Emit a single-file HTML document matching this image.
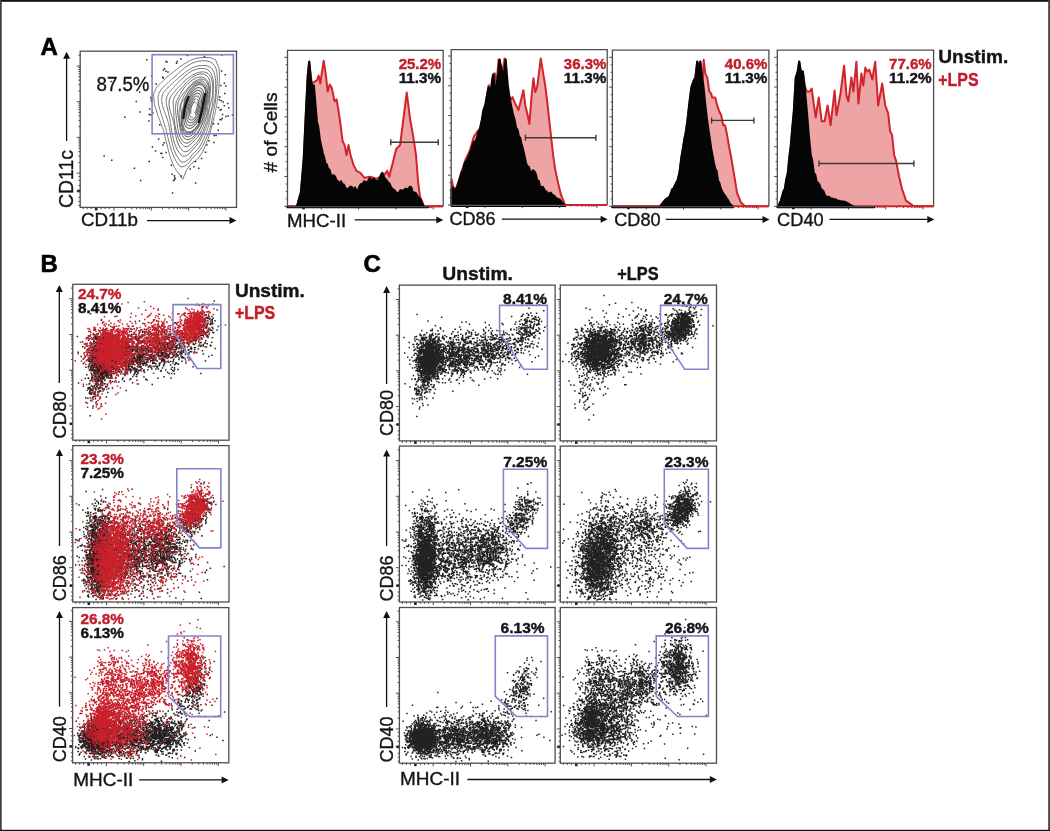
<!DOCTYPE html>
<html><head><meta charset="utf-8">
<style>
html,body{margin:0;padding:0;background:#fff;}
body{width:1050px;height:831px;overflow:hidden;position:relative;}
#cv{position:absolute;left:0;top:0;}
svg{position:absolute;left:0;top:0;filter:blur(0.35px);}
text{font-family:"Liberation Sans", sans-serif;}
</style></head><body>
<svg width="1050" height="831" viewBox="0 0 1050 831">
<rect x="0" y="0" width="1050" height="1.8" fill="#111"/>
<rect x="0" y="0" width="1.7" height="831" fill="#3f3f3f"/>
<rect x="1048.2" y="0" width="1.8" height="831" fill="#3f3f3f"/>
<rect x="0" y="829.8" width="1050" height="1.2" fill="#111"/>
<text x="40.5" y="55.3" font-size="24" fill="#000" font-weight="bold" stroke="#000" stroke-width="0.6">A</text>
<text x="40.6" y="272" font-size="24" fill="#000" font-weight="bold" stroke="#000" stroke-width="0.6">B</text>
<text x="363.5" y="272.3" font-size="24" fill="#000" font-weight="bold" stroke="#000" stroke-width="0.6">C</text>
<path d="M216.1 108L215.9 108.9L215.7 109.7L215.5 110.5L215.4 111.4L215.2 112.2L215 113L214.8 113.9L214.7 114.7L214.5 115.6L214.3 116.4L214.1 117.3L213.9 118.1L213.7 119L213.4 119.9L213.2 120.8L213 121.8L212.7 122.8L212.5 123.8L212.2 124.8L211.9 125.9L211.6 127.1L211.3 128.3L211 129.6L210.7 130.9L210.2 132.3L209.7 133.7L209.2 135.2L208.7 136.8L208.1 138.6L207.4 140.5L206.7 142.4L205.8 144.4L204.9 146.6L203.9 149L202.7 151.8L201.3 154L199.7 156.1L198 158.4L196.1 160.3L194 161.8L191.8 163.5L189.4 165.9L186.7 169.7L182.7 179.3L180.5 175.8L178.4 173L176.4 170.5L174.6 167.7L173.1 164.7L171.8 161.5L170.7 158.6L169.8 155.6L169 152.6L168.3 149.9L167.7 147.4L167.1 145L166.5 142.8L166 140.7L165.5 138.8L165.1 136.9L164.7 135.1L164.2 133.4L163.8 131.8L163.4 130.2L162.8 128.8L162.3 127.4L161.8 126L161.3 124.7L160.8 123.3L160.3 122L159.8 120.6L159.3 119.3L158.7 117.9L158.3 116.6L157.8 115.2L157.4 113.8L157 112.4L156.5 111L156.1 109.5L155.6 108L155.1 106.5L154.6 104.9L154.3 103.3L154.1 101.7L154 100L153.9 98.4L153.7 96.6L153.6 94.9L153.8 93.2L154.5 91.7L155.3 90.1L156 88.6L156.7 87.1L157.9 85.9L159.1 84.7L160.3 83.5L161.5 82.3L162.6 81.2L163.8 80L164.9 78.9L166 77.8L167.2 76.7L168.5 75.7L169.8 74.7L171.1 73.7L172.4 72.7L173.7 71.7L175 70.7L176.3 69.6L177.7 68.6L179.1 67.5L180.5 66.4L182 65.3L183.5 64.3L185.1 63.4L186.8 62.4L188.5 61.3L190.3 60.5L192.1 59.8L194 59L196 58.4L197.9 58.1L199.9 57.8L202 57.5L204.1 57.4L206.1 57.5L208.2 57.5L210.4 57.6L212.3 58.4L214.2 59.3L215.9 60.4L216.9 63L217.9 65.4L218.8 67.6L219.2 70.3L219.3 73.1L219.5 75.7L219.4 78.3L219.3 80.7L219.1 82.9L219 84.9L218.9 86.8L218.7 88.5L218.6 90.1L218.5 91.6L218.4 93.1L218.2 94.4L218 95.8L217.8 97L217.7 98.2L217.5 99.3L217.3 100.4L217.2 101.5L217.1 102.5L216.9 103.4L216.8 104.4L216.6 105.3L216.5 106.2L216.3 107.1Z" fill="none" stroke="#787878" stroke-width="1.0"/>
<path d="M214.3 108L214.1 108.8L213.9 109.6L213.7 110.3L213.6 111.1L213.4 111.9L213.3 112.6L213.1 113.4L213 114.2L212.8 115L212.7 115.8L212.6 116.6L212.4 117.4L212.3 118.2L212.1 119.1L212 120L211.8 120.9L211.6 121.9L211.4 122.9L211.2 123.9L210.9 124.9L210.7 126L210.4 127.2L210 128.3L209.6 129.5L209.2 130.8L208.7 132.1L208.2 133.4L207.7 134.8L207.1 136.3L206.4 137.9L205.7 139.6L204.8 141.4L204 143.3L203 145.3L201.8 147.3L200.6 149.4L199.1 151.3L197.5 153.1L195.8 154.8L194 156.5L192 158.5L189.8 161.9L187.3 164.4L184.8 166.1L182.3 166.9L179.9 166.6L178.2 164.2L176.5 161.7L175.1 159.3L173.8 156.7L172.8 154.1L171.8 151.5L171 149L170.3 146.6L169.7 144.3L169.1 142.2L168.6 140.2L168.1 138.3L167.7 136.5L167.3 134.7L166.9 133.1L166.5 131.5L166.1 130L165.7 128.5L165.3 127.2L164.9 125.8L164.5 124.5L164.1 123.2L163.7 122L163.3 120.7L162.9 119.5L162.5 118.2L162.1 117L161.7 115.7L161.4 114.5L161 113.2L160.6 112L160.2 110.7L159.9 109.3L159.5 108L159.1 106.6L158.7 105.2L158.5 103.8L158.3 102.3L158.2 100.9L158.1 99.4L158 97.9L158.2 96.4L158.5 94.9L158.9 93.5L159.6 92.1L160.3 90.8L161.2 89.6L162.1 88.5L163.1 87.4L164.2 86.4L165.3 85.3L166.3 84.4L167.3 83.4L168.4 82.4L169.4 81.4L170.5 80.4L171.5 79.5L172.6 78.5L173.7 77.6L174.8 76.7L175.9 75.7L177 74.7L178.1 73.6L179.3 72.5L180.5 71.4L181.8 70.3L183.1 69.2L184.4 68.1L185.9 67L187.3 66L188.9 65L190.5 64.1L192.2 63.2L194 62.5L195.8 61.9L197.7 61.4L199.6 61.1L201.5 60.9L203.4 60.8L205.3 60.8L207.2 61L209.1 61.5L210.9 62.2L212.5 63.3L213.9 64.9L215.1 66.7L216 68.8L216.6 71.2L217 73.6L217.2 76L217.3 78.5L217.2 80.8L217.2 83L217 85L216.9 86.9L216.7 88.6L216.6 90.2L216.5 91.7L216.4 93.1L216.2 94.4L216.1 95.6L216 96.8L215.9 97.9L215.7 99L215.6 100L215.5 101L215.3 102L215.2 102.9L215.1 103.8L214.9 104.7L214.8 105.5L214.6 106.4L214.5 107.2Z" fill="none" stroke="#747474" stroke-width="1.0"/>
<path d="M212.6 108L212.4 108.7L212.1 109.4L211.9 110.1L211.7 110.8L211.5 111.5L211.3 112.2L211.1 112.8L211 113.5L210.8 114.2L210.7 114.9L210.5 115.6L210.4 116.4L210.3 117.1L210.1 117.9L210 118.7L209.9 119.5L209.7 120.4L209.5 121.3L209.3 122.2L209.1 123.1L208.9 124.1L208.7 125.2L208.4 126.3L208.1 127.4L207.7 128.5L207.3 129.7L206.9 131L206.4 132.3L205.9 133.7L205.3 135.2L204.6 136.8L203.9 138.5L203.1 140.3L202.2 142.2L201.2 144.1L200 146.1L198.7 147.9L197.3 149.6L195.7 151.2L194 152.9L192.2 154.7L190.1 157.7L187.9 159.9L185.5 161.4L183.2 162.2L181.1 161.9L179.4 159.8L177.9 157.6L176.5 155.4L175.4 153L174.4 150.6L173.5 148.1L172.8 145.8L172.3 143.5L171.8 141.3L171.3 139.2L170.9 137.2L170.6 135.4L170.3 133.6L170 132L169.8 130.4L169.6 128.9L169.3 127.4L169.1 126.1L168.8 124.8L168.5 123.6L168.2 122.4L167.9 121.3L167.5 120.2L167.2 119.1L166.8 118L166.4 117L166 115.9L165.6 114.8L165.3 113.7L164.9 112.6L164.5 111.5L164 110.4L163.6 109.2L163.2 108L162.8 106.8L162.5 105.5L162.2 104.2L162 102.9L161.8 101.6L161.7 100.3L161.7 98.9L161.8 97.5L162.1 96.2L162.5 94.9L163 93.7L163.7 92.5L164.4 91.4L165.2 90.4L166.1 89.4L167.1 88.4L168 87.5L169 86.6L169.9 85.7L170.8 84.8L171.7 83.9L172.7 83L173.7 82.2L174.6 81.3L175.6 80.5L176.6 79.6L177.6 78.8L178.7 77.9L179.7 77L180.8 76L181.9 75.1L183 74.1L184.2 73.1L185.4 72.2L186.7 71.2L188 70.3L189.4 69.5L190.9 68.6L192.4 67.9L194 67.2L195.6 66.6L197.3 66.2L199 65.8L200.7 65.6L202.5 65.5L204.2 65.4L206 65.6L207.7 66L209.3 66.6L210.8 67.5L212 68.9L213.1 70.5L214 72.3L214.6 74.4L215.1 76.4L215.4 78.5L215.6 80.7L215.6 82.7L215.7 84.6L215.6 86.4L215.6 88L215.6 89.6L215.5 91L215.5 92.4L215.4 93.7L215.4 94.9L215.3 96.1L215.2 97.2L215 98.3L214.9 99.4L214.7 100.4L214.5 101.3L214.3 102.3L214.1 103.2L213.9 104L213.7 104.9L213.4 105.7L213.2 106.5L212.9 107.3Z" fill="none" stroke="#717171" stroke-width="1.0"/>
<path d="M211.8 108L211.6 108.7L211.4 109.4L211.2 110L211 110.7L210.8 111.3L210.6 112L210.4 112.6L210.3 113.3L210.1 113.9L209.9 114.6L209.7 115.3L209.6 115.9L209.4 116.6L209.2 117.3L209 118L208.8 118.8L208.6 119.5L208.4 120.3L208.2 121.1L207.9 121.9L207.7 122.8L207.4 123.7L207.1 124.6L206.8 125.6L206.4 126.6L206 127.6L205.6 128.7L205.1 129.9L204.6 131.1L204.1 132.4L203.5 133.8L202.9 135.2L202.1 136.8L201.3 138.4L200.4 140.1L199.4 141.8L198.2 143.5L196.9 145L195.5 146.5L194 148.1L192.3 150.1L190.5 152.2L188.5 154.2L186.5 155.6L184.4 156.2L182.5 155.9L180.8 154.7L179.4 152.9L178.1 151L177 149.1L176 147L175.2 144.9L174.5 142.9L173.9 140.9L173.3 138.9L172.9 137.1L172.5 135.3L172.1 133.6L171.8 132L171.6 130.4L171.3 128.9L171.1 127.5L170.9 126.2L170.8 124.9L170.6 123.7L170.4 122.5L170.2 121.3L170 120.2L169.8 119.2L169.6 118.1L169.4 117.1L169.2 116.1L169 115.1L168.7 114.1L168.5 113.1L168.3 112.1L168.1 111.1L167.8 110.1L167.5 109L167.3 108L167 106.9L166.8 105.9L166.6 104.8L166.4 103.6L166.3 102.5L166.2 101.3L166.2 100.2L166.3 99L166.5 97.9L166.8 96.7L167.3 95.7L167.8 94.6L168.4 93.6L169 92.7L169.7 91.8L170.5 90.9L171.2 90.1L172 89.2L172.7 88.4L173.5 87.5L174.3 86.6L175 85.8L175.8 85L176.7 84.1L177.5 83.3L178.3 82.4L179.2 81.6L180.1 80.7L181 79.8L181.9 78.8L182.9 77.9L183.9 76.9L185 76L186.1 75L187.3 74.1L188.5 73.2L189.8 72.3L191.1 71.5L192.5 70.7L194 70.1L195.5 69.5L197.1 69.1L198.6 68.7L200.3 68.5L201.9 68.5L203.5 68.5L205.1 68.8L206.6 69.3L208 70L209.3 71L210.4 72.3L211.4 73.9L212.1 75.7L212.7 77.6L213 79.5L213.3 81.5L213.4 83.4L213.4 85.3L213.4 87L213.4 88.6L213.3 90.2L213.3 91.6L213.2 92.8L213.2 94.1L213.2 95.2L213.1 96.3L213.1 97.3L213 98.3L213 99.2L212.9 100.2L212.9 101L212.8 101.9L212.7 102.7L212.6 103.5L212.5 104.3L212.4 105.1L212.3 105.8L212.1 106.6L211.9 107.3Z" fill="none" stroke="#6e6e6e" stroke-width="1.0"/>
<path d="M209.4 108L209.3 108.6L209.1 109.2L209 109.8L208.9 110.4L208.8 110.9L208.7 111.5L208.6 112.1L208.6 112.7L208.5 113.3L208.4 114L208.3 114.6L208.2 115.2L208.1 115.9L208 116.6L207.8 117.2L207.7 117.9L207.5 118.6L207.3 119.4L207.1 120.1L206.9 120.9L206.6 121.7L206.4 122.5L206.1 123.3L205.8 124.2L205.5 125.2L205.1 126.1L204.7 127.2L204.3 128.2L203.9 129.4L203.4 130.6L202.8 131.9L202.2 133.3L201.6 134.8L200.8 136.3L199.9 137.9L199 139.4L197.9 140.9L196.7 142.4L195.4 143.8L194 145.2L192.5 146.8L190.8 148.6L189 150.3L187.1 151.4L185.3 151.8L183.6 151.4L182.1 150.3L180.8 148.7L179.6 146.9L178.7 145L177.8 143.1L177.1 141.1L176.6 139.1L176.1 137.2L175.7 135.4L175.4 133.6L175.1 131.9L174.9 130.4L174.7 128.9L174.5 127.5L174.3 126.2L174.1 125L173.9 123.8L173.7 122.7L173.5 121.7L173.2 120.7L173 119.8L172.7 118.9L172.4 118L172.1 117.1L171.8 116.2L171.5 115.3L171.2 114.4L170.9 113.5L170.6 112.6L170.4 111.7L170.1 110.8L169.9 109.9L169.7 109L169.5 108L169.3 107L169.2 106L169.1 105.1L169 104L169.1 103L169.1 102L169.2 101L169.4 100L169.6 99L170 98.1L170.4 97.1L170.9 96.2L171.5 95.4L172.1 94.6L172.7 93.8L173.4 93L174 92.3L174.7 91.5L175.3 90.8L176 90L176.6 89.2L177.3 88.5L178 87.7L178.7 87L179.4 86.2L180.2 85.5L180.9 84.7L181.7 83.9L182.5 83.1L183.3 82.3L184.2 81.4L185.1 80.6L186 79.7L187 78.9L188 78.1L189.1 77.2L190.3 76.4L191.5 75.6L192.7 74.9L194 74.2L195.4 73.5L196.8 73L198.2 72.5L199.7 72.2L201.2 72L202.7 71.9L204.1 72L205.6 72.3L207 72.9L208.2 73.7L209.3 74.8L210.3 76.1L211 77.6L211.6 79.2L212.1 81L212.4 82.7L212.6 84.4L212.7 86.1L212.7 87.7L212.7 89.3L212.7 90.7L212.6 92.1L212.6 93.4L212.5 94.6L212.4 95.7L212.2 96.8L212 97.9L211.9 98.9L211.7 99.9L211.4 100.8L211.2 101.7L211 102.5L210.8 103.3L210.5 104L210.3 104.8L210.1 105.4L209.9 106.1L209.7 106.8L209.6 107.4Z" fill="none" stroke="#6a6a6a" stroke-width="1.0"/>
<path d="M209.3 108L209.2 108.6L209.1 109.2L209 109.8L208.8 110.3L208.6 110.9L208.5 111.5L208.3 112L208.1 112.6L207.9 113.1L207.7 113.7L207.5 114.2L207.3 114.8L207.1 115.3L206.9 115.9L206.7 116.5L206.5 117.1L206.3 117.7L206.1 118.3L205.9 119L205.7 119.7L205.5 120.4L205.2 121.2L205 121.9L204.7 122.7L204.4 123.6L204.1 124.5L203.7 125.4L203.4 126.4L202.9 127.4L202.5 128.4L202 129.6L201.4 130.7L200.8 132L200.1 133.3L199.3 134.6L198.4 135.9L197.5 137.2L196.4 138.4L195.2 139.6L194 140.8L192.7 142.3L191.2 143.8L189.6 145.2L187.9 146.2L186.3 146.7L184.8 146.5L183.4 145.6L182.2 144.4L181.1 143L180.1 141.6L179.2 140L178.5 138.4L177.9 136.8L177.3 135.2L176.9 133.6L176.5 132.1L176.1 130.7L175.8 129.3L175.5 128L175.3 126.7L175.1 125.5L174.9 124.3L174.7 123.2L174.6 122.1L174.4 121.1L174.3 120.1L174.2 119.1L174.1 118.1L174 117.2L174 116.3L173.9 115.4L173.9 114.5L173.9 113.7L173.8 112.8L173.8 112L173.8 111.2L173.7 110.4L173.7 109.6L173.6 108.8L173.5 108L173.4 107.2L173.4 106.4L173.3 105.5L173.2 104.7L173.2 103.9L173.2 103L173.2 102.1L173.2 101.2L173.3 100.4L173.5 99.5L173.8 98.7L174.1 97.9L174.5 97.1L174.9 96.3L175.4 95.6L175.9 94.9L176.4 94.1L177 93.4L177.5 92.7L178 92L178.6 91.3L179.2 90.6L179.8 90L180.4 89.3L181 88.6L181.7 87.9L182.3 87.1L183 86.4L183.7 85.6L184.4 84.8L185.1 84L185.9 83.1L186.7 82.2L187.6 81.3L188.5 80.4L189.5 79.5L190.5 78.7L191.6 77.8L192.8 77L194 76.2L195.3 75.5L196.6 75L198 74.5L199.4 74.2L200.8 74L202.2 74L203.5 74.2L204.8 74.6L206.1 75.3L207.2 76.2L208.1 77.4L208.9 78.8L209.5 80.4L209.9 82L210.2 83.8L210.4 85.5L210.5 87.1L210.4 88.7L210.4 90.3L210.3 91.7L210.2 93L210.1 94.2L210.1 95.3L210 96.4L209.9 97.4L209.9 98.3L209.8 99.1L209.8 100L209.7 100.7L209.7 101.5L209.7 102.2L209.7 102.9L209.7 103.6L209.7 104.2L209.6 104.9L209.6 105.5L209.6 106.2L209.5 106.8L209.4 107.4Z" fill="none" stroke="#676767" stroke-width="1.0"/>
<path d="M207.7 108L207.6 108.5L207.6 109.1L207.5 109.6L207.5 110.1L207.5 110.7L207.4 111.2L207.3 111.8L207.3 112.3L207.2 112.9L207.1 113.4L206.9 114L206.8 114.5L206.6 115.1L206.4 115.6L206.2 116.2L206 116.7L205.8 117.3L205.5 117.8L205.2 118.4L204.9 118.9L204.7 119.5L204.4 120.1L204 120.7L203.7 121.4L203.4 122.1L203 122.8L202.7 123.5L202.3 124.3L201.9 125.2L201.5 126.1L201.1 127.1L200.6 128.2L200 129.3L199.4 130.5L198.7 131.8L198 133L197.1 134.3L196.2 135.5L195.1 136.8L194 138.1L192.8 139.4L191.4 140.7L190 141.8L188.5 142.7L187 143.1L185.6 143L184.3 142.5L183.1 141.6L182.1 140.4L181.2 139L180.4 137.6L179.7 136.1L179.2 134.5L178.7 133L178.3 131.5L178 130L177.8 128.6L177.6 127.3L177.4 126L177.2 124.8L177.1 123.6L177 122.5L176.9 121.5L176.8 120.5L176.6 119.6L176.5 118.7L176.4 117.9L176.3 117L176.2 116.2L176.1 115.4L176 114.7L175.9 113.9L175.8 113.1L175.7 112.4L175.7 111.7L175.6 110.9L175.6 110.2L175.5 109.5L175.5 108.7L175.5 108L175.6 107.3L175.6 106.6L175.6 105.8L175.7 105.1L175.8 104.4L175.9 103.7L176.1 102.9L176.2 102.2L176.4 101.5L176.7 100.8L177 100.1L177.3 99.5L177.6 98.8L178 98.2L178.3 97.5L178.7 96.9L179.1 96.2L179.4 95.5L179.8 94.9L180.2 94.2L180.6 93.5L181 92.7L181.4 92L181.8 91.3L182.3 90.5L182.8 89.8L183.4 89L183.9 88.2L184.5 87.4L185.2 86.7L185.8 85.9L186.5 85.1L187.3 84.3L188.1 83.5L189 82.7L189.9 81.9L190.8 81.1L191.8 80.4L192.9 79.7L194 79L195.2 78.4L196.4 77.9L197.6 77.5L198.9 77.2L200.1 77.1L201.4 77.1L202.7 77.3L203.8 77.7L204.9 78.3L205.9 79.2L206.8 80.2L207.6 81.4L208.2 82.7L208.6 84.1L209 85.6L209.2 87.1L209.4 88.5L209.5 89.9L209.5 91.3L209.5 92.5L209.4 93.7L209.4 94.8L209.3 95.9L209.3 96.9L209.2 97.9L209.1 98.8L209 99.6L208.8 100.4L208.7 101.2L208.6 102L208.5 102.7L208.3 103.3L208.2 104L208.1 104.6L208 105.2L208 105.8L207.9 106.4L207.8 106.9L207.7 107.5Z" fill="none" stroke="#646464" stroke-width="1.0"/>
<path d="M206.4 108L206.4 108.5L206.3 109L206.2 109.4L206.1 109.9L206 110.4L206 110.9L205.9 111.3L205.8 111.8L205.6 112.3L205.5 112.8L205.4 113.2L205.2 113.7L205.1 114.2L204.9 114.7L204.8 115.2L204.6 115.7L204.4 116.2L204.3 116.8L204.1 117.3L203.9 117.9L203.7 118.5L203.5 119.2L203.3 119.8L203.1 120.6L202.9 121.3L202.6 122.1L202.3 122.9L202 123.7L201.7 124.6L201.3 125.6L200.8 126.5L200.4 127.6L199.8 128.6L199.2 129.7L198.5 130.8L197.8 131.9L197 133L196 134L195.1 135L194 136.1L192.9 137.1L191.6 138.1L190.3 138.9L189 139.5L187.7 139.7L186.4 139.5L185.3 138.9L184.2 138.1L183.3 136.9L182.5 135.7L181.9 134.4L181.3 133L180.8 131.5L180.4 130.1L180.1 128.8L179.9 127.5L179.6 126.2L179.5 125L179.3 123.9L179.1 122.9L179 121.9L178.9 120.9L178.7 120L178.6 119.2L178.5 118.4L178.3 117.6L178.2 116.9L178.1 116.1L177.9 115.4L177.8 114.7L177.7 114L177.6 113.3L177.6 112.6L177.5 112L177.5 111.3L177.5 110.6L177.5 110L177.5 109.3L177.5 108.6L177.5 108L177.5 107.4L177.6 106.7L177.6 106.1L177.7 105.4L177.8 104.8L177.8 104.1L178 103.5L178.1 102.8L178.2 102.2L178.4 101.6L178.7 100.9L178.9 100.3L179.2 99.7L179.5 99.1L179.8 98.5L180.2 98L180.5 97.4L180.9 96.8L181.3 96.2L181.7 95.7L182.1 95.1L182.5 94.5L182.9 94L183.4 93.4L183.9 92.8L184.3 92.2L184.8 91.7L185.4 91.1L185.9 90.4L186.5 89.8L187 89.1L187.6 88.4L188.3 87.7L188.9 86.9L189.6 86.1L190.4 85.3L191.2 84.5L192.1 83.7L193 82.8L194 82L195.1 81.3L196.2 80.6L197.3 80L198.5 79.5L199.7 79.2L201 79L202.2 79.1L203.3 79.3L204.4 79.8L205.4 80.5L206.2 81.5L207 82.5L207.6 83.8L208 85.1L208.4 86.4L208.7 87.8L208.8 89.2L208.9 90.6L208.9 91.9L208.9 93.1L208.8 94.3L208.7 95.4L208.6 96.5L208.5 97.5L208.3 98.4L208.2 99.3L208 100.2L207.8 100.9L207.7 101.7L207.5 102.4L207.4 103.1L207.2 103.7L207.1 104.3L207 104.9L206.9 105.4L206.8 106L206.7 106.5L206.6 107L206.5 107.5Z" fill="none" stroke="#606060" stroke-width="1.0"/>
<path d="M205.8 108L205.9 108.5L205.9 108.9L205.9 109.4L205.8 109.9L205.8 110.4L205.8 110.8L205.7 111.3L205.7 111.8L205.6 112.3L205.5 112.7L205.3 113.2L205.2 113.7L205 114.2L204.8 114.6L204.6 115.1L204.4 115.5L204.2 116L203.9 116.5L203.7 116.9L203.4 117.4L203.2 117.9L202.9 118.4L202.6 119L202.4 119.5L202.1 120.1L201.8 120.7L201.5 121.4L201.2 122.1L200.8 122.8L200.4 123.6L200.1 124.4L199.6 125.3L199.1 126.2L198.6 127.2L198 128.1L197.3 129.1L196.6 130.2L195.8 131.1L194.9 132.1L194 133.1L193 134.1L191.9 135L190.7 135.8L189.5 136.4L188.3 136.7L187.1 136.6L186 136.3L185 135.6L184.1 134.7L183.3 133.7L182.7 132.6L182.1 131.4L181.6 130.1L181.2 128.9L180.9 127.6L180.6 126.4L180.4 125.2L180.2 124.1L180.1 123.1L179.9 122.1L179.8 121.1L179.7 120.2L179.6 119.4L179.5 118.6L179.4 117.8L179.3 117L179.2 116.3L179.1 115.6L179.1 114.9L179 114.2L179 113.5L179 112.9L179 112.2L179.1 111.6L179.1 111L179.2 110.3L179.3 109.7L179.4 109.1L179.5 108.6L179.6 108L179.8 107.4L179.9 106.9L180.1 106.4L180.2 105.8L180.4 105.3L180.5 104.8L180.7 104.2L180.8 103.7L181 103.2L181.2 102.7L181.4 102.2L181.6 101.7L181.8 101.2L182 100.6L182.2 100.1L182.4 99.6L182.6 99L182.8 98.5L183.1 97.9L183.3 97.3L183.6 96.7L183.8 96.1L184.1 95.5L184.5 94.9L184.8 94.3L185.2 93.6L185.6 93L186 92.3L186.4 91.6L186.9 90.9L187.4 90.2L188 89.5L188.6 88.8L189.2 88L189.9 87.2L190.6 86.4L191.4 85.7L192.2 84.9L193.1 84.1L194 83.4L195 82.7L196 82L197.1 81.5L198.3 81.1L199.4 80.9L200.5 80.8L201.6 80.9L202.7 81.3L203.7 81.8L204.5 82.6L205.3 83.5L205.9 84.6L206.5 85.8L206.9 87L207.2 88.3L207.4 89.6L207.5 90.9L207.6 92.1L207.6 93.3L207.5 94.5L207.5 95.5L207.4 96.6L207.3 97.5L207.1 98.5L207 99.3L206.9 100.1L206.7 100.9L206.6 101.6L206.4 102.3L206.3 102.9L206.2 103.5L206.1 104.1L206 104.6L206 105.1L205.9 105.6L205.9 106.1L205.9 106.6L205.8 107.1L205.8 107.5Z" fill="none" stroke="#5d5d5d" stroke-width="1.0"/>
<path d="M204.7 108L204.6 108.4L204.4 108.8L204.3 109.2L204.2 109.6L204 110L204 110.4L203.9 110.8L203.8 111.2L203.8 111.6L203.7 112L203.7 112.5L203.7 112.9L203.6 113.4L203.6 113.9L203.5 114.4L203.4 114.9L203.4 115.4L203.3 115.9L203.1 116.4L203 117L202.8 117.5L202.6 118.1L202.4 118.7L202.2 119.3L201.9 119.9L201.6 120.5L201.3 121.1L201 121.7L200.6 122.4L200.2 123.1L199.8 123.8L199.4 124.6L198.9 125.3L198.4 126.2L197.8 127L197.1 127.9L196.5 128.7L195.7 129.6L194.9 130.5L194 131.4L193 132.3L192 133.1L191 133.7L189.8 134.2L188.7 134.5L187.6 134.5L186.6 134.3L185.6 133.8L184.7 133.1L184 132.2L183.3 131.2L182.8 130L182.3 128.8L182 127.6L181.7 126.4L181.5 125.2L181.4 124L181.3 122.9L181.2 121.8L181.2 120.8L181.2 119.8L181.2 118.9L181.2 118.1L181.3 117.3L181.3 116.5L181.3 115.8L181.3 115.1L181.3 114.5L181.3 113.9L181.3 113.3L181.2 112.7L181.2 112.2L181.1 111.6L181.1 111.1L181 110.6L181 110.1L180.9 109.6L180.8 109L180.8 108.5L180.8 108L180.8 107.5L180.8 107L180.8 106.4L180.9 105.9L180.9 105.4L181 104.9L181.2 104.4L181.4 103.9L181.6 103.4L181.8 102.9L182 102.5L182.3 102L182.6 101.6L182.9 101.2L183.2 100.8L183.5 100.3L183.8 99.9L184.1 99.5L184.3 99.1L184.6 98.6L184.9 98.2L185.2 97.7L185.5 97.2L185.8 96.7L186.1 96.1L186.4 95.6L186.7 95L187 94.3L187.4 93.7L187.8 93L188.2 92.3L188.6 91.5L189.1 90.8L189.7 90L190.3 89.2L190.9 88.3L191.6 87.5L192.3 86.7L193.1 85.9L194 85.1L194.9 84.4L195.9 83.8L196.9 83.3L198 82.9L199 82.6L200.1 82.6L201.1 82.7L202.1 83.1L203 83.6L203.8 84.3L204.5 85.2L205.1 86.2L205.6 87.3L206 88.4L206.3 89.5L206.6 90.7L206.8 91.8L206.9 92.9L207 93.9L207.1 94.9L207.1 95.9L207.2 96.8L207.2 97.6L207.1 98.5L207.1 99.2L207 100L207 100.7L206.9 101.4L206.7 102.1L206.6 102.8L206.4 103.4L206.3 104L206.1 104.6L205.9 105.1L205.7 105.7L205.5 106.2L205.3 106.7L205.1 107.1L204.9 107.6Z" fill="none" stroke="#5a5a5a" stroke-width="1.0"/>
<path d="M205.2 108L205.2 108.4L205.2 108.9L205.1 109.3L205.1 109.8L205 110.2L204.9 110.6L204.8 111L204.6 111.5L204.5 111.9L204.3 112.3L204.1 112.7L203.9 113.1L203.7 113.4L203.5 113.8L203.2 114.2L203 114.5L202.8 114.9L202.5 115.3L202.3 115.7L202.1 116.1L201.8 116.5L201.6 116.9L201.4 117.3L201.1 117.8L200.9 118.3L200.7 118.9L200.4 119.5L200.2 120.1L199.9 120.7L199.6 121.4L199.2 122.2L198.9 123L198.4 123.8L198 124.6L197.5 125.5L196.9 126.4L196.3 127.3L195.6 128.2L194.8 129.1L194 130L193.1 130.8L192.1 131.6L191.1 132.2L190.1 132.6L189 132.9L188 132.9L187 132.7L186.1 132.3L185.3 131.7L184.5 130.9L183.9 130L183.3 128.9L182.9 127.9L182.5 126.8L182.2 125.6L182 124.5L181.8 123.5L181.7 122.4L181.6 121.5L181.5 120.5L181.4 119.6L181.4 118.8L181.3 118L181.3 117.2L181.3 116.5L181.3 115.8L181.4 115.1L181.4 114.4L181.5 113.8L181.5 113.2L181.6 112.6L181.7 112L181.9 111.4L182 110.9L182.1 110.4L182.3 109.9L182.5 109.4L182.6 108.9L182.8 108.4L183 108L183.1 107.6L183.3 107.2L183.4 106.7L183.5 106.3L183.7 105.9L183.8 105.5L183.9 105.1L184 104.7L184 104.3L184.1 103.9L184.2 103.5L184.2 103L184.3 102.6L184.4 102.1L184.5 101.6L184.6 101.1L184.7 100.6L184.8 100.1L184.9 99.6L185 99L185.2 98.5L185.4 97.9L185.6 97.4L185.9 96.8L186.2 96.3L186.5 95.7L186.8 95.1L187.1 94.5L187.5 93.9L187.9 93.3L188.4 92.7L188.8 92L189.3 91.4L189.8 90.7L190.4 90L191 89.3L191.7 88.6L192.4 87.8L193.2 87.1L194 86.4L194.9 85.7L195.8 85.1L196.8 84.5L197.8 84.1L198.8 83.9L199.8 83.8L200.8 84L201.7 84.3L202.5 84.8L203.3 85.5L204 86.4L204.5 87.4L205 88.4L205.3 89.5L205.6 90.7L205.8 91.8L205.9 92.9L206 94L206 95L206 96L206 96.9L206 97.8L205.9 98.6L205.8 99.4L205.7 100.2L205.7 100.9L205.6 101.5L205.5 102.1L205.4 102.7L205.4 103.3L205.3 103.8L205.3 104.3L205.2 104.8L205.2 105.3L205.2 105.8L205.2 106.2L205.2 106.7L205.2 107.1L205.2 107.6Z" fill="none" stroke="#565656" stroke-width="1.0"/>
<path d="M204.5 108L204.4 108.4L204.3 108.8L204.2 109.2L204.1 109.6L203.9 110L203.8 110.4L203.7 110.7L203.5 111.1L203.4 111.5L203.2 111.8L203 112.2L202.9 112.5L202.7 112.9L202.5 113.2L202.4 113.6L202.2 114L202.1 114.4L201.9 114.8L201.8 115.2L201.6 115.6L201.5 116.1L201.3 116.6L201.2 117.1L201 117.6L200.8 118.2L200.6 118.8L200.4 119.5L200.2 120.1L199.9 120.9L199.6 121.6L199.3 122.4L198.9 123.1L198.5 123.9L198 124.8L197.5 125.6L196.9 126.4L196.3 127.3L195.6 128.1L194.8 128.9L194 129.7L193.1 130.4L192.2 131L191.2 131.5L190.2 131.8L189.2 132L188.2 132L187.3 131.7L186.4 131.3L185.7 130.6L185 129.8L184.4 128.8L183.9 127.8L183.5 126.7L183.2 125.6L183 124.5L182.8 123.4L182.7 122.4L182.6 121.4L182.5 120.4L182.5 119.5L182.5 118.7L182.5 117.9L182.5 117.1L182.5 116.4L182.5 115.7L182.5 115.1L182.5 114.4L182.5 113.8L182.6 113.3L182.6 112.7L182.7 112.2L182.7 111.7L182.8 111.2L182.9 110.7L182.9 110.2L183 109.7L183.1 109.3L183.2 108.9L183.3 108.4L183.4 108L183.5 107.6L183.6 107.2L183.6 106.8L183.7 106.4L183.8 106L183.9 105.6L183.9 105.2L184 104.8L184.1 104.3L184.2 103.9L184.2 103.5L184.3 103.1L184.4 102.6L184.5 102.2L184.7 101.8L184.8 101.3L184.9 100.9L185.1 100.4L185.3 100L185.5 99.5L185.7 99.1L186 98.6L186.2 98.1L186.5 97.7L186.8 97.2L187.1 96.8L187.4 96.3L187.8 95.8L188.1 95.3L188.5 94.8L188.9 94.2L189.3 93.6L189.8 93L190.2 92.4L190.8 91.7L191.3 90.9L191.9 90.2L192.5 89.4L193.2 88.6L194 87.8L194.8 87.1L195.7 86.4L196.6 85.7L197.6 85.3L198.6 84.9L199.6 84.7L200.5 84.8L201.5 85L202.3 85.5L203.1 86.1L203.8 86.8L204.3 87.7L204.8 88.7L205.2 89.7L205.5 90.8L205.8 91.8L205.9 92.9L206.1 93.9L206.1 94.9L206.2 95.8L206.2 96.8L206.1 97.6L206.1 98.5L206 99.3L205.9 100L205.8 100.7L205.7 101.4L205.6 102.1L205.5 102.7L205.4 103.3L205.3 103.8L205.2 104.4L205.1 104.9L205 105.4L204.9 105.8L204.8 106.3L204.8 106.7L204.7 107.2L204.6 107.6Z" fill="none" stroke="#535353" stroke-width="1.0"/>
<path d="M203.1 108L203 108.4L202.9 108.7L202.8 109L202.7 109.4L202.7 109.7L202.6 110.1L202.5 110.4L202.4 110.7L202.3 111.1L202.2 111.4L202.1 111.7L202 112.1L201.9 112.4L201.7 112.7L201.6 113.1L201.5 113.4L201.4 113.8L201.2 114.2L201.1 114.5L200.9 114.9L200.8 115.3L200.6 115.7L200.4 116.2L200.2 116.6L200 117L199.8 117.5L199.6 118L199.3 118.5L199.1 119L198.8 119.6L198.5 120.1L198.1 120.7L197.8 121.4L197.4 122L196.9 122.7L196.4 123.3L195.9 124L195.3 124.7L194.7 125.4L194 126.1L193.3 126.7L192.5 127.3L191.7 127.8L190.8 128.2L189.9 128.4L189.1 128.4L188.3 128.3L187.5 128L186.8 127.6L186.2 126.9L185.6 126.2L185.1 125.4L184.8 124.5L184.5 123.6L184.2 122.6L184.1 121.7L183.9 120.8L183.8 119.9L183.8 119.1L183.7 118.3L183.7 117.5L183.7 116.8L183.8 116.1L183.8 115.4L183.8 114.8L183.9 114.2L183.9 113.6L184 113.1L184.1 112.6L184.1 112.1L184.2 111.6L184.3 111.2L184.4 110.7L184.4 110.3L184.5 109.9L184.6 109.5L184.7 109.1L184.7 108.7L184.8 108.4L184.9 108L185 107.6L185.1 107.3L185.2 107L185.3 106.6L185.3 106.3L185.4 105.9L185.5 105.6L185.6 105.3L185.7 104.9L185.8 104.6L185.9 104.3L186 103.9L186.1 103.6L186.3 103.3L186.4 102.9L186.5 102.6L186.6 102.2L186.8 101.8L186.9 101.5L187.1 101.1L187.2 100.7L187.4 100.3L187.6 99.8L187.8 99.4L188 99L188.2 98.5L188.4 98L188.7 97.5L188.9 97L189.2 96.4L189.5 95.9L189.9 95.3L190.2 94.6L190.6 94L191.1 93.3L191.6 92.7L192.1 92L192.7 91.3L193.3 90.6L194 89.9L194.7 89.3L195.5 88.7L196.3 88.2L197.2 87.8L198.1 87.6L198.9 87.6L199.7 87.7L200.5 88L201.2 88.4L201.8 89.1L202.4 89.8L202.9 90.6L203.2 91.5L203.5 92.4L203.8 93.4L203.9 94.3L204.1 95.2L204.2 96.1L204.2 96.9L204.3 97.7L204.3 98.5L204.3 99.2L204.2 99.9L204.2 100.6L204.2 101.2L204.1 101.8L204.1 102.4L204 102.9L203.9 103.4L203.9 103.9L203.8 104.4L203.7 104.8L203.6 105.3L203.6 105.7L203.5 106.1L203.4 106.5L203.3 106.9L203.3 107.3L203.2 107.6Z" fill="none" stroke="#6a6a6a" stroke-width="1.1"/>
<path d="M201.9 108L201.8 108.3L201.7 108.6L201.6 108.9L201.6 109.2L201.5 109.5L201.4 109.8L201.3 110.1L201.2 110.3L201.1 110.6L201.1 110.9L201 111.2L200.9 111.5L200.8 111.8L200.7 112.1L200.6 112.4L200.5 112.7L200.4 113L200.2 113.3L200.1 113.7L200 114L199.9 114.3L199.7 114.7L199.6 115L199.4 115.4L199.2 115.8L199 116.2L198.8 116.6L198.6 117.1L198.4 117.5L198.1 118L197.9 118.5L197.6 119L197.3 119.5L196.9 120.1L196.5 120.7L196.1 121.2L195.6 121.8L195.1 122.4L194.6 123L194 123.6L193.4 124.2L192.7 124.7L192 125.1L191.2 125.4L190.5 125.6L189.8 125.7L189 125.6L188.4 125.3L187.8 124.9L187.2 124.4L186.8 123.7L186.4 123L186 122.2L185.8 121.4L185.6 120.6L185.4 119.8L185.3 119L185.2 118.3L185.2 117.6L185.1 116.9L185.1 116.2L185.1 115.6L185.2 115L185.2 114.4L185.2 113.9L185.3 113.4L185.3 112.9L185.4 112.4L185.4 112L185.5 111.5L185.5 111.1L185.6 110.7L185.7 110.3L185.7 110L185.8 109.6L185.9 109.3L185.9 109L186 108.6L186.1 108.3L186.1 108L186.2 107.7L186.3 107.4L186.4 107.1L186.4 106.8L186.5 106.5L186.6 106.2L186.7 105.9L186.8 105.7L186.9 105.4L186.9 105.1L187 104.8L187.1 104.5L187.2 104.2L187.3 103.9L187.4 103.6L187.5 103.3L187.6 103L187.8 102.7L187.9 102.3L188 102L188.1 101.7L188.3 101.3L188.4 101L188.6 100.6L188.8 100.2L189 99.8L189.2 99.4L189.4 98.9L189.6 98.5L189.9 98L190.1 97.5L190.4 97L190.7 96.5L191.1 95.9L191.5 95.3L191.9 94.8L192.4 94.2L192.9 93.6L193.4 93L194 92.4L194.6 91.8L195.3 91.3L196 90.9L196.8 90.6L197.5 90.4L198.2 90.3L199 90.4L199.6 90.7L200.2 91.1L200.8 91.6L201.2 92.3L201.6 93L202 93.8L202.2 94.6L202.4 95.4L202.6 96.2L202.7 97L202.8 97.7L202.8 98.4L202.9 99.1L202.9 99.8L202.9 100.4L202.8 101L202.8 101.6L202.8 102.1L202.7 102.6L202.7 103.1L202.6 103.6L202.6 104L202.5 104.5L202.5 104.9L202.4 105.3L202.3 105.7L202.3 106L202.2 106.4L202.1 106.7L202.1 107L202 107.4L201.9 107.7Z" fill="none" stroke="#6a6a6a" stroke-width="1.1"/>
<path d="M200.6 108L200.5 108.3L200.5 108.5L200.4 108.8L200.4 109L200.3 109.3L200.2 109.5L200.2 109.7L200.1 110L200 110.2L199.9 110.5L199.9 110.7L199.8 111L199.7 111.2L199.6 111.4L199.5 111.7L199.4 112L199.4 112.2L199.3 112.5L199.2 112.8L199 113L198.9 113.3L198.8 113.6L198.7 113.9L198.5 114.2L198.4 114.6L198.2 114.9L198.1 115.3L197.9 115.6L197.7 116L197.5 116.4L197.3 116.8L197 117.3L196.7 117.7L196.4 118.2L196.1 118.7L195.8 119.2L195.4 119.7L195 120.2L194.5 120.7L194 121.2L193.5 121.6L192.9 122L192.3 122.4L191.7 122.7L191.1 122.8L190.4 122.9L189.8 122.8L189.3 122.6L188.8 122.2L188.3 121.8L187.9 121.2L187.6 120.6L187.3 120L187.1 119.3L186.9 118.6L186.8 118L186.7 117.3L186.6 116.7L186.6 116L186.5 115.5L186.5 114.9L186.5 114.4L186.6 113.9L186.6 113.4L186.6 112.9L186.6 112.5L186.7 112.1L186.7 111.7L186.8 111.3L186.8 111L186.9 110.6L186.9 110.3L187 110L187 109.7L187.1 109.4L187.2 109.1L187.2 108.8L187.3 108.5L187.3 108.3L187.4 108L187.5 107.7L187.5 107.5L187.6 107.2L187.6 107L187.7 106.7L187.8 106.5L187.8 106.3L187.9 106L188 105.8L188.1 105.5L188.1 105.3L188.2 105L188.3 104.8L188.4 104.6L188.5 104.3L188.6 104L188.6 103.8L188.7 103.5L188.8 103.2L189 103L189.1 102.7L189.2 102.4L189.3 102.1L189.5 101.8L189.6 101.4L189.8 101.1L189.9 100.7L190.1 100.4L190.3 100L190.5 99.6L190.7 99.2L191 98.7L191.3 98.3L191.6 97.8L191.9 97.3L192.2 96.8L192.6 96.3L193 95.8L193.5 95.3L194 94.8L194.5 94.4L195.1 94L195.7 93.6L196.3 93.3L196.9 93.2L197.6 93.1L198.2 93.2L198.7 93.4L199.2 93.8L199.7 94.2L200.1 94.8L200.4 95.4L200.7 96L200.9 96.7L201.1 97.4L201.2 98L201.3 98.7L201.4 99.3L201.4 100L201.5 100.5L201.5 101.1L201.5 101.6L201.4 102.1L201.4 102.6L201.4 103.1L201.4 103.5L201.3 103.9L201.3 104.3L201.2 104.7L201.2 105L201.1 105.4L201.1 105.7L201 106L201 106.3L200.9 106.6L200.8 106.9L200.8 107.2L200.7 107.5L200.7 107.7Z" fill="none" stroke="#6a6a6a" stroke-width="1.1"/>
<path d="M199.4 108L199.3 108.2L199.3 108.4L199.2 108.6L199.2 108.8L199.1 109L199.1 109.2L199 109.4L198.9 109.6L198.9 109.8L198.8 110L198.8 110.2L198.7 110.4L198.6 110.6L198.6 110.8L198.5 111L198.4 111.2L198.3 111.4L198.3 111.6L198.2 111.9L198.1 112.1L198 112.3L197.9 112.6L197.8 112.8L197.7 113.1L197.6 113.3L197.4 113.6L197.3 113.9L197.2 114.2L197 114.5L196.8 114.8L196.6 115.2L196.4 115.5L196.2 115.9L196 116.3L195.7 116.7L195.4 117.1L195.1 117.5L194.8 117.9L194.4 118.3L194 118.7L193.6 119.1L193.1 119.4L192.6 119.7L192.1 119.9L191.6 120L191.1 120.1L190.6 120L190.2 119.8L189.7 119.6L189.4 119.2L189 118.8L188.8 118.3L188.5 117.7L188.4 117.2L188.2 116.6L188.1 116.1L188 115.6L188 115L188 114.5L187.9 114.1L187.9 113.6L187.9 113.2L188 112.8L188 112.4L188 112L188 111.7L188.1 111.3L188.1 111L188.1 110.7L188.2 110.4L188.2 110.1L188.3 109.9L188.3 109.6L188.3 109.4L188.4 109.1L188.4 108.9L188.5 108.7L188.5 108.4L188.6 108.2L188.6 108L188.7 107.8L188.7 107.6L188.8 107.4L188.8 107.2L188.9 107L188.9 106.8L189 106.6L189.1 106.4L189.1 106.2L189.2 106L189.2 105.8L189.3 105.6L189.4 105.4L189.4 105.2L189.5 105L189.6 104.8L189.7 104.6L189.7 104.4L189.8 104.1L189.9 103.9L190 103.7L190.1 103.4L190.2 103.2L190.3 102.9L190.4 102.7L190.6 102.4L190.7 102.1L190.8 101.8L191 101.5L191.2 101.2L191.4 100.8L191.6 100.5L191.8 100.1L192 99.7L192.3 99.3L192.6 98.9L192.9 98.5L193.2 98.1L193.6 97.7L194 97.3L194.4 96.9L194.9 96.6L195.4 96.3L195.9 96.1L196.4 96L196.9 95.9L197.4 96L197.8 96.2L198.3 96.4L198.6 96.8L199 97.2L199.2 97.7L199.5 98.3L199.6 98.8L199.8 99.4L199.9 99.9L200 100.4L200 101L200 101.5L200.1 101.9L200.1 102.4L200.1 102.8L200 103.2L200 103.6L200 104L200 104.3L199.9 104.7L199.9 105L199.9 105.3L199.8 105.6L199.8 105.9L199.7 106.1L199.7 106.4L199.7 106.6L199.6 106.9L199.6 107.1L199.5 107.3L199.5 107.6L199.4 107.8Z" fill="none" stroke="#6a6a6a" stroke-width="1.1"/>
<path d="M198.1 108L198.1 108.2L198.1 108.3L198 108.5L198 108.6L197.9 108.8L197.9 108.9L197.8 109.1L197.8 109.2L197.8 109.4L197.7 109.5L197.7 109.7L197.6 109.8L197.6 110L197.5 110.2L197.5 110.3L197.4 110.5L197.3 110.6L197.3 110.8L197.2 111L197.2 111.2L197.1 111.3L197 111.5L196.9 111.7L196.8 111.9L196.7 112.1L196.6 112.3L196.5 112.5L196.4 112.8L196.3 113L196.2 113.3L196 113.5L195.9 113.8L195.7 114.1L195.5 114.4L195.3 114.7L195.1 115L194.9 115.3L194.6 115.6L194.3 115.9L194 116.2L193.7 116.5L193.3 116.8L192.9 117L192.5 117.2L192.2 117.3L191.8 117.3L191.4 117.2L191 117.1L190.7 116.9L190.4 116.6L190.2 116.3L190 115.9L189.8 115.5L189.7 115.1L189.6 114.6L189.5 114.2L189.4 113.8L189.4 113.4L189.4 113L189.3 112.7L189.3 112.3L189.3 112L189.3 111.7L189.4 111.4L189.4 111.1L189.4 110.8L189.4 110.6L189.5 110.3L189.5 110.1L189.5 109.9L189.5 109.6L189.6 109.4L189.6 109.2L189.7 109L189.7 108.9L189.7 108.7L189.8 108.5L189.8 108.3L189.8 108.2L189.9 108L189.9 107.8L189.9 107.7L190 107.5L190 107.4L190.1 107.2L190.1 107.1L190.2 106.9L190.2 106.8L190.2 106.6L190.3 106.5L190.3 106.3L190.4 106.2L190.4 106L190.5 105.8L190.5 105.7L190.6 105.5L190.7 105.4L190.7 105.2L190.8 105L190.8 104.8L190.9 104.7L191 104.5L191.1 104.3L191.2 104.1L191.3 103.9L191.4 103.7L191.5 103.5L191.6 103.2L191.7 103L191.8 102.7L192 102.5L192.1 102.2L192.3 101.9L192.5 101.6L192.7 101.3L192.9 101L193.1 100.7L193.4 100.4L193.7 100.1L194 99.8L194.3 99.5L194.7 99.2L195.1 99L195.5 98.8L195.8 98.7L196.2 98.7L196.6 98.8L197 98.9L197.3 99.1L197.6 99.4L197.8 99.7L198 100.1L198.2 100.5L198.3 100.9L198.4 101.4L198.5 101.8L198.6 102.2L198.6 102.6L198.6 103L198.7 103.3L198.7 103.7L198.7 104L198.7 104.3L198.6 104.6L198.6 104.9L198.6 105.2L198.6 105.4L198.5 105.7L198.5 105.9L198.5 106.1L198.5 106.4L198.4 106.6L198.4 106.8L198.3 107L198.3 107.1L198.3 107.3L198.2 107.5L198.2 107.7L198.2 107.8Z" fill="none" stroke="#6a6a6a" stroke-width="1.1"/>
<path d="M196.9 108L196.9 108.1L196.8 108.2L196.8 108.3L196.8 108.4L196.8 108.5L196.7 108.7L196.7 108.8L196.7 108.9L196.6 109L196.6 109.1L196.6 109.2L196.5 109.3L196.5 109.4L196.5 109.5L196.4 109.6L196.4 109.7L196.3 109.8L196.3 110L196.3 110.1L196.2 110.2L196.2 110.3L196.1 110.5L196 110.6L196 110.7L195.9 110.9L195.9 111L195.8 111.2L195.7 111.3L195.6 111.5L195.5 111.7L195.4 111.9L195.3 112.1L195.2 112.2L195.1 112.5L194.9 112.7L194.8 112.9L194.6 113.1L194.4 113.3L194.2 113.5L194 113.8L193.8 114L193.5 114.1L193.3 114.3L193 114.4L192.7 114.5L192.4 114.5L192.2 114.5L191.9 114.4L191.7 114.2L191.5 114L191.3 113.8L191.2 113.5L191.1 113.2L191 112.9L190.9 112.7L190.8 112.4L190.8 112.1L190.8 111.8L190.7 111.5L190.7 111.3L190.7 111L190.7 110.8L190.7 110.6L190.8 110.4L190.8 110.2L190.8 110L190.8 109.8L190.8 109.6L190.8 109.5L190.9 109.3L190.9 109.1L190.9 109L190.9 108.9L191 108.7L191 108.6L191 108.5L191 108.4L191.1 108.2L191.1 108.1L191.1 108L191.1 107.9L191.2 107.8L191.2 107.7L191.2 107.6L191.2 107.5L191.3 107.3L191.3 107.2L191.3 107.1L191.4 107L191.4 106.9L191.4 106.8L191.5 106.7L191.5 106.6L191.5 106.5L191.6 106.4L191.6 106.3L191.7 106.2L191.7 106L191.7 105.9L191.8 105.8L191.8 105.7L191.9 105.5L192 105.4L192 105.3L192.1 105.1L192.1 105L192.2 104.8L192.3 104.7L192.4 104.5L192.5 104.3L192.6 104.1L192.7 103.9L192.8 103.8L192.9 103.5L193.1 103.3L193.2 103.1L193.4 102.9L193.6 102.7L193.8 102.5L194 102.2L194.2 102L194.5 101.9L194.7 101.7L195 101.6L195.3 101.5L195.6 101.5L195.8 101.5L196.1 101.6L196.3 101.8L196.5 102L196.7 102.2L196.8 102.5L196.9 102.8L197 103.1L197.1 103.3L197.2 103.6L197.2 103.9L197.2 104.2L197.3 104.5L197.3 104.7L197.3 105L197.3 105.2L197.3 105.4L197.2 105.6L197.2 105.8L197.2 106L197.2 106.2L197.2 106.4L197.2 106.5L197.1 106.7L197.1 106.9L197.1 107L197.1 107.1L197 107.3L197 107.4L197 107.5L197 107.6L196.9 107.8L196.9 107.9Z" fill="none" stroke="#6a6a6a" stroke-width="1.1"/>
<path d="M183.5 118Q184 106 188.5 97M199 122Q203 108 205 94" fill="none" stroke="#151515" stroke-width="2.4" stroke-linecap="round"/>
<path d="M193.5 112L196.5 99" stroke="#f4f4f4" stroke-width="1.6" stroke-linecap="round"/>
<ellipse cx="193.2" cy="115" rx="2.2" ry="2.4" fill="#fff"/>
<path d="M162.5 78.1h1.5M231.7 115.1h1.5M194.9 183.1h1.5M180.5 176h1.5M204.8 152.2h1.5M171.8 192.9h1.5M150.2 97.2h1.5M175.8 63.3h1.5M220.1 119.7h1.5M150.8 75.9h1.5M170.6 165.3h1.5M152.2 113h1.5M221.5 118.6h1.5M154.8 151h1.5M220.4 109.6h1.5M206.1 144.9h1.5M224 93.4h1.5M150.6 101.3h1.5M212.7 123.7h1.5M227.5 116h1.5M217.6 123.7h1.5M161.9 157.4h1.5M139 92.2h1.5M213.5 135.5h1.5M217.7 107.5h1.5M150.5 98.9h1.5M198 168.2h1.5M103.4 156.1h1.5M218.6 99.7h1.5M173.7 175.7h1.5M228 107.8h1.5M139.4 112h1.5M124.1 117.2h1.5M223.6 105.8h1.5M146.1 59.7h1.5M203.7 56.5h1.5M162.2 144.9h1.5M165.3 61.5h1.5M163.3 142.7h1.5M172.7 180.5h1.5M219.5 109.9h1.5M193 166.7h1.5M163.8 68.8h1.5M161.2 153.4h1.5M160.3 153.3h1.5M224.5 74.7h1.5M135.5 101.4h1.5M213.2 142.4h1.5M186.7 55.4h1.5M166.3 62.1h1.5M162 77.3h1.5M167.2 72.1h1.5M225.2 116.6h1.5M200.8 158.4h1.5M208.3 140.8h1.5M221.8 114.5h1.5M155.5 84h1.5M225 85.9h1.5M111 160.2h1.5M133.7 168.3h1.5M165.3 152.5h1.5M220.5 100.7h1.5M162.7 69.9h1.5M215.3 135.4h1.5M222.5 102h1.5M139.9 180.4h1.5M223.6 83.3h1.5M174.3 178.9h1.5M151.7 147.1h1.5M189.5 169h1.5M148.9 109h1.5M151.5 110.2h1.5M148.6 114.5h1.5M173.2 180.2h1.5M221.1 54.9h1.5M219 96.9h1.5M194.7 161.6h1.5M173.9 177.6h1.5M150 114.9h1.5M217.5 130.2h1.5M171.4 174.3h1.5M151.3 100h1.5M148.5 161.4h1.5M148.1 120.9h1.5M219.9 85.4h1.5M159 124.7h1.5M180.1 59h1.5M157.9 139h1.5M220.8 71h1.5M219.4 119.5h1.5M176.4 61.5h1.5M110.4 81.6h1.5M227 103.5h1.5M165.1 71.3h1.5" stroke="#2a2a2a" stroke-width="1.5" fill="none"/>
<path d="M80.2 173.1h-3.5M80.2 162.4h-1.8M80.2 156.1h-1.8M80.2 151.6h-1.8M80.2 148.1h-1.8M80.2 145.3h-1.8M80.2 142.9h-1.8M80.2 140.9h-1.8M80.2 139h-1.8M80.2 137.4h-3.5M80.2 126.7h-1.8M80.2 120.4h-1.8M80.2 115.9h-1.8M80.2 112.4h-1.8M80.2 109.6h-1.8M80.2 107.2h-1.8M80.2 105.2h-1.8M80.2 103.3h-1.8M80.2 101.7h-3.5M80.2 91h-1.8M80.2 84.7h-1.8M80.2 80.2h-1.8M80.2 76.7h-1.8M80.2 73.9h-1.8M80.2 71.5h-1.8M80.2 69.5h-1.8M80.2 67.6h-1.8M80.2 66h-3.5M80.2 55.3h-1.8M80.2 205.4h-1.8M80.2 201.4h-1.8M80.2 197.4h-1.8M80.2 185.4h-1.8M80.2 180.4h-1.8M80.2 176.4h-1.8M80.2 191h-3.5M114 207.4v3.2M125.2 207.4v1.8M131.8 207.4v1.8M136.5 207.4v1.8M140.1 207.4v1.8M143 207.4v1.8M145.5 207.4v1.8M147.7 207.4v1.8M149.6 207.4v1.8M151.3 207.4v3.2M162.5 207.4v1.8M169.1 207.4v1.8M173.8 207.4v1.8M177.4 207.4v1.8M180.3 207.4v1.8M182.8 207.4v1.8M185 207.4v1.8M186.9 207.4v1.8M188.6 207.4v3.2M199.8 207.4v1.8M206.4 207.4v1.8M211.1 207.4v1.8M214.7 207.4v1.8M217.6 207.4v1.8M220.1 207.4v1.8M222.3 207.4v1.8M224.2 207.4v1.8M225.9 207.4v3.2M83.2 207.4v1.8M87.2 207.4v1.8M91.2 207.4v1.8M101.2 207.4v1.8M105.2 207.4v1.8M109.2 207.4v1.8" stroke="#4d4d4d" stroke-width="1" fill="none"/>
<rect x="94.9" y="207.4" width="2.6" height="3" fill="#222"/>
<rect x="77.2" y="189.7" width="3" height="2.6" fill="#222"/>
<rect x="80.2" y="51.2" width="156.3" height="156.2" fill="none" stroke="#4d4d4d" stroke-width="1.3"/>
<rect x="152.1" y="54.7" width="81.3" height="79.1" fill="none" stroke="#8683cc" stroke-width="1.6"/>
<text x="96.5" y="91" font-size="20.5" fill="#141418" textLength="53" lengthAdjust="spacingAndGlyphs" stroke="#141418" stroke-width="0.35">87.5%</text>
<text x="80.9" y="226.3" font-size="18.3" fill="#141418" textLength="57" lengthAdjust="spacingAndGlyphs" stroke="#141418" stroke-width="0.35">CD11b</text>
<line x1="147" y1="220.6" x2="230.5" y2="220.6" stroke="#111" stroke-width="1.3"/>
<path d="M236.5 220.6L229.5 217.1L229.5 224.1Z" fill="#111"/>
<text x="72.5" y="208" font-size="19.5" fill="#141418" textLength="58" lengthAdjust="spacingAndGlyphs" transform="rotate(-90 72.5 208)" stroke="#141418" stroke-width="0.35">CD11c</text>
<line x1="66.6" y1="141" x2="66.6" y2="57.7" stroke="#111" stroke-width="1.3"/>
<path d="M66.6 51.7L63.1 58.7L70.1 58.7Z" fill="#111"/>
<path d="M287.5 206.3h-3.2M287.5 198.9h-1.8M287.5 191.4h-1.8M287.5 184h-1.8M287.5 176.5h-3.2M287.5 169.1h-1.8M287.5 161.6h-1.8M287.5 154.2h-1.8M287.5 146.7h-3.2M287.5 139.2h-1.8M287.5 131.8h-1.8M287.5 124.3h-1.8M287.5 116.9h-3.2M287.5 109.4h-1.8M287.5 102h-1.8M287.5 94.6h-1.8M287.5 87.1h-3.2M287.5 79.7h-1.8M287.5 72.2h-1.8M287.5 64.8h-1.8M287.5 57.3h-3.2M321.3 206.3v3.2M332.5 206.3v1.8M339.1 206.3v1.8M343.8 206.3v1.8M347.4 206.3v1.8M350.3 206.3v1.8M352.8 206.3v1.8M355 206.3v1.8M356.9 206.3v1.8M358.6 206.3v3.2M369.8 206.3v1.8M376.4 206.3v1.8M381.1 206.3v1.8M384.7 206.3v1.8M387.6 206.3v1.8M390.1 206.3v1.8M392.3 206.3v1.8M394.2 206.3v1.8M395.9 206.3v3.2M407.1 206.3v1.8M413.7 206.3v1.8M418.4 206.3v1.8M422 206.3v1.8M424.9 206.3v1.8M427.4 206.3v1.8M429.6 206.3v1.8M431.5 206.3v1.8M433.2 206.3v3.2M290.5 206.3v1.8M294.5 206.3v1.8M298.5 206.3v1.8M308.5 206.3v1.8M312.5 206.3v1.8M316.5 206.3v1.8" stroke="#4d4d4d" stroke-width="1" fill="none"/>
<rect x="302.2" y="206.3" width="2.6" height="3" fill="#222"/>
<path d="M287.4 206.3L296.9 206.3L300.9 192.7L303.9 157L305.8 115.3L307.8 75.6L309.2 62.7L311.8 83.5L314.8 81.5L316.8 80.5L318.7 75.6L320.3 83.5L321.7 73.6L323.7 60.7L325.7 73.6L327.7 91.5L329.7 84.5L331.7 87.5L334.6 101.4L336.6 99.4L338.6 111.3L340.6 125.2L342.6 141.1L344.6 145.1L346.5 155L348.5 145.1L350.5 155L353.5 164.9L356.5 170.9L360.4 172.8L364.4 177.8L370.4 176.8L376.3 178.8L380.3 176.8L384.3 174.8L387.2 170.9L389.2 176.8L392.2 164.9L396.2 149L400.1 145.1L403.1 121.2L405.1 105.4L406.7 92.5L408.1 103.4L410.1 119.2L413 135.1L416 155L418 180.8L420 196.7L424 206.3L442.8 206.3Z" fill="#eea4a5" stroke="none"/>
<path d="M287.4 206.3L296.9 206.3L300.9 192.7L303.9 157L305.8 115.3L307.8 75.6L309.2 62.7L311.8 83.5L314.8 81.5L316.8 80.5L318.7 75.6L320.3 83.5L321.7 73.6L323.7 60.7L325.7 73.6L327.7 91.5L329.7 84.5L331.7 87.5L334.6 101.4L336.6 99.4L338.6 111.3L340.6 125.2L342.6 141.1L344.6 145.1L346.5 155L348.5 145.1L350.5 155L353.5 164.9L356.5 170.9L360.4 172.8L364.4 177.8L370.4 176.8L376.3 178.8L380.3 176.8L384.3 174.8L387.2 170.9L389.2 176.8L392.2 164.9L396.2 149L400.1 145.1L403.1 121.2L405.1 105.4L406.7 92.5L408.1 103.4L410.1 119.2L413 135.1L416 155L418 180.8L420 196.7L424 206.3L442.8 206.3" fill="none" stroke="#d2232a" stroke-width="2" stroke-linejoin="round"/>
<line x1="287.5" y1="206.3" x2="443.2" y2="206.3" stroke="#d2232a" stroke-width="2"/>
<path d="M287.4 207.2L288.7 207.2L290.1 207.2L291.5 207.2L292.8 207.2L294.2 207.2L295.5 207.2L296.9 207.2L298.2 202.2L299.6 196.7L300.9 192.7L302.4 175.7L303.9 157L305.8 115.3L307.8 75.6L309.2 61.7L310.8 79.5L312.4 87.5L313.8 85.5L314.8 97.4L316.8 121.2L318.3 127.6L319.7 139.1L321.2 146.3L322.7 153L324.2 158.1L325.7 164.9L326.9 164.7L328.2 169.9L329.4 169.6L330.7 174.8L332.1 175.9L333.6 175.2L335.1 176.8L336.6 180.8L338.1 181.3L339.6 184.7L341.1 181.5L342.6 184.8L343.9 184.5L345.2 188.1L346.5 188.7L347.9 190.3L349.2 187.8L350.5 186.7L352 187.2L353.5 191.1L355 187.6L356.5 190.7L358 190.9L359.4 186.6L360.9 184.2L362.4 184.8L363.9 181.5L365.4 181.6L366.9 183.7L368.4 180.8L369.6 178.4L370.9 180.3L372.1 180.1L373.3 178.8L374.6 179.5L375.8 182.1L377.1 180.6L378.3 184.8L379.6 178.1L380.9 175.1L382.3 172.8L383.8 176.9L385.2 178.8L386.7 180.4L388.2 182.8L389.5 183.6L390.9 187.2L392.2 188.7L393.5 189.8L394.8 190.6L396.2 192.7L397.7 193.3L399.1 192.5L400.6 190.2L402.1 190.7L403.4 190.4L404.8 189.5L406.1 188.7L407.4 190L408.7 188.6L410.1 186.7L411.4 187.7L412.7 192.8L414 192.7L415.5 192.9L417 195.4L418.5 197.8L420 198.7L421.3 201.1L422.6 204.3L424 207.2L425.3 207.2L426.6 207.2L427.9 207.2Z" fill="#050505" stroke="#050505" stroke-width="2.2" stroke-linejoin="round"/>
<line x1="287.5" y1="206.7" x2="428.9" y2="206.7" stroke="#606060" stroke-width="1.1"/>
<path d="M287.5 206.3V50.4H443.2V206.3" fill="none" stroke="#4d4d4d" stroke-width="1.3"/>
<path d="M390.8 142.3H438.3M390.8 139.3v6M438.3 139.3v6" stroke="#3a3a3a" stroke-width="1.4" fill="none"/>
<text x="441.2" y="68.6" font-size="14.8" fill="#c21d29" text-anchor="end" textLength="42.5" lengthAdjust="spacingAndGlyphs" font-weight="bold" stroke="#c21d29" stroke-width="0.4">25.2%</text>
<text x="441.2" y="82.8" font-size="14.8" fill="#141418" text-anchor="end" textLength="42.5" lengthAdjust="spacingAndGlyphs" font-weight="bold" stroke="#141418" stroke-width="0.4">11.3%</text>
<path d="M451.2 205h-3.2M451.2 197.6h-1.8M451.2 190.1h-1.8M451.2 182.7h-1.8M451.2 175.2h-3.2M451.2 167.8h-1.8M451.2 160.3h-1.8M451.2 152.8h-1.8M451.2 145.4h-3.2M451.2 138h-1.8M451.2 130.5h-1.8M451.2 123.1h-1.8M451.2 115.6h-3.2M451.2 108.2h-1.8M451.2 100.7h-1.8M451.2 93.2h-1.8M451.2 85.8h-3.2M451.2 78.3h-1.8M451.2 70.9h-1.8M451.2 63.4h-1.8M451.2 56h-3.2M485 205v3.2M496.2 205v1.8M502.8 205v1.8M507.5 205v1.8M511.1 205v1.8M514 205v1.8M516.5 205v1.8M518.7 205v1.8M520.6 205v1.8M522.3 205v3.2M533.5 205v1.8M540.1 205v1.8M544.8 205v1.8M548.4 205v1.8M551.3 205v1.8M553.8 205v1.8M556 205v1.8M557.9 205v1.8M559.6 205v3.2M570.8 205v1.8M577.4 205v1.8M582.1 205v1.8M585.7 205v1.8M588.6 205v1.8M591.1 205v1.8M593.3 205v1.8M595.2 205v1.8M596.9 205v3.2M454.2 205v1.8M458.2 205v1.8M462.2 205v1.8M472.2 205v1.8M476.2 205v1.8M480.2 205v1.8" stroke="#4d4d4d" stroke-width="1" fill="none"/>
<rect x="465.9" y="205" width="2.6" height="3" fill="#222"/>
<path d="M451.6 205L451.6 179.5L453.6 189.4L455.9 188.4L458.9 180.5L461.9 170.6L465.9 158.6L469.8 150.7L473.8 136.8L477.8 130.9L479.8 131.8L481.7 123.9L488.7 85.2L490.7 93.1L492.7 81.2L494.7 73.3L496.6 83.2L498.6 59.4L500.6 65.3L502.6 71.3L504.6 58.4L506.6 79.2L507.6 90.2L510.5 100.1L512.5 97.1L515.5 104.1L518.5 110L520.5 102.1L523.4 90.2L525.4 106L527.4 114L529.4 123.9L531.4 98.1L533.4 78.2L535.3 92.1L537.3 86.2L539.3 70.3L540.7 58.4L542.7 70.3L545.3 86.2L547.3 102.1L549.2 119.9L551.2 137.8L553.2 155.7L555.2 169.6L558.2 183.5L561.2 195.4L565.1 205L606.8 205Z" fill="#eea4a5" stroke="none"/>
<path d="M451.6 205L451.6 179.5L453.6 189.4L455.9 188.4L458.9 180.5L461.9 170.6L465.9 158.6L469.8 150.7L473.8 136.8L477.8 130.9L479.8 131.8L481.7 123.9L488.7 85.2L490.7 93.1L492.7 81.2L494.7 73.3L496.6 83.2L498.6 59.4L500.6 65.3L502.6 71.3L504.6 58.4L506.6 79.2L507.6 90.2L510.5 100.1L512.5 97.1L515.5 104.1L518.5 110L520.5 102.1L523.4 90.2L525.4 106L527.4 114L529.4 123.9L531.4 98.1L533.4 78.2L535.3 92.1L537.3 86.2L539.3 70.3L540.7 58.4L542.7 70.3L545.3 86.2L547.3 102.1L549.2 119.9L551.2 137.8L553.2 155.7L555.2 169.6L558.2 183.5L561.2 195.4L565.1 205L606.8 205" fill="none" stroke="#d2232a" stroke-width="2" stroke-linejoin="round"/>
<line x1="451.2" y1="205" x2="607.2" y2="205" stroke="#d2232a" stroke-width="2"/>
<path d="M451.6 205.9L451.6 189.4L453 187.3L454.5 190.2L455.9 189.4L457.4 187L458.9 181.5L460.4 176.9L461.9 171.5L463.2 170.5L464.5 163.8L465.9 161.6L467.2 160.1L468.5 156.9L469.8 153.7L471.2 150.2L472.5 145.5L473.8 141.8L475.1 141.5L476.5 139.8L477.8 134.8L479.1 130.7L480.4 126.9L481.9 119.4L483.5 110L485.7 104.1L487.3 94.1L488.7 87.4L490.7 92.1L492 80.6L493.3 74.3L494.8 87.2L496.6 86.6L498.1 74.3L499.6 59.6L501.6 70.3L504 75.5L505.6 59.6L507.6 84.2L509.5 98.1L511.5 108L513 114.9L514.5 119.9L516 127.9L517.5 129.9L518.8 136.4L520.1 137.8L521.4 143.8L522.9 149L524.4 155.7L525.9 162.6L527.4 167.6L528.7 166.7L530.1 171.3L531.4 173.5L532.9 170.5L534.4 171.5L535.8 174.2L537.3 181.5L538.7 180.8L540 187L541.3 187.4L542.6 186.9L543.9 188.9L545.3 191.4L546.6 191.6L547.9 194.1L549.2 193.4L550.6 192.7L551.9 194.5L553.2 195.4L554.7 196.5L556.2 198.2L557.7 199L559.2 199.3L560.7 201L562.1 202.6L563.6 204.3L565.1 205.9Z" fill="#050505" stroke="#050505" stroke-width="2.2" stroke-linejoin="round"/>
<line x1="451.2" y1="205.4" x2="566.1" y2="205.4" stroke="#606060" stroke-width="1.1"/>
<path d="M451.2 205V49.6H607.2V205" fill="none" stroke="#4d4d4d" stroke-width="1.3"/>
<path d="M525.4 137.7H595.9M525.4 134.7v6M595.9 134.7v6" stroke="#3a3a3a" stroke-width="1.4" fill="none"/>
<text x="606.3" y="68.6" font-size="14.8" fill="#c21d29" text-anchor="end" textLength="42.5" lengthAdjust="spacingAndGlyphs" font-weight="bold" stroke="#c21d29" stroke-width="0.4">36.3%</text>
<text x="606.3" y="82.8" font-size="14.8" fill="#141418" text-anchor="end" textLength="42.5" lengthAdjust="spacingAndGlyphs" font-weight="bold" stroke="#141418" stroke-width="0.4">11.3%</text>
<path d="M612.4 206.3h-3.2M612.4 198.9h-1.8M612.4 191.4h-1.8M612.4 184h-1.8M612.4 176.5h-3.2M612.4 169.1h-1.8M612.4 161.6h-1.8M612.4 154.2h-1.8M612.4 146.7h-3.2M612.4 139.3h-1.8M612.4 131.8h-1.8M612.4 124.4h-1.8M612.4 116.9h-3.2M612.4 109.5h-1.8M612.4 102h-1.8M612.4 94.6h-1.8M612.4 87.1h-3.2M612.4 79.7h-1.8M612.4 72.2h-1.8M612.4 64.8h-1.8M612.4 57.3h-3.2M646.2 206.3v3.2M657.4 206.3v1.8M664 206.3v1.8M668.7 206.3v1.8M672.3 206.3v1.8M675.2 206.3v1.8M677.7 206.3v1.8M679.9 206.3v1.8M681.8 206.3v1.8M683.5 206.3v3.2M694.7 206.3v1.8M701.3 206.3v1.8M706 206.3v1.8M709.6 206.3v1.8M712.5 206.3v1.8M715 206.3v1.8M717.2 206.3v1.8M719.1 206.3v1.8M720.8 206.3v3.2M732 206.3v1.8M738.6 206.3v1.8M743.3 206.3v1.8M746.9 206.3v1.8M749.8 206.3v1.8M752.3 206.3v1.8M754.5 206.3v1.8M756.4 206.3v1.8M758.1 206.3v3.2M615.4 206.3v1.8M619.4 206.3v1.8M623.4 206.3v1.8M633.4 206.3v1.8M637.4 206.3v1.8M641.4 206.3v1.8" stroke="#4d4d4d" stroke-width="1" fill="none"/>
<rect x="627.1" y="206.3" width="2.6" height="3" fill="#222"/>
<path d="M612.4 206.3L649.7 206.3L659.6 206.3L665.6 199.6L669.6 196.7L673.5 188.7L677.5 180.8L679.5 172.8L681.5 157L684.4 139.1L687.4 121.2L689.4 103.4L691.4 87.5L693.4 81.5L695.4 77.6L697.3 61.7L698.7 71.6L700.3 61.7L702.3 87.5L703.7 59.7L705.3 73.6L707.3 77.6L709.3 91.5L711.2 93.4L712.2 97.4L715.2 97.4L717.2 105.4L719.2 111.3L721.2 115.3L723.2 125.2L725.1 125.2L727.1 135.1L729.1 147L731.1 157L733.1 168.9L735.1 180.8L737 192.7L741 202.6L745 206.3L768.8 206.3Z" fill="#eea4a5" stroke="none"/>
<path d="M612.4 206.3L649.7 206.3L659.6 206.3L665.6 199.6L669.6 196.7L673.5 188.7L677.5 180.8L679.5 172.8L681.5 157L684.4 139.1L687.4 121.2L689.4 103.4L691.4 87.5L693.4 81.5L695.4 77.6L697.3 61.7L698.7 71.6L700.3 61.7L702.3 87.5L703.7 59.7L705.3 73.6L707.3 77.6L709.3 91.5L711.2 93.4L712.2 97.4L715.2 97.4L717.2 105.4L719.2 111.3L721.2 115.3L723.2 125.2L725.1 125.2L727.1 135.1L729.1 147L731.1 157L733.1 168.9L735.1 180.8L737 192.7L741 202.6L745 206.3L768.8 206.3" fill="none" stroke="#d2232a" stroke-width="2" stroke-linejoin="round"/>
<line x1="612.4" y1="206.3" x2="768.9" y2="206.3" stroke="#d2232a" stroke-width="2"/>
<path d="M612.4 207.2L613.6 207.2L614.8 207.2L616 207.2L617.2 207.2L618.4 207.2L619.6 207.2L620.8 207.2L622 207.2L623.2 207.2L624.4 207.2L625.6 207.2L626.8 207.2L628 207.2L629.2 207.2L630.4 207.2L631.6 207.2L632.8 207.2L634.1 207.2L635.3 207.2L636.5 207.2L637.7 207.2L638.9 207.2L640.1 207.2L641.3 207.2L642.5 207.2L643.7 207.2L644.9 207.2L646.1 207.2L647.3 207.2L648.5 207.2L649.7 207.2L650.9 207.2L652.2 207.2L653.4 207.2L654.7 207.2L655.9 207.2L657.1 207.2L658.4 207.2L659.6 207.2L661.1 205.3L662.6 203.3L664.1 201.3L665.6 199.6L666.9 198.6L668.2 197.9L669.6 196.7L670.9 193.2L672.2 189.3L673.5 188.7L674.8 185.6L676.2 182.6L677.5 180.8L679.5 172.8L681.5 157L683 148.4L684.4 139.1L685.9 132.9L687.4 121.2L689.4 103.4L691.4 87.5L693.4 81.5L695.4 77.6L697.3 61.7L698.7 71.6L700.3 61.7L701.7 75.6L703.3 85.5L705.3 105.4L706.8 118.4L708.3 129.2L709.8 139.2L711.2 149L712.6 156.3L713.9 163.3L715.2 168.9L716.5 170.8L717.9 180.5L719.2 182.8L720.4 187.4L721.7 190.6L722.9 192.9L724.1 194.7L725.4 196.4L726.6 198.5L727.9 200.1L729.1 202.6L730.4 204.1L731.8 205.7L733.1 207.2Z" fill="#050505" stroke="#050505" stroke-width="2.2" stroke-linejoin="round"/>
<line x1="612.4" y1="206.7" x2="734.1" y2="206.7" stroke="#606060" stroke-width="1.1"/>
<path d="M612.4 206.3V50.1H768.9V206.3" fill="none" stroke="#4d4d4d" stroke-width="1.3"/>
<path d="M711.6 120.4H753.9M711.6 117.4v6M753.9 117.4v6" stroke="#3a3a3a" stroke-width="1.4" fill="none"/>
<text x="767.3" y="68.6" font-size="14.8" fill="#c21d29" text-anchor="end" textLength="42.5" lengthAdjust="spacingAndGlyphs" font-weight="bold" stroke="#c21d29" stroke-width="0.4">40.6%</text>
<text x="767.3" y="82.8" font-size="14.8" fill="#141418" text-anchor="end" textLength="42.5" lengthAdjust="spacingAndGlyphs" font-weight="bold" stroke="#141418" stroke-width="0.4">11.3%</text>
<path d="M777.3 206.3h-3.2M777.3 198.9h-1.8M777.3 191.4h-1.8M777.3 184h-1.8M777.3 176.5h-3.2M777.3 169.1h-1.8M777.3 161.6h-1.8M777.3 154.2h-1.8M777.3 146.7h-3.2M777.3 139.3h-1.8M777.3 131.8h-1.8M777.3 124.4h-1.8M777.3 116.9h-3.2M777.3 109.5h-1.8M777.3 102h-1.8M777.3 94.6h-1.8M777.3 87.1h-3.2M777.3 79.7h-1.8M777.3 72.2h-1.8M777.3 64.8h-1.8M777.3 57.3h-3.2M811.1 206.3v3.2M822.3 206.3v1.8M828.9 206.3v1.8M833.6 206.3v1.8M837.2 206.3v1.8M840.1 206.3v1.8M842.6 206.3v1.8M844.8 206.3v1.8M846.7 206.3v1.8M848.4 206.3v3.2M859.6 206.3v1.8M866.2 206.3v1.8M870.9 206.3v1.8M874.5 206.3v1.8M877.4 206.3v1.8M879.9 206.3v1.8M882.1 206.3v1.8M884 206.3v1.8M885.7 206.3v3.2M896.9 206.3v1.8M903.5 206.3v1.8M908.2 206.3v1.8M911.8 206.3v1.8M914.7 206.3v1.8M917.2 206.3v1.8M919.4 206.3v1.8M921.3 206.3v1.8M923 206.3v3.2M780.3 206.3v1.8M784.3 206.3v1.8M788.3 206.3v1.8M798.3 206.3v1.8M802.3 206.3v1.8M806.3 206.3v1.8" stroke="#4d4d4d" stroke-width="1" fill="none"/>
<rect x="792" y="206.3" width="2.6" height="3" fill="#222"/>
<path d="M777.4 206.3L778 206.3L781 200.6L784.9 188.7L787.9 172.8L790.9 145.1L793.9 111.3L795.8 77.6L797.8 71.6L799.2 61.7L800.8 71.6L802.8 71.6L804.8 85.5L806.8 91.5L809.7 91.5L811.7 88.5L813.7 103.4L815.7 117.3L818.7 97.4L821.7 121.2L824.6 121.2L827.6 105.4L830.6 125.2L834.6 90.5L836.5 115.3L840.5 93.4L844.1 65.7L846.5 95.4L848.4 101.4L851.4 77.6L853.4 91.5L856.4 61.7L858.4 103.4L861.4 73.6L863.3 85.5L865.3 67.6L867.3 71.6L869.3 69.6L872.3 79.5L875.2 61.7L878.2 105.4L882.2 83.5L885.2 105.4L888.2 113.3L890.1 131.2L892.1 135.1L894.1 155L896.1 160.9L899.1 176.8L902 188.7L906 200.6L914 206.3L933.8 206.3Z" fill="#eea4a5" stroke="none"/>
<path d="M777.4 206.3L778 206.3L781 200.6L784.9 188.7L787.9 172.8L790.9 145.1L793.9 111.3L795.8 77.6L797.8 71.6L799.2 61.7L800.8 71.6L802.8 71.6L804.8 85.5L806.8 91.5L809.7 91.5L811.7 88.5L813.7 103.4L815.7 117.3L818.7 97.4L821.7 121.2L824.6 121.2L827.6 105.4L830.6 125.2L834.6 90.5L836.5 115.3L840.5 93.4L844.1 65.7L846.5 95.4L848.4 101.4L851.4 77.6L853.4 91.5L856.4 61.7L858.4 103.4L861.4 73.6L863.3 85.5L865.3 67.6L867.3 71.6L869.3 69.6L872.3 79.5L875.2 61.7L878.2 105.4L882.2 83.5L885.2 105.4L888.2 113.3L890.1 131.2L892.1 135.1L894.1 155L896.1 160.9L899.1 176.8L902 188.7L906 200.6L914 206.3L933.8 206.3" fill="none" stroke="#d2232a" stroke-width="2" stroke-linejoin="round"/>
<line x1="777.3" y1="206.3" x2="933.6" y2="206.3" stroke="#d2232a" stroke-width="2"/>
<path d="M777.4 207.2L778 207.2L779.5 204L781 200.6L782.3 195.6L783.6 191.1L784.9 188.7L786.4 179L787.9 172.8L789.4 156.9L790.9 145.1L792.4 127.2L793.9 111.3L795.8 77.6L797.8 71.6L799.2 61.7L800.8 71.6L802.8 71.6L804.8 89.5L806.8 111.3L808.7 135.1L810.7 155L812.2 161.2L813.7 172.8L815.2 174.8L816.7 182.8L818 182.7L819.3 184.6L820.7 188.7L822 190.1L823.3 190.9L824.6 194.7L826.1 196.7L827.6 197L829.1 196.9L830.6 198.7L831.9 198.5L833.2 199.1L834.6 199.4L835.9 199.4L837.2 200.8L838.5 200.6L839.8 201.6L841.2 201.3L842.5 201.6L843.8 201.6L845.1 202L846.5 202.6L847.8 203.3L849.1 204.1L850.4 204.9L851.8 205.7L853.1 206.4L854.4 207.2L855.6 207.2L856.9 207.2L858.1 207.2L859.4 207.2L860.6 207.2L861.8 207.2L863.1 207.2L864.3 207.2L865.6 207.2L866.8 207.2L868.1 207.2L869.3 207.2L870.5 207.2L871.8 207.2L873 207.2L874.3 207.2Z" fill="#050505" stroke="#050505" stroke-width="2.2" stroke-linejoin="round"/>
<line x1="777.3" y1="206.7" x2="875.3" y2="206.7" stroke="#606060" stroke-width="1.1"/>
<path d="M777.3 206.3V50.2H933.6V206.3" fill="none" stroke="#4d4d4d" stroke-width="1.3"/>
<path d="M819 163.5H913.9M819 160.5v6M913.9 160.5v6" stroke="#3a3a3a" stroke-width="1.4" fill="none"/>
<text x="931.6" y="68.6" font-size="14.8" fill="#c21d29" text-anchor="end" textLength="42.5" lengthAdjust="spacingAndGlyphs" font-weight="bold" stroke="#c21d29" stroke-width="0.4">77.6%</text>
<text x="931.6" y="82.8" font-size="14.8" fill="#141418" text-anchor="end" textLength="42.5" lengthAdjust="spacingAndGlyphs" font-weight="bold" stroke="#141418" stroke-width="0.4">11.2%</text>
<text x="277.2" y="172.5" font-size="18" fill="#141418" textLength="80" lengthAdjust="spacingAndGlyphs" transform="rotate(-90 277.2 172.5)" stroke="#141418" stroke-width="0.35"># of Cells</text>
<text x="287.1" y="226.6" font-size="18.5" fill="#141418" textLength="59" lengthAdjust="spacingAndGlyphs" stroke="#141418" stroke-width="0.35">MHC-II</text>
<line x1="354.8" y1="219.9" x2="437.3" y2="219.9" stroke="#111" stroke-width="1.3"/>
<path d="M443.3 219.9L436.3 216.4L436.3 223.4Z" fill="#111"/>
<text x="449.5" y="224.8" font-size="18.5" fill="#141418" textLength="46" lengthAdjust="spacingAndGlyphs" stroke="#141418" stroke-width="0.35">CD86</text>
<line x1="501.9" y1="219.2" x2="601.6" y2="219.2" stroke="#111" stroke-width="1.3"/>
<path d="M607.6 219.2L600.6 215.7L600.6 222.7Z" fill="#111"/>
<text x="614.3" y="226.3" font-size="18.5" fill="#141418" textLength="46.3" lengthAdjust="spacingAndGlyphs" stroke="#141418" stroke-width="0.35">CD80</text>
<line x1="665.7" y1="219.4" x2="763.5" y2="219.4" stroke="#111" stroke-width="1.3"/>
<path d="M769.5 219.4L762.5 215.9L762.5 222.9Z" fill="#111"/>
<text x="777.1" y="226.3" font-size="18.5" fill="#141418" textLength="46.7" lengthAdjust="spacingAndGlyphs" stroke="#141418" stroke-width="0.35">CD40</text>
<line x1="829.5" y1="219.4" x2="928.3" y2="219.4" stroke="#111" stroke-width="1.3"/>
<path d="M934.3 219.4L927.3 215.9L927.3 222.9Z" fill="#111"/>
<text x="938.3" y="63.1" font-size="19" fill="#141418" textLength="70" lengthAdjust="spacingAndGlyphs" font-weight="bold" stroke="#141418" stroke-width="0.4">Unstim.</text>
<text x="938.3" y="85.5" font-size="18.5" fill="#c21d29" textLength="40.3" lengthAdjust="spacingAndGlyphs" font-weight="bold" stroke="#c21d29" stroke-width="0.4">+LPS</text>
<defs><path id="U80" transform="scale(0.1)" d="M1407 168h15m-28 29h15m-120 34h15m132 26h15m-144 22h15m42 2h15m-110 2h15m-53 9h15m39 2h15m-1130 1h15m1100 7h15m-78 4h15m81 1h15m-120 6h15m122 0h15m-250 1h15m-715 7h15m953 1h15m-40 2h15m-92 1h15m-25 1h15m47 5h15m-6 1h15m-20 5h15m-31 1h15m-82 2h15m127 0h15m-69 1h15m0 4h15m-161 1h15m21 1h15m8 1h15m80 0h15m-137 2h15m130 1h15m-109 2h15m72 2h15m-145 2h15m-988 2h15m978 0h15m-30 2h15m-77 1h15m102 1h15m89 1h15m-139 1h15m37 0h15m-699 3h15m634 0h15m-165 2h15m214 0h15m-784 1h15m635 1h15m37 0h15m-484 1h15m392 4h15m-9 0h15m30 0h15m62 1h15m-142 5h15m-255 1h15m213 0h15m-40 3h15m108 3h15m12 0h15m-45 1h15m36 0h15m-714 1h15m440 0h15m35 0h15m-185 3h15m334 1h15m-154 1h15m46 0h15m-424 2h15m397 1h15m47 0h15m-152 1h15m94 1h15m16 0h15m-110 2h15m-935 2h15m938 0h15m-69 1h15m-13 0h15m201 3h15m-295 6h15m130 0h15m-754 3h15m691 1h15m-98 1h15m34 0h15m6 0h15m142 0h15m-156 1h15m-112 1h15m-367 2h15m-469 1h15m831 0h15m34 0h15m-146 1h15m58 0h15m-18 2h15m26 0h15m28 0h15m50 1h15m-494 1h15m336 1h15m59 0h15m-127 1h15m11 2h15m-37 1h15m82 0h15m-5 0h15m-137 1h15m-114 2h15m-719 1h15m768 0h15m-881 2h15m213 0h15m644 0h15m24 0h15m131 0h15m-803 2h15m213 0h15m291 1h15m202 1h15m-114 1h15m-7 0h15m82 2h15m-272 1h15m-391 1h15m420 1h15m117 0h15m-345 1h15m-764 1h15m71 0h15m355 0h15m196 1h15m-580 1h15m44 1h15m528 0h15m300 0h15m1 0h15m167 0h15m-255 1h15m-373 1h15m146 0h15m235 0h15m-9 0h15m113 0h15m-964 1h15m543 0h15m28 1h15m320 0h15m-118 1h15m20 2h15m-626 2h15m560 0h15m-751 1h15m643 0h15m76 0h15m56 1h15m-80 1h15m-96 1h15m42 0h15m-697 1h15m118 2h15m27 1h15m86 0h15m43 1h15m323 0h15m32 0h15m-1046 1h15m381 0h15m233 1h15m132 0h15m93 0h15m163 0h15m-62 1h15m-597 1h15m307 0h15m250 0h15m76 0h15m-717 1h15m622 0h15m-11 0h15m-80 1h15m-111 1h15m31 0h15m-13 0h15m106 0h15m-505 1h15m318 0h15m108 0h15m-995 1h15m175 0h15m871 0h15m-107 1h15m-9 2h15m-104 1h15m20 0h15m-922 1h15m21 0h15m378 0h15m428 0h15m-2 0h15m-739 1h15m126 0h15m400 0h15m-478 1h15m91 0h15m183 0h15m267 0h15m-1010 1h15m107 0h15m-89 1h15m116 0h15m871 0h15m4 0h15m-465 1h15m273 0h15m90 0h15m-586 1h15m-424 1h15m37 0h15m441 0h15m182 0h15m59 0h15m2 0h15m225 0h15m-297 1h15m75 0h15m101 0h15m24 0h15m62 0h15m-1101 1h15m523 0h15m448 0h15m57 0h15m-403 1h15m33 0h15m-670 1h15m800 0h15m-563 1h15m163 1h15m-326 1h15m162 0h15m714 0h15m-1168 1h15m1074 0h15m-1093 1h15m103 0h15m675 0h15m-104 1h15m342 0h15m-745 1h15m-12 0h15m276 1h15m-62 1h15m399 0h15m-688 1h15m148 0h15m560 0h15m-1005 1h15m-2 1h15m105 0h15m855 0h15m-633 1h15m2 0h15m555 0h15m56 0h15m-1189 1h15m119 0h15m48 0h15m593 1h15m291 0h15m-825 1h15m425 0h15m-609 1h15m580 0h15m-771 1h15m259 0h15m444 0h15m443 0h15m-732 1h15m-347 1h15m52 0h15m-4 0h15m162 0h15m-331 1h15m586 0h15m373 0h15m-981 1h15m121 0h15m137 0h15m261 0h15m86 0h15m76 0h15m183 0h15m-1184 1h15m160 0h15m-11 0h15m426 0h15m-424 1h15m0 0h15m403 0h15m638 0h15m-770 1h15m70 0h15m168 0h15m131 0h15m87 0h15m144 1h15m-761 1h15m404 0h15m3 0h15m60 0h15m190 0h15m106 0h15m-1129 1h15m16 0h15m33 0h15m110 0h15m43 0h15m263 0h15m-401 1h15m225 0h15m589 1h15m4 0h15m-915 1h15m816 0h15m17 0h15m-804 1h15m414 0h15m235 0h15m-896 1h15m61 0h15m301 0h15m332 0h15m170 0h15m-823 1h15m586 0h15m-271 1h15m26 0h15m-2 0h15m476 0h15m146 0h15m-1168 1h15m829 0h15m90 0h15m-906 1h15m126 0h15m-205 1h15m86 1h15m-15 0h15m141 0h15m435 0h15m14 0h15m66 0h15m127 0h15m63 0h15m-1152 1h15m140 0h15m-149 1h15m30 0h15m22 0h15m72 0h15m310 0h15m-351 1h15m0 0h15m544 0h15m17 0h15m66 0h15m38 0h15m73 0h15m113 0h15m-644 1h15m-288 1h15m-1 0h15m34 0h15m105 0h15m43 0h15m-102 1h15m362 0h15m-13 0h15m11 0h15m-7 0h15m270 0h15m-15 0h15m-618 1h15m211 0h15m-13 0h15m45 0h15m-8 0h15m-14 0h15m58 0h15m23 0h15m162 0h15m60 0h15m-684 1h15m9 0h15m184 0h15m282 0h15m102 0h15m-1048 1h15m558 0h15m211 0h15m-743 1h15m279 0h15m604 0h15m-1035 1h15m40 0h15m50 0h15m63 0h15m169 0h15m46 0h15m266 0h15m69 0h15m2 0h15m15 0h15m-827 1h15m74 0h15m482 0h15m44 0h15m214 0h15m49 0h15m-906 1h15m732 0h15m-735 1h15m76 0h15m461 0h15m-626 2h15m60 1h15m423 0h15m-137 1h15m161 0h15m351 0h15m16 0h15m-914 1h15m4 0h15m-10 0h15m-10 0h15m-12 0h15m38 0h15m-273 1h15m108 0h15m417 0h15m-518 1h15m53 0h15m349 0h15m389 0h15m31 0h15m-11 0h15m59 0h15m-910 1h15m22 0h15m52 0h15m841 0h15m-897 1h15m336 0h15m494 0h15m-892 1h15m141 0h15m32 1h15m123 0h15m-479 1h15m289 0h15m174 0h15m110 0h15m150 0h15m319 0h15m-1060 1h15m86 0h15m299 0h15m3 0h15m-15 0h15m462 0h15m-997 1h15m76 0h15m732 0h15m113 0h15m-678 1h15m-6 0h15m110 0h15m320 0h15m40 0h15m22 0h15m-622 1h15m384 0h15m92 1h15m30 0h15m-823 1h15m69 0h15m18 0h15m407 0h15m-525 1h15m560 0h15m171 0h15m210 0h15m-649 1h15m165 0h15m50 0h15m115 0h15m21 0h15m-922 1h15m155 0h15m329 0h15m23 0h15m33 0h15m103 0h15m355 0h15m-893 1h15m37 0h15m20 0h15m250 0h15m311 0h15m-733 1h15m63 0h15m218 0h15m110 0h15m-238 1h15m-10 0h15m16 0h15m227 0h15m37 0h15m19 0h15m32 0h15m248 0h15m90 0h15m-1065 1h15m-6 0h15m534 0h15m-559 1h15m43 0h15m233 0h15m173 0h15m73 0h15m-514 1h15m25 0h15m16 0h15m162 0h15m320 0h15m100 0h15m133 0h15m222 0h15m-1168 1h15m106 0h15m295 0h15m5 0h15m206 0h15m360 0h15m-988 1h15m177 0h15m172 0h15m366 0h15m-908 1h15m71 0h15m266 0h15m-5 0h15m-233 1h15m181 0h15m291 0h15m16 0h15m88 0h15m-700 1h15m242 0h15m123 0h15m219 0h15m20 0h15m168 0h15m-485 1h15m43 0h15m148 0h15m196 0h15m205 0h15m-7 0h15m-1020 1h15m206 0h15m594 0h15m162 0h15m-1103 1h15m42 0h15m61 0h15m488 0h15m140 0h15m70 0h15m-912 1h15m6 0h15m12 0h15m52 0h15m77 0h15m-200 1h15m57 0h15m25 0h15m-12 0h15m237 0h15m164 0h15m-521 1h15m15 0h15m115 0h15m74 0h15m0 0h15m505 0h15m12 0h15m-933 1h15m212 0h15m3 0h15m77 0h15m218 0h15m110 0h15m146 0h15m185 0h15m-1100 1h15m36 0h15m47 0h15m578 0h15m95 0h15m176 0h15m-1029 1h15m104 0h15m134 0h15m219 0h15m194 0h15m136 0h15m331 0h15m-1035 1h15m-12 0h15m-4 0h15m793 0h15m-837 1h15m64 0h15m176 0h15m30 0h15m2 0h15m272 0h15m-690 1h15m16 0h15m-4 0h15m62 0h15m109 0h15m677 0h15m-946 1h15m5 0h15m287 0h15m-281 1h15m28 0h15m59 0h15m187 0h15m116 0h15m43 0h15m56 0h15m239 0h15m32 0h15m-673 1h15m369 0h15m-546 1h15m116 0h15m220 0h15m9 0h15m-621 1h15m35 0h15m51 0h15m-2 0h15m157 0h15m-9 0h15m286 0h15m-4 0h15m7 0h15m48 0h15m68 0h15m-751 1h15m199 0h15m440 0h15m48 0h15m230 0h15m-816 1h15m89 0h15m103 0h15m137 0h15m104 0h15m24 0h15m344 0h15m-956 1h15m16 0h15m117 0h15m229 0h15m-536 1h15m-8 0h15m93 0h15m471 0h15m3 0h15m14 0h15m95 0h15m-743 1h15m101 0h15m73 0h15m549 0h15m5 0h15m-829 1h15m612 0h15m-10 0h15m366 0h15m-1058 1h15m86 0h15m9 0h15m26 0h15m81 0h15m33 0h15m219 0h15m92 0h15m23 0h15m87 0h15m345 0h15m-995 1h15m68 0h15m285 0h15m-565 1h15m88 0h15m-8 0h15m-15 0h15m-5 0h15m21 0h15m127 0h15m26 0h15m-323 1h15m56 0h15m400 0h15m307 0h15m203 0h15m-1005 1h15m9 0h15m656 0h15m-755 1h15m66 0h15m-7 0h15m55 0h15m220 0h15m256 0h15m159 0h15m-817 1h15m1 0h15m63 0h15m295 0h15m330 0h15m-829 1h15m31 0h15m-11 0h15m46 0h15m2 0h15m43 0h15m76 0h15m398 0h15m26 0h15m149 0h15m28 0h15m-999 1h15m115 0h15m141 0h15m124 0h15m22 0h15m605 0h15m108 0h15m-1158 1h15m153 0h15m15 0h15m79 0h15m147 0h15m214 0h15m70 0h15m283 0h15m-1085 1h15m275 0h15m303 0h15m128 0h15m-5 0h15m-864 1h15m48 0h15m46 1h15m84 0h15m120 0h15m32 0h15m31 0h15m308 0h15m186 0h15m-867 1h15m-2 0h15m28 0h15m18 0h15m512 0h15m46 0h15m319 0h15m-1017 1h15m11 0h15m-15 0h15m-14 0h15m257 0h15m16 0h15m216 0h15m184 0h15m-823 1h15m113 0h15m249 0h15m118 0h15m49 0h15m-735 1h15m174 0h15m6 0h15m-14 0h15m94 0h15m101 0h15m6 0h15m33 0h15m7 0h15m212 0h15m70 0h15m74 0h15m31 0h15m-701 1h15m43 0h15m44 0h15m30 0h15m73 0h15m78 0h15m103 0h15m17 0h15m-673 1h15m115 0h15m-15 0h15m317 0h15m20 0h15m21 0h15m376 0h15m175 0h15m-1168 1h15m106 0h15m563 0h15m-5 0h15m-716 1h15m15 0h15m45 0h15m51 0h15m80 0h15m121 0h15m34 0h15m7 0h15m86 0h15m231 0h15m16 0h15m-844 1h15m97 0h15m7 0h15m52 0h15m122 0h15m10 0h15m1 0h15m87 0h15m34 0h15m-482 1h15m62 0h15m12 0h15m73 0h15m-134 1h15m-6 0h15m99 0h15m-13 0h15m113 0h15m159 0h15m47 0h15m125 0h15m64 0h15m-764 1h15m24 0h15m7 0h15m320 0h15m69 0h15m-8 0h15m50 0h15m51 0h15m300 0h15m-925 1h15m-7 0h15m-5 0h15m19 0h15m268 0h15m317 0h15m218 0h15m-946 1h15m-7 0h15m-3 0h15m13 0h15m-3 0h15m168 0h15m284 0h15m159 0h15m165 0h15m-995 1h15m127 0h15m401 0h15m-7 0h15m138 0h15m30 0h15m9 0h15m30 0h15m-784 1h15m28 0h15m59 0h15m5 0h15m242 0h15m173 0h15m-9 0h15m25 0h15m151 0h15m-910 1h15m189 0h15m18 0h15m106 0h15m62 0h15m206 0h15m237 0h15m-812 1h15m3 0h15m-12 0h15m41 0h15m19 0h15m103 0h15m-9 0h15m663 0h15m-937 1h15m32 0h15m6 0h15m97 0h15m12 0h15m13 0h15m-2 0h15m62 0h15m90 0h15m216 0h15m28 0h15m133 0h15m-890 1h15m101 0h15m-13 0h15m575 0h15m-9 0h15m119 0h15m-793 1h15m-6 0h15m320 0h15m106 0h15m268 0h15m101 0h15m233 0h15m-1240 1h15m-1 0h15m-2 0h15m-12 0h15m17 0h15m-5 0h15m6 0h15m30 0h15m37 0h15m44 0h15m66 0h15m-3 0h15m79 0h15m-14 0h15m296 0h15m-701 1h15m58 0h15m92 0h15m9 0h15m50 0h15m118 0h15m154 0h15m38 0h15m216 0h15m-918 1h15m9 0h15m41 0h15m11 0h15m31 0h15m120 0h15m108 0h15m103 0h15m69 0h15m157 0h15m-861 1h15m146 0h15m44 0h15m37 0h15m-6 0h15m-9 0h15m105 0h15m20 0h15m244 0h15m-640 1h15m124 0h15m-11 0h15m298 0h15m167 0h15m32 0h15m38 0h15m-5 0h15m-736 1h15m-10 0h15m-3 0h15m293 0h15m11 0h15m12 0h15m74 0h15m0 0h15m34 0h15m167 0h15m272 0h15m-1045 1h15m41 0h15m484 0h15m73 0h15m304 0h15m-708 1h15m172 0h15m5 0h15m-426 1h15m30 0h15m33 0h15m4 0h15m18 0h15m75 0h15m43 0h15m8 0h15m86 0h15m127 0h15m164 0h15m79 0h15m-916 1h15m11 0h15m166 0h15m205 0h15m274 0h15m-807 1h15m90 0h15m-13 0h15m-12 0h15m-10 0h15m14 0h15m20 0h15m36 0h15m230 0h15m147 0h15m-8 0h15m230 0h15m-843 1h15m5 0h15m-5 0h15m14 0h15m19 0h15m154 0h15m231 0h15m208 0h15m68 0h15m183 0h15m-981 1h15m-1 0h15m38 0h15m29 0h15m9 0h15m294 0h15m123 0h15m124 0h15m171 0h15m-992 1h15m35 0h15m40 0h15m35 0h15m44 0h15m331 0h15m144 0h15m6 0h15m51 0h15m149 0h15m-932 1h15m-6 0h15m-14 0h15m24 0h15m-13 0h15m78 0h15m17 0h15m-5 0h15m162 0h15m130 0h15m26 0h15m47 0h15m11 0h15m222 0h15m-917 1h15m95 0h15m56 0h15m343 0h15m99 0h15m-696 1h15m35 0h15m22 0h15m60 0h15m1 0h15m549 0h15m-680 1h15m-4 0h15m99 0h15m136 0h15m298 0h15m-366 1h15m-12 0h15m132 0h15m-14 0h15m42 0h15m70 0h15m70 0h15m29 0h15m-738 1h15m28 0h15m164 0h15m13 0h15m127 0h15m109 0h15m23 0h15m63 0h15m46 0h15m183 0h15m-821 1h15m203 0h15m83 0h15m59 0h15m34 0h15m25 0h15m335 0h15m-931 1h15m16 0h15m41 0h15m22 0h15m3 0h15m22 0h15m65 0h15m55 0h15m-3 0h15m-115 1h15m128 0h15m108 0h15m242 0h15m326 0h15m-1047 1h15m163 0h15m22 0h15m82 0h15m-9 0h15m3 0h15m16 0h15m19 0h15m-6 0h15m78 0h15m43 0h15m97 0h15m-733 1h15m12 0h15m47 0h15m13 0h15m24 0h15m158 0h15m203 0h15m-9 0h15m92 0h15m210 0h15m-897 1h15m16 0h15m24 0h15m12 0h15m-14 0h15m1 0h15m41 0h15m185 0h15m-11 0h15m21 0h15m31 0h15m-6 0h15m90 0h15m-15 0h15m127 0h15m-704 1h15m-7 0h15m15 0h15m-3 0h15m5 0h15m-12 0h15m-6 0h15m15 0h15m-10 0h15m202 0h15m272 0h15m-645 1h15m36 0h15m1 0h15m6 0h15m192 0h15m54 0h15m-363 1h15m25 0h15m-15 0h15m65 0h15m2 0h15m297 0h15m168 0h15m160 0h15m100 0h15m-912 1h15m43 0h15m216 0h15m51 0h15m80 0h15m-540 1h15m56 0h15m291 0h15m133 0h15m271 0h15m-3 0h15m-800 1h15m79 0h15m277 0h15m-3 0h15m133 0h15m-585 1h15m47 0h15m-8 0h15m26 0h15m-12 0h15m-15 0h15m-3 0h15m56 0h15m238 0h15m95 0h15m398 0h15m-914 1h15m64 0h15m79 0h15m284 0h15m318 0h15m-886 1h15m33 0h15m63 0h15m10 0h15m29 0h15m3 0h15m37 0h15m13 0h15m20 0h15m75 0h15m158 0h15m51 0h15m323 0h15m-1041 1h15m71 0h15m17 0h15m4 0h15m17 0h15m4 0h15m187 0h15m133 0h15m-9 0h15m76 0h15m15 0h15m177 0h15m22 0h15m-1049 1h15m251 0h15m163 0h15m33 0h15m85 0h15m189 0h15m112 0h15m0 0h15m74 0h15m16 0h15m-847 1h15m36 0h15m-2 0h15m49 0h15m-2 0h15m53 0h15m0 0h15m62 0h15m65 0h15m241 0h15m-721 1h15m73 0h15m-7 0h15m159 0h15m16 0h15m-253 1h15m531 0h15m50 0h15m116 0h15m211 0h15m-1101 1h15m22 0h15m64 0h15m-7 0h15m-5 0h15m40 0h15m-4 0h15m3 0h15m-13 0h15m-6 0h15m-9 0h15m132 0h15m96 0h15m132 0h15m84 0h15m-5 0h15m244 0h15m-924 1h15m-2 0h15m-12 0h15m-13 0h15m9 0h15m34 0h15m20 0h15m-1 0h15m-14 0h15m436 0h15m5 0h15m89 0h15m-5 0h15m-827 1h15m79 0h15m15 0h15m32 0h15m8 0h15m157 0h15m138 0h15m-4 0h15m-389 1h15m23 0h15m-5 0h15m549 0h15m130 0h15m-844 1h15m18 0h15m43 0h15m214 0h15m102 0h15m208 0h15m-677 1h15m25 0h15m30 0h15m-5 0h15m-12 0h15m9 0h15m13 0h15m-9 0h15m17 0h15m65 0h15m6 0h15m297 0h15m34 0h15m8 0h15m-698 1h15m-12 0h15m58 0h15m21 0h15m44 0h15m161 0h15m-384 1h15m45 0h15m14 0h15m190 0h15m39 0h15m165 0h15m83 0h15m63 0h15m-679 1h15m16 0h15m32 0h15m-12 0h15m154 0h15m33 0h15m20 0h15m136 0h15m128 0h15m-649 1h15m2 0h15m25 0h15m0 0h15m77 0h15m78 0h15m40 0h15m131 0h15m27 0h15m71 0h15m-611 1h15m37 0h15m284 0h15m15 0h15m218 0h15m165 0h15m-793 1h15m18 0h15m18 0h15m182 0h15m389 0h15m97 0h15m35 0h15m-838 1h15m-4 0h15m-12 0h15m-11 0h15m62 0h15m3 0h15m-8 0h15m129 0h15m204 0h15m401 0h15m-910 1h15m-15 0h15m-10 0h15m211 0h15m76 0h15m-2 0h15m48 0h15m292 0h15m9 0h15m-14 0h15m59 0h15m219 0h15m-1109 1h15m31 0h15m5 0h15m14 0h15m-1 0h15m182 0h15m411 0h15m123 0h15m-3 0h15m-907 1h15m27 0h15m28 0h15m15 0h15m1 0h15m8 0h15m5 0h15m129 0h15m-7 0h15m-4 0h15m172 0h15m6 0h15m131 0h15m-5 0h15m79 0h15m-459 1h15m3 0h15m253 0h15m-13 0h15m78 0h15m51 0h15m24 0h15m74 0h15m-964 1h15m56 0h15m-12 0h15m-1 0h15m16 0h15m118 0h15m199 0h15m45 0h15m-573 1h15m157 0h15m-11 0h15m-10 0h15m56 0h15m104 0h15m401 0h15m180 0h15m-889 1h15m27 0h15m0 0h15m142 0h15m62 0h15m75 0h15m25 0h15m25 0h15m61 0h15m152 0h15m-11 0h15m-584 1h15m108 0h15m-12 0h15m245 0h15m-606 1h15m-10 0h15m59 0h15m-10 0h15m113 0h15m-12 0h15m18 0h15m142 0h15m-9 0h15m0 0h15m51 0h15m354 0h15m-884 1h15m50 0h15m-5 0h15m-6 0h15m77 0h15m69 0h15m50 0h15m162 0h15m-439 1h15m2 0h15m-12 0h15m32 0h15m10 0h15m25 0h15m3 0h15m238 0h15m26 0h15m21 0h15m67 0h15m48 0h15m-628 1h15m19 0h15m-10 0h15m176 0h15m2 0h15m137 0h15m-8 0h15m75 0h15m-514 1h15m16 0h15m26 0h15m-12 0h15m-10 0h15m149 0h15m1 0h15m53 0h15m74 0h15m-5 0h15m44 0h15m89 0h15m55 0h15m74 0h15m-790 1h15m65 0h15m7 0h15m-6 0h15m-10 0h15m6 0h15m269 0h15m260 0h15m54 0h15m-759 1h15m25 0h15m338 0h15m375 0h15m332 0h15m-1170 1h15m43 0h15m7 0h15m27 0h15m-12 0h15m22 0h15m10 0h15m74 0h15m4 0h15m-13 0h15m4 0h15m-3 0h15m38 0h15m15 0h15m20 0h15m168 0h15m19 0h15m-623 1h15m6 0h15m3 0h15m-11 0h15m36 0h15m-11 0h15m209 0h15m41 0h15m93 0h15m16 0h15m29 0h15m-645 1h15m10 0h15m65 0h15m16 0h15m30 0h15m54 0h15m41 0h15m62 0h15m62 0h15m-430 1h15m8 0h15m-1 0h15m369 0h15m-13 0h15m250 0h15m45 0h15m-781 1h15m14 0h15m-4 0h15m192 0h15m58 0h15m22 0h15m223 0h15m85 0h15m94 0h15m-857 1h15m15 0h15m-4 0h15m2 0h15m1 0h15m-3 0h15m6 0h15m33 0h15m190 0h15m59 0h15m16 0h15m256 0h15m-8 0h15m-744 1h15m-2 0h15m0 0h15m435 0h15m72 0h15m-529 1h15m-2 0h15m-13 0h15m60 0h15m68 0h15m10 0h15m92 0h15m64 0h15m246 0h15m144 0h15m-867 1h15m10 0h15m-1 0h15m26 0h15m339 0h15m131 0h15m59 0h15m13 0h15m8 0h15m91 0h15m-866 1h15m23 0h15m129 0h15m-7 0h15m38 0h15m-13 0h15m235 0h15m187 0h15m-817 1h15m85 0h15m35 0h15m-11 0h15m-7 0h15m149 0h15m189 0h15m61 0h15m-13 0h15m112 0h15m45 0h15m-705 1h15m-9 0h15m-5 0h15m77 0h15m21 0h15m-5 0h15m411 0h15m-559 1h15m1 0h15m1 0h15m10 0h15m25 0h15m21 0h15m23 0h15m-11 0h15m364 0h15m95 0h15m61 0h15m29 0h15m68 0h15m253 0h15m-1130 1h15m6 0h15m-3 0h15m-5 0h15m48 0h15m25 0h15m-1 0h15m17 0h15m138 0h15m51 0h15m134 0h15m137 0h15m-846 1h15m54 0h15m0 0h15m37 0h15m-9 0h15m-3 0h15m44 0h15m131 0h15m-234 1h15m1 0h15m6 0h15m12 0h15m-3 0h15m73 0h15m59 0h15m511 0h15m-775 1h15m-2 0h15m-12 0h15m-12 0h15m-2 0h15m53 0h15m28 0h15m434 0h15m-691 1h15m19 0h15m-10 0h15m7 0h15m-11 0h15m7 0h15m-12 0h15m30 0h15m57 0h15m19 0h15m113 0h15m37 0h15m21 0h15m268 0h15m-771 1h15m128 0h15m6 0h15m162 0h15m150 0h15m407 0h15m-890 1h15m87 0h15m9 0h15m30 0h15m1 0h15m-13 0h15m38 0h15m237 0h15m83 0h15m128 0h15m-735 1h15m8 0h15m-11 0h15m22 0h15m27 0h15m325 0h15m31 0h15m250 0h15m101 0h15m-906 1h15m13 0h15m14 0h15m-14 0h15m-1 0h15m20 0h15m-7 0h15m-4 0h15m30 0h15m65 0h15m34 0h15m613 0h15m-929 1h15m14 0h15m3 0h15m-3 0h15m14 0h15m1 0h15m75 0h15m34 0h15m19 0h15m9 0h15m203 0h15m327 0h15m-843 1h15m8 0h15m30 0h15m-1 0h15m-12 0h15m-3 0h15m17 0h15m133 0h15m104 0h15m19 0h15m8 0h15m54 0h15m129 0h15m115 0h15m19 0h15m-908 1h15m9 0h15m46 0h15m9 0h15m0 0h15m19 0h15m33 0h15m29 0h15m154 0h15m8 0h15m20 0h15m73 0h15m198 0h15m92 0h15m-802 1h15m-7 0h15m2 0h15m45 0h15m13 0h15m12 0h15m482 0h15m-774 1h15m73 0h15m-10 0h15m15 0h15m-6 0h15m22 0h15m133 0h15m592 0h15m-899 1h15m4 0h15m-1 0h15m-4 0h15m-11 0h15m5 0h15m-12 0h15m56 0h15m-11 0h15m2 0h15m98 0h15m399 0h15m-743 1h15m112 0h15m130 0h15m187 0h15m100 0h15m1 0h15m-588 1h15m-3 0h15m6 0h15m1 0h15m22 0h15m59 0h15m157 0h15m58 0h15m-446 1h15m-15 0h15m82 0h15m16 0h15m-10 0h15m88 0h15m155 0h15m67 0h15m10 0h15m234 0h15m-755 1h15m25 0h15m-7 0h15m-14 0h15m-1 0h15m17 0h15m96 0h15m468 0h15m-739 1h15m19 0h15m52 0h15m-11 0h15m-1 0h15m5 0h15m-7 0h15m-8 0h15m26 0h15m8 0h15m35 0h15m107 0h15m30 0h15m-421 1h15m16 0h15m-5 0h15m53 0h15m8 0h15m472 0h15m28 0h15m-681 1h15m8 0h15m-5 0h15m17 0h15m-15 0h15m-12 0h15m24 0h15m2 0h15m18 0h15m293 0h15m125 0h15m46 0h15m-687 1h15m10 0h15m27 0h15m14 0h15m445 0h15m-511 1h15m304 0h15m59 0h15m-558 1h15m202 0h15m-7 0h15m-14 0h15m52 0h15m65 0h15m-9 0h15m87 0h15m12 0h15m140 0h15m-9 0h15m337 0h15m-975 1h15m-11 0h15m67 0h15m-5 0h15m-12 0h15m23 0h15m42 0h15m-12 0h15m26 0h15m210 0h15m123 0h15m102 0h15m-647 1h15m9 0h15m6 0h15m185 0h15m31 0h15m-15 0h15m328 0h15m111 0h15m-873 1h15m22 0h15m66 0h15m15 0h15m4 0h15m-7 0h15m-1 0h15m-14 0h15m34 0h15m22 0h15m284 0h15m58 0h15m-1 0h15m350 0h15m-1028 1h15m42 0h15m-13 0h15m166 0h15m19 0h15m54 0h15m51 0h15m2 0h15m283 0h15m-14 0h15m155 0h15m-801 1h15m47 0h15m-10 0h15m29 0h15m39 0h15m53 0h15m220 0h15m-539 1h15m59 0h15m1 0h15m11 0h15m316 0h15m64 0h15m70 0h15m62 0h15m-715 1h15m55 0h15m-7 0h15m16 0h15m7 0h15m24 0h15m-1 0h15m-2 0h15m117 0h15m18 0h15m54 0h15m71 0h15m176 0h15m-668 1h15m-11 0h15m104 0h15m-12 0h15m61 0h15m213 0h15m454 0h15m-985 1h15m54 0h15m-4 0h15m-6 0h15m5 0h15m-7 0h15m254 0h15m43 0h15m16 0h15m-429 1h15m61 0h15m86 0h15m224 0h15m-3 0h15m59 0h15m126 0h15m5 0h15m-793 1h15m62 0h15m567 0h15m-644 1h15m40 0h15m6 0h15m9 0h15m38 0h15m6 0h15m38 0h15m402 0h15m-566 1h15m-3 0h15m38 0h15m80 0h15m120 0h15m0 0h15m334 0h15m-686 1h15m-13 0h15m6 0h15m6 0h15m30 0h15m-2 0h15m117 0h15m136 0h15m151 0h15m18 0h15m-677 1h15m60 0h15m21 0h15m-12 0h15m1 0h15m11 0h15m0 0h15m7 0h15m26 0h15m105 0h15m93 0h15m7 0h15m-6 0h15m114 0h15m-578 1h15m84 0h15m-4 0h15m265 0h15m58 0h15m71 0h15m-14 0h15m95 0h15m-662 1h15m-4 0h15m66 0h15m27 0h15m130 0h15m23 0h15m79 0h15m236 0h15m-699 1h15m25 0h15m-13 0h15m-15 0h15m18 0h15m-13 0h15m5 0h15m9 0h15m181 0h15m50 0h15m-320 1h15m-1 0h15m-9 0h15m54 0h15m-9 0h15m120 0h15m-9 0h15m25 0h15m70 0h15m653 0h15m-1062 1h15m107 0h15m32 0h15m94 0h15m270 0h15m45 0h15m89 0h15m-861 1h15m-4 0h15m8 0h15m13 0h15m104 0h15m-5 0h15m56 0h15m25 0h15m-13 0h15m139 0h15m459 0h15m-901 1h15m25 0h15m-15 0h15m7 0h15m-6 0h15m56 0h15m17 0h15m193 0h15m284 0h15m-677 1h15m-7 0h15m-11 0h15m-10 0h15m9 0h15m22 0h15m20 0h15m38 0h15m135 0h15m52 0h15m-7 0h15m109 0h15m-492 1h15m-10 0h15m19 0h15m25 0h15m16 0h15m120 0h15m108 0h15m332 0h15m8 0h15m-828 1h15m96 0h15m12 0h15m24 0h15m80 0h15m-197 1h15m7 0h15m13 0h15m44 0h15m10 0h15m157 0h15m100 0h15m-462 1h15m38 0h15m-1 0h15m-15 0h15m-11 0h15m40 0h15m22 0h15m3 0h15m70 0h15m9 0h15m123 0h15m220 0h15m11 0h15m-734 1h15m8 0h15m-3 0h15m2 0h15m13 0h15m-7 0h15m4 0h15m16 0h15m18 0h15m-138 1h15m30 0h15m203 0h15m168 0h15m-520 1h15m-7 0h15m8 0h15m-4 0h15m6 0h15m21 0h15m-14 0h15m31 0h15m18 0h15m-13 0h15m10 0h15m-2 0h15m148 0h15m29 0h15m5 0h15m78 0h15m-519 1h15m15 0h15m51 0h15m1 0h15m266 0h15m12 0h15m-13 0h15m116 0h15m108 0h15m-752 1h15m5 0h15m18 0h15m16 0h15m-12 0h15m22 0h15m-7 0h15m3 0h15m-9 0h15m2 0h15m14 0h15m33 0h15m161 0h15m333 0h15m-720 1h15m-13 0h15m-1 0h15m1 0h15m-6 0h15m2 0h15m-9 0h15m46 0h15m68 0h15m125 0h15m32 0h15m-416 1h15m-10 0h15m73 0h15m76 0h15m74 0h15m279 0h15m-613 1h15m14 0h15m14 0h15m1 0h15m6 0h15m-15 0h15m-11 0h15m197 0h15m193 0h15m-523 1h15m4 0h15m24 0h15m27 0h15m-15 0h15m371 0h15m-14 0h15m-484 1h15m14 0h15m-5 0h15m11 0h15m-9 0h15m-11 0h15m11 0h15m103 0h15m42 0h15m499 0h15m-779 1h15m-4 0h15m-4 0h15m28 0h15m156 0h15m503 0h15m89 0h15m-912 1h15m78 0h15m7 0h15m65 0h15m81 0h15m20 0h15m150 0h15m134 0h15m-615 1h15m56 0h15m187 0h15m30 0h15m-371 1h15m1 0h15m72 0h15m36 0h15m100 0h15m296 0h15m34 0h15m-612 1h15m-1 0h15m2 0h15m217 0h15m137 0h15m-592 1h15m134 0h15m15 0h15m9 0h15m15 0h15m-12 0h15m286 0h15m76 0h15m-477 1h15m11 0h15m38 0h15m-2 0h15m196 0h15m63 0h15m132 0h15m3 0h15m85 0h15m-757 1h15m21 0h15m73 0h15m17 0h15m-14 0h15m19 0h15m198 0h15m127 0h15m296 0h15m-854 1h15m56 0h15m21 0h15m0 0h15m4 0h15m-5 0h15m18 0h15m117 0h15m194 0h15m98 0h15m-621 1h15m14 0h15m-14 0h15m95 0h15m60 0h15m149 0h15m80 0h15m7 0h15m-571 1h15m40 0h15m61 0h15m-6 0h15m16 0h15m-2 0h15m-1 0h15m-14 0h15m287 0h15m-408 1h15m35 0h15m-14 0h15m11 0h15m12 0h15m45 0h15m63 0h15m522 0h15m-793 1h15m2 0h15m-3 0h15m34 0h15m336 0h15m-429 1h15m-7 0h15m8 0h15m-12 0h15m66 0h15m32 0h15m-5 0h15m16 0h15m-12 0h15m21 0h15m131 0h15m520 0h15m-980 1h15m-15 0h15m7 0h15m6 0h15m6 0h15m-2 0h15m-14 0h15m-8 0h15m0 0h15m13 0h15m523 0h15m129 0h15m-840 1h15m72 0h15m15 0h15m-13 0h15m12 0h15m-157 1h15m61 0h15m33 0h15m-6 0h15m136 0h15m26 0h15m-12 0h15m7 0h15m266 0h15m-650 1h15m20 0h15m11 0h15m11 0h15m72 0h15m11 0h15m-215 1h15m-7 0h15m-11 0h15m19 0h15m9 0h15m276 0h15m135 0h15m262 0h15m-814 1h15m55 0h15m8 0h15m40 0h15m145 0h15m70 0h15m23 0h15m-411 1h15m5 0h15m56 0h15m121 0h15m410 0h15m-693 1h15m1 0h15m9 0h15m-9 0h15m7 0h15m22 0h15m9 0h15m-9 0h15m122 0h15m44 0h15m400 0h15m-763 1h15m28 0h15m0 0h15m-14 0h15m-9 0h15m5 0h15m36 0h15m44 0h15m-239 1h15m33 0h15m43 0h15m-2 0h15m188 0h15m10 0h15m-325 1h15m20 0h15m13 0h15m2 0h15m4 0h15m179 0h15m122 0h15m22 0h15m-458 1h15m28 0h15m7 0h15m218 0h15m154 0h15m-554 1h15m-3 0h15m-8 0h15m10 0h15m16 0h15m63 0h15m10 0h15m484 0h15m-683 1h15m37 0h15m36 0h15m455 0h15m-594 1h15m55 0h15m11 0h15m2 0h15m-13 0h15m65 0h15m117 0h15m-362 1h15m37 0h15m26 0h15m4 0h15m21 0h15m87 0h15m-236 1h15m35 0h15m0 0h15m5 0h15m4 0h15m23 0h15m-9 0h15m60 0h15m121 0h15m-5 0h15m323 0h15m-682 1h15m135 0h15m131 0h15m-333 1h15m-5 0h15m-8 0h15m4 0h15m62 0h15m52 0h15m418 0h15m-641 1h15m75 0h15m30 0h15m424 0h15m53 0h15m-672 1h15m30 0h15m25 0h15m15 0h15m-3 0h15m30 0h15m36 0h15m25 0h15m-270 1h15m92 0h15m4 0h15m2 0h15m399 0h15m6 0h15m-574 1h15m16 0h15m73 0h15m68 0h15m62 0h15m48 0h15m239 0h15m-157 1h15m-531 1h15m39 0h15m124 0h15m283 0h15m5 0h15m3 0h15m-447 1h15m-10 0h15m14 0h15m287 0h15m599 0h15m-977 1h15m13 0h15m26 0h15m40 0h15m217 0h15m230 0h15m-578 1h15m-8 0h15m-5 0h15m12 0h15m64 0h15m246 0h15m1 0h15m-431 1h15m0 0h15m-12 0h15m-7 0h15m10 0h15m17 0h15m24 0h15m188 0h15m154 0h15m-551 1h15m69 0h15m1 0h15m54 0h15m-273 1h15m58 0h15m-1 0h15m760 0h15m-752 1h15m136 0h15m138 0h15m18 0h15m70 0h15m153 0h15m-676 1h15m3 0h15m-10 0h15m13 0h15m13 0h15m21 0h15m51 0h15m63 0h15m-283 1h15m90 0h15m-11 0h15m6 0h15m3 0h15m-13 0h15m8 0h15m419 0h15m-523 1h15m5 0h15m-1 0h15m73 0h15m-2 0h15m1 0h15m575 0h15m-792 1h15m57 0h15m-6 0h15m283 0h15m-201 1h15m-37 1h15m471 0h15m-665 1h15m0 0h15m1 0h15m-15 0h15m61 0h15m-135 1h15m-1 0h15m19 0h15m-10 0h15m-14 0h15m-6 0h15m-14 0h15m14 0h15m-2 0h15m59 0h15m-156 1h15m-6 0h15m12 0h15m175 0h15m-260 1h15m9 0h15m0 0h15m0 0h15m229 0h15m47 0h15m-318 1h15m2 0h15m-2 0h15m87 0h15m-9 0h15m142 0h15m-441 1h15m45 0h15m-3 0h15m4 0h15m-1 0h15m2 0h15m-7 0h15m5 0h15m-3 0h15m3 0h15m31 0h15m82 0h15m-224 1h15m3 0h15m280 0h15m70 0h15m-466 1h15m47 0h15m-118 1h15m66 0h15m3 0h15m22 0h15m81 0h15m20 0h15m85 0h15m44 0h15m-433 1h15m24 0h15m-3 0h15m24 0h15m77 0h15m-10 0h15m0 0h15m-13 0h15m20 0h15m117 0h15m45 0h15m178 0h15m-573 1h15m-8 0h15m36 0h15m-2 0h15m431 0h15m50 0h15m-586 1h15m169 0h15m-105 1h15m35 0h15m93 0h15m433 0h15m-804 1h15m92 0h15m60 0h15m8 0h15m48 0h15m574 0h15m-883 1h15m68 0h15m21 0h15m699 0h15m-796 1h15m57 0h15m322 0h15m-428 1h15m127 0h15m192 0h15m81 0h15m-500 1h15m54 0h15m25 0h15m91 0h15m326 0h15m-585 1h15m-4 0h15m105 0h15m219 0h15m6 0h15m33 0h15m-462 1h15m45 0h15m8 0h15m7 0h15m3 0h15m23 0h15m-2 0h15m-14 0h15m87 0h15m132 0h15m324 0h15m-696 1h15m7 0h15m12 0h15m46 0h15m206 0h15m119 0h15m-486 1h15m79 0h15m176 0h15m-328 1h15m-9 0h15m399 0h15m-432 1h15m427 0h15m-469 1h15m101 0h15m219 0h15m316 0h15m-697 1h15m54 0h15m96 0h15m33 0h15m133 0h15m65 0h15m325 0h15m-831 1h15m61 0h15m39 0h15m12 0h15m312 0h15m-490 1h15m78 0h15m18 0h15m7 0h15m18 0h15m-161 1h15m59 0h15m6 0h15m110 0h15m167 0h15m-386 2h15m90 0h15m330 0h15m-381 1h15m-13 0h15m100 0h15m404 0h15m-659 1h15m51 0h15m-1 0h15m96 0h15m140 0h15m414 0h15m-717 1h15m-12 0h15m-13 0h15m314 0h15m-403 1h15m15 0h15m3 0h15m-96 1h15m120 0h15m15 0h15m66 0h15m7 0h15m-225 1h15m7 0h15m-2 0h15m10 0h15m51 1h15m202 0h15m-388 2h15m42 0h15m-11 0h15m-10 0h15m298 0h15m-364 1h15m31 0h15m182 0h15m-275 1h15m441 0h15m-522 1h15m30 0h15m78 0h15m22 0h15m249 0h15m283 0h15m-726 1h15m45 0h15m-102 1h15m83 0h15m-5 0h15m155 0h15m32 0h15m-333 1h15m19 0h15m312 0h15m-330 1h15m12 0h15m25 0h15m-109 1h15m-1 0h15m74 0h15m-8 0h15m64 0h15m-226 1h15m9 0h15m77 0h15m-7 0h15m-3 0h15m5 0h15m-127 1h15m-11 0h15m5 0h15m5 0h15m-11 1h15m-13 0h15m30 0h15m16 0h15m-177 1h15m65 0h15m7 0h15m-9 0h15m-160 1h15m90 0h15m-10 1h15m0 0h15m35 0h15m247 0h15m326 0h15m303 0h15m-1047 1h15m-8 0h15m18 0h15m110 0h15m190 0h15m18 0h15m321 0h15m-784 1h15m34 0h15m18 1h15m19 0h15m-46 1h15m14 0h15m184 0h15m469 0h15m-734 2h15m-67 1h15m7 0h15m22 1h15m-46 1h15m10 0h15m33 0h15m-15 1h15m-30 1h15m8 0h15m16 0h15m122 0h15m-340 1h15m428 0h15m-43 1h15m-486 1h15m68 0h15m-48 1h15m17 0h15m-2 0h15m76 0h15m-116 1h15m87 0h15m111 0h15m-185 1h15m-78 1h15m65 0h15m-103 1h15m44 0h15m8 0h15m40 0h15m9 0h15m-133 1h15m250 1h15m-215 1h15m-2 0h15m29 1h15m-127 1h15m-4 0h15m-3 0h15m86 1h15m-49 1h15m-34 3h15m-99 1h15m31 0h15m41 0h15m271 1h15m-55 1h15m-392 1h15m74 0h15m584 0h15m-621 1h15m-125 1h15m22 0h15m53 0h15m29 0h15m-144 1h15m29 0h15m110 0h15m312 0h15m-485 1h15m-18 1h15m15 0h15m32 0h15m-77 1h15m5 0h15m-5 1h15m-109 1h15m95 0h15m-8 0h15m-27 1h15m-14 1h15m75 0h15m-97 1h15m-13 0h15m19 0h15m-200 1h15m80 0h15m97 0h15m18 0h15m572 0h15m-704 1h15m74 0h15m35 0h15m56 0h15m-246 1h15m29 1h15m33 0h15m-3 0h15m462 0h15m-577 1h15m-18 1h15m-178 1h15m140 0h15m-135 1h15m24 0h15m37 2h15m37 0h15m263 0h15m-372 1h15m-2 0h15m45 0h15m-37 1h15m-26 1h15m18 0h15m-124 1h15m97 0h15m-102 1h15m32 0h15m-4 0h15m444 0h15m-488 1h15m300 0h15m-91 1h15m-190 2h15m-92 1h15m39 0h15m-81 1h15m497 2h15m-573 1h15m441 1h15m-380 1h15m29 1h15m-51 1h15m75 1h15m-217 2h15m53 0h15m-13 1h15m-4 0h15m-43 1h15m275 1h15m-268 1h15m-26 1h15m128 1h15m-14 1h15m-114 1h15m-68 1h15m26 1h15m160 0h15m-42 1h15m-154 8h15m290 0h15m-556 2h15m161 1h15m32 3h15m-127 1h15m68 0h15m16 1h15m24 2h15m-22 1h15m17 0h15m-131 1h15m-83 1h15m102 3h15m-62 1h15m36 0h15m496 0h15m-562 1h15m-6 1h15m-43 1h15m45 0h15m-42 2h15m69 1h15m-175 3h15m14 4h15m66 0h15m-69 1h15m-150 4h15m208 2h15m-149 1h15m29 2h15m86 0h15m-143 1h15m52 1h15m-78 3h15m-78 1h15m83 0h15m-94 1h15m81 0h15m-116 2h15m88 5h15m74 2h15m-150 3h15m57 0h15m-154 1h15m1 0h15m67 1h15m-118 1h15m26 0h15m90 0h15m0 0h15m-95 1h15m-72 8h15m-9 0h15m33 1h15m-42 4h15m52 0h15m249 0h15m-355 1h15m-37 5h15m92 1h15m8 0h15m-148 1h15m80 2h15m-57 3h15m22 1h15m-21 4h15m-71 1h15m137 1h15m-113 1h15m-91 3h15m-5 0h15m-14 0h15m-12 1h15m13 1h15m-68 1h15m-7 8h15m19 2h15m-37 2h15m22 0h15m-9 18h15m11 0h15m-59 5h15m112 5h15m-151 1h15m-86 5h15m32 1h15m82 0h15m-138 4h15m61 0h15m-15 6h15m-40 2h15m-37 16h15m-61 20h15m83 2h15m38 13h15m-62 6h15m-49 14h15m-18 20h15m-41 76h15"/><path id="L80" transform="scale(0.1)" d="M428 105h15m702 38h15m-452 32h15m-178 6h15m737 14h15m-828 2h15m736 2h15m-31 9h15m12 0h15m-2 3h15m72 6h15m-67 3h15m-12 2h15m-540 1h15m538 4h15m-57 3h15m-1047 2h15m384 5h15m457 0h15m199 0h15m-550 4h15m-526 3h15m1099 0h15m-571 3h15m321 0h15m-62 2h15m128 0h15m-91 5h15m-798 2h15m720 2h15m-448 1h15m107 1h15m428 3h15m-60 1h15m39 4h15m42 2h15m-203 4h15m163 0h15m-5 0h15m-125 2h15m-53 1h15m18 1h15m20 0h15m-2 0h15m28 0h15m-138 1h15m-769 2h15m794 0h15m-83 2h15m-9 1h15m-40 3h15m25 0h15m1 0h15m-2 0h15m-150 1h15m155 0h15m-176 2h15m-556 1h15m184 0h15m470 0h15m23 0h15m-326 1h15m160 1h15m21 0h15m-71 1h15m-5 0h15m97 0h15m-225 1h15m37 1h15m-271 1h15m176 0h15m130 0h15m11 0h15m-177 1h15m29 0h15m101 0h15m125 0h15m-144 1h15m25 0h15m-594 1h15m479 0h15m43 0h15m-391 1h15m379 0h15m49 0h15m66 0h15m-176 1h15m-8 2h15m-49 1h15m103 0h15m-34 1h15m-562 1h15m481 0h15m-97 1h15m42 0h15m1 0h15m-364 1h15m166 0h15m-14 0h15m10 0h15m82 0h15m4 1h15m0 0h15m-34 1h15m16 0h15m-440 1h15m334 0h15m30 0h15m91 0h15m-578 1h15m495 0h15m-129 1h15m40 0h15m78 0h15m-146 1h15m29 0h15m0 0h15m-627 1h15m613 0h15m-2 0h15m-93 1h15m-451 1h15m480 0h15m-825 1h15m503 0h15m308 0h15m-46 1h15m31 0h15m-125 1h15m50 0h15m-416 1h15m362 0h15m6 0h15m-55 1h15m-908 2h15m744 0h15m274 0h15m-205 1h15m-11 0h15m53 0h15m-71 1h15m92 0h15m-176 1h15m-405 1h15m426 0h15m15 0h15m-13 0h15m33 0h15m-705 1h15m663 0h15m9 0h15m-318 1h15m251 0h15m34 0h15m-480 2h15m301 0h15m-9 0h15m23 1h15m19 0h15m-8 0h15m-13 0h15m8 0h15m-48 1h15m-5 0h15m13 0h15m8 0h15m-119 1h15m5 1h15m80 0h15m-98 2h15m6 0h15m-13 0h15m-8 1h15m67 0h15m-170 1h15m-319 1h15m299 0h15m100 0h15m2 0h15m-87 1h15m-88 1h15m27 0h15m25 0h15m-47 1h15m-154 1h15m67 0h15m-15 0h15m72 0h15m6 0h15m-2 0h15m-6 0h15m-379 1h15m352 0h15m-179 1h15m22 0h15m38 0h15m-6 1h15m49 0h15m-65 1h15m53 0h15m-159 1h15m6 0h15m4 0h15m-7 0h15m-504 1h15m413 0h15m42 0h15m69 0h15m-1016 1h15m931 0h15m1 0h15m-2 0h15m8 0h15m-483 1h15m332 0h15m-10 0h15m35 0h15m3 0h15m66 0h15m-527 1h15m318 0h15m1 0h15m76 0h15m25 0h15m24 0h15m-866 1h15m680 0h15m20 1h15m16 0h15m-9 0h15m-266 1h15m177 0h15m49 1h15m14 0h15m-477 1h15m260 0h15m28 0h15m61 0h15m-11 0h15m10 0h15m35 0h15m80 0h15m-162 1h15m-4 0h15m8 0h15m36 0h15m-7 0h15m-222 2h15m-8 0h15m35 0h15m-13 0h15m-12 0h15m47 0h15m17 0h15m29 0h15m-883 1h15m701 0h15m65 0h15m8 0h15m-444 1h15m343 0h15m74 0h15m-85 1h15m34 0h15m-15 0h15m16 0h15m-861 1h15m703 0h15m-11 0h15m24 0h15m-866 1h15m537 0h15m186 0h15m109 0h15m-82 1h15m-352 1h15m220 0h15m62 0h15m15 0h15m31 0h15m16 0h15m26 0h15m-739 1h15m569 0h15m42 0h15m21 0h15m-462 1h15m68 0h15m179 0h15m41 0h15m-15 0h15m2 0h15m58 0h15m1 0h15m16 0h15m44 0h15m27 0h15m-248 1h15m-3 0h15m-14 0h15m66 0h15m-30 1h15m31 0h15m-5 0h15m4 0h15m-111 1h15m3 0h15m-63 1h15m-7 0h15m0 0h15m78 0h15m1 0h15m-1015 1h15m623 0h15m203 0h15m45 0h15m8 1h15m-2 0h15m16 0h15m-11 0h15m5 0h15m-1014 1h15m822 0h15m34 0h15m-14 0h15m-741 1h15m659 0h15m49 0h15m-462 1h15m278 0h15m134 0h15m-465 1h15m132 0h15m26 0h15m234 0h15m28 0h15m51 0h15m-270 1h15m68 0h15m-1 0h15m-251 1h15m236 0h15m-1 0h15m-396 1h15m312 0h15m9 0h15m41 0h15m-2 0h15m44 0h15m-269 1h15m46 0h15m179 0h15m-74 1h15m25 0h15m-98 1h15m22 0h15m87 0h15m-729 1h15m556 0h15m41 0h15m8 0h15m13 0h15m-991 1h15m73 0h15m385 0h15m326 0h15m1 0h15m97 0h15m-636 1h15m532 0h15m-337 1h15m43 0h15m312 0h15m-78 1h15m52 0h15m-1 0h15m55 0h15m-1008 1h15m371 0h15m404 0h15m48 0h15m5 0h15m38 0h15m-110 1h15m16 0h15m-110 1h15m-11 0h15m14 0h15m53 0h15m24 0h15m-1 0h15m-871 1h15m66 0h15m32 0h15m336 0h15m177 0h15m19 0h15m-8 0h15m122 0h15m51 1h15m-168 1h15m13 0h15m-12 0h15m8 0h15m32 0h15m47 0h15m38 0h15m-690 1h15m116 0h15m355 0h15m28 0h15m-1029 1h15m53 0h15m496 0h15m156 0h15m-11 0h15m134 0h15m7 0h15m16 0h15m-903 1h15m869 0h15m77 0h15m-139 1h15m-12 0h15m26 0h15m-915 1h15m500 0h15m201 0h15m111 0h15m55 0h15m1 0h15m4 0h15m-177 1h15m45 0h15m34 0h15m23 0h15m16 0h15m222 1h15m-730 1h15m63 0h15m-7 0h15m265 0h15m18 0h15m40 0h15m-13 0h15m-2 0h15m-113 1h15m-99 1h15m68 0h15m6 0h15m49 0h15m1 0h15m-9 0h15m-236 1h15m61 0h15m38 0h15m100 0h15m-466 1h15m289 0h15m-2 0h15m-11 0h15m28 0h15m48 0h15m-391 1h15m51 0h15m198 0h15m-353 1h15m278 0h15m66 0h15m7 0h15m-3 0h15m29 0h15m17 0h15m-890 1h15m433 0h15m36 0h15m80 0h15m35 0h15m44 0h15m35 0h15m-439 1h15m467 0h15m18 0h15m-884 1h15m678 0h15m-14 0h15m3 0h15m28 0h15m17 0h15m91 0h15m-539 1h15m66 0h15m228 0h15m9 0h15m27 0h15m-15 0h15m76 0h15m-979 1h15m213 0h15m161 0h15m403 0h15m-12 0h15m75 0h15m69 0h15m2 0h15m-977 1h15m204 0h15m115 0h15m151 0h15m306 0h15m15 0h15m59 0h15m-483 1h15m33 0h15m235 0h15m-3 0h15m25 0h15m-653 1h15m540 0h15m59 0h15m17 0h15m-6 0h15m6 0h15m-859 1h15m-4 0h15m360 0h15m35 0h15m407 0h15m4 0h15m-221 1h15m148 0h15m11 0h15m21 0h15m-253 1h15m-11 0h15m101 0h15m53 0h15m12 0h15m-494 1h15m348 0h15m-13 0h15m33 0h15m23 0h15m10 0h15m-4 0h15m-451 1h15m6 0h15m35 0h15m175 0h15m10 0h15m140 0h15m-902 1h15m341 0h15m173 0h15m203 0h15m50 0h15m-9 0h15m-405 1h15m351 0h15m-835 1h15m-11 0h15m-2 0h15m597 0h15m78 0h15m4 0h15m16 0h15m26 0h15m50 0h15m-1077 1h15m165 0h15m389 0h15m15 0h15m275 0h15m91 0h15m67 0h15m-178 1h15m-11 0h15m21 0h15m-10 0h15m-9 0h15m11 0h15m-413 1h15m138 0h15m147 0h15m29 0h15m32 0h15m-568 1h15m359 0h15m-2 0h15m63 0h15m4 0h15m35 0h15m2 0h15m-11 0h15m9 0h15m-412 1h15m321 0h15m-2 0h15m-577 1h15m119 0h15m90 0h15m267 0h15m-2 0h15m-7 0h15m-14 0h15m-11 0h15m-11 0h15m9 0h15m22 0h15m12 0h15m-1082 1h15m45 0h15m214 0h15m287 0h15m10 0h15m218 0h15m31 0h15m24 0h15m-13 0h15m16 0h15m-790 1h15m792 0h15m21 0h15m-1039 1h15m910 0h15m-861 1h15m433 0h15m402 0h15m10 0h15m1 0h15m133 0h15m-565 1h15m87 0h15m313 0h15m58 0h15m40 0h15m-1230 1h15m175 0h15m97 0h15m175 0h15m446 0h15m39 0h15m32 0h15m11 0h15m32 0h15m-714 1h15m511 0h15m0 0h15m-112 1h15m88 0h15m21 0h15m3 0h15m38 0h15m1 0h15m21 0h15m-969 1h15m109 0h15m76 0h15m320 0h15m62 0h15m172 0h15m-651 1h15m10 0h15m284 0h15m39 0h15m261 0h15m5 0h15m17 0h15m129 0h15m-659 1h15m86 0h15m-3 0h15m58 0h15m-15 0h15m-750 1h15m31 0h15m109 0h15m173 0h15m211 0h15m183 0h15m149 0h15m61 0h15m3 0h15m10 0h15m-394 1h15m139 0h15m130 0h15m13 0h15m35 0h15m-7 0h15m-137 1h15m-7 0h15m39 0h15m-14 0h15m79 0h15m-958 1h15m103 0h15m118 0h15m549 0h15m34 0h15m39 0h15m4 0h15m-885 1h15m61 0h15m287 0h15m349 0h15m-11 0h15m29 0h15m151 0h15m-544 1h15m210 0h15m170 0h15m20 0h15m-688 1h15m112 0h15m493 0h15m-12 0h15m-949 1h15m94 0h15m383 0h15m339 0h15m25 0h15m75 0h15m-508 1h15m100 0h15m193 0h15m-8 0h15m12 0h15m73 0h15m-884 1h15m44 0h15m101 0h15m72 0h15m185 0h15m87 0h15m196 0h15m6 0h15m15 0h15m23 0h15m-809 1h15m234 0h15m108 0h15m317 0h15m88 0h15m9 0h15m-164 1h15m23 0h15m10 0h15m56 0h15m-988 1h15m494 0h15m57 0h15m114 0h15m100 0h15m60 0h15m3 0h15m76 0h15m-2 0h15m-1114 1h15m-7 0h15m24 0h15m111 0h15m12 0h15m83 0h15m671 0h15m1 0h15m11 0h15m6 0h15m-921 1h15m67 0h15m348 0h15m264 0h15m62 0h15m-403 1h15m42 0h15m28 0h15m12 0h15m250 0h15m10 0h15m30 0h15m-230 1h15m26 0h15m55 0h15m15 0h15m84 0h15m-750 1h15m130 0h15m239 0h15m154 0h15m-4 0h15m20 0h15m26 0h15m-10 0h15m29 0h15m-966 1h15m18 0h15m146 0h15m28 0h15m18 0h15m626 0h15m6 0h15m-1044 1h15m78 0h15m73 0h15m690 0h15m123 0h15m7 0h15m46 0h15m21 0h15m-1058 1h15m55 0h15m138 0h15m163 0h15m249 0h15m251 0h15m12 0h15m-676 1h15m312 0h15m257 0h15m-14 0h15m-1 0h15m4 0h15m-12 0h15m34 0h15m76 0h15m-619 1h15m-15 0h15m277 0h15m17 0h15m96 0h15m-4 0h15m-892 1h15m60 0h15m-3 0h15m69 0h15m341 0h15m40 0h15m186 0h15m54 0h15m20 0h15m72 0h15m-973 1h15m118 0h15m546 0h15m138 0h15m3 0h15m6 0h15m24 0h15m-945 1h15m111 0h15m20 0h15m17 0h15m99 0h15m231 0h15m57 0h15m6 0h15m137 0h15m38 0h15m66 0h15m-1109 1h15m59 0h15m181 0h15m224 0h15m53 0h15m308 0h15m51 0h15m26 0h15m41 0h15m29 0h15m-393 1h15m-378 1h15m167 0h15m-13 0h15m52 0h15m50 0h15m46 0h15m223 0h15m40 0h15m15 0h15m46 0h15m-806 1h15m269 0h15m181 0h15m186 0h15m21 0h15m-916 1h15m-5 0h15m232 0h15m704 0h15m-929 1h15m-209 1h15m1001 0h15m-906 1h15m100 0h15m39 0h15m14 0h15m152 0h15m21 0h15m16 0h15m160 0h15m96 0h15m59 0h15m104 0h15m114 0h15m-1063 1h15m152 0h15m43 0h15m76 0h15m434 0h15m72 0h15m108 0h15m29 0h15m-430 1h15m161 0h15m-5 0h15m48 0h15m96 0h15m-660 1h15m183 0h15m187 0h15m-652 1h15m713 0h15m-11 0h15m108 0h15m-15 0h15m-899 1h15m-13 0h15m86 0h15m81 0h15m185 0h15m5 0h15m35 0h15m-4 0h15m39 0h15m41 0h15m285 0h15m-14 0h15m27 0h15m-940 1h15m877 0h15m-869 1h15m42 0h15m292 0h15m359 0h15m-9 0h15m96 0h15m-894 1h15m691 0h15m-2 0h15m-3 0h15m62 0h15m-4 0h15m106 0h15m41 0h15m-1031 1h15m151 0h15m-2 0h15m571 0h15m13 0h15m24 0h15m37 0h15m-908 1h15m147 0h15m14 0h15m621 0h15m9 0h15m-3 0h15m-8 0h15m11 0h15m-925 1h15m144 0h15m482 0h15m127 0h15m15 0h15m-15 0h15m57 0h15m4 0h15m57 0h15m-1017 1h15m9 0h15m110 0h15m330 0h15m-2 0h15m-2 0h15m190 0h15m123 0h15m-37 1h15m-14 0h15m22 0h15m-856 1h15m10 0h15m-6 0h15m402 0h15m35 0h15m116 0h15m228 0h15m-930 1h15m48 0h15m368 0h15m350 0h15m94 0h15m-882 1h15m233 0h15m226 0h15m19 0h15m227 0h15m-5 0h15m-860 1h15m485 0h15m7 0h15m10 0h15m72 0h15m149 0h15m37 0h15m15 0h15m102 0h15m28 0h15m-1109 1h15m23 0h15m247 0h15m321 0h15m126 0h15m115 0h15m42 0h15m60 0h15m-941 1h15m-13 0h15m58 0h15m-2 0h15m2 0h15m324 0h15m0 0h15m458 0h15m-799 1h15m15 0h15m61 0h15m455 0h15m50 0h15m103 0h15m17 0h15m-1130 1h15m11 0h15m111 0h15m-5 0h15m529 0h15m109 0h15m205 0h15m-13 0h15m0 0h15m-879 1h15m338 0h15m-4 0h15m66 0h15m56 0h15m205 0h15m11 0h15m61 0h15m-861 1h15m205 0h15m23 0h15m47 0h15m340 0h15m38 0h15m-3 0h15m48 0h15m-822 1h15m468 0h15m137 0h15m106 0h15m14 0h15m33 0h15m-12 0h15m-819 1h15m9 0h15m3 0h15m30 0h15m205 0h15m114 0h15m19 0h15m177 0h15m112 0h15m27 0h15m-935 1h15m-10 0h15m40 0h15m-2 0h15m61 0h15m320 0h15m-13 0h15m150 0h15m143 0h15m5 0h15m90 0h15m-14 0h15m-974 1h15m62 0h15m-9 0h15m1 0h15m7 0h15m5 0h15m-8 0h15m59 0h15m261 0h15m416 0h15m-3 0h15m-4 0h15m-801 1h15m7 0h15m-8 0h15m91 0h15m154 0h15m-13 0h15m178 0h15m131 0h15m115 0h15m-880 1h15m779 0h15m62 0h15m-7 0h15m-1031 1h15m-4 0h15m64 0h15m164 0h15m146 0h15m110 0h15m160 0h15m-8 0h15m111 0h15m39 0h15m79 0h15m-974 1h15m143 0h15m46 0h15m36 0h15m651 0h15m-6 0h15m-837 1h15m164 0h15m236 0h15m216 0h15m130 0h15m-12 0h15m-940 1h15m52 0h15m28 0h15m626 0h15m63 0h15m198 0h15m-1059 1h15m1 0h15m76 0h15m61 0h15m702 0h15m-10 0h15m-487 1h15m121 0h15m383 0h15m-877 1h15m46 0h15m0 0h15m213 0h15m-6 0h15m96 0h15m378 0h15m-8 0h15m-883 1h15m30 0h15m292 0h15m118 0h15m329 0h15m26 0h15m-839 1h15m110 0h15m254 0h15m37 0h15m224 0h15m26 0h15m80 0h15m-11 0h15m10 0h15m-1086 1h15m108 0h15m-4 0h15m5 0h15m10 0h15m50 0h15m142 0h15m587 0h15m-805 1h15m5 0h15m222 0h15m187 0h15m235 0h15m20 0h15m-800 1h15m167 0h15m314 0h15m112 0h15m248 0h15m-1102 1h15m70 0h15m64 0h15m36 0h15m41 0h15m22 0h15m280 0h15m136 0h15m254 0h15m-940 1h15m138 0h15m-3 0h15m17 0h15m362 0h15m105 0h15m173 0h15m65 0h15m-784 1h15m36 0h15m571 0h15m33 0h15m20 0h15m25 0h15m-901 1h15m34 0h15m46 0h15m163 0h15m291 0h15m-598 1h15m333 0h15m81 0h15m326 0h15m41 0h15m53 0h15m-922 1h15m-12 0h15m-1 0h15m-13 0h15m223 0h15m-15 0h15m333 0h15m59 0h15m36 0h15m155 0h15m5 0h15m-721 1h15m176 0h15m70 0h15m46 0h15m257 0h15m-9 0h15m3 0h15m111 0h15m-878 1h15m2 0h15m35 0h15m374 0h15m147 0h15m34 0h15m16 0h15m-944 1h15m92 0h15m17 0h15m412 0h15m198 0h15m33 0h15m135 0h15m-1060 1h15m47 0h15m40 0h15m153 0h15m62 0h15m283 0h15m-3 0h15m-3 0h15m239 0h15m-885 1h15m388 0h15m23 0h15m464 0h15m-869 1h15m49 0h15m22 0h15m52 0h15m201 0h15m136 0h15m-11 0h15m362 0h15m139 0h15m-689 1h15m112 0h15m47 0h15m2 0h15m-5 0h15m-12 0h15m45 0h15m269 0h15m25 0h15m-1107 1h15m151 0h15m61 0h15m-5 0h15m-3 0h15m331 0h15m31 0h15m37 0h15m-655 1h15m19 0h15m68 0h15m-11 0h15m26 0h15m-10 0h15m201 0h15m65 0h15m66 0h15m233 0h15m73 0h15m1 0h15m15 0h15m-1064 1h15m337 0h15m29 0h15m-13 0h15m214 0h15m41 0h15m17 0h15m28 0h15m15 0h15m205 0h15m20 0h15m4 0h15m40 0h15m-929 1h15m-3 0h15m51 0h15m-9 0h15m604 0h15m-685 1h15m23 0h15m39 0h15m48 0h15m-8 0h15m254 0h15m96 0h15m-599 1h15m-11 0h15m37 0h15m-6 0h15m16 0h15m-5 0h15m102 0h15m485 0h15m175 0h15m-985 1h15m56 0h15m33 0h15m108 0h15m61 0h15m167 0h15m49 0h15m6 0h15m300 0h15m25 0h15m-1023 1h15m39 0h15m109 0h15m10 0h15m30 0h15m26 0h15m-2 0h15m88 0h15m111 0h15m88 0h15m-15 0h15m160 0h15m65 0h15m102 0h15m-975 1h15m105 0h15m125 0h15m30 0h15m554 0h15m98 0h15m-936 1h15m277 0h15m168 0h15m442 0h15m-976 1h15m-9 0h15m27 0h15m-2 0h15m13 0h15m20 0h15m61 0h15m-15 0h15m254 0h15m-490 1h15m-8 0h15m-10 0h15m138 0h15m0 0h15m10 0h15m25 0h15m27 0h15m129 0h15m45 0h15m134 0h15m115 0h15m77 0h15m-864 1h15m108 0h15m-1 0h15m17 0h15m275 0h15m396 0h15m-1041 1h15m230 0h15m7 0h15m409 0h15m96 0h15m68 0h15m79 0h15m81 0h15m-1064 1h15m81 0h15m62 0h15m70 0h15m3 0h15m75 0h15m269 0h15m-4 0h15m-3 0h15m82 0h15m3 0h15m205 0h15m-890 1h15m35 0h15m108 0h15m61 0h15m28 0h15m205 0h15m259 0h15m-687 1h15m-10 0h15m73 0h15m-174 1h15m-10 0h15m-3 0h15m22 0h15m13 0h15m9 0h15m165 0h15m18 0h15m443 0h15m-864 1h15m148 0h15m-8 0h15m-10 0h15m-8 0h15m307 0h15m104 0h15m0 0h15m227 0h15m-801 1h15m39 0h15m71 0h15m186 0h15m239 0h15m20 0h15m187 0h15m-885 1h15m32 0h15m50 0h15m36 0h15m23 0h15m334 0h15m301 0h15m63 0h15m-980 1h15m26 0h15m32 0h15m88 0h15m59 0h15m329 0h15m-653 1h15m27 0h15m3 0h15m15 0h15m78 0h15m754 0h15m-917 1h15m83 0h15m24 0h15m257 0h15m47 0h15m34 0h15m41 0h15m46 0h15m-672 1h15m2 0h15m56 0h15m27 0h15m101 0h15m138 0h15m106 0h15m65 0h15m3 0h15m225 0h15m-798 1h15m89 0h15m67 0h15m238 0h15m19 0h15m-12 0h15m35 0h15m-663 1h15m60 0h15m31 0h15m50 0h15m52 0h15m0 0h15m-14 0h15m-2 0h15m34 0h15m111 0h15m-11 0h15m17 0h15m110 0h15m-370 1h15m209 0h15m159 0h15m77 0h15m82 0h15m10 0h15m-896 1h15m136 0h15m76 0h15m8 0h15m115 0h15m88 0h15m89 0h15m41 0h15m-641 1h15m10 0h15m27 0h15m81 0h15m11 0h15m155 0h15m110 0h15m7 0h15m391 0h15m-891 1h15m148 0h15m12 0h15m119 0h15m163 0h15m308 0h15m95 0h15m-924 1h15m298 0h15m132 0h15m-474 1h15m321 0h15m89 0h15m81 0h15m66 0h15m-2 0h15m-747 1h15m14 0h15m-5 0h15m12 0h15m7 0h15m63 0h15m23 0h15m81 0h15m2 0h15m147 0h15m432 0h15m-934 1h15m1 0h15m119 0h15m236 0h15m54 0h15m11 0h15m39 0h15m287 0h15m-832 1h15m87 0h15m4 0h15m-11 0h15m39 0h15m-13 0h15m20 0h15m-14 0h15m76 0h15m-13 0h15m45 0h15m121 0h15m18 0h15m-553 1h15m-4 0h15m31 0h15m-9 0h15m-6 0h15m438 0h15m219 0h15m-754 1h15m40 0h15m16 0h15m21 0h15m21 0h15m8 0h15m-6 0h15m8 0h15m66 0h15m88 0h15m-323 1h15m12 0h15m26 0h15m-11 0h15m6 0h15m76 0h15m84 0h15m150 0h15m159 0h15m-778 1h15m-4 0h15m134 0h15m75 0h15m297 0h15m242 0h15m-773 1h15m128 0h15m29 0h15m305 0h15m18 0h15m-634 1h15m-2 0h15m62 0h15m74 0h15m133 0h15m28 0h15m101 0h15m83 0h15m17 0h15m50 0h15m145 0h15m-877 1h15m46 0h15m10 0h15m476 0h15m155 0h15m-760 1h15m28 0h15m50 0h15m55 0h15m27 0h15m9 0h15m-2 0h15m219 0h15m205 0h15m-678 1h15m1 0h15m41 0h15m32 0h15m124 0h15m168 0h15m5 0h15m75 0h15m152 0h15m-926 1h15m87 0h15m173 0h15m-13 0h15m15 0h15m20 0h15m3 0h15m97 0h15m139 0h15m67 0h15m2 0h15m0 0h15m314 0h15m-815 1h15m55 0h15m28 0h15m-148 1h15m-6 0h15m10 0h15m34 0h15m14 0h15m76 0h15m188 0h15m41 0h15m189 0h15m126 0h15m14 0h15m85 0h15m-933 1h15m56 0h15m-11 0h15m-10 0h15m-14 0h15m15 0h15m629 0h15m-912 1h15m64 0h15m-3 1h15m-11 0h15m29 0h15m57 0h15m-12 0h15m44 0h15m168 0h15m24 0h15m199 0h15m-645 1h15m21 0h15m-15 0h15m72 0h15m420 0h15m66 0h15m220 0h15m-815 1h15m208 0h15m73 0h15m53 0h15m-12 0h15m19 0h15m-13 0h15m41 0h15m24 0h15m307 0h15m-915 1h15m-9 0h15m3 0h15m-13 0h15m52 0h15m-11 0h15m138 0h15m31 0h15m-13 0h15m174 0h15m6 0h15m3 0h15m47 0h15m-729 1h15m18 0h15m214 0h15m48 0h15m311 0h15m-529 1h15m-1 0h15m-10 0h15m16 0h15m17 0h15m195 0h15m25 0h15m112 0h15m92 0h15m99 0h15m-2 0h15m82 0h15m-929 1h15m-8 0h15m138 0h15m15 0h15m32 0h15m-5 0h15m2 0h15m30 0h15m210 0h15m51 0h15m86 0h15m81 0h15m-874 1h15m124 0h15m43 0h15m71 0h15m11 0h15m-6 0h15m150 0h15m45 0h15m105 0h15m464 0h15m-1159 1h15m153 0h15m36 0h15m22 0h15m30 0h15m23 0h15m-12 0h15m-14 0h15m33 0h15m13 0h15m184 0h15m-617 1h15m229 0h15m3 0h15m-4 0h15m23 0h15m165 0h15m37 0h15m115 0h15m54 0h15m-7 0h15m-8 0h15m197 0h15m-696 1h15m78 0h15m99 0h15m341 0h15m-895 1h15m123 0h15m69 0h15m67 0h15m17 0h15m270 0h15m-515 1h15m297 0h15m156 0h15m-522 1h15m34 0h15m82 0h15m-12 0h15m11 0h15m-10 0h15m-5 0h15m-2 0h15m9 0h15m37 0h15m282 0h15m-12 0h15m117 0h15m85 0h15m51 0h15m-782 1h15m6 0h15m9 0h15m77 0h15m-5 0h15m3 0h15m-12 0h15m352 0h15m-547 1h15m119 0h15m83 0h15m276 0h15m99 0h15m-630 1h15m112 0h15m344 0h15m-8 0h15m15 0h15m-647 1h15m40 0h15m148 0h15m6 0h15m1 0h15m-8 0h15m48 0h15m26 0h15m253 0h15m4 0h15m81 0h15m-873 1h15m54 0h15m41 0h15m-3 0h15m16 0h15m66 0h15m37 0h15m2 0h15m50 0h15m303 0h15m75 0h15m28 0h15m-715 1h15m83 0h15m5 0h15m57 0h15m24 0h15m230 0h15m47 0h15m296 0h15m-839 1h15m17 0h15m41 0h15m-15 0h15m29 0h15m0 0h15m-5 0h15m177 0h15m131 0h15m44 0h15m112 0h15m-626 1h15m20 0h15m-6 0h15m33 0h15m84 0h15m91 0h15m-361 1h15m-13 0h15m42 0h15m4 0h15m564 0h15m23 0h15m-733 1h15m57 0h15m-14 0h15m2 0h15m390 0h15m96 0h15m-648 1h15m9 0h15m25 0h15m-4 0h15m85 0h15m5 0h15m-15 0h15m126 0h15m193 0h15m153 0h15m-814 1h15m80 0h15m68 0h15m20 0h15m-5 0h15m3 0h15m-15 0h15m21 0h15m-1 0h15m50 0h15m255 0h15m75 0h15m-661 1h15m1 0h15m72 0h15m16 0h15m1 0h15m15 0h15m39 0h15m53 0h15m152 0h15m160 0h15m-651 1h15m64 0h15m20 0h15m103 0h15m-2 0h15m26 0h15m9 0h15m174 0h15m88 0h15m60 0h15m-643 1h15m-2 0h15m0 0h15m-11 0h15m-3 0h15m-4 0h15m28 0h15m-6 0h15m-8 0h15m-5 0h15m22 0h15m341 0h15m-428 1h15m5 0h15m102 0h15m189 0h15m336 0h15m-853 1h15m75 0h15m9 0h15m-2 0h15m73 0h15m62 0h15m514 0h15m-955 1h15m1 0h15m125 0h15m-9 0h15m-12 0h15m3 0h15m14 0h15m69 0h15m32 0h15m-14 0h15m-14 0h15m42 0h15m254 0h15m294 0h15m-843 1h15m61 0h15m54 0h15m-11 0h15m2 0h15m288 0h15m66 0h15m140 0h15m-650 1h15m78 0h15m-4 0h15m31 0h15m6 0h15m-4 0h15m143 0h15m147 0h15m-581 1h15m-2 0h15m39 0h15m-14 0h15m86 0h15m484 0h15m-6 0h15m-727 1h15m0 0h15m144 0h15m3 0h15m4 0h15m145 0h15m-438 1h15m36 0h15m24 0h15m15 0h15m67 0h15m-14 0h15m39 0h15m18 0h15m18 0h15m-1 0h15m-285 1h15m21 0h15m8 0h15m66 0h15m-7 0h15m1 0h15m1 0h15m221 0h15m129 0h15m85 0h15m43 0h15m-815 1h15m63 0h15m33 0h15m-15 0h15m13 0h15m19 0h15m1 0h15m-6 0h15m26 0h15m-10 0h15m15 0h15m-9 0h15m-9 0h15m-11 0h15m-12 0h15m-4 0h15m-6 0h15m-10 0h15m-11 0h15m0 0h15m164 0h15m101 0h15m-624 1h15m100 0h15m14 0h15m288 0h15m54 0h15m35 0h15m-452 1h15m61 0h15m30 0h15m180 0h15m633 0h15m-1145 1h15m172 0h15m73 0h15m204 0h15m10 0h15m-373 1h15m-14 0h15m33 0h15m23 0h15m26 0h15m97 0h15m42 0h15m-402 1h15m54 0h15m32 0h15m52 0h15m192 0h15m-10 0h15m159 0h15m40 0h15m111 0h15m153 0h15m-955 1h15m32 0h15m1 0h15m67 0h15m42 0h15m4 0h15m-5 0h15m-12 0h15m-8 0h15m89 0h15m97 0h15m94 0h15m263 0h15m-982 1h15m463 0h15m277 0h15m29 0h15m132 0h15m-777 1h15m-10 0h15m-3 0h15m2 0h15m-15 0h15m16 0h15m2 0h15m2 0h15m4 0h15m-6 0h15m442 0h15m-563 1h15m93 0h15m328 0h15m118 0h15m-613 1h15m135 0h15m7 0h15m78 0h15m7 0h15m235 0h15m-522 1h15m65 0h15m7 0h15m10 0h15m2 0h15m45 0h15m182 0h15m24 0h15m11 0h15m-639 1h15m61 0h15m52 0h15m-7 0h15m31 0h15m-12 0h15m19 0h15m508 0h15m-693 1h15m76 0h15m-6 0h15m-3 0h15m335 0h15m16 0h15m48 0h15m5 0h15m-645 1h15m55 0h15m452 0h15m88 0h15m-711 1h15m76 0h15m42 0h15m-6 0h15m19 0h15m-11 0h15m-7 0h15m20 0h15m424 0h15m-13 0h15m-503 1h15m95 0h15m102 0h15m-12 0h15m261 0h15m-714 1h15m78 0h15m3 0h15m91 0h15m2 0h15m24 0h15m19 0h15m134 0h15m-529 1h15m86 0h15m3 0h15m13 0h15m10 0h15m27 0h15m-9 0h15m34 0h15m307 0h15m60 0h15m-532 1h15m37 0h15m51 0h15m-11 0h15m28 0h15m-12 0h15m-4 0h15m81 0h15m8 0h15m7 0h15m109 0h15m74 0h15m99 0h15m-693 1h15m-8 0h15m54 0h15m48 0h15m4 0h15m39 0h15m49 0h15m122 0h15m35 0h15m-422 1h15m34 0h15m-9 0h15m6 0h15m9 0h15m-6 0h15m53 0h15m42 0h15m301 0h15m129 0h15m51 0h15m-819 1h15m22 0h15m67 0h15m168 0h15m71 0h15m107 0h15m90 0h15m-569 1h15m-10 0h15m-10 0h15m-4 0h15m28 0h15m21 0h15m19 0h15m259 0h15m178 0h15m-582 1h15m16 0h15m34 0h15m85 0h15m-252 1h15m77 0h15m-1 0h15m20 0h15m9 0h15m0 0h15m217 0h15m133 0h15m-616 1h15m23 0h15m-10 0h15m32 0h15m68 0h15m23 0h15m-248 1h15m231 0h15m-13 0h15m96 0h15m177 0h15m-422 1h15m-12 0h15m56 0h15m6 0h15m74 0h15m267 0h15m-530 1h15m62 0h15m29 0h15m65 0h15m41 0h15m531 0h15m-976 1h15m72 0h15m112 0h15m79 0h15m416 0h15m92 0h15m-746 1h15m20 0h15m28 0h15m30 0h15m-1 0h15m0 0h15m115 0h15m4 0h15m172 0h15m59 0h15m-517 1h15m67 0h15m-1 0h15m-2 0h15m20 0h15m-15 0h15m-247 1h15m18 0h15m7 0h15m46 0h15m-2 0h15m3 0h15m45 0h15m-13 0h15m356 0h15m-537 1h15m40 0h15m-14 0h15m36 0h15m-9 0h15m-10 0h15m3 0h15m-13 0h15m85 0h15m56 0h15m-339 1h15m61 0h15m-12 0h15m17 0h15m37 0h15m28 0h15m107 0h15m33 0h15m118 0h15m-662 1h15m226 0h15m1 0h15m-1 0h15m-2 0h15m13 0h15m21 0h15m52 0h15m-307 1h15m33 0h15m-14 0h15m93 0h15m163 0h15m202 0h15m33 0h15m-610 1h15m20 0h15m70 0h15m-3 0h15m16 0h15m27 0h15m-12 0h15m-3 0h15m25 0h15m399 0h15m4 0h15m-705 1h15m17 0h15m-12 0h15m-6 0h15m63 0h15m-3 0h15m89 0h15m251 0h15m16 0h15m-694 1h15m136 0h15m33 0h15m22 0h15m405 0h15m23 0h15m-588 1h15m40 0h15m-9 0h15m8 0h15m-7 0h15m130 0h15m-350 1h15m43 0h15m93 0h15m13 0h15m-11 0h15m22 0h15m23 0h15m48 0h15m327 0h15m79 0h15m-743 1h15m96 0h15m52 0h15m24 0h15m7 0h15m-11 0h15m-311 1h15m8 0h15m129 0h15m-11 0h15m-4 0h15m-11 0h15m60 0h15m-9 0h15m10 0h15m66 0h15m-392 1h15m80 0h15m1 0h15m7 0h15m62 0h15m27 0h15m19 0h15m497 0h15m49 0h15m-744 1h15m9 0h15m16 0h15m8 0h15m79 0h15m55 0h15m-7 0h15m137 0h15m40 0h15m166 0h15m-626 1h15m-10 0h15m141 0h15m-10 0h15m-9 0h15m300 0h15m-662 1h15m155 0h15m-8 0h15m23 0h15m-7 0h15m12 0h15m-14 0h15m-13 0h15m35 0h15m61 0h15m145 0h15m154 0h15m-6 0h15m60 0h15m-642 1h15m29 0h15m29 0h15m94 0h15m11 0h15m109 0h15m-15 0h15m143 0h15m38 0h15m-617 1h15m43 0h15m-14 0h15m95 0h15m49 0h15m45 0h15m193 0h15m-444 1h15m48 0h15m-8 0h15m-11 0h15m35 0h15m-1 0h15m16 0h15m12 0h15m127 0h15m101 0h15m281 0h15m-926 1h15m4 0h15m88 0h15m16 0h15m220 0h15m-3 0h15m96 0h15m207 0h15m47 0h15m102 0h15m-979 1h15m126 0h15m-9 0h15m25 0h15m23 0h15m3 0h15m38 0h15m5 0h15m10 0h15m-4 0h15m-246 1h15m125 0h15m12 0h15m3 0h15m50 0h15m447 0h15m-643 1h15m66 0h15m5 0h15m-11 0h15m122 0h15m213 0h15m41 0h15m-497 1h15m-78 1h15m91 0h15m-10 0h15m-12 0h15m-3 0h15m0 0h15m341 0h15m383 0h15m-1007 1h15m15 0h15m13 0h15m18 0h15m33 0h15m-13 0h15m14 0h15m14 0h15m16 0h15m120 0h15m235 0h15m215 0h15m-930 1h15m59 0h15m-2 0h15m85 0h15m-8 0h15m-9 0h15m1 0h15m37 0h15m-13 0h15m15 0h15m8 0h15m-12 0h15m-14 0h15m87 0h15m327 0h15m-725 1h15m12 0h15m-6 0h15m65 0h15m-11 0h15m-3 0h15m41 0h15m-8 0h15m-14 0h15m11 0h15m199 0h15m365 0h15m-773 1h15m47 0h15m0 0h15m-11 0h15m46 0h15m-5 0h15m92 0h15m-429 1h15m85 0h15m5 0h15m44 0h15m84 0h15m-6 0h15m38 0h15m76 0h15m-10 0h15m266 0h15m159 0h15m-590 1h15m-5 0h15m27 0h15m714 0h15m-893 1h15m3 0h15m8 0h15m61 0h15m13 0h15m-8 0h15m721 0h15m-1093 1h15m18 0h15m13 0h15m3 0h15m132 0h15m101 0h15m45 0h15m10 0h15m-10 0h15m385 0h15m21 0h15m-808 1h15m70 0h15m170 0h15m29 0h15m16 0h15m-3 0h15m83 0h15m5 0h15m11 0h15m-371 1h15m-13 0h15m73 0h15m47 0h15m36 0h15m78 0h15m-436 1h15m10 0h15m103 0h15m16 0h15m-13 0h15m-13 0h15m15 0h15m33 0h15m33 0h15m3 0h15m30 0h15m177 0h15m-528 1h15m64 0h15m-14 0h15m22 0h15m115 0h15m300 0h15m-749 1h15m158 0h15m2 0h15m10 0h15m52 0h15m-1 0h15m29 0h15m8 0h15m254 0h15m-463 1h15m41 0h15m36 0h15m43 0h15m81 0h15m-518 1h15m205 0h15m-10 0h15m56 0h15m22 0h15m102 0h15m-223 1h15m2 0h15m158 0h15m16 0h15m70 0h15m-361 1h15m28 0h15m-13 0h15m-7 0h15m-11 0h15m40 0h15m-3 0h15m31 0h15m147 0h15m-411 1h15m125 0h15m-10 0h15m148 0h15m-14 0h15m-232 1h15m37 0h15m10 0h15m2 0h15m27 0h15m-9 0h15m110 0h15m52 0h15m-356 1h15m81 0h15m16 0h15m12 0h15m28 0h15m60 0h15m281 0h15m-495 1h15m-10 0h15m-3 0h15m-7 0h15m-11 0h15m-225 1h15m24 0h15m99 0h15m93 0h15m-10 0h15m95 0h15m-307 1h15m22 0h15m-9 0h15m119 0h15m13 0h15m14 0h15m-11 0h15m163 0h15m-13 0h15m34 0h15m159 0h15m17 0h15m-497 1h15m17 0h15m6 0h15m13 0h15m472 0h15m-802 1h15m22 0h15m26 0h15m19 0h15m5 0h15m80 0h15m62 0h15m78 0h15m270 0h15m-640 1h15m24 0h15m-13 0h15m1 0h15m84 0h15m17 0h15m265 0h15m-500 1h15m-5 0h15m68 0h15m267 0h15m86 0h15m-596 1h15m90 0h15m35 0h15m14 0h15m41 0h15m-4 0h15m21 0h15m-6 0h15m120 0h15m157 0h15m-674 1h15m156 0h15m43 0h15m2 0h15m4 0h15m6 0h15m-6 0h15m-4 0h15m-7 0h15m-4 0h15m-6 0h15m20 0h15m106 0h15m173 0h15m-571 1h15m54 0h15m57 0h15m26 0h15m-12 0h15m-4 0h15m14 0h15m77 0h15m-413 1h15m184 0h15m40 0h15m12 0h15m13 0h15m-310 1h15m69 0h15m69 0h15m136 0h15m64 0h15m-294 1h15m1 0h15m134 0h15m109 0h15m127 0h15m-527 1h15m64 0h15m30 0h15m-3 0h15m27 0h15m-7 0h15m60 0h15m113 0h15m290 0h15m-781 1h15m92 0h15m12 0h15m105 0h15m101 0h15m-316 1h15m-11 0h15m38 0h15m34 0h15m9 0h15m1 0h15m29 0h15m-11 0h15m5 0h15m-13 0h15m-13 0h15m52 0h15m33 0h15m-253 1h15m-5 0h15m117 0h15m25 0h15m-281 1h15m73 0h15m18 0h15m40 0h15m22 0h15m-211 1h15m99 0h15m244 0h15m-385 1h15m25 0h15m60 0h15m80 0h15m75 0h15m451 0h15m-835 1h15m83 0h15m108 0h15m12 0h15m37 0h15m-224 1h15m-15 0h15m4 0h15m43 0h15m24 0h15m56 0h15m109 0h15m-335 1h15m-5 0h15m-6 0h15m-5 0h15m32 0h15m33 0h15m10 0h15m-13 0h15m2 0h15m-9 0h15m-8 0h15m-158 1h15m8 0h15m-5 0h15m-15 0h15m56 0h15m465 0h15m98 0h15m-749 1h15m59 0h15m-13 0h15m4 0h15m8 0h15m24 0h15m9 0h15m-14 0h15m89 0h15m222 0h15m-629 1h15m111 0h15m35 0h15m14 0h15m12 0h15m65 0h15m74 0h15m-354 1h15m141 0h15m79 0h15m-2 0h15m27 0h15m-13 0h15m257 0h15m-7 0h15m-380 1h15m21 0h15m69 0h15m116 0h15m-438 1h15m-14 0h15m40 0h15m12 0h15m8 0h15m136 0h15m-300 1h15m189 0h15m153 0h15m-412 1h15m159 0h15m22 0h15m67 0h15m-429 1h15m24 0h15m244 0h15m19 0h15m24 0h15m50 0h15m168 0h15m181 0h15m-629 1h15m73 0h15m413 0h15m-517 1h15m4 0h15m54 0h15m89 0h15m10 0h15m-381 1h15m52 0h15m-12 0h15m27 0h15m70 0h15m-13 0h15m-3 0h15m16 0h15m0 0h15m-10 0h15m24 0h15m43 0h15m-287 1h15m114 0h15m31 0h15m-288 1h15m86 0h15m58 0h15m3 0h15m62 0h15m-178 1h15m8 0h15m177 0h15m-1 0h15m-215 1h15m13 0h15m52 0h15m128 0h15m208 0h15m158 0h15m-632 1h15m17 0h15m-7 0h15m34 0h15m11 0h15m108 0h15m-271 1h15m110 0h15m82 0h15m-7 0h15m-354 1h15m107 0h15m10 0h15m30 0h15m55 0h15m-315 1h15m186 0h15m51 0h15m0 0h15m432 0h15m259 0h15m-964 1h15m96 0h15m0 0h15m-243 1h15m161 0h15m113 0h15m-159 1h15m94 0h15m90 0h15m-12 0h15m22 0h15m150 0h15m109 0h15m41 0h15m-565 1h15m203 0h15m213 0h15m-552 1h15m19 0h15m90 0h15m23 0h15m30 0h15m-4 0h15m406 0h15m-633 1h15m120 0h15m84 0h15m10 0h15m-278 1h15m21 0h15m-7 0h15m17 0h15m6 0h15m28 0h15m180 0h15m-2 0h15m207 0h15m-577 1h15m132 0h15m0 0h15m-1 0h15m45 0h15m-228 1h15m-3 0h15m-14 0h15m31 0h15m6 0h15m28 0h15m-13 0h15m-12 0h15m7 0h15m10 0h15m-4 0h15m-2 0h15m5 0h15m64 0h15m226 0h15m-569 1h15m17 0h15m23 0h15m7 0h15m7 0h15m21 0h15m11 0h15m13 0h15m6 0h15m6 0h15m-4 0h15m-237 1h15m154 0h15m80 0h15m-343 1h15m94 0h15m115 0h15m120 0h15m71 0h15m-180 1h15m-78 1h15m-12 0h15m-128 1h15m-7 0h15m55 0h15m2 0h15m-3 1h15m0 0h15m-351 1h15m130 0h15m18 0h15m11 0h15m84 0h15m54 0h15m282 0h15m-630 1h15m70 0h15m115 0h15m-7 0h15m-5 0h15m-253 1h15m1 0h15m21 0h15m17 0h15m-5 0h15m2 0h15m31 0h15m205 0h15m-370 1h15m37 0h15m22 0h15m30 0h15m35 0h15m62 0h15m59 0h15m171 0h15m-397 1h15m93 0h15m8 0h15m104 0h15m81 0h15m-702 1h15m231 0h15m62 0h15m-276 1h15m265 0h15m42 0h15m7 0h15m29 0h15m-14 0h15m24 0h15m69 0h15m24 0h15m286 0h15m162 0h15m-872 1h15m40 0h15m-2 0h15m96 0h15m-330 1h15m103 0h15m106 0h15m62 0h15m-9 0h15m12 0h15m-173 1h15m119 0h15m-3 1h15m-251 1h15m79 0h15m-10 0h15m95 0h15m-246 1h15m10 0h15m21 0h15m48 0h15m57 0h15m97 0h15m-299 1h15m219 0h15m-165 1h15m29 0h15m3 0h15m59 0h15m-267 1h15m43 0h15m1 0h15m41 0h15m162 0h15m20 0h15m-321 1h15m41 0h15m96 0h15m349 0h15m-459 1h15m60 0h15m92 0h15m-10 0h15m-232 1h15m58 0h15m11 0h15m-184 1h15m103 0h15m298 0h15m211 0h15m-561 1h15m-9 0h15m-7 0h15m16 0h15m-184 1h15m141 0h15m25 0h15m-312 1h15m192 0h15m14 0h15m-23 1h15m-12 0h15m5 0h15m-5 0h15m10 0h15m75 0h15m-241 1h15m43 0h15m225 1h15m-8 0h15m-209 1h15m22 0h15m51 0h15m-182 1h15m16 0h15m81 0h15m16 0h15m-9 0h15m50 0h15m37 0h15m-332 1h15m-124 1h15m83 0h15m-15 0h15m73 0h15m-3 0h15m6 0h15m9 0h15m62 0h15m-334 1h15m120 0h15m-5 0h15m63 0h15m64 0h15m51 0h15m-277 1h15m0 0h15m90 0h15m75 0h15m-170 1h15m655 0h15m-775 1h15m118 0h15m115 0h15m-8 0h15m-159 1h15m44 0h15m47 0h15m31 0h15m36 0h15m-306 1h15m34 0h15m-44 1h15m108 0h15m-247 1h15m192 0h15m20 0h15m7 0h15m165 0h15m-420 1h15m76 0h15m106 0h15m113 0h15m-93 1h15m-8 0h15m132 0h15m-337 1h15m58 0h15m73 0h15m-199 1h15m45 0h15m-260 1h15m187 0h15m12 0h15m66 0h15m72 0h15m-281 1h15m59 0h15m-8 0h15m-1 0h15m20 0h15m216 0h15m-284 1h15m-38 1h15m5 0h15m69 0h15m-10 0h15m115 1h15m-299 1h15m-143 1h15m87 1h15m99 0h15m21 0h15m16 0h15m60 0h15m-111 1h15m3 0h15m-160 1h15m105 0h15m243 0h15m-329 1h15m19 0h15m37 0h15m-67 1h15m73 0h15m-157 1h15m186 0h15m-324 1h15m79 0h15m81 0h15m69 0h15m140 0h15m-424 2h15m45 0h15m-1 0h15m138 0h15m0 0h15m-151 1h15m0 0h15m29 0h15m18 0h15m-109 1h15m119 0h15m-160 1h15m78 0h15m59 0h15m278 1h15m-366 1h15m-243 1h15m60 0h15m167 0h15m82 0h15m179 0h15m-334 1h15m3 0h15m39 0h15m-216 1h15m115 0h15m-15 0h15m25 1h15m-135 2h15m144 0h15m-138 1h15m14 0h15m91 0h15m-135 1h15m-138 1h15m157 0h15m-10 0h15m-229 1h15m73 0h15m124 0h15m-174 1h15m27 0h15m-61 1h15m-14 0h15m83 1h15m21 0h15m-95 1h15m-239 1h15m173 0h15m-167 1h15m242 0h15m62 1h15m-11 0h15m-249 1h15m50 0h15m20 0h15m-64 2h15m-93 1h15m36 0h15m-6 1h15m-112 2h15m117 0h15m-1 0h15m3 0h15m129 0h15m-174 1h15m-101 1h15m109 0h15m6 2h15m97 0h15m-209 1h15m8 1h15m122 0h15m-224 1h15m176 0h15m69 1h15m-228 1h15m112 0h15m38 2h15m-288 1h15m61 0h15m59 2h15m35 0h15m-158 1h15m92 1h15m-289 2h15m97 1h15m-5 1h15m-13 2h15m172 0h15m190 0h15m-330 2h15m14 1h15m10 0h15m-163 1h15m418 0h15m-424 1h15m229 1h15m-26 1h15m-318 3h15m178 0h15m9 1h15m6 2h15m-221 2h15m95 1h15m-37 1h15m68 0h15m-64 2h15m407 2h15m-275 1h15m-298 1h15m121 1h15m98 2h15m-90 1h15m94 1h15m-181 1h15m106 0h15m-112 1h15m59 0h15m-254 2h15m107 4h15m-187 1h15m14 5h15m34 0h15m154 0h15m-237 1h15m226 6h15m-148 4h15m294 0h15m-458 2h15m78 3h15m132 3h15m-195 4h15m79 0h15m26 5h15m26 1h15m-172 3h15m32 4h15m-64 3h15m-46 5h15m-162 6h15m324 3h15m-246 2h15m5 2h15m184 7h15m-230 1h15m150 0h15m-148 1h15m133 6h15m-92 8h15m-63 1h15m107 0h15m-170 3h15m19 0h15m373 3h15m-3 0h15m-567 3h15m18 1h15m137 1h15m-63 5h15m44 1h15m131 8h15m-189 2h15m-62 13h15m87 2h15m54 0h15m64 2h15m-286 3h15m72 0h15m-104 1h15m179 2h15m-72 12h15m-43 2h15m-122 3h15m-74 1h15m90 14h15m-79 8h15m25 1h15m-44 3h15m239 1h15m-173 9h15m-85 3h15m13 1h15m-8 2h15m158 0h15m-203 6h15m-31 8h15m-19 6h15m37 3h15m-15 14h15m-23 8h15m-86 3h15m39 12h15m-73 7h15m28 7h15m77 14h15m-197 1h15m83 10h15m32 20h15m-25 3h15m-60 5h15m-102 2h15m105 9h15m-32 7h15m66 54h15m-60 47h15"/><path id="U86" transform="scale(0.1)" d="M1308 367h15m-49 11h15m-12 4h15m-115 37h15m-607 18h15m-310 2h15m969 15h15m-1164 5h15m1217 1h15m-916 3h15m805 13h15m-14 12h15m-125 8h15m-911 8h15m926 2h15m19 6h15m-67 2h15m32 2h15m122 0h15m-1071 6h15m1062 1h15m-205 8h15m21 0h15m79 1h15m-133 2h15m-47 2h15m-990 2h15m1035 1h15m-1 1h15m-46 1h15m70 2h15m-91 1h15m28 1h15m-854 1h15m858 2h15m-128 1h15m58 0h15m7 2h15m-1099 3h15m30 0h15m-13 1h15m952 0h15m44 0h15m-1018 1h15m966 1h15m37 0h15m-195 3h15m5 0h15m89 0h15m4 0h15m-121 1h15m102 0h15m-126 2h15m56 0h15m70 0h15m33 1h15m-1096 1h15m919 1h15m-1022 1h15m1021 0h15m81 1h15m-114 1h15m-30 1h15m14 0h15m-59 1h15m108 3h15m-1170 3h15m417 0h15m593 0h15m84 0h15m-175 1h15m43 1h15m-1020 3h15m956 0h15m-869 1h15m667 0h15m315 0h15m-1205 1h15m955 1h15m6 0h15m142 0h15m24 0h15m-1119 1h15m910 0h15m5 0h15m-11 2h15m187 0h15m-235 1h15m56 1h15m22 3h15m-1271 1h15m268 1h15m844 1h15m80 0h15m-86 2h15m21 1h15m20 0h15m-50 1h15m-11 1h15m-1070 1h15m1058 1h15m-1066 1h15m979 0h15m1 0h15m68 1h15m-154 1h15m100 0h15m-965 1h15m969 1h15m-207 1h15m128 1h15m-60 1h15m-48 3h15m90 0h15m-173 1h15m-819 3h15m954 1h15m-133 2h15m48 0h15m-1018 1h15m47 1h15m1043 1h15m-225 2h15m-1042 1h15m1041 0h15m12 1h15m43 0h15m-1088 1h15m687 0h15m248 0h15m17 0h15m-1000 1h15m1088 0h15m2 0h15m-597 3h15m500 0h15m-49 1h15m17 0h15m-813 1h15m760 0h15m12 0h15m66 0h15m-216 1h15m165 0h15m-1103 1h15m926 0h15m-958 1h15m948 0h15m96 1h15m-394 1h15m260 1h15m-959 1h15m231 0h15m726 0h15m13 0h15m42 1h15m-1267 2h15m110 0h15m435 0h15m583 0h15m93 0h15m-1123 1h15m940 1h15m-927 1h15m122 0h15m846 0h15m-71 1h15m-5 0h15m-1033 1h15m30 2h15m746 1h15m-815 1h15m-5 0h15m437 0h15m-450 4h15m-145 5h15m199 0h15m879 0h15m-140 1h15m145 0h15m-939 2h15m156 0h15m-429 2h15m36 0h15m1080 0h15m46 1h15m15 0h15m-164 2h15m-58 1h15m-1030 1h15m58 0h15m954 0h15m-54 2h15m48 2h15m-885 1h15m230 0h15m-465 1h15m1006 0h15m7 0h15m-10 0h15m12 0h15m3 0h15m-961 1h15m-106 2h15m1058 0h15m-93 1h15m-710 2h15m581 1h15m55 0h15m52 0h15m-394 1h15m380 0h15m64 0h15m-190 1h15m9 1h15m15 0h15m25 1h15m-123 4h15m36 1h15m-102 1h15m48 0h15m30 0h15m-877 1h15m866 0h15m61 0h15m-1097 1h15m67 0h15m835 1h15m-1018 1h15m992 0h15m-1026 1h15m49 3h15m94 0h15m733 0h15m-952 2h15m66 0h15m69 0h15m23 0h15m948 0h15m12 0h15m-1166 1h15m971 0h15m127 0h15m-935 1h15m-115 1h15m223 0h15m-70 1h15m-211 1h15m274 0h15m676 0h15m-1064 1h15m1002 0h15m-1035 1h15m15 0h15m265 0h15m707 2h15m-1077 1h15m75 0h15m845 0h15m36 0h15m1 0h15m-985 1h15m84 0h15m693 0h15m117 0h15m-49 1h15m-902 1h15m385 0h15m447 0h15m-853 1h15m49 0h15m11 2h15m838 0h15m53 0h15m-157 1h15m-932 1h15m59 0h15m923 0h15m-1038 1h15m145 0h15m741 0h15m206 0h15m-1185 1h15m806 0h15m61 0h15m93 0h15m56 0h15m-969 1h15m506 1h15m395 0h15m-11 0h15m10 0h15m-1050 1h15m-4 0h15m54 0h15m-14 0h15m6 0h15m32 0h15m877 0h15m26 0h15m-115 1h15m-1003 1h15m93 0h15m-12 0h15m328 1h15m610 0h15m-858 1h15m695 0h15m36 0h15m-509 1h15m545 0h15m14 1h15m-1066 1h15m8 0h15m63 0h15m-5 1h15m245 0h15m611 0h15m-594 1h15m398 0h15m58 0h15m-939 1h15m968 0h15m-6 1h15m0 0h15m-99 1h15m0 0h15m13 0h15m62 0h15m-1065 1h15m683 0h15m210 0h15m167 0h15m-1087 1h15m1010 0h15m-1047 1h15m-95 1h15m4 0h15m1038 0h15m-952 1h15m764 0h15m17 0h15m-859 1h15m16 0h15m-39 1h15m-1 0h15m-10 0h15m772 0h15m109 0h15m9 0h15m-618 1h15m563 0h15m1 0h15m88 0h15m-1198 1h15m89 0h15m494 0h15m-482 2h15m868 0h15m-332 1h15m283 0h15m85 0h15m-1044 1h15m-22 1h15m346 0h15m23 0h15m-251 1h15m107 0h15m513 0h15m-869 1h15m933 0h15m-721 1h15m252 1h15m181 0h15m318 0h15m-14 0h15m-12 0h15m-1005 1h15m64 0h15m778 0h15m128 0h15m-991 1h15m7 0h15m44 0h15m918 1h15m-1085 1h15m99 0h15m859 0h15m115 0h15m-1034 1h15m32 0h15m711 0h15m90 0h15m-961 2h15m105 0h15m364 0h15m517 0h15m-926 1h15m-183 1h15m74 0h15m715 0h15m-834 1h15m912 0h15m-596 1h15m-14 0h15m708 0h15m-1124 1h15m78 0h15m113 0h15m1 0h15m15 0h15m76 1h15m475 0h15m147 0h15m-1021 1h15m99 0h15m335 0h15m180 0h15m75 0h15m203 0h15m26 0h15m-72 2h15m-3 0h15m3 0h15m-1018 1h15m151 0h15m804 0h15m119 0h15m-990 1h15m228 0h15m237 0h15m158 0h15m206 0h15m-858 1h15m175 0h15m265 0h15m292 1h15m18 0h15m35 0h15m126 0h15m-1074 1h15m24 0h15m145 0h15m688 0h15m-767 1h15m-170 1h15m13 0h15m22 0h15m-11 0h15m834 0h15m-871 1h15m501 0h15m381 0h15m-904 1h15m778 0h15m48 0h15m-999 1h15m11 0h15m466 0h15m363 0h15m-909 1h15m111 1h15m312 0h15m-466 1h15m113 0h15m-174 1h15m68 0h15m-102 1h15m10 1h15m76 0h15m542 0h15m235 0h15m-938 1h15m23 0h15m466 0h15m416 0h15m-902 1h15m55 0h15m574 0h15m296 0h15m-963 2h15m48 0h15m601 0h15m166 0h15m-846 1h15m-8 0h15m400 0h15m137 0h15m-702 1h15m23 0h15m828 0h15m35 0h15m48 0h15m-1025 1h15m1047 1h15m-2 0h15m-584 1h15m174 0h15m336 0h15m-1046 1h15m325 0h15m88 0h15m-345 1h15m-146 1h15m106 0h15m-5 0h15m446 0h15m263 0h15m117 0h15m109 0h15m-1106 1h15m63 0h15m-9 1h15m46 0h15m796 0h15m5 0h15m-9 0h15m-1054 1h15m166 0h15m660 0h15m77 0h15m78 0h15m-242 1h15m112 0h15m175 0h15m-1063 1h15m69 0h15m-191 1h15m312 0h15m795 0h15m-1076 1h15m70 0h15m328 0h15m117 0h15m-589 1h15m7 0h15m209 0h15m205 0h15m1 0h15m59 0h15m225 0h15m199 0h15m12 0h15m-1009 1h15m57 0h15m27 0h15m860 0h15m-696 1h15m617 0h15m-973 1h15m21 0h15m367 0h15m486 0h15m-972 1h15m324 0h15m574 0h15m-815 1h15m13 0h15m627 0h15m-803 1h15m-97 1h15m118 0h15m809 0h15m167 0h15m-672 1h15m308 0h15m-494 1h15m-300 1h15m61 0h15m256 0h15m174 0h15m227 0h15m195 0h15m-13 0h15m-11 0h15m23 0h15m-955 1h15m58 0h15m459 0h15m463 0h15m-981 1h15m27 0h15m582 0h15m214 0h15m-978 2h15m768 0h15m133 0h15m-924 2h15m40 0h15m823 0h15m-834 1h15m12 0h15m840 0h15m-961 1h15m29 0h15m541 0h15m134 0h15m-655 1h15m125 0h15m568 0h15m-785 1h15m132 0h15m378 0h15m276 0h15m86 0h15m-1118 1h15m63 0h15m15 0h15m65 0h15m-65 1h15m-9 1h15m15 0h15m360 0h15m242 0h15m-660 1h15m293 0h15m-4 0h15m174 0h15m142 0h15m-248 1h15m-396 1h15m-164 1h15m466 0h15m45 0h15m359 0h15m-857 1h15m461 0h15m140 0h15m56 0h15m161 0h15m112 0h15m-1138 1h15m62 0h15m450 0h15m-635 1h15m244 0h15m72 0h15m353 0h15m74 0h15m-676 1h15m26 0h15m133 0h15m342 0h15m-628 1h15m93 0h15m717 0h15m34 0h15m94 0h15m-300 1h15m-667 1h15m82 0h15m-13 0h15m-3 0h15m814 0h15m-8 0h15m-510 1h15m283 0h15m190 0h15m-966 1h15m-7 0h15m28 0h15m44 0h15m23 0h15m434 0h15m-641 1h15m119 0h15m-6 0h15m46 0h15m100 0h15m-338 1h15m519 0h15m-14 0h15m61 0h15m-407 1h15m24 0h15m365 0h15m242 0h15m65 0h15m-971 1h15m432 0h15m-384 1h15m102 0h15m572 0h15m43 0h15m58 1h15m-799 1h15m-14 0h15m-1 0h15m530 0h15m216 0h15m30 0h15m-1015 1h15m97 0h15m11 0h15m204 0h15m171 0h15m79 0h15m-600 1h15m590 0h15m-154 1h15m225 0h15m164 0h15m-908 1h15m-6 0h15m60 0h15m166 0h15m6 0h15m620 0h15m83 0h15m-1015 1h15m101 1h15m525 0h15m246 0h15m-868 1h15m248 0h15m387 0h15m212 0h15m-1000 1h15m723 0h15m26 0h15m212 0h15m-946 1h15m-177 1h15m106 0h15m330 0h15m28 0h15m143 0h15m-171 1h15m428 1h15m176 0h15m-1060 1h15m-13 0h15m95 0h15m19 0h15m789 0h15m-1024 1h15m727 0h15m-568 1h15m172 0h15m113 0h15m44 0h15m38 0h15m351 0h15m-901 1h15m58 0h15m44 0h15m824 0h15m-975 1h15m599 0h15m7 0h15m-714 1h15m240 0h15m29 0h15m212 0h15m203 0h15m38 0h15m-750 1h15m655 0h15m67 0h15m-842 1h15m54 0h15m-3 0h15m66 0h15m382 0h15m-548 1h15m417 0h15m53 0h15m27 0h15m-592 1h15m94 0h15m303 0h15m147 0h15m360 0h15m-936 1h15m29 0h15m-10 0h15m588 0h15m5 0h15m181 0h15m-867 1h15m21 0h15m42 0h15m468 0h15m41 0h15m299 0h15m-1004 2h15m21 0h15m203 0h15m761 0h15m-891 1h15m-135 2h15m63 0h15m277 0h15m333 0h15m11 0h15m-751 1h15m72 0h15m357 0h15m-415 1h15m591 0h15m-756 1h15m56 0h15m55 0h15m13 0h15m82 0h15m74 0h15m194 0h15m188 0h15m-698 1h15m59 0h15m290 0h15m-517 1h15m62 0h15m-5 0h15m12 0h15m62 0h15m362 0h15m201 0h15m51 0h15m54 0h15m-896 1h15m109 0h15m199 0h15m328 0h15m75 0h15m72 0h15m-872 1h15m189 0h15m118 0h15m23 0h15m292 0h15m-9 0h15m335 0h15m-842 1h15m125 0h15m52 0h15m183 0h15m39 0h15m15 0h15m-580 1h15m-4 0h15m63 0h15m-80 1h15m36 0h15m-181 1h15m283 0h15m395 0h15m-711 1h15m12 0h15m362 0h15m13 0h15m246 0h15m-747 1h15m92 0h15m7 0h15m1 0h15m217 0h15m534 0h15m-814 1h15m167 0h15m100 0h15m148 0h15m163 0h15m38 0h15m-762 1h15m101 0h15m587 0h15m-4 0h15m-761 1h15m3 0h15m23 0h15m13 0h15m205 0h15m78 0h15m406 0h15m-646 1h15m399 0h15m3 0h15m1 0h15m-663 1h15m2 0h15m697 0h15m336 0h15m-1056 1h15m29 0h15m7 0h15m1 0h15m93 0h15m133 0h15m325 0h15m-810 1h15m14 0h15m37 0h15m25 0h15m-15 0h15m10 0h15m-14 0h15m-106 1h15m122 0h15m-10 0h15m-8 0h15m-9 0h15m2 0h15m-3 0h15m57 0h15m732 0h15m84 0h15m-1007 1h15m728 0h15m-850 1h15m157 0h15m552 0h15m-8 0h15m39 0h15m-760 1h15m-11 0h15m-4 0h15m34 0h15m-9 0h15m128 0h15m-235 1h15m518 0h15m22 0h15m-638 1h15m12 0h15m3 0h15m68 0h15m4 0h15m152 0h15m429 0h15m-811 1h15m74 0h15m-1 0h15m68 0h15m-4 0h15m548 0h15m99 0h15m118 0h15m-1072 1h15m74 0h15m43 0h15m28 0h15m329 0h15m107 0h15m331 0h15m-913 1h15m44 0h15m38 0h15m107 0h15m271 0h15m81 0h15m338 0h15m-1008 1h15m62 0h15m82 0h15m389 0h15m-538 1h15m7 0h15m8 0h15m60 0h15m144 0h15m144 0h15m18 0h15m248 0h15m-340 1h15m140 0h15m69 0h15m-665 1h15m33 0h15m119 0h15m78 0h15m219 0h15m18 0h15m40 0h15m33 0h15m-559 1h15m569 0h15m45 0h15m18 0h15m-834 1h15m7 0h15m66 0h15m40 0h15m200 0h15m356 0h15m105 0h15m-855 1h15m-7 0h15m46 0h15m191 0h15m159 0h15m131 0h15m83 0h15m-797 1h15m106 0h15m512 1h15m92 0h15m-410 1h15m256 0h15m88 0h15m-175 1h15m59 0h15m-494 1h15m271 0h15m264 0h15m-593 1h15m32 0h15m292 0h15m69 0h15m140 0h15m-689 1h15m-14 0h15m21 0h15m19 0h15m84 0h15m311 0h15m24 0h15m129 0h15m-557 1h15m510 0h15m-726 1h15m80 0h15m-13 0h15m67 0h15m-13 0h15m350 0h15m264 0h15m-752 1h15m45 0h15m500 0h15m-11 0h15m5 0h15m28 0h15m7 0h15m-748 1h15m59 0h15m33 0h15m25 0h15m117 0h15m197 0h15m229 0h15m-729 1h15m82 0h15m353 0h15m15 0h15m3 0h15m207 0h15m-726 1h15m41 0h15m261 0h15m142 0h15m-4 0h15m74 0h15m0 0h15m-799 1h15m296 0h15m-236 1h15m643 0h15m36 0h15m-540 1h15m151 0h15m145 0h15m262 0h15m-680 1h15m-3 0h15m46 0h15m470 0h15m36 0h15m172 0h15m-802 1h15m3 0h15m70 0h15m-11 0h15m476 0h15m-871 1h15m141 0h15m35 0h15m-13 0h15m-4 0h15m13 0h15m-7 0h15m-1 0h15m-7 0h15m37 0h15m66 0h15m165 0h15m-13 0h15m153 0h15m-14 0h15m77 0h15m98 0h15m-819 1h15m34 0h15m-11 0h15m212 0h15m-227 1h15m16 0h15m575 0h15m39 0h15m91 0h15m-6 0h15m1 0h15m-831 1h15m450 0h15m186 0h15m64 0h15m-831 1h15m164 0h15m169 0h15m38 0h15m-344 1h15m-7 0h15m-14 0h15m27 0h15m-77 1h15m49 0h15m14 0h15m18 0h15m105 0h15m197 0h15m172 0h15m136 0h15m-819 1h15m-4 0h15m9 0h15m-2 0h15m130 0h15m221 0h15m110 0h15m-4 0h15m22 0h15m7 0h15m22 0h15m-775 1h15m68 0h15m41 0h15m30 0h15m315 0h15m323 0h15m119 0h15m-943 2h15m43 0h15m30 0h15m-277 1h15m131 0h15m60 0h15m-1 0h15m30 0h15m239 0h15m226 0h15m153 0h15m-767 1h15m4 0h15m21 0h15m654 0h15m173 0h15m-1100 1h15m359 0h15m385 0h15m83 0h15m-701 1h15m211 0h15m653 0h15m18 0h15m-1002 1h15m82 0h15m2 0h15m397 0h15m204 0h15m47 0h15m-828 1h15m51 0h15m35 0h15m-87 1h15m44 0h15m17 0h15m473 0h15m-635 1h15m12 0h15m27 0h15m366 0h15m151 0h15m24 0h15m115 0h15m-766 1h15m767 0h15m-754 1h15m486 0h15m94 0h15m231 0h15m-896 1h15m213 0h15m173 0h15m430 0h15m-886 1h15m1 0h15m234 0h15m92 0h15m116 0h15m-486 1h15m-14 0h15m-9 0h15m190 0h15m101 0h15m111 0h15m135 0h15m11 0h15m19 0h15m-699 1h15m97 0h15m300 0h15m5 0h15m134 0h15m-621 1h15m37 0h15m39 0h15m188 0h15m77 0h15m118 0h15m143 0h15m12 0h15m-11 0h15m99 0h15m-897 1h15m8 0h15m190 0h15m90 0h15m254 0h15m54 0h15m-9 0h15m-11 0h15m77 0h15m-761 1h15m303 0h15m142 0h15m-1 0h15m54 0h15m40 0h15m121 0h15m-792 1h15m8 0h15m362 0h15m215 0h15m13 0h15m262 0h15m-908 1h15m100 0h15m6 0h15m101 0h15m47 0h15m365 0h15m-634 1h15m53 0h15m229 0h15m216 0h15m121 0h15m48 0h15m-810 1h15m9 0h15m46 0h15m-1 0h15m211 0h15m353 1h15m189 0h15m-1001 1h15m111 0h15m-1 0h15m77 0h15m-14 0h15m143 0h15m400 0h15m-720 1h15m18 0h15m58 0h15m148 0h15m86 0h15m129 0h15m133 0h15m-483 1h15m50 0h15m385 0h15m40 0h15m-799 1h15m286 0h15m270 0h15m80 0h15m149 0h15m22 0h15m-892 1h15m39 0h15m-3 0h15m-11 0h15m165 0h15m312 0h15m-579 1h15m-14 0h15m58 0h15m-12 0h15m5 0h15m48 0h15m-241 1h15m61 0h15m58 0h15m168 0h15m568 0h15m-871 1h15m44 0h15m153 0h15m83 0h15m172 0h15m206 0h15m-6 0h15m6 0h15m-795 1h15m62 0h15m26 0h15m79 0h15m209 0h15m-11 0h15m207 0h15m31 0h15m-657 1h15m39 0h15m297 0h15m216 0h15m-651 1h15m-1 0h15m-6 0h15m64 0h15m16 0h15m234 0h15m247 0h15m220 0h15m-912 1h15m405 0h15m-13 0h15m-10 0h15m201 0h15m148 0h15m-775 1h15m22 0h15m64 0h15m236 0h15m45 0h15m31 0h15m234 0h15m35 0h15m-798 1h15m309 0h15m-13 0h15m186 0h15m81 0h15m87 0h15m-748 1h15m24 0h15m13 0h15m-14 0h15m331 0h15m75 0h15m125 0h15m12 0h15m-720 1h15m68 0h15m-11 0h15m19 0h15m114 0h15m50 0h15m113 0h15m316 0h15m-733 1h15m23 0h15m-12 0h15m-8 0h15m167 0h15m40 0h15m-11 0h15m282 0h15m90 0h15m-766 1h15m15 0h15m83 0h15m61 0h15m392 0h15m8 0h15m125 0h15m-878 1h15m70 0h15m14 0h15m42 0h15m0 0h15m51 0h15m410 0h15m115 0h15m-13 0h15m66 0h15m-680 1h15m41 0h15m585 0h15m-792 1h15m74 0h15m31 0h15m289 0h15m363 0h15m-732 1h15m509 0h15m54 0h15m49 0h15m55 0h15m-838 1h15m-13 0h15m538 0h15m122 0h15m-683 1h15m65 0h15m85 0h15m-170 1h15m-5 0h15m-13 0h15m39 0h15m97 0h15m126 0h15m143 0h15m164 0h15m287 0h15m-1059 1h15m46 0h15m-12 0h15m4 0h15m2 0h15m1 0h15m19 0h15m1 0h15m51 0h15m189 0h15m163 0h15m19 0h15m-1 0h15m64 0h15m-601 1h15m23 0h15m119 0h15m-265 1h15m-13 0h15m16 0h15m374 0h15m26 0h15m32 0h15m17 0h15m26 0h15m-521 1h15m166 0h15m31 0h15m-11 0h15m-3 0h15m226 0h15m-1 0h15m2 0h15m22 0h15m1 0h15m167 0h15m-863 1h15m69 0h15m327 0h15m25 0h15m53 0h15m83 0h15m-673 1h15m27 0h15m4 0h15m35 0h15m82 0h15m321 0h15m283 0h15m-978 1h15m0 0h15m11 0h15m101 0h15m71 0h15m311 0h15m228 0h15m0 0h15m-4 0h15m202 0h15m-1064 1h15m119 0h15m-12 0h15m-2 0h15m26 0h15m22 0h15m329 0h15m89 0h15m-558 1h15m2 0h15m77 0h15m483 0h15m-595 1h15m53 0h15m4 0h15m297 0h15m-397 1h15m0 0h15m4 0h15m-13 0h15m-3 0h15m2 0h15m474 0h15m26 0h15m-747 1h15m72 0h15m12 0h15m545 0h15m-563 1h15m21 0h15m-15 0h15m5 0h15m-15 0h15m24 0h15m151 0h15m331 0h15m-722 1h15m48 0h15m46 0h15m-15 0h15m-14 0h15m-12 0h15m425 0h15m2 0h15m-15 0h15m209 0h15m5 0h15m-827 1h15m101 0h15m0 0h15m20 0h15m-14 0h15m11 0h15m503 0h15m106 0h15m-9 0h15m-798 1h15m-10 0h15m61 0h15m17 0h15m-75 1h15m314 0h15m59 0h15m128 0h15m184 0h15m-9 0h15m-835 1h15m10 0h15m20 0h15m-9 0h15m45 0h15m86 0h15m536 0h15m-812 1h15m4 0h15m31 0h15m79 0h15m-5 0h15m192 0h15m225 0h15m6 0h15m-11 0h15m-2 0h15m52 0h15m18 0h15m95 0h15m-918 1h15m7 0h15m49 0h15m-9 0h15m279 0h15m177 0h15m66 0h15m42 0h15m-718 1h15m97 0h15m17 0h15m11 0h15m179 0h15m1 0h15m264 0h15m144 0h15m41 0h15m-995 1h15m187 0h15m17 0h15m34 0h15m140 0h15m282 0h15m2 0h15m-14 0h15m-11 0h15m35 0h15m-649 1h15m50 0h15m2 0h15m158 0h15m161 0h15m251 0h15m14 0h15m-742 1h15m46 0h15m-12 0h15m484 0h15m108 0h15m-685 1h15m346 0h15m33 0h15m218 0h15m-608 1h15m67 0h15m31 0h15m103 0h15m162 0h15m254 0h15m-13 0h15m-12 0h15m12 0h15m-830 1h15m23 0h15m0 0h15m-7 0h15m796 0h15m-842 1h15m22 0h15m33 0h15m88 0h15m151 0h15m111 0h15m73 0h15m78 0h15m81 0h15m10 0h15m-728 1h15m0 0h15m370 0h15m-4 0h15m155 0h15m139 0h15m-815 1h15m618 0h15m111 0h15m14 0h15m26 0h15m17 0h15m-858 1h15m20 0h15m39 0h15m46 0h15m130 0h15m149 0h15m25 0h15m132 0h15m-729 1h15m14 0h15m41 0h15m100 0h15m58 0h15m231 0h15m7 0h15m436 0h15m-1014 1h15m17 0h15m52 0h15m9 0h15m104 0h15m220 0h15m119 0h15m-620 1h15m17 0h15m9 0h15m6 0h15m621 0h15m-14 0h15m42 0h15m-784 1h15m-15 0h15m195 0h15m25 0h15m17 0h15m219 0h15m227 0h15m-769 1h15m10 0h15m102 0h15m7 0h15m434 0h15m-621 1h15m27 0h15m41 0h15m93 0h15m57 0h15m198 0h15m172 0h15m49 0h15m-755 1h15m10 0h15m73 0h15m47 0h15m469 0h15m-649 1h15m48 0h15m118 0h15m477 0h15m246 0h15m-951 1h15m37 0h15m74 0h15m96 0h15m60 0h15m193 0h15m75 0h15m37 0h15m48 0h15m-769 1h15m11 0h15m2 0h15m-1 0h15m167 0h15m120 0h15m397 0h15m8 0h15m-883 1h15m-5 0h15m8 0h15m10 0h15m80 0h15m216 0h15m28 0h15m13 0h15m77 0h15m220 0h15m20 0h15m29 0h15m-878 1h15m72 0h15m21 0h15m337 0h15m27 0h15m185 0h15m17 0h15m4 0h15m111 0h15m0 0h15m33 0h15m56 0h15m-1018 1h15m63 0h15m17 0h15m20 0h15m141 0h15m299 0h15m135 0h15m-759 1h15m-11 0h15m31 0h15m56 0h15m42 0h15m140 0h15m33 0h15m59 0h15m39 0h15m81 0h15m185 0h15m-481 1h15m117 0h15m80 0h15m-9 0h15m112 0h15m-735 1h15m1 0h15m216 0h15m40 0h15m85 0h15m96 0h15m301 0h15m65 0h15m-872 1h15m-7 0h15m48 0h15m106 0h15m23 0h15m30 0h15m49 0h15m73 0h15m49 0h15m6 0h15m-625 1h15m98 0h15m0 0h15m-12 0h15m36 0h15m153 0h15m1 0h15m80 0h15m27 0h15m58 0h15m127 0h15m89 0h15m-843 1h15m28 0h15m1 0h15m-9 0h15m-1 0h15m16 0h15m-4 0h15m1 0h15m25 0h15m135 0h15m89 0h15m29 0h15m317 0h15m-3 0h15m-800 1h15m-15 0h15m231 0h15m218 0h15m295 0h15m-732 1h15m-11 0h15m30 0h15m32 0h15m-6 0h15m70 0h15m85 0h15m164 0h15m17 0h15m113 0h15m-10 0h15m-15 0h15m-806 1h15m77 0h15m-10 0h15m29 0h15m25 0h15m383 0h15m226 0h15m-699 1h15m7 0h15m17 0h15m-7 0h15m-12 0h15m71 0h15m189 0h15m200 0h15m-598 1h15m44 0h15m-1 0h15m3 0h15m4 0h15m41 0h15m19 0h15m-164 1h15m-3 0h15m14 0h15m5 0h15m48 0h15m380 0h15m158 0h15m-780 1h15m95 0h15m-6 0h15m249 0h15m-425 1h15m30 0h15m358 0h15m26 0h15m211 0h15m6 0h15m177 0h15m-807 1h15m46 0h15m189 0h15m101 0h15m85 0h15m-572 1h15m74 0h15m49 0h15m430 0h15m46 0h15m34 0h15m20 0h15m12 0h15m-761 1h15m19 0h15m82 0h15m25 0h15m241 0h15m38 0h15m-3 0h15m109 0h15m158 0h15m96 0h15m-838 1h15m16 0h15m578 0h15m-819 1h15m106 0h15m4 0h15m86 0h15m36 0h15m501 0h15m30 0h15m-754 1h15m69 0h15m70 0h15m-6 0h15m182 0h15m63 0h15m17 0h15m20 0h15m31 0h15m3 0h15m34 0h15m-7 0h15m-11 0h15m37 0h15m-689 1h15m-14 0h15m-7 0h15m34 0h15m551 0h15m-408 1h15m204 0h15m106 0h15m111 0h15m22 0h15m4 0h15m55 0h15m-891 1h15m0 0h15m46 0h15m50 0h15m268 0h15m255 0h15m16 0h15m-770 1h15m74 0h15m51 0h15m300 0h15m225 0h15m-638 1h15m42 0h15m699 0h15m-918 1h15m145 0h15m10 0h15m1 0h15m156 0h15m243 0h15m245 0h15m14 0h15m-728 1h15m310 0h15m-6 0h15m315 0h15m-772 1h15m14 0h15m12 0h15m8 0h15m106 0h15m486 0h15m-729 1h15m-9 0h15m-2 0h15m-8 0h15m77 0h15m-12 0h15m284 0h15m-14 0h15m-15 0h15m209 0h15m47 0h15m-12 0h15m-733 1h15m42 0h15m38 0h15m8 0h15m26 0h15m439 0h15m64 0h15m-773 1h15m105 0h15m2 0h15m140 0h15m46 0h15m11 0h15m343 0h15m72 0h15m-870 1h15m128 0h15m1 0h15m33 0h15m102 0h15m5 0h15m-292 1h15m-3 0h15m-2 0h15m15 0h15m-3 0h15m48 0h15m142 0h15m218 0h15m58 0h15m-12 0h15m-547 1h15m28 0h15m30 0h15m533 0h15m-647 1h15m13 0h15m22 0h15m608 0h15m-640 1h15m1 0h15m45 0h15m27 0h15m123 0h15m273 0h15m-658 1h15m-9 0h15m-12 0h15m50 0h15m104 0h15m99 0h15m-14 0h15m226 0h15m26 0h15m-671 1h15m497 0h15m34 0h15m163 0h15m54 0h15m-745 1h15m20 0h15m-6 0h15m89 0h15m159 0h15m250 0h15m156 0h15m51 0h15m62 0h15m-922 1h15m26 0h15m21 0h15m182 0h15m4 0h15m100 0h15m113 0h15m80 0h15m49 0h15m169 0h15m19 0h15m-983 1h15m47 0h15m-2 0h15m122 0h15m209 0h15m47 0h15m25 0h15m77 0h15m-668 1h15m58 0h15m58 0h15m16 0h15m81 0h15m44 0h15m88 0h15m95 0h15m64 0h15m-9 0h15m103 0h15m-732 1h15m94 0h15m49 0h15m215 0h15m-411 1h15m18 0h15m78 0h15m20 0h15m415 0h15m98 0h15m-729 1h15m18 0h15m-6 0h15m24 0h15m25 0h15m71 0h15m161 0h15m116 0h15m113 0h15m-665 1h15m16 0h15m-12 0h15m5 0h15m-6 0h15m-11 0h15m9 0h15m81 0h15m311 0h15m19 0h15m132 0h15m-698 1h15m189 0h15m218 0h15m197 0h15m39 0h15m-712 1h15m1 0h15m9 0h15m46 0h15m5 0h15m33 0h15m186 0h15m106 0h15m137 0h15m-12 0h15m44 0h15m150 0h15m-871 1h15m34 0h15m15 0h15m9 0h15m230 0h15m652 0h15m-1085 1h15m69 0h15m-8 0h15m26 0h15m261 0h15m378 0h15m-722 1h15m39 0h15m104 0h15m411 0h15m30 0h15m-15 0h15m21 0h15m-804 1h15m143 0h15m30 0h15m405 0h15m-608 1h15m19 0h15m282 0h15m17 0h15m34 0h15m487 0h15m-879 1h15m7 0h15m-11 0h15m63 0h15m463 0h15m55 0h15m21 0h15m33 0h15m82 0h15m-855 1h15m71 0h15m18 0h15m445 0h15m28 0h15m-726 1h15m82 0h15m137 0h15m-11 0h15m322 0h15m18 0h15m-609 1h15m-6 0h15m46 0h15m6 0h15m-11 0h15m-1 0h15m3 0h15m14 0h15m229 0h15m158 0h15m94 0h15m113 0h15m10 0h15m-812 1h15m43 0h15m9 0h15m53 0h15m10 0h15m179 0h15m178 0h15m170 0h15m-436 1h15m45 0h15m-1 0h15m-465 1h15m61 0h15m4 0h15m27 0h15m397 0h15m67 0h15m4 0h15m22 0h15m6 0h15m-626 1h15m16 0h15m16 0h15m31 0h15m-1 0h15m123 0h15m158 0h15m148 0h15m111 0h15m-846 1h15m59 0h15m0 0h15m-12 0h15m23 0h15m149 0h15m-310 1h15m1 0h15m164 0h15m4 0h15m259 0h15m41 0h15m45 0h15m-602 1h15m21 0h15m9 0h15m26 0h15m-4 0h15m30 0h15m8 0h15m-5 0h15m150 0h15m-8 0h15m350 0h15m11 0h15m21 0h15m-756 1h15m-9 0h15m5 0h15m10 0h15m2 0h15m106 0h15m104 0h15m63 0h15m-306 1h15m254 0h15m141 0h15m95 0h15m22 0h15m63 0h15m3 0h15m105 0h15m-1053 1h15m124 0h15m-3 0h15m-7 0h15m-6 0h15m-8 0h15m-4 0h15m11 0h15m0 0h15m-14 0h15m-4 0h15m310 0h15m-479 1h15m45 0h15m-6 0h15m-12 0h15m58 0h15m87 0h15m-165 1h15m385 0h15m151 0h15m163 0h15m-10 0h15m224 0h15m-1043 1h15m8 0h15m23 0h15m-11 0h15m-4 0h15m30 0h15m-4 0h15m197 0h15m70 0h15m2 0h15m70 0h15m69 0h15m-9 0h15m69 0h15m-14 0h15m14 0h15m-782 1h15m-2 0h15m-14 0h15m0 0h15m124 0h15m-4 0h15m22 0h15m289 0h15m132 0h15m-712 1h15m107 0h15m28 0h15m289 0h15m338 0h15m-728 1h15m-9 0h15m89 0h15m113 0h15m417 0h15m-755 1h15m15 0h15m210 0h15m32 0h15m26 0h15m33 0h15m81 0h15m39 0h15m97 0h15m37 1h15m-10 0h15m-662 1h15m-6 0h15m4 0h15m23 0h15m293 0h15m156 0h15m-607 1h15m16 0h15m5 0h15m2 0h15m3 0h15m54 0h15m188 0h15m-4 0h15m187 0h15m10 0h15m-575 1h15m239 0h15m62 0h15m33 0h15m254 0h15m115 0h15m-857 1h15m15 0h15m28 0h15m396 0h15m41 0h15m-488 1h15m70 0h15m-269 1h15m192 0h15m401 0h15m108 0h15m119 0h15m16 0h15m-6 0h15m-787 1h15m-4 0h15m-2 0h15m13 0h15m55 0h15m94 0h15m113 0h15m311 0h15m31 0h15m-737 1h15m37 0h15m597 0h15m6 0h15m44 0h15m35 0h15m-895 1h15m-5 0h15m6 0h15m20 0h15m96 0h15m387 0h15m56 0h15m-694 1h15m38 0h15m96 0h15m28 0h15m858 0h15m-988 1h15m-4 0h15m8 0h15m-3 0h15m63 0h15m17 0h15m7 0h15m40 0h15m203 0h15m28 0h15m-12 0h15m126 0h15m122 0h15m-846 1h15m5 0h15m56 0h15m77 0h15m48 0h15m158 0h15m83 0h15m92 0h15m17 0h15m-683 1h15m21 0h15m32 0h15m-2 0h15m-11 0h15m14 0h15m14 0h15m7 0h15m11 0h15m55 0h15m470 0h15m0 0h15m9 0h15m-760 1h15m-14 0h15m55 0h15m64 0h15m221 0h15m16 0h15m147 0h15m87 0h15m45 0h15m62 0h15m90 0h15m-919 1h15m5 0h15m-7 0h15m18 0h15m25 0h15m156 0h15m136 0h15m-10 0h15m226 0h15m-2 0h15m167 0h15m-924 1h15m-13 0h15m6 0h15m-7 0h15m39 0h15m-3 0h15m-9 0h15m5 0h15m17 0h15m145 0h15m165 0h15m142 0h15m-668 1h15m-6 0h15m67 0h15m-3 0h15m20 0h15m468 0h15m80 0h15m183 0h15m-900 1h15m12 0h15m-7 0h15m327 0h15m42 0h15m55 0h15m217 0h15m12 0h15m155 0h15m-958 1h15m35 0h15m15 0h15m-4 0h15m-14 0h15m72 0h15m20 0h15m54 0h15m279 0h15m25 0h15m82 0h15m-746 1h15m0 0h15m27 0h15m43 0h15m-10 0h15m280 0h15m69 0h15m81 0h15m116 0h15m130 0h15m-908 1h15m11 0h15m70 0h15m119 0h15m138 0h15m264 0h15m70 0h15m39 0h15m-794 1h15m33 0h15m37 0h15m277 0h15m10 0h15m-7 0h15m103 0h15m63 0h15m-684 1h15m40 0h15m98 0h15m10 0h15m282 0h15m-3 0h15m54 0h15m205 0h15m218 0h15m-976 1h15m10 0h15m7 0h15m61 0h15m94 0h15m480 0h15m21 0h15m-725 1h15m-5 0h15m-10 0h15m1 0h15m-5 0h15m5 0h15m-13 0h15m-6 0h15m328 0h15m180 0h15m140 0h15m-626 1h15m233 0h15m107 0h15m24 0h15m65 0h15m-693 1h15m187 0h15m655 0h15m-561 1h15m81 0h15m96 0h15m50 0h15m-682 1h15m47 0h15m36 0h15m446 0h15m57 0h15m102 0h15m-11 0h15m15 0h15m-5 0h15m17 0h15m-828 1h15m-12 0h15m46 0h15m20 0h15m60 0h15m38 0h15m55 0h15m197 0h15m-505 1h15m-12 0h15m76 0h15m-14 0h15m150 0h15m85 0h15m227 0h15m31 0h15m-659 1h15m18 0h15m15 0h15m42 0h15m246 0h15m572 0h15m-997 1h15m295 0h15m321 0h15m-723 1h15m32 0h15m20 0h15m-8 0h15m-1 0h15m-12 0h15m-6 0h15m295 0h15m121 0h15m85 0h15m56 0h15m12 0h15m-12 0h15m-582 1h15m182 0h15m494 0h15m-879 1h15m59 0h15m17 0h15m65 0h15m108 0h15m143 0h15m68 0h15m51 0h15m181 0h15m-816 1h15m59 0h15m12 0h15m-6 0h15m1 0h15m124 0h15m102 0h15m208 0h15m-375 1h15m414 0h15m41 0h15m152 0h15m-825 1h15m-7 0h15m31 0h15m5 0h15m67 0h15m-2 0h15m254 0h15m29 0h15m57 0h15m-15 0h15m42 0h15m-607 1h15m-6 0h15m-3 0h15m-11 0h15m34 0h15m130 0h15m138 0h15m328 0h15m-919 1h15m126 0h15m-2 0h15m21 0h15m-7 0h15m-7 0h15m7 0h15m7 0h15m532 0h15m162 0h15m-923 1h15m166 0h15m104 0h15m213 0h15m156 0h15m111 0h15m-736 1h15m13 0h15m-1 0h15m147 0h15m340 0h15m22 0h15m49 0h15m-734 1h15m42 0h15m26 0h15m-12 0h15m-8 0h15m16 0h15m88 0h15m197 0h15m0 0h15m211 0h15m-422 1h15m-1 0h15m285 0h15m297 0h15m-946 1h15m415 0h15m150 0h15m-553 1h15m6 0h15m30 0h15m155 0h15m368 0h15m-720 1h15m30 0h15m472 0h15m160 0h15m-8 0h15m1 0h15m-587 1h15m-9 0h15m120 0h15m160 0h15m-428 1h15m5 0h15m1 0h15m-1 0h15m-3 0h15m-13 0h15m450 0h15m78 0h15m33 0h15m98 0h15m-6 0h15m-879 1h15m51 0h15m20 0h15m-10 0h15m-12 0h15m185 0h15m34 0h15m119 0h15m132 0h15m-633 1h15m8 0h15m8 0h15m129 0h15m215 0h15m-2 0h15m81 0h15m12 0h15m124 0h15m0 0h15m-734 1h15m29 0h15m16 0h15m31 0h15m4 0h15m335 0h15m-430 1h15m13 0h15m14 0h15m-10 0h15m154 0h15m19 0h15m244 0h15m-506 1h15m11 0h15m111 0h15m84 0h15m81 0h15m272 0h15m-10 0h15m99 0h15m-1 0h15m17 0h15m-894 1h15m98 0h15m45 0h15m237 0h15m400 0h15m55 0h15m236 0h15m-1172 1h15m40 0h15m39 0h15m53 0h15m32 0h15m160 0h15m130 0h15m264 0h15m-817 1h15m43 0h15m-4 0h15m226 0h15m13 0h15m-258 1h15m346 0h15m-444 1h15m340 0h15m182 0h15m77 0h15m35 0h15m-757 1h15m70 0h15m365 0h15m123 0h15m47 0h15m-670 1h15m12 0h15m28 0h15m7 0h15m201 0h15m141 0h15m187 0h15m20 0h15m165 0h15m-923 1h15m71 0h15m-6 0h15m-9 0h15m32 0h15m1 0h15m292 0h15m156 0h15m-4 0h15m57 0h15m1 0h15m-696 1h15m50 0h15m1 0h15m10 0h15m156 0h15m269 0h15m-506 1h15m216 0h15m8 0h15m270 0h15m325 0h15m-924 1h15m123 0h15m79 0h15m330 0h15m-706 1h15m10 0h15m2 0h15m25 0h15m-6 0h15m30 0h15m-13 0h15m95 0h15m66 0h15m134 0h15m-11 0h15m-398 1h15m16 0h15m14 0h15m11 0h15m309 0h15m386 0h15m-4 0h15m-967 1h15m24 0h15m-9 0h15m-5 0h15m108 0h15m3 0h15m284 0h15m426 0h15m-907 1h15m160 0h15m-7 0h15m530 0h15m30 0h15m-819 1h15m57 0h15m36 0h15m67 1h15m33 0h15m146 0h15m22 0h15m56 0h15m-424 1h15m-1 0h15m1 0h15m-6 0h15m24 0h15m-6 0h15m204 0h15m259 0h15m-640 1h15m72 0h15m604 0h15m-784 1h15m59 0h15m15 0h15m-9 0h15m4 0h15m125 0h15m-214 1h15m2 0h15m85 0h15m287 0h15m275 0h15m-749 1h15m147 0h15m178 0h15m138 0h15m91 0h15m114 0h15m305 0h15m-1072 1h15m21 0h15m-8 0h15m-2 0h15m56 0h15m113 0h15m-10 0h15m-8 0h15m310 0h15m44 0h15m-797 1h15m82 0h15m45 0h15m19 0h15m-3 0h15m23 0h15m71 0h15m91 0h15m-486 1h15m147 0h15m38 0h15m51 0h15m1 0h15m268 0h15m3 0h15m126 0h15m-579 1h15m845 0h15m-935 1h15m35 0h15m-13 0h15m41 0h15m8 0h15m15 0h15m-10 0h15m-3 0h15m42 0h15m148 0h15m-282 1h15m-15 0h15m26 0h15m50 0h15m442 1h15m-688 1h15m116 0h15m183 0h15m233 0h15m-563 1h15m10 0h15m17 0h15m-4 0h15m49 0h15m83 0h15m190 0h15m197 0h15m-629 1h15m30 0h15m-13 0h15m3 0h15m10 0h15m18 0h15m300 0h15m89 0h15m150 0h15m-7 0h15m-718 1h15m-8 0h15m46 0h15m115 0h15m7 0h15m501 0h15m-752 1h15m3 0h15m54 0h15m7 0h15m1 0h15m-109 1h15m1 0h15m57 0h15m367 0h15m145 0h15m146 0h15m-832 1h15m131 0h15m209 0h15m-6 0h15m437 0h15m-766 1h15m59 0h15m33 0h15m186 0h15m60 0h15m-515 1h15m71 0h15m81 0h15m140 0h15m36 0h15m18 0h15m-6 0h15m30 0h15m5 0h15m-428 1h15m11 0h15m-124 1h15m69 0h15m-12 0h15m382 0h15m78 0h15m702 0h15m-1411 1h15m133 0h15m1 0h15m-9 0h15m134 0h15m289 0h15m42 0h15m-606 1h15m4 0h15m1 0h15m-2 0h15m15 0h15m16 0h15m5 0h15m-7 0h15m82 0h15m83 0h15m76 0h15m-455 1h15m-12 0h15m53 0h15m6 0h15m64 0h15m-175 1h15m62 0h15m34 0h15m72 0h15m244 0h15m263 0h15m-15 0h15m-795 1h15m5 0h15m18 0h15m-11 0h15m101 0h15m49 0h15m151 0h15m11 0h15m215 0h15m-628 1h15m18 0h15m183 0h15m1 0h15m132 0h15m210 0h15m-700 1h15m91 0h15m-13 0h15m-7 0h15m70 0h15m17 0h15m40 0h15m15 0h15m58 0h15m35 0h15m349 0h15m-6 0h15m-838 2h15m17 0h15m7 0h15m27 0h15m49 0h15m15 0h15m200 0h15m-365 1h15m104 0h15m0 0h15m0 0h15m1 0h15m90 0h15m-8 0h15m-252 1h15m-11 0h15m31 0h15m16 0h15m13 0h15m9 0h15m182 0h15m475 0h15m-898 1h15m58 0h15m6 0h15m-5 1h15m10 0h15m-6 0h15m196 0h15m37 0h15m188 0h15m-581 1h15m85 0h15m8 0h15m287 0h15m-389 1h15m6 0h15m14 0h15m-15 0h15m76 0h15m61 0h15m-284 1h15m120 0h15m284 0h15m-10 0h15m289 0h15m-777 1h15m3 0h15m107 0h15m61 0h15m107 0h15m221 0h15m-627 1h15m66 0h15m8 0h15m32 0h15m146 0h15m7 0h15m35 0h15m240 0h15m23 0h15m157 0h15m-3 0h15m347 0h15m-1182 1h15m4 0h15m28 0h15m132 0h15m65 0h15m135 0h15m139 0h15m-490 1h15m26 0h15m73 0h15m223 0h15m236 0h15m-866 1h15m70 0h15m34 0h15m85 0h15m-11 0h15m-168 1h15m-13 0h15m70 0h15m7 0h15m220 0h15m212 0h15m-585 1h15m10 0h15m548 0h15m143 0h15m-690 1h15m49 0h15m-10 0h15m-6 0h15m140 0h15m-13 0h15m118 0h15m322 0h15m-787 1h15m6 0h15m42 0h15m18 0h15m0 0h15m660 0h15m-754 1h15m51 0h15m685 0h15m-815 1h15m7 0h15m194 0h15m365 0h15m33 0h15m162 0h15m-837 1h15m3 0h15m45 0h15m-13 0h15m7 0h15m452 0h15m-616 1h15m2 0h15m43 0h15m-7 0h15m-3 0h15m-11 0h15m-2 0h15m-14 0h15m57 0h15m244 0h15m-504 1h15m64 0h15m59 0h15m-4 0h15m-145 1h15m4 0h15m110 0h15m533 0h15m11 0h15m-720 1h15m-2 0h15m-8 0h15m-11 0h15m32 0h15m160 0h15m26 0h15m-347 1h15m25 0h15m61 0h15m-13 0h15m50 0h15m21 0h15m-13 0h15m140 0h15m-359 1h15m21 0h15m-7 0h15m-6 0h15m65 0h15m9 0h15m1 0h15m4 0h15m3 0h15m55 0h15m160 0h15m-466 1h15m11 0h15m47 0h15m115 0h15m136 0h15m367 0h15m-801 1h15m135 1h15m-14 0h15m-5 0h15m1010 0h15m-1086 1h15m519 0h15m-649 1h15m11 0h15m56 0h15m49 0h15m-11 0h15m-151 1h15m37 0h15m-8 0h15m-171 1h15m10 0h15m64 0h15m24 0h15m42 0h15m348 0h15m219 0h15m-751 1h15m25 0h15m57 0h15m355 0h15m-413 1h15m19 0h15m159 0h15m340 0h15m-14 0h15m-603 1h15m-2 0h15m21 0h15m23 0h15m209 0h15m275 0h15m-648 1h15m84 0h15m232 0h15m25 0h15m87 0h15m342 0h15m-883 1h15m66 0h15m74 0h15m120 0h15m-9 0h15m280 0h15m-498 1h15m165 0h15m207 0h15m-460 1h15m9 0h15m371 0h15m157 0h15m333 0h15m-876 1h15m48 0h15m68 0h15m-284 1h15m27 0h15m-15 1h15m231 0h15m346 0h15m83 0h15m-754 1h15m648 0h15m-681 1h15m-8 0h15m126 0h15m5 0h15m4 0h15m-261 1h15m220 0h15m10 0h15m164 0h15m83 0h15m-510 1h15m353 0h15m-12 0h15m-342 1h15m17 0h15m6 0h15m14 0h15m-8 0h15m26 0h15m103 0h15m-273 1h15m126 0h15m10 0h15m-189 1h15m17 0h15m28 0h15m310 0h15m-432 1h15m-9 0h15m180 0h15m133 0h15m330 0h15m-652 1h15m29 0h15m10 0h15m311 0h15m8 0h15m-393 1h15m24 0h15m-112 1h15m282 0h15m785 0h15m-1085 1h15m6 0h15m601 0h15m-648 1h15m59 0h15m87 0h15m612 0h15m-884 1h15m58 0h15m49 0h15m336 0h15m-610 1h15m168 0h15m114 0h15m123 0h15m-322 1h15m35 0h15m77 0h15m-9 0h15m675 0h15m-914 1h15m69 0h15m0 0h15m-167 1h15m31 0h15m23 0h15m-14 0h15m49 0h15m-9 0h15m213 0h15m-299 1h15m1 0h15m90 0h15m286 0h15m-457 1h15m40 0h15m-1 0h15m4 0h15m18 0h15m-2 0h15m360 0h15m225 0h15m122 0h15m-928 1h15m9 0h15m28 0h15m270 0h15m429 0h15m-755 1h15m-6 0h15m2 0h15m70 0h15m-10 0h15m537 0h15m-715 1h15m196 0h15m-252 1h15m61 0h15m47 0h15m5 0h15m-172 1h15m8 0h15m127 0h15m229 0h15m-300 1h15m16 0h15m101 0h15m48 0h15m-312 1h15m11 0h15m58 0h15m-3 0h15m252 0h15m79 0h15m-542 1h15m41 0h15m6 0h15m17 0h15m6 0h15m140 0h15m400 0h15m177 0h15m-898 1h15m82 0h15m24 0h15m33 0h15m27 0h15m201 0h15m-437 1h15m9 0h15m329 0h15m-328 1h15m19 1h15m-13 0h15m666 0h15m-752 1h15m-6 0h15m-12 0h15m20 0h15m119 0h15m-94 1h15m429 0h15m-530 1h15m7 0h15m0 0h15m-13 0h15m187 0h15m313 0h15m-529 1h15m80 0h15m9 0h15m102 0h15m230 0h15m-592 1h15m8 0h15m42 0h15m21 0h15m-12 0h15m125 0h15m291 0h15m140 0h15m-697 1h15m56 0h15m11 0h15m-11 0h15m5 0h15m12 0h15m-207 1h15m149 0h15m66 2h15m40 0h15m-121 1h15m-15 0h15m23 0h15m-307 1h15m95 0h15m452 0h15m225 0h15m130 0h15m-728 1h15m283 0h15m9 0h15m125 0h15m-536 1h15m351 0h15m57 0h15m-576 1h15m93 0h15m15 0h15m165 0h15m-256 1h15m2 0h15m24 0h15m-1 0h15m760 0h15m-770 1h15m120 0h15m254 0h15m-570 1h15m-2 0h15m-14 0h15m101 0h15m-43 1h15m-13 0h15m119 0h15m152 0h15m-497 1h15m20 0h15m6 0h15m303 0h15m195 0h15m145 0h15m-664 1h15m12 0h15m32 0h15m-7 0h15m190 0h15m70 0h15m57 0h15m318 0h15m5 0h15m-870 1h15m64 0h15m13 0h15m18 0h15m240 0h15m-311 2h15m77 0h15m801 0h15m-1047 1h15m72 0h15m28 0h15m5 0h15m392 0h15m147 0h15m-742 1h15m190 0h15m455 0h15m143 0h15m-820 1h15m335 0h15m127 0h15m79 0h15m-558 1h15m28 0h15m-12 0h15m25 0h15m-93 1h15m-9 0h15m-97 1h15m18 0h15m56 0h15m158 0h15m-271 1h15m134 0h15m-122 1h15m0 0h15m2 0h15m290 0h15m122 0h15m-481 1h15m133 0h15m-208 1h15m-1 0h15m77 0h15m14 0h15m157 0h15m12 0h15m382 0h15m-661 1h15m16 0h15m501 0h15m-569 1h15m101 0h15m96 0h15m-271 1h15m-12 0h15m30 0h15m-59 1h15m-48 1h15m-59 1h15m102 0h15m63 0h15m-72 1h15m53 0h15m267 0h15m-325 1h15m144 0h15m92 0h15m214 0h15m-622 1h15m0 0h15m56 0h15m33 0h15m230 0h15m-217 1h15m-299 2h15m149 0h15m17 0h15m22 0h15m-10 0h15m-135 1h15m36 0h15m-20 1h15m699 0h15m-777 1h15m-14 0h15m2 0h15m5 0h15m67 0h15m255 0h15m33 0h15m-485 1h15m38 0h15m-3 0h15m435 0h15m623 0h15m-1113 1h15m230 1h15m-399 2h15m-3 0h15m123 0h15m0 0h15m62 0h15m518 0h15m37 0h15m-683 1h15m332 0h15m-381 1h15m-14 0h15m-43 1h15m5 0h15m224 0h15m-403 1h15m53 0h15m337 0h15m-265 1h15m501 0h15m-595 1h15m-4 0h15m41 0h15m3 0h15m-136 1h15m-68 1h15m24 0h15m579 0h15m392 0h15m-820 1h15m-144 1h15m-13 0h15m63 0h15m-1 0h15m-175 1h15m99 0h15m593 0h15m-702 1h15m0 0h15m66 0h15m109 0h15m-124 1h15m134 0h15m-237 1h15m14 0h15m41 0h15m-2 0h15m267 0h15m-258 1h15m-236 1h15m62 0h15m126 0h15m-243 1h15m84 0h15m94 0h15m336 0h15m-511 1h15m53 0h15m7 0h15m382 0h15m-447 1h15m-14 0h15m-35 1h15m29 1h15m508 0h15m-656 1h15m44 0h15m673 0h15m-792 1h15m18 2h15m89 0h15m27 0h15m1 0h15m23 1h15m305 0h15m110 0h15m-622 1h15m-39 1h15m226 0h15m-184 1h15m272 0h15m284 0h15m-588 2h15m2 0h15m-13 0h15m12 0h15m238 1h15m-13 0h15m-11 0h15m-214 1h15m-268 1h15m187 0h15m1 1h15m-101 1h15m5 1h15m-14 0h15m47 0h15m-201 2h15m43 0h15m368 0h15m26 0h15m-376 1h15m2 0h15m-8 0h15m327 0h15m-452 1h15m-17 2h15m7 0h15m532 0h15m-535 1h15m23 0h15m489 0h15m-562 1h15m-111 1h15m121 1h15m-74 1h15m43 0h15m25 0h15m-9 0h15m208 0h15m-378 1h15m-16 1h15m199 0h15m233 0h15m-147 2h15m134 0h15m-495 1h15m69 0h15m57 0h15m369 0h15m-447 1h15m-5 0h15m-43 1h15m-32 2h15m21 0h15m249 0h15m-368 2h15m32 0h15m-36 1h15m35 1h15m-1 0h15m8 0h15m-27 1h15m22 0h15m-38 2h15m-56 1h15m0 1h15m-105 1h15m13 0h15m6 0h15m-8 0h15m9 0h15m-8 0h15m61 0h15m-67 1h15m61 0h15m-77 1h15m17 0h15m-2 0h15m246 0h15m-485 1h15m19 0h15m505 1h15m-420 1h15m-65 1h15m208 0h15m565 0h15m-749 1h15m-45 1h15m-38 1h15m-45 1h15m-28 1h15m103 1h15m-157 1h15m-26 1h15m415 0h15m244 1h15m-648 1h15m-12 0h15m0 0h15m589 0h15m-749 2h15m445 1h15m258 1h15m-709 3h15m-13 0h15m658 0h15m85 1h15m-774 1h15m0 0h15m527 0h15m-525 1h15m83 2h15m471 0h15m-194 1h15m-469 1h15m111 0h15m-89 1h15m38 1h15m43 0h15m-116 1h15m45 0h15m-35 1h15m72 0h15m-141 1h15m-30 2h15m375 1h15m-522 1h15m59 0h15m107 0h15m450 0h15m95 0h15m-638 1h15m-56 2h15m74 0h15m-44 1h15m-78 1h15m28 0h15m41 0h15m-186 1h15m56 0h15m357 0h15m53 0h15m26 0h15m75 2h15m-558 1h15m215 0h15m-281 1h15m16 0h15m-113 1h15m95 3h15m52 0h15m16 0h15m130 0h15m752 2h15m-971 1h15m-129 1h15m52 4h15m259 0h15m-271 2h15m651 0h15m-756 1h15m149 2h15m98 0h15m17 0h15m157 0h15m-440 2h15m-92 2h15m66 3h15m300 0h15m-298 3h15m55 3h15m-118 2h15m97 0h15m61 0h15m-198 1h15m266 0h15m-411 1h15m65 0h15m61 0h15m92 1h15m-81 1h15m-154 3h15m-8 0h15m-81 1h15m121 0h15m119 3h15m270 1h15m-59 1h15m-531 1h15m88 1h15m-65 3h15m37 0h15m-110 2h15m676 1h15m-615 1h15m356 1h15m-350 3h15m4 0h15m-49 1h15m456 0h15m-479 1h15m-8 3h15m730 1h15m-236 4h15m460 1h15m-1006 1h15m123 2h15m-143 1h15m369 3h15m-470 1h15"/><path id="L86" transform="scale(0.1)" d="M1262 339h15m-25 23h15m-44 1h15m70 8h15m30 4h15m-132 1h15m50 9h15m-136 8h15m69 12h15m61 2h15m-120 5h15m25 2h15m64 1h15m-57 4h15m-89 5h15m-711 10h15m721 1h15m-50 5h15m77 0h15m-149 3h15m25 3h15m31 2h15m-751 3h15m714 0h15m-47 1h15m2 4h15m-56 1h15m-50 4h15m-722 1h15m696 2h15m154 0h15m-1169 1h15m958 1h15m157 0h15m-115 1h15m-856 1h15m831 0h15m91 0h15m-132 4h15m33 2h15m-35 1h15m-70 2h15m-15 1h15m129 1h15m-949 2h15m891 0h15m-6 0h15m-129 2h15m-7 0h15m8 0h15m-7 2h15m-834 1h15m744 0h15m93 0h15m5 1h15m-14 0h15m-414 2h15m234 0h15m-711 1h15m673 2h15m42 0h15m-51 1h15m-31 1h15m71 1h15m35 0h15m17 0h15m-228 1h15m117 1h15m-87 2h15m20 0h15m-10 0h15m-843 1h15m691 0h15m131 0h15m111 0h15m-179 1h15m65 1h15m-96 1h15m-158 2h15m66 0h15m-9 0h15m38 0h15m31 0h15m-136 1h15m157 0h15m-741 2h15m497 0h15m160 1h15m-1 0h15m-16 1h15m-908 1h15m547 0h15m219 0h15m-103 1h15m52 0h15m3 0h15m1 0h15m-379 1h15m-337 1h15m650 0h15m-11 0h15m12 0h15m-827 5h15m703 0h15m23 0h15m2 0h15m17 2h15m11 0h15m44 0h15m-98 1h15m-406 1h15m371 0h15m-52 1h15m19 0h15m29 0h15m30 0h15m-43 1h15m87 0h15m-719 1h15m425 0h15m33 0h15m48 0h15m13 0h15m-15 3h15m-31 1h15m-36 1h15m6 0h15m13 0h15m-8 0h15m-12 0h15m-93 2h15m-8 0h15m68 0h15m17 0h15m-141 1h15m-10 0h15m22 0h15m-470 1h15m382 0h15m26 0h15m30 0h15m83 0h15m-92 1h15m-74 1h15m13 0h15m-54 1h15m33 0h15m-989 1h15m888 0h15m14 0h15m-64 1h15m118 0h15m16 0h15m-173 1h15m67 0h15m-85 1h15m37 0h15m16 0h15m9 0h15m-155 1h15m-2 0h15m90 0h15m-430 1h15m375 0h15m66 0h15m-936 1h15m-13 1h15m834 0h15m-821 2h15m858 1h15m-864 1h15m568 0h15m113 0h15m44 0h15m-85 1h15m65 0h15m-104 1h15m9 0h15m113 0h15m-11 0h15m-200 2h15m87 0h15m12 0h15m-2 0h15m116 0h15m-253 1h15m-34 1h15m87 1h15m229 0h15m-361 1h15m12 0h15m-53 1h15m-8 0h15m6 0h15m3 0h15m31 0h15m-12 0h15m41 0h15m-356 1h15m263 0h15m-11 0h15m-771 1h15m355 0h15m-85 1h15m376 0h15m7 1h15m37 0h15m2 0h15m-465 1h15m395 0h15m-52 1h15m-5 0h15m102 0h15m-1025 1h15m817 0h15m-15 0h15m51 0h15m71 0h15m-19 1h15m-703 1h15m521 0h15m87 0h15m97 0h15m-14 0h15m16 0h15m-983 2h15m771 0h15m-11 0h15m60 0h15m-6 0h15m-2 0h15m7 0h15m-89 1h15m-402 1h15m326 0h15m-4 0h15m8 0h15m-292 1h15m212 0h15m32 0h15m-4 0h15m5 1h15m6 0h15m21 0h15m-136 1h15m103 0h15m-11 0h15m-104 1h15m105 0h15m-183 1h15m-1 0h15m36 0h15m-901 1h15m790 0h15m-62 1h15m72 0h15m45 0h15m-9 0h15m-616 1h15m593 0h15m-256 1h15m24 0h15m5 0h15m82 0h15m5 0h15m-1191 1h15m613 0h15m542 0h15m-52 1h15m38 0h15m47 0h15m-552 1h15m503 0h15m-10 0h15m-731 1h15m726 0h15m66 0h15m-566 1h15m246 0h15m41 0h15m29 0h15m114 0h15m-180 1h15m132 0h15m-73 1h15m-78 1h15m-3 0h15m56 0h15m-611 1h15m460 0h15m1 0h15m-10 1h15m82 0h15m3 0h15m-404 1h15m239 0h15m42 0h15m59 0h15m30 0h15m-296 1h15m25 0h15m46 0h15m39 0h15m61 0h15m-119 1h15m56 0h15m124 0h15m-816 1h15m497 0h15m-157 1h15m233 0h15m-318 1h15m235 0h15m14 0h15m73 0h15m63 0h15m-201 1h15m68 0h15m0 0h15m-813 1h15m650 0h15m34 0h15m-8 0h15m67 1h15m24 0h15m-898 1h15m366 0h15m374 0h15m27 0h15m8 0h15m-658 1h15m480 0h15m106 0h15m22 0h15m-54 1h15m-9 0h15m75 0h15m-881 1h15m154 0h15m492 0h15m35 0h15m-422 1h15m333 0h15m-2 0h15m102 0h15m-163 1h15m4 0h15m11 0h15m28 0h15m18 0h15m24 0h15m16 0h15m-184 1h15m174 0h15m-878 1h15m8 0h15m40 0h15m631 0h15m37 0h15m-9 0h15m19 0h15m-222 1h15m146 1h15m63 0h15m-396 1h15m199 0h15m81 0h15m39 0h15m-930 1h15m821 0h15m-2 0h15m-13 1h15m44 0h15m-7 0h15m3 0h15m-179 1h15m87 0h15m94 0h15m-274 1h15m77 0h15m65 0h15m-680 2h15m450 0h15m163 0h15m-922 1h15m-4 0h15m261 0h15m210 0h15m405 0h15m-89 1h15m98 0h15m30 0h15m-456 1h15m158 0h15m88 0h15m13 0h15m90 0h15m-742 1h15m565 0h15m-35 1h15m0 0h15m39 0h15m44 0h15m-182 1h15m41 0h15m65 0h15m55 0h15m-886 1h15m715 0h15m22 0h15m9 0h15m-3 0h15m68 0h15m-491 1h15m363 0h15m-5 0h15m31 0h15m-117 1h15m-10 0h15m12 0h15m33 0h15m-335 1h15m174 0h15m167 0h15m-797 1h15m164 0h15m363 0h15m110 0h15m17 0h15m56 0h15m-501 1h15m393 0h15m6 0h15m-920 1h15m394 0h15m386 0h15m9 0h15m0 0h15m-11 0h15m9 0h15m22 0h15m23 0h15m-99 1h15m11 0h15m-11 0h15m16 0h15m-978 1h15m60 0h15m808 0h15m0 0h15m-2 0h15m4 0h15m80 0h15m-264 1h15m31 0h15m3 0h15m-440 1h15m386 0h15m1 0h15m48 0h15m-8 0h15m24 0h15m2 0h15m-129 1h15m-14 0h15m23 0h15m-12 0h15m101 0h15m-857 1h15m7 0h15m630 0h15m52 0h15m-794 3h15m283 0h15m17 0h15m-9 0h15m335 0h15m-7 0h15m70 0h15m-949 1h15m65 0h15m352 0h15m65 0h15m317 0h15m-5 0h15m1 0h15m21 0h15m-6 0h15m-107 1h15m55 0h15m17 0h15m-858 1h15m721 0h15m149 0h15m34 0h15m-142 1h15m-13 0h15m17 0h15m43 0h15m-854 1h15m708 0h15m18 0h15m-5 0h15m72 0h15m-198 1h15m40 0h15m91 0h15m-849 1h15m654 0h15m113 0h15m-91 1h15m-796 1h15m759 0h15m-7 0h15m-760 1h15m388 0h15m277 0h15m136 0h15m39 0h15m-229 2h15m1 0h15m61 0h15m-4 0h15m-3 0h15m-549 1h15m469 0h15m26 0h15m-10 0h15m26 0h15m-858 1h15m178 0h15m658 0h15m-782 1h15m624 0h15m-6 0h15m13 0h15m-2 0h15m-2 0h15m39 0h15m54 0h15m-674 1h15m410 0h15m100 0h15m18 0h15m58 0h15m-1104 1h15m579 0h15m276 0h15m53 0h15m33 0h15m-448 1h15m226 0h15m96 0h15m8 0h15m2 0h15m31 0h15m-452 1h15m348 0h15m-11 0h15m-8 0h15m24 0h15m0 0h15m-95 1h15m-14 0h15m71 0h15m-3 0h15m-506 1h15m289 0h15m73 0h15m-4 0h15m50 0h15m-985 1h15m523 0h15m310 0h15m-3 0h15m75 0h15m-63 1h15m66 0h15m-492 1h15m456 0h15m-645 1h15m505 0h15m0 0h15m3 0h15m-3 0h15m-7 0h15m25 0h15m-553 1h15m66 0h15m296 0h15m61 0h15m13 0h15m-12 0h15m16 0h15m-699 2h15m387 0h15m257 0h15m-10 0h15m-132 1h15m24 0h15m58 0h15m22 0h15m18 0h15m-572 1h15m-212 1h15m606 0h15m3 0h15m56 0h15m-910 1h15m159 0h15m90 0h15m476 0h15m22 0h15m64 0h15m99 0h15m-517 1h15m263 0h15m5 0h15m-11 0h15m-618 1h15m556 1h15m-447 1h15m228 0h15m-753 1h15m822 0h15m170 0h15m33 0h15m-209 1h15m-7 0h15m29 0h15m25 0h15m-9 0h15m34 0h15m-123 1h15m35 0h15m14 0h15m99 0h15m-491 1h15m265 0h15m94 0h15m-13 0h15m-14 0h15m-2 0h15m-893 1h15m288 0h15m163 0h15m-1 0h15m51 0h15m200 0h15m-13 0h15m37 0h15m18 0h15m-894 1h15m111 0h15m714 0h15m-52 1h15m-895 1h15m489 0h15m334 0h15m-48 1h15m108 0h15m-185 1h15m121 0h15m-7 0h15m45 0h15m-762 1h15m163 0h15m173 0h15m-84 1h15m310 0h15m23 0h15m100 0h15m-848 1h15m678 0h15m88 0h15m-1104 1h15m242 0h15m278 0h15m480 0h15m27 0h15m-927 1h15m49 0h15m289 0h15m370 0h15m5 0h15m72 0h15m-290 1h15m225 0h15m57 0h15m116 0h15m-621 1h15m289 0h15m-2 0h15m48 0h15m53 0h15m5 0h15m-113 1h15m4 0h15m-9 0h15m-163 1h15m126 0h15m50 0h15m-14 0h15m-90 1h15m-570 1h15m31 0h15m477 0h15m62 0h15m-852 1h15m872 0h15m-458 1h15m166 0h15m110 0h15m98 0h15m22 0h15m-1000 1h15m540 0h15m11 0h15m243 0h15m9 0h15m136 0h15m-786 1h15m131 0h15m8 0h15m450 0h15m-10 0h15m-13 0h15m33 0h15m-769 1h15m515 0h15m30 0h15m20 0h15m-15 0h15m80 0h15m40 0h15m-772 1h15m326 0h15m307 0h15m127 0h15m-633 1h15m67 0h15m14 0h15m351 0h15m-4 0h15m46 0h15m52 0h15m34 0h15m-363 1h15m78 0h15m57 0h15m86 0h15m-701 1h15m51 0h15m146 0h15m10 0h15m96 0h15m250 0h15m28 0h15m-728 1h15m93 0h15m479 0h15m25 0h15m31 0h15m0 0h15m-12 0h15m40 0h15m-100 1h15m-669 1h15m213 0h15m296 0h15m-228 1h15m365 0h15m-880 1h15m76 0h15m261 0h15m471 0h15m5 0h15m-757 1h15m633 0h15m-734 1h15m651 0h15m1 0h15m28 0h15m46 0h15m-918 1h15m193 0h15m3 0h15m138 0h15m283 0h15m89 0h15m-772 1h15m60 0h15m207 0h15m480 0h15m-14 0h15m50 0h15m24 0h15m-134 1h15m58 0h15m-700 1h15m330 0h15m316 0h15m68 0h15m-861 1h15m69 0h15m222 0h15m362 0h15m-847 1h15m194 0h15m623 0h15m-747 1h15m755 0h15m24 0h15m26 0h15m-4 0h15m-860 1h15m437 0h15m-472 1h15m470 0h15m214 0h15m68 0h15m-936 1h15m145 0h15m99 0h15m47 0h15m257 0h15m-4 0h15m10 0h15m99 0h15m69 0h15m-2 0h15m-1 0h15m5 1h15m11 0h15m56 0h15m-621 1h15m498 0h15m74 0h15m-965 1h15m570 0h15m295 0h15m-11 0h15m-64 1h15m-678 1h15m498 0h15m-457 1h15m253 0h15m81 0h15m190 0h15m75 0h15m-346 1h15m237 0h15m-767 1h15m2 0h15m88 0h15m187 0h15m369 0h15m29 0h15m56 0h15m-829 1h15m72 0h15m552 0h15m65 0h15m-831 1h15m148 0h15m201 0h15m190 0h15m67 0h15m149 0h15m15 0h15m-6 0h15m-69 1h15m28 0h15m-652 1h15m153 0h15m349 0h15m-11 0h15m80 0h15m22 0h15m-15 0h15m-10 0h15m-649 1h15m354 0h15m81 0h15m130 0h15m8 0h15m-11 0h15m-417 1h15m402 0h15m-756 1h15m193 0h15m187 0h15m264 0h15m-602 1h15m108 0h15m350 0h15m6 0h15m30 0h15m-7 0h15m89 0h15m-1070 1h15m243 0h15m672 0h15m18 0h15m37 0h15m-10 0h15m-410 1h15m-3 0h15m-6 0h15m91 0h15m94 0h15m50 0h15m-305 1h15m2 0h15m152 0h15m44 0h15m40 0h15m-768 2h15m63 0h15m437 0h15m106 0h15m34 0h15m49 0h15m-13 0h15m44 0h15m-660 1h15m94 1h15m94 0h15m279 0h15m-6 0h15m6 0h15m98 0h15m-774 1h15m300 0h15m49 0h15m194 0h15m54 0h15m11 0h15m78 0h15m-871 1h15m280 0h15m-391 1h15m13 0h15m395 0h15m75 0h15m281 0h15m43 0h15m-985 1h15m106 0h15m22 0h15m404 0h15m22 0h15m274 0h15m102 0h15m-774 1h15m137 0h15m537 0h15m69 0h15m-911 1h15m721 0h15m-7 0h15m101 0h15m-655 1h15m270 0h15m258 0h15m13 0h15m-597 1h15m-220 1h15m82 0h15m18 0h15m282 0h15m190 0h15m216 0h15m-1032 1h15m625 0h15m235 0h15m54 0h15m-603 1h15m246 0h15m-3 0h15m251 0h15m4 0h15m-612 1h15m109 0h15m7 0h15m70 0h15m308 0h15m-900 2h15m264 0h15m3 0h15m561 0h15m67 0h15m-792 1h15m213 0h15m463 0h15m14 0h15m-10 0h15m-829 1h15m330 0h15m27 0h15m35 0h15m347 0h15m18 0h15m-4 0h15m-1123 1h15m607 0h15m6 0h15m377 0h15m-845 1h15m301 0h15m139 0h15m-14 0h15m415 0h15m-1051 2h15m238 0h15m38 0h15m7 0h15m249 0h15m222 0h15m-587 1h15m1 0h15m391 0h15m0 0h15m256 0h15m-13 0h15m-861 1h15m216 0h15m307 0h15m-411 1h15m326 0h15m64 0h15m-456 1h15m137 0h15m101 0h15m264 0h15m75 0h15m-680 1h15m426 0h15m245 0h15m64 0h15m82 0h15m-482 1h15m-77 1h15m72 0h15m382 0h15m-826 1h15m-6 0h15m8 0h15m611 0h15m92 0h15m-904 1h15m259 0h15m15 0h15m291 0h15m230 0h15m-860 1h15m30 0h15m52 0h15m106 0h15m49 0h15m181 0h15m354 0h15m-803 1h15m16 0h15m118 0h15m97 0h15m179 0h15m27 0h15m-59 1h15m-567 1h15m370 0h15m105 0h15m73 0h15m-3 0h15m-480 1h15m4 0h15m44 0h15m361 0h15m218 0h15m-935 1h15m624 0h15m0 0h15m-638 1h15m63 0h15m483 0h15m199 0h15m90 0h15m57 0h15m-136 1h15m128 0h15m-877 1h15m232 0h15m-170 1h15m208 0h15m271 0h15m-645 1h15m522 0h15m288 0h15m-688 1h15m23 0h15m464 0h15m-711 1h15m17 0h15m124 0h15m246 0h15m85 0h15m103 0h15m267 0h15m-759 1h15m99 0h15m271 0h15m100 0h15m-544 1h15m786 0h15m-542 1h15m57 0h15m293 0h15m65 0h15m-931 1h15m88 0h15m19 0h15m669 0h15m0 0h15m-49 1h15m-539 1h15m32 0h15m115 0h15m-9 0h15m79 0h15m13 0h15m248 0h15m1 0h15m-728 1h15m229 0h15m541 0h15m-948 1h15m-5 0h15m319 0h15m474 0h15m-917 1h15m118 0h15m-10 0h15m4 0h15m21 0h15m408 0h15m-7 0h15m9 0h15m-198 1h15m144 0h15m156 0h15m-777 1h15m244 0h15m245 0h15m173 0h15m-605 1h15m94 0h15m187 0h15m320 0h15m60 0h15m-832 1h15m216 0h15m216 0h15m-12 0h15m-8 0h15m178 0h15m-492 1h15m72 0h15m366 0h15m-605 1h15m86 0h15m305 0h15m123 0h15m122 0h15m148 0h15m-968 1h15m210 0h15m41 0h15m-116 1h15m-4 0h15m398 0h15m-493 1h15m98 0h15m251 0h15m171 0h15m-681 1h15m69 0h15m118 0h15m92 1h15m-439 1h15m158 0h15m-10 0h15m101 0h15m-11 0h15m343 1h15m-519 1h15m387 0h15m15 0h15m70 0h15m72 0h15m189 0h15m-871 1h15m41 0h15m441 0h15m228 0h15m-500 1h15m126 0h15m310 0h15m-247 1h15m3 0h15m358 0h15m40 0h15m-864 1h15m313 0h15m139 0h15m-427 1h15m300 0h15m48 0h15m-1 0h15m51 0h15m122 0h15m-672 1h15m16 0h15m144 0h15m554 0h15m-878 1h15m65 0h15m215 0h15m-295 1h15m101 0h15m300 0h15m2 0h15m-1 0h15m268 0h15m-667 1h15m132 0h15m411 0h15m-611 1h15m70 0h15m333 0h15m-402 1h15m215 0h15m231 0h15m27 0h15m0 0h15m-618 1h15m138 0h15m554 0h15m-763 1h15m629 0h15m-648 1h15m0 0h15m205 0h15m458 0h15m-415 1h15m71 0h15m52 0h15m54 0h15m-545 1h15m343 0h15m118 0h15m-553 1h15m-8 0h15m27 0h15m8 0h15m89 0h15m44 0h15m150 0h15m85 0h15m-196 1h15m181 0h15m139 0h15m-5 0h15m-663 1h15m382 0h15m145 0h15m-9 0h15m160 0h15m-799 1h15m93 0h15m4 0h15m25 0h15m-119 1h15m56 0h15m31 0h15m-14 0h15m-1 0h15m-9 0h15m135 0h15m53 0h15m-719 1h15m357 0h15m78 0h15m272 0h15m42 0h15m75 0h15m-663 1h15m21 0h15m76 0h15m370 0h15m-560 1h15m70 0h15m130 0h15m7 0h15m205 0h15m1 0h15m103 0h15m159 0h15m87 0h15m-498 1h15m123 0h15m27 0h15m25 0h15m138 0h15m-507 1h15m30 0h15m524 0h15m-656 1h15m30 1h15m48 0h15m99 0h15m466 0h15m-901 1h15m526 0h15m48 0h15m-597 1h15m68 0h15m98 0h15m2 0h15m375 0h15m-5 0h15m-533 1h15m3 0h15m293 0h15m-354 1h15m166 0h15m12 0h15m-241 1h15m13 0h15m118 0h15m136 0h15m85 0h15m9 0h15m4 0h15m-511 1h15m52 0h15m150 0h15m-242 1h15m140 0h15m401 1h15m239 0h15m-750 1h15m13 0h15m200 0h15m103 0h15m72 0h15m-542 1h15m330 0h15m182 0h15m-626 1h15m79 0h15m22 0h15m20 0h15m150 0h15m-319 1h15m93 0h15m294 0h15m35 0h15m-542 1h15m50 0h15m68 0h15m-2 0h15m30 0h15m101 0h15m344 0h15m455 0h15m-853 1h15m136 0h15m238 1h15m120 0h15m-659 1h15m10 0h15m93 0h15m99 0h15m-415 1h15m0 0h15m112 0h15m330 0h15m8 0h15m-164 1h15m518 0h15m170 0h15m-1224 1h15m246 0h15m503 0h15m-718 1h15m586 0h15m77 0h15m-594 1h15m187 0h15m-10 0h15m-180 1h15m339 0h15m118 0h15m10 0h15m13 0h15m55 0h15m-547 1h15m-53 1h15m15 0h15m257 0h15m-11 1h15m60 0h15m83 0h15m-507 1h15m-3 0h15m-237 1h15m60 0h15m156 0h15m-3 0h15m32 0h15m277 0h15m-519 1h15m133 0h15m22 0h15m14 0h15m264 0h15m-109 1h15m-398 1h15m148 0h15m556 0h15m105 0h15m-901 1h15m112 0h15m133 0h15m150 0h15m-418 1h15m-40 1h15m42 0h15m-7 0h15m167 0h15m-13 0h15m-345 1h15m73 0h15m586 0h15m-11 0h15m-653 1h15m86 0h15m0 0h15m-234 1h15m490 0h15m171 0h15m135 0h15m-783 1h15m118 0h15m97 0h15m-7 0h15m311 0h15m-454 1h15m-5 0h15m49 0h15m-15 0h15m168 0h15m187 0h15m-14 0h15m-15 0h15m-405 1h15m174 0h15m-337 1h15m110 0h15m17 0h15m37 0h15m1 0h15m229 0h15m38 0h15m-709 1h15m225 0h15m11 0h15m-7 0h15m27 0h15m37 0h15m304 0h15m7 1h15m-432 1h15m83 0h15m309 0h15m166 0h15m146 0h15m-939 1h15m-12 0h15m79 0h15m54 0h15m-5 0h15m445 0h15m-679 1h15m134 0h15m40 0h15m528 0h15m-650 1h15m86 0h15m72 0h15m238 0h15m98 0h15m-592 1h15m342 0h15m68 0h15m207 0h15m-661 1h15m170 0h15m147 0h15m43 0h15m-320 1h15m142 0h15m220 0h15m143 0h15m-575 1h15m338 0h15m47 0h15m-607 1h15m191 0h15m84 0h15m-248 1h15m180 0h15m181 0h15m-510 1h15m179 0h15m1 0h15m-11 0h15m42 0h15m334 1h15m-546 1h15m24 0h15m497 0h15m-496 1h15m43 0h15m81 0h15m243 0h15m-503 1h15m288 0h15m-12 0h15m142 0h15m167 0h15m-699 1h15m119 0h15m-7 0h15m-6 0h15m41 0h15m1 0h15m25 0h15m195 0h15m-363 1h15m320 0h15m-429 1h15m61 0h15m79 0h15m262 0h15m-627 2h15m281 0h15m-12 0h15m326 0h15m-615 1h15m275 0h15m190 0h15m22 0h15m61 0h15m133 0h15m-692 1h15m21 0h15m-5 0h15m21 0h15m480 0h15m-11 1h15m-720 1h15m246 0h15m491 0h15m-506 1h15m10 0h15m-201 1h15m39 0h15m135 0h15m10 0h15m78 0h15m-258 1h15m64 0h15m7 0h15m458 0h15m46 0h15m-653 1h15m96 0h15m29 0h15m90 0h15m-219 1h15m-81 1h15m107 0h15m327 0h15m-14 0h15m66 0h15m-692 1h15m260 0h15m-248 1h15m3 0h15m-11 0h15m184 0h15m23 0h15m351 0h15m105 0h15m-710 1h15m40 0h15m53 0h15m49 0h15m57 0h15m245 0h15m-335 1h15m88 0h15m87 0h15m7 0h15m84 0h15m31 0h15m64 0h15m-587 1h15m-3 0h15m2 0h15m-3 0h15m26 0h15m-12 0h15m23 0h15m129 0h15m309 0h15m-708 1h15m132 0h15m269 0h15m32 0h15m249 0h15m11 0h15m-713 1h15m13 0h15m-11 0h15m117 0h15m29 0h15m456 0h15m-573 1h15m163 0h15m60 0h15m-476 1h15m138 0h15m200 0h15m52 0h15m-464 1h15m10 0h15m66 0h15m-10 0h15m-9 0h15m12 0h15m204 0h15m72 0h15m-312 1h15m58 0h15m-198 1h15m81 0h15m-1 0h15m-3 0h15m-43 1h15m47 0h15m134 0h15m-320 1h15m50 0h15m-12 0h15m24 0h15m120 0h15m103 0h15m50 0h15m151 0h15m-538 1h15m99 0h15m27 0h15m339 0h15m12 0h15m-478 1h15m-328 1h15m261 0h15m12 0h15m-72 1h15m54 0h15m-111 1h15m80 0h15m378 0h15m-772 1h15m220 0h15m25 0h15m7 0h15m247 0h15m-250 1h15m155 0h15m158 0h15m214 0h15m-699 1h15m49 0h15m41 0h15m-11 0h15m101 0h15m-247 1h15m66 0h15m110 0h15m13 0h15m115 0h15m27 0h15m80 0h15m140 0h15m-663 1h15m3 0h15m72 1h15m-9 0h15m534 0h15m-735 1h15m210 0h15m9 0h15m-2 0h15m316 0h15m-10 0h15m-560 1h15m122 0h15m6 0h15m78 0h15m388 0h15m-752 1h15m285 0h15m22 0h15m-222 1h15m96 0h15m70 0h15m114 0h15m-421 1h15m65 0h15m71 0h15m-208 1h15m47 0h15m679 0h15m-12 0h15m-717 1h15m70 0h15m61 0h15m29 0h15m16 0h15m72 0h15m-142 1h15m-13 0h15m596 0h15m-799 1h15m121 0h15m91 0h15m225 0h15m-416 1h15m43 0h15m-5 0h15m255 0h15m-719 1h15m188 0h15m288 0h15m129 0h15m266 0h15m-581 1h15m121 0h15m-4 0h15m-9 0h15m-9 0h15m9 0h15m-366 1h15m115 0h15m4 0h15m50 0h15m148 0h15m583 0h15m-851 1h15m42 0h15m83 0h15m135 0h15m-412 1h15m163 0h15m419 0h15m21 0h15m-566 1h15m251 0h15m225 0h15m-700 1h15m202 0h15m16 0h15m-8 0h15m72 0h15m45 0h15m-368 1h15m139 0h15m8 0h15m584 0h15m-714 1h15m28 0h15m0 0h15m566 0h15m-680 1h15m64 0h15m11 0h15m146 0h15m-13 0h15m-5 1h15m320 0h15m-567 1h15m65 0h15m43 0h15m-11 0h15m345 0h15m10 0h15m-743 1h15m124 0h15m47 0h15m51 0h15m22 0h15m355 1h15m-431 1h15m125 0h15m267 0h15m120 0h15m-690 1h15m-11 0h15m1 0h15m-12 0h15m46 0h15m-11 0h15m-216 1h15m108 0h15m52 0h15m46 0h15m56 0h15m306 0h15m-499 1h15m8 0h15m-14 0h15m142 0h15m105 0h15m-315 1h15m3 0h15m44 0h15m-141 1h15m43 0h15m-9 0h15m-75 1h15m80 0h15m57 0h15m-12 0h15m354 0h15m-572 1h15m95 0h15m3 0h15m1 0h15m-3 0h15m10 0h15m-2 0h15m33 0h15m-516 1h15m229 0h15m-2 0h15m-8 0h15m61 0h15m89 0h15m10 0h15m19 0h15m-117 1h15m35 0h15m-184 1h15m16 0h15m-14 0h15m93 0h15m52 0h15m165 0h15m-448 1h15m-5 0h15m115 0h15m441 0h15m-616 1h15m119 0h15m43 0h15m214 0h15m171 0h15m-549 1h15m15 0h15m330 0h15m29 0h15m-449 1h15m-108 1h15m294 0h15m6 0h15m-359 1h15m107 0h15m88 0h15m3 0h15m-11 0h15m-179 1h15m53 0h15m83 0h15m-3 0h15m5 0h15m6 0h15m-294 1h15m89 0h15m-8 0h15m1 0h15m0 0h15m538 0h15m80 0h15m-714 1h15m75 0h15m100 0h15m-192 1h15m28 0h15m-9 0h15m11 0h15m-7 0h15m-13 0h15m27 0h15m-10 0h15m739 0h15m-1096 1h15m297 0h15m38 0h15m-63 1h15m-243 1h15m70 0h15m54 0h15m72 0h15m-154 1h15m48 0h15m-9 0h15m15 0h15m428 0h15m-601 1h15m89 0h15m44 0h15m182 0h15m200 0h15m4 0h15m-604 1h15m191 1h15m51 0h15m397 0h15m-847 1h15m176 0h15m101 0h15m118 0h15m-361 1h15m100 0h15m47 0h15m20 0h15m64 0h15m104 0h15m207 0h15m-556 1h15m114 0h15m1 0h15m-7 0h15m96 0h15m-321 1h15m476 0h15m-532 1h15m39 0h15m-13 0h15m123 0h15m28 0h15m40 0h15m90 0h15m22 0h15m56 0h15m-516 1h15m217 0h15m13 0h15m-251 1h15m82 0h15m21 0h15m-11 0h15m57 0h15m-119 1h15m34 0h15m-13 0h15m-4 0h15m22 0h15m358 0h15m24 0h15m-595 1h15m39 0h15m258 0h15m133 0h15m-572 1h15m9 0h15m-11 0h15m46 0h15m91 0h15m16 0h15m355 0h15m-683 1h15m36 0h15m39 0h15m47 0h15m102 0h15m-266 1h15m154 0h15m171 0h15m68 0h15m469 0h15m-881 1h15m78 0h15m49 0h15m-213 1h15m12 0h15m3 0h15m93 0h15m-79 1h15m202 0h15m61 0h15m-274 1h15m38 0h15m4 0h15m-9 0h15m-9 0h15m-5 0h15m12 0h15m-125 1h15m-8 0h15m5 0h15m49 0h15m182 0h15m-336 1h15m37 0h15m44 0h15m32 0h15m26 0h15m633 0h15m-983 1h15m215 0h15m44 0h15m-366 1h15m328 0h15m-389 1h15m100 0h15m52 0h15m3 0h15m7 0h15m-10 0h15m199 0h15m-261 1h15m57 0h15m51 0h15m17 0h15m149 0h15m-307 1h15m146 0h15m-6 0h15m271 0h15m-324 1h15m31 0h15m165 0h15m-295 1h15m58 0h15m123 0h15m188 0h15m-594 1h15m374 0h15m-568 1h15m203 0h15m594 0h15m-746 1h15m9 0h15m139 0h15m52 0h15m14 0h15m-265 1h15m176 0h15m-13 0h15m5 0h15m-6 0h15m-13 0h15m57 0h15m342 0h15m-544 1h15m78 0h15m6 0h15m41 0h15m57 0h15m-226 1h15m-12 0h15m7 0h15m48 0h15m25 0h15m257 0h15m69 0h15m190 0h15m-833 1h15m169 0h15m22 0h15m-13 0h15m389 0h15m-710 1h15m167 0h15m-10 0h15m79 0h15m169 0h15m112 0h15m-489 1h15m1 0h15m275 0h15m223 0h15m-616 1h15m69 0h15m186 0h15m-6 0h15m86 0h15m243 0h15m-668 1h15m41 0h15m76 0h15m28 0h15m32 0h15m138 0h15m-323 1h15m97 0h15m19 0h15m490 0h15m-728 1h15m116 0h15m150 0h15m26 0h15m-333 1h15m-13 0h15m0 0h15m65 0h15m33 0h15m102 0h15m-365 1h15m168 0h15m-7 0h15m26 0h15m143 0h15m-388 1h15m-9 0h15m116 0h15m94 0h15m-1 0h15m12 0h15m-218 1h15m42 0h15m-12 0h15m-12 0h15m2 0h15m55 0h15m-12 0h15m19 0h15m81 0h15m179 0h15m224 0h15m-793 1h15m96 0h15m-4 0h15m-14 0h15m-13 0h15m118 0h15m-211 1h15m-13 0h15m125 0h15m56 0h15m38 0h15m-390 1h15m171 0h15m8 0h15m-1 0h15m33 0h15m-149 1h15m131 0h15m0 0h15m289 0h15m250 0h15m-759 1h15m125 0h15m131 0h15m-406 1h15m35 0h15m60 0h15m29 0h15m40 0h15m5 0h15m10 0h15m-4 0h15m426 0h15m23 0h15m-575 1h15m-9 0h15m373 0h15m-569 1h15m72 0h15m215 0h15m58 0h15m-389 1h15m2 0h15m65 0h15m-9 0h15m170 1h15m-11 0h15m257 0h15m-590 1h15m48 0h15m13 0h15m437 0h15m232 0h15m-745 1h15m-2 0h15m-8 0h15m182 0h15m129 0h15m-442 1h15m-14 0h15m64 0h15m28 0h15m7 0h15m94 0h15m116 0h15m-419 1h15m13 0h15m174 0h15m340 0h15m-535 1h15m198 0h15m440 0h15m-4 0h15m-862 1h15m84 0h15m80 0h15m45 0h15m88 0h15m171 0h15m-195 1h15m-6 0h15m223 0h15m136 0h15m-699 1h15m-10 0h15m234 0h15m8 0h15m54 0h15m238 0h15m-680 1h15m208 0h15m137 0h15m180 0h15m-498 1h15m72 0h15m37 0h15m33 0h15m104 0h15m98 0h15m-343 1h15m196 0h15m-8 0h15m261 0h15m-572 1h15m36 0h15m80 0h15m294 0h15m348 0h15m-823 1h15m57 0h15m0 0h15m190 0h15m192 0h15m-463 1h15m74 0h15m57 0h15m-5 0h15m227 0h15m175 0h15m-703 1h15m34 0h15m168 0h15m-14 0h15m90 0h15m-443 1h15m32 0h15m157 0h15m67 0h15m9 0h15m337 0h15m91 0h15m-635 1h15m22 0h15m-2 0h15m18 0h15m45 1h15m42 0h15m-106 1h15m46 0h15m-206 1h15m62 0h15m9 0h15m77 0h15m360 0h15m25 0h15m-617 1h15m11 0h15m35 0h15m104 0h15m-7 0h15m39 0h15m-6 0h15m-285 1h15m7 0h15m83 0h15m71 0h15m-99 1h15m-5 0h15m34 0h15m16 0h15m118 0h15m-274 1h15m16 0h15m149 1h15m-285 1h15m26 0h15m10 0h15m44 0h15m32 0h15m19 0h15m-136 1h15m41 0h15m287 0h15m28 0h15m-397 1h15m4 0h15m-5 0h15m-137 1h15m142 0h15m-195 1h15m25 0h15m14 0h15m11 0h15m-161 1h15m20 0h15m158 0h15m199 0h15m-166 1h15m-9 0h15m27 0h15m232 0h15m-570 1h15m81 0h15m-8 0h15m20 0h15m-12 0h15m221 0h15m-144 1h15m277 0h15m-394 1h15m53 0h15m-211 1h15m-3 0h15m123 0h15m69 0h15m6 0h15m16 0h15m32 0h15m5 0h15m71 0h15m-435 1h15m8 0h15m144 0h15m89 0h15m-333 1h15m48 0h15m99 0h15m2 0h15m-141 1h15m16 0h15m12 1h15m32 0h15m47 0h15m21 0h15m309 0h15m134 1h15m-683 1h15m5 0h15m-12 0h15m34 0h15m-11 0h15m134 0h15m-5 0h15m-6 0h15m135 0h15m-462 1h15m75 0h15m5 0h15m46 0h15m207 0h15m-505 1h15m104 0h15m66 0h15m412 0h15m207 0h15m-618 1h15m48 0h15m439 0h15m-586 1h15m13 0h15m15 0h15m169 0h15m-326 1h15m68 0h15m-12 0h15m49 0h15m-15 0h15m25 0h15m-176 1h15m32 0h15m21 0h15m-9 0h15m87 0h15m365 0h15m-740 1h15m112 0h15m30 0h15m24 0h15m44 0h15m73 0h15m357 0h15m95 0h15m-733 1h15m13 0h15m12 0h15m245 0h15m13 0h15m-407 1h15m70 0h15m0 0h15m4 0h15m-11 0h15m17 0h15m9 0h15m-13 0h15m355 0h15m-472 1h15m28 0h15m142 0h15m151 0h15m-531 1h15m93 0h15m35 0h15m-8 0h15m721 0h15m-749 1h15m4 0h15m143 0h15m-283 1h15m-1 0h15m37 0h15m125 0h15m392 0h15m236 0h15m-860 1h15m-81 1h15m108 0h15m-4 0h15m51 0h15m-11 0h15m33 0h15m25 0h15m187 0h15m-478 1h15m23 0h15m-14 0h15m0 0h15m189 0h15m-1 0h15m-309 1h15m2 0h15m94 0h15m150 0h15m-112 1h15m25 0h15m-12 0h15m-10 0h15m-199 1h15m35 0h15m35 0h15m7 0h15m-273 1h15m208 0h15m2 0h15m17 0h15m189 0h15m-392 1h15m52 0h15m-6 0h15m187 0h15m-299 1h15m27 0h15m2 0h15m145 0h15m451 0h15m-606 1h15m67 0h15m14 0h15m42 0h15m466 0h15m-712 1h15m61 0h15m60 0h15m41 0h15m-14 0h15m330 0h15m-607 1h15m67 0h15m55 0h15m42 0h15m63 0h15m-281 1h15m148 0h15m38 0h15m-375 1h15m229 0h15m77 0h15m-181 1h15m123 0h15m119 0h15m5 0h15m12 0h15m476 0h15m-893 1h15m57 0h15m91 0h15m291 0h15m-511 1h15m70 0h15m42 0h15m45 0h15m-4 0h15m85 0h15m191 0h15m535 0h15m-949 1h15m-9 0h15m81 0h15m-143 1h15m1 0h15m6 0h15m12 0h15m47 0h15m-296 1h15m-1 0h15m44 0h15m57 0h15m25 0h15m34 0h15m4 0h15m6 0h15m46 0h15m6 0h15m286 0h15m-493 1h15m-109 1h15m-2 0h15m86 0h15m27 0h15m8 0h15m-97 1h15m-6 0h15m0 0h15m5 0h15m96 0h15m-101 1h15m27 0h15m-14 0h15m16 0h15m125 0h15m607 0h15m-967 1h15m30 0h15m433 0h15m-509 1h15m113 0h15m56 0h15m1 0h15m49 0h15m112 0h15m-454 1h15m25 0h15m9 0h15m49 0h15m-138 1h15m66 0h15m77 0h15m11 1h15m453 0h15m-616 1h15m-11 0h15m195 0h15m97 0h15m538 0h15m-904 1h15m20 0h15m2 0h15m-14 0h15m99 0h15m-12 0h15m-12 0h15m5 0h15m25 0h15m170 0h15m-548 1h15m6 0h15m-11 0h15m5 0h15m106 0h15m5 0h15m103 0h15m15 0h15m3 0h15m12 0h15m149 0h15m-575 1h15m29 0h15m34 0h15m35 0h15m5 0h15m60 0h15m33 0h15m595 0h15m-734 1h15m139 0h15m-136 1h15m79 0h15m9 0h15m-239 1h15m41 0h15m8 0h15m-3 0h15m-13 0h15m-15 0h15m148 0h15m-256 1h15m95 0h15m16 0h15m14 0h15m-295 1h15m34 0h15m10 0h15m484 0h15m-437 1h15m464 0h15m-444 1h15m-4 0h15m216 0h15m-365 1h15m110 0h15m44 0h15m87 0h15m-255 1h15m33 0h15m-41 1h15m11 0h15m83 0h15m-4 0h15m-209 1h15m82 0h15m-10 0h15m-44 1h15m-15 0h15m89 0h15m156 0h15m-287 1h15m12 0h15m19 0h15m-3 0h15m3 0h15m270 0h15m400 0h15m52 0h15m-990 1h15m19 0h15m1 0h15m22 0h15m15 0h15m-5 0h15m101 0h15m-386 1h15m131 0h15m10 0h15m67 0h15m-7 0h15m53 0h15m71 0h15m-263 1h15m-5 0h15m61 0h15m-15 0h15m124 0h15m120 0h15m188 0h15m-596 1h15m110 0h15m25 0h15m85 0h15m230 0h15m-436 1h15m7 0h15m374 0h15m-476 1h15m22 0h15m37 0h15m-14 0h15m55 1h15m96 0h15m189 0h15m-712 1h15m122 0h15m31 0h15m39 0h15m-5 0h15m0 0h15m0 0h15m16 0h15m543 0h15m-633 1h15m40 0h15m290 0h15m32 0h15m92 0h15m-673 1h15m106 0h15m2 0h15m6 0h15m-7 0h15m-95 1h15m33 0h15m-7 0h15m-3 0h15m52 0h15m112 0h15m265 0h15m116 0h15m-706 1h15m-5 0h15m-6 0h15m33 0h15m58 0h15m42 0h15m134 0h15m-286 1h15m202 0h15m-323 1h15m31 0h15m36 0h15m35 0h15m36 0h15m-158 1h15m38 0h15m12 0h15m-1 0h15m-2 0h15m-283 1h15m64 0h15m10 0h15m616 0h15m-554 1h15m35 0h15m111 0h15m-333 1h15m117 0h15m20 0h15m-10 0h15m26 0h15m-4 0h15m-406 1h15m231 0h15m10 0h15m-2 0h15m61 0h15m-174 1h15m108 0h15m59 0h15m73 0h15m-205 1h15m47 0h15m-209 1h15m119 0h15m81 0h15m23 0h15m-2 0h15m660 0h15m-1039 1h15m50 0h15m128 0h15m55 0h15m-5 0h15m-15 0h15m-185 1h15m348 0h15m-469 1h15m158 0h15m64 0h15m26 0h15m1 0h15m-198 1h15m78 0h15m14 0h15m-140 1h15m91 0h15m18 0h15m239 0h15m-468 1h15m14 0h15m128 0h15m214 0h15m211 0h15m-715 1h15m106 0h15m8 0h15m21 0h15m36 0h15m49 0h15m41 0h15m50 0h15m55 0h15m-387 1h15m25 0h15m-6 0h15m52 0h15m-12 0h15m93 0h15m112 0h15m-424 1h15m77 0h15m226 0h15m143 0h15m30 0h15m215 0h15m-620 1h15m43 0h15m85 0h15m300 0h15m-624 1h15m185 0h15m-11 0h15m5 0h15m107 0h15m-378 1h15m108 0h15m54 0h15m73 0h15m-306 2h15m67 0h15m17 0h15m24 0h15m-4 0h15m54 0h15m725 0h15m-901 1h15m48 0h15m304 0h15m178 0h15m-553 1h15m-6 0h15m-4 0h15m61 0h15m63 0h15m82 0h15m-424 1h15m20 0h15m51 0h15m-14 0h15m8 0h15m9 0h15m96 0h15m-208 1h15m-12 0h15m-6 0h15m93 0h15m12 0h15m11 0h15m-169 1h15m3 0h15m10 1h15m17 0h15m108 0h15m389 0h15m-585 1h15m184 0h15m-171 1h15m63 0h15m-111 1h15m84 0h15m39 0h15m59 0h15m-367 1h15m82 0h15m-6 0h15m9 0h15m61 0h15m40 0h15m-2 0h15m-285 1h15m135 0h15m0 0h15m5 0h15m43 0h15m3 0h15m64 0h15m621 0h15m-960 1h15m63 0h15m49 0h15m55 0h15m-123 1h15m-3 0h15m39 0h15m-4 0h15m148 0h15m34 0h15m-400 1h15m-8 0h15m1 0h15m18 0h15m58 0h15m-187 1h15m34 0h15m-11 0h15m-1 0h15m87 0h15m19 0h15m-145 1h15m259 0h15m-414 1h15m161 0h15m-5 0h15m25 0h15m381 0h15m-498 1h15m104 0h15m41 0h15m-221 1h15m8 0h15m-10 0h15m120 0h15m4 0h15m269 0h15m-671 1h15m7 0h15m242 0h15m-15 0h15m-1 0h15m33 0h15m6 0h15m5 0h15m80 0h15m-363 1h15m96 0h15m95 0h15m71 0h15m-358 1h15m15 0h15m66 0h15m39 0h15m32 0h15m183 0h15m-407 1h15m207 0h15m326 0h15m-405 1h15m-3 0h15m13 0h15m59 0h15m-4 0h15m-282 1h15m69 0h15m32 0h15m161 0h15m164 0h15m247 0h15m-398 1h15m-404 1h15m147 0h15m22 0h15m5 0h15m7 0h15m113 0h15m-224 1h15m-6 0h15m133 0h15m-193 1h15m44 0h15m62 0h15m-9 0h15m407 0h15m83 0h15m-870 1h15m20 0h15m113 0h15m-5 0h15m26 0h15m0 0h15m66 0h15m3 0h15m14 0h15m537 0h15m-811 1h15m20 0h15m15 0h15m90 0h15m300 0h15m-448 1h15m17 0h15m-3 0h15m51 0h15m161 0h15m-244 1h15m455 0h15m-645 1h15m89 0h15m36 0h15m-5 0h15m12 0h15m-14 0h15m52 0h15m-9 0h15m28 0h15m-110 1h15m-230 1h15m36 0h15m-3 0h15m-15 0h15m515 0h15m-399 1h15m365 0h15m-233 1h15m-327 1h15m-7 0h15m8 1h15m33 0h15m13 0h15m60 0h15m25 0h15m-121 1h15m-72 2h15m49 0h15m14 0h15m82 0h15m411 0h15m-618 1h15m66 0h15m52 0h15m17 0h15m-296 1h15m1 0h15m146 0h15m-8 0h15m467 0h15m-686 1h15m476 0h15m177 0h15m-621 1h15m6 0h15m95 0h15m422 0h15m-630 1h15m-5 0h15m20 0h15m37 0h15m-3 0h15m88 0h15m-281 1h15m101 0h15m34 0h15m101 0h15m-14 0h15m-367 1h15m201 0h15m0 0h15m123 0h15m38 0h15m-348 1h15m162 0h15m102 0h15m469 0h15m-768 1h15m79 0h15m52 0h15m346 0h15m-520 1h15m-9 0h15m37 0h15m75 0h15m-10 0h15m17 0h15m-249 1h15m21 0h15m11 0h15m233 0h15m95 0h15m-369 1h15m-14 0h15m89 0h15m99 1h15m54 0h15m191 0h15m-693 1h15m235 0h15m19 0h15m141 0h15m627 0h15m-946 1h15m48 0h15m50 0h15m19 0h15m108 0h15m-175 1h15m-11 0h15m119 0h15m13 0h15m481 0h15m-777 1h15m75 1h15m159 0h15m9 0h15m312 0h15m-775 1h15m90 0h15m81 0h15m-83 1h15m196 0h15m-153 1h15m61 0h15m-4 0h15m-377 1h15m222 0h15m10 0h15m-9 0h15m0 0h15m-12 0h15m67 0h15m-221 1h15m42 0h15m10 0h15m21 0h15m3 0h15m-13 0h15m-12 0h15m29 0h15m57 0h15m-7 0h15m97 0h15m258 0h15m-629 1h15m9 0h15m75 0h15m-14 0h15m20 0h15m170 0h15m438 0h15m-1005 1h15m342 0h15m-153 1h15m-12 0h15m7 0h15m26 0h15m89 0h15m-72 1h15m483 0h15m-664 1h15m49 0h15m537 0h15m-545 1h15m7 0h15m48 0h15m27 0h15m-129 1h15m122 0h15m90 0h15m-283 1h15m11 0h15m56 0h15m20 0h15m381 0h15m130 0h15m-695 1h15m37 0h15m100 0h15m18 0h15m-309 1h15m49 0h15m0 0h15m-6 0h15m25 0h15m287 0h15m-396 1h15m74 1h15m3 0h15m19 0h15m62 0h15m34 0h15m-236 1h15m74 0h15m62 0h15m162 0h15m-376 1h15m69 0h15m-15 0h15m20 0h15m-7 0h15m-288 1h15m198 0h15m14 0h15m25 0h15m22 0h15m-176 1h15m52 0h15m13 0h15m5 0h15m-9 0h15m3 0h15m-15 0h15m3 0h15m464 0h15m-379 1h15m165 0h15m-543 1h15m29 0h15m73 0h15m-10 0h15m9 0h15m353 0h15m-631 1h15m145 0h15m35 0h15m389 0h15m168 0h15m-567 1h15m96 0h15m-246 1h15m30 0h15m85 0h15m-288 1h15m276 0h15m90 0h15m397 0h15m-673 1h15m44 0h15m-9 0h15m946 0h15m-1168 1h15m141 0h15m-195 1h15m180 0h15m70 0h15m-181 1h15m-13 0h15m76 0h15m65 0h15m-118 1h15m4 0h15m-10 0h15m22 0h15m18 0h15m14 0h15m-244 1h15m88 0h15m32 0h15m54 0h15m20 0h15m799 0h15m-1051 1h15m231 0h15m-12 0h15m-353 1h15m167 0h15m113 0h15m7 0h15m-2 0h15m-431 1h15m102 0h15m55 0h15m30 0h15m4 0h15m18 0h15m69 0h15m141 0h15m30 0h15m298 0h15m-761 1h15m43 0h15m28 0h15m-4 0h15m7 0h15m33 0h15m-1 0h15m-99 1h15m120 0h15m246 0h15m-366 1h15m451 0h15m-701 2h15m122 0h15m-14 0h15m-11 0h15m40 0h15m3 0h15m-14 0h15m-13 0h15m-4 0h15m2 0h15m5 0h15m18 0h15m-334 1h15m180 0h15m189 0h15m140 0h15m-441 1h15m36 0h15m255 0h15m-329 1h15m3 0h15m102 0h15m209 0h15m189 0h15m168 0h15m-630 1h15m13 0h15m549 0h15m-828 1h15m116 0h15m-12 0h15m70 0h15m-137 1h15m46 0h15m77 0h15m34 0h15m363 0h15m-576 1h15m95 0h15m307 0h15m-381 1h15m89 0h15m31 0h15m704 0h15m-940 1h15m11 0h15m127 0h15m113 0h15m-407 1h15m90 0h15m101 0h15m51 0h15m-408 1h15m134 0h15m63 0h15m236 0h15m-386 1h15m66 0h15m-14 0h15m-4 0h15m52 0h15m-77 2h15m133 0h15m35 0h15m-388 1h15m227 1h15m-10 0h15m16 0h15m2 0h15m20 1h15m327 0h15m-541 2h15m16 0h15m-12 0h15m26 0h15m4 0h15m-13 0h15m49 0h15m515 0h15m-731 1h15m30 0h15m71 0h15m27 0h15m58 0h15m-210 1h15m1 0h15m0 0h15m-66 1h15m-3 0h15m266 0h15m35 0h15m120 0h15m-582 1h15m152 0h15m18 0h15m68 0h15m206 0h15m-494 1h15m57 0h15m-1 0h15m16 0h15m4 0h15m14 0h15m142 0h15m12 0h15m-259 1h15m-12 0h15m372 1h15m-429 1h15m24 0h15m19 0h15m5 0h15m50 0h15m-179 1h15m30 0h15m115 0h15m529 0h15m-805 1h15m25 0h15m-10 0h15m46 0h15m10 0h15m18 0h15m-155 1h15m4 0h15m153 0h15m-4 0h15m-10 0h15m-64 1h15m15 0h15m-13 0h15m110 0h15m393 0h15m-687 1h15m14 0h15m87 0h15m-201 1h15m-8 0h15m20 0h15m146 0h15m-10 0h15m422 0h15m80 0h15m-590 1h15m-138 1h15m23 0h15m2 0h15m-13 0h15m-9 0h15m40 0h15m30 0h15m-157 1h15m44 0h15m48 0h15m58 0h15m-124 1h15m-359 1h15m157 0h15m5 0h15m146 0h15m75 0h15m34 0h15m58 0h15m139 0h15m-460 1h15m-6 0h15m655 0h15m-831 1h15m-2 0h15m106 0h15m-97 1h15m-13 0h15m216 0h15m-111 1h15m2 0h15m0 1h15m-46 1h15m487 0h15m-9 0h15m-678 1h15m191 0h15m669 0h15m-921 1h15m19 0h15m1 0h15m-14 0h15m5 0h15m57 0h15m-11 0h15m-3 0h15m-117 1h15m26 0h15m27 0h15m602 0h15m-759 1h15m63 0h15m32 0h15m-12 0h15m22 0h15m-133 1h15m99 0h15m78 0h15m6 0h15m7 0h15m-191 1h15m10 1h15m27 0h15m26 0h15m-258 1h15m185 0h15m139 0h15m83 0h15m226 0h15m-631 1h15m124 0h15m345 0h15m82 0h15m-663 1h15m10 0h15m79 0h15m-15 0h15m23 0h15m-106 1h15m83 0h15m39 0h15m35 0h15m-269 1h15m68 0h15m9 0h15m321 0h15m-554 1h15m300 0h15m-239 1h15m404 0h15m-325 1h15m-197 1h15m185 0h15m64 0h15m-118 1h15m565 0h15m-794 1h15m115 0h15m117 0h15m-59 1h15m22 0h15m-172 1h15m99 0h15m230 0h15m25 0h15m434 0h15m-813 2h15m-14 0h15m-10 0h15m10 0h15m124 0h15m-171 1h15m-8 0h15m114 0h15m577 0h15m128 0h15m-538 1h15m178 0h15m-603 1h15m12 1h15m-58 1h15m115 0h15m133 0h15m-200 1h15m-167 1h15m64 0h15m32 0h15m14 0h15m44 0h15m-83 1h15m192 0h15m327 0h15m-316 1h15m-191 1h15m27 0h15m12 0h15m43 0h15m264 0h15m64 0h15m-607 1h15m432 0h15m541 0h15m-1063 1h15m-15 2h15m226 0h15m-378 1h15m262 0h15m447 0h15m-633 1h15m94 0h15m-14 0h15m176 0h15m-266 1h15m-7 0h15m106 0h15m54 0h15m-389 1h15m-3 0h15m767 0h15m-788 1h15m27 0h15m215 0h15m307 0h15m-362 1h15m46 0h15m-69 1h15m58 0h15m729 0h15m-1025 1h15m98 0h15m18 0h15m102 0h15m-109 1h15m9 0h15m133 0h15m111 0h15m-385 1h15m51 0h15m0 0h15m472 0h15m-572 1h15m96 0h15m6 0h15m28 0h15m51 1h15m-262 1h15m2 0h15m52 0h15m-136 1h15m-14 0h15m23 0h15m0 0h15m8 1h15m41 0h15m-4 0h15m97 0h15m-3 0h15m-270 1h15m283 1h15m-335 1h15m74 0h15m42 0h15m2 1h15m-134 1h15m42 0h15m31 0h15m-142 1h15m86 0h15m-50 1h15m107 0h15m175 0h15m322 0h15m73 0h15m-720 1h15m144 0h15m49 0h15m271 0h15m-629 1h15m36 0h15m41 0h15m-155 1h15m81 1h15m48 0h15m24 0h15m-158 1h15m151 0h15m-156 1h15m16 0h15m34 0h15m-33 1h15m211 0h15m-232 1h15m-109 1h15m76 0h15m6 0h15m-75 1h15m120 0h15m-245 1h15m7 1h15m22 0h15m15 0h15m28 0h15m-259 1h15m137 2h15m102 0h15m31 0h15m-302 1h15m404 0h15m-327 1h15m-5 0h15m3 0h15m8 0h15m26 0h15m526 0h15m273 0h15m-925 1h15m11 0h15m83 0h15m406 0h15m-463 1h15m71 1h15m315 0h15m-641 1h15m154 0h15m526 0h15m-447 2h15m92 0h15m-215 1h15m-268 1h15m186 0h15m-5 0h15m24 0h15m22 0h15m47 0h15m-97 1h15m-43 1h15m12 0h15m-149 1h15m213 0h15m10 0h15m-114 1h15m-164 2h15m138 0h15m20 0h15m-108 1h15m159 0h15m147 0h15m87 0h15m-477 1h15m27 0h15m172 0h15m-173 1h15m24 0h15m-164 1h15m1 1h15m92 0h15m52 0h15m126 1h15m-284 1h15m-12 0h15m142 0h15m-86 1h15m9 0h15m74 0h15m313 0h15m-546 1h15m-23 1h15m70 0h15m35 0h15m288 0h15m-373 1h15m-130 1h15m135 0h15m87 0h15m-288 1h15m98 0h15m-125 2h15m63 1h15m55 0h15m-3 0h15m392 0h15m138 0h15m-561 1h15m224 0h15m-298 1h15m-1 0h15m50 0h15m501 1h15m-817 1h15m289 1h15m320 0h15m-607 1h15m206 0h15m22 0h15m-372 1h15m102 1h15m49 2h15m-170 1h15m15 0h15m90 0h15m84 1h15m32 0h15m46 0h15m237 0h15m-523 1h15m110 0h15m1 0h15m13 2h15m-256 1h15m178 2h15m-47 3h15m51 0h15m118 0h15m-302 1h15m-83 1h15m189 0h15m234 0h15m98 0h15m-461 1h15m-9 0h15m-145 1h15m91 0h15m-222 1h15m94 0h15m185 0h15m71 0h15m4 1h15m-156 1h15m509 0h15m201 0h15m-597 1h15m-195 1h15m15 0h15m-234 1h15m371 0h15m308 0h15m98 0h15m-780 1h15m83 0h15m121 1h15m93 0h15m-278 1h15m84 0h15m35 0h15m-362 2h15m197 0h15m59 0h15m100 2h15m-4 0h15m-304 2h15m-12 0h15m882 0h15m-973 1h15m41 0h15m84 0h15m-10 1h15m-89 2h15m253 3h15m171 0h15m-277 2h15m340 0h15m-582 2h15m275 0h15m-180 1h15m-161 1h15m92 0h15m59 0h15m22 1h15m62 1h15m-31 1h15m-159 4h15m70 0h15m-50 2h15m-65 1h15m437 0h15m-494 3h15m137 1h15m189 0h15m-278 3h15m-52 2h15m65 0h15m-132 1h15m3 0h15m-85 2h15m82 0h15m-196 2h15m87 0h15m115 1h15m521 1h15m-739 1h15m34 5h15m563 0h15m-607 2h15m8 1h15m-246 1h15m200 1h15m-15 0h15m112 2h15m-82 1h15m134 0h15m-175 2h15m-58 2h15m42 0h15m-21 1h15m85 1h15m-68 5h15m-5 0h15m-135 1h15m86 0h15m-9 0h15m91 0h15m49 1h15m-301 1h15m149 2h15m54 1h15m-153 1h15m725 0h15"/><path id="U40" transform="scale(0.1)" d="M1315 499h15m-59 6h15m-19 23h15m43 3h15m68 8h15m-179 15h15m31 16h15m-107 22h15m49 11h15m83 4h15m-106 3h15m1 3h15m-61 1h15m111 9h15m-110 8h15m-33 1h15m-98 2h15m5 3h15m38 0h15m0 6h15m42 1h15m-141 1h15m-11 4h15m150 2h15m-298 1h15m69 1h15m65 1h15m82 7h15m-71 1h15m-10 1h15m-75 5h15m20 1h15m-140 1h15m200 2h15m-229 6h15m71 3h15m23 2h15m4 7h15m-80 4h15m-46 2h15m45 0h15m-34 1h15m37 0h15m-9 3h15m73 0h15m-178 1h15m13 2h15m49 1h15m-85 3h15m2 7h15m-58 2h15m10 0h15m-1 6h15m-31 2h15m-51 6h15m12 0h15m-97 1h15m157 0h15m-197 2h15m92 0h15m-92 4h15m84 4h15m-126 3h15m84 3h15m15 2h15m-7 6h15m-82 1h15m-52 1h15m13 5h15m-53 1h15m119 0h15m-2 0h15m-104 3h15m33 0h15m-53 2h15m43 0h15m-125 1h15m-38 2h15m46 3h15m78 4h15m-163 2h15m103 4h15m-102 1h15m-56 3h15m76 0h15m-5 1h15m-102 3h15m71 0h15m-68 1h15m-82 2h15m50 1h15m13 0h15m10 0h15m-31 1h15m5 2h15m18 1h15m-136 1h15m76 0h15m10 0h15m-34 1h15m-121 3h15m54 1h15m-62 2h15m60 0h15m1 0h15m-44 1h15m-126 1h15m61 0h15m-17 6h15m47 0h15m-46 2h15m-155 3h15m110 0h15m-5 0h15m10 1h15m-7 0h15m-157 2h15m65 0h15m-30 1h15m2 0h15m73 0h15m-103 3h15m-93 4h15m20 1h15m75 0h15m-26 4h15m-92 1h15m34 0h15m0 0h15m-48 1h15m54 0h15m-75 1h15m6 0h15m-95 1h15m57 0h15m-189 1h15m73 0h15m126 5h15m-125 1h15m-800 2h15m747 0h15m49 0h15m-83 3h15m93 2h15m-89 1h15m40 3h15m41 0h15m-157 2h15m4 0h15m63 2h15m-93 1h15m102 0h15m9 1h15m-118 2h15m129 1h15m-289 1h15m198 0h15m-139 1h15m110 2h15m-36 1h15m-162 5h15m65 0h15m-64 1h15m-29 2h15m-5 2h15m33 0h15m13 1h15m68 2h15m-150 1h15m11 0h15m10 0h15m-28 1h15m-119 1h15m55 0h15m4 11h15m35 0h15m15 2h15m-68 1h15m208 5h15m-322 2h15m-6 2h15m-96 2h15m185 1h15m-8 0h15m-14 0h15m-224 7h15m161 0h15m-231 1h15m127 1h15m-13 0h15m68 0h15m-134 2h15m8 1h15m71 4h15m-170 1h15m99 2h15m-297 3h15m159 1h15m107 0h15m-171 1h15m144 5h15m-104 1h15m-17 1h15m17 0h15m-460 3h15m-160 1h15m469 1h15m-16 1h15m128 0h15m44 0h15m-20 2h15m-199 1h15m123 4h15m26 0h15m-171 4h15m-270 4h15m225 1h15m198 4h15m-74 5h15m18 0h15m121 0h15m-1277 1h15m1109 1h15m-104 1h15m-188 2h15m64 2h15m14 1h15m82 0h15m-126 2h15m12 1h15m117 0h15m-69 1h15m-577 1h15m422 0h15m72 0h15m88 1h15m-117 2h15m32 1h15m-834 3h15m385 0h15m-336 1h15m671 0h15m-790 2h15m349 0h15m11 0h15m215 5h15m216 0h15m-621 1h15m495 1h15m31 4h15m-101 2h15m150 0h15m-150 1h15m51 0h15m52 0h15m-219 2h15m126 0h15m-95 2h15m114 1h15m-256 3h15m88 0h15m146 8h15m-810 1h15m805 0h15m-344 2h15m-98 1h15m-582 1h15m419 1h15m-342 1h15m649 2h15m24 4h15m388 0h15m-1211 1h15m705 1h15m-574 2h15m-127 1h15m691 3h15m-638 1h15m590 0h15m-802 2h15m559 0h15m-286 2h15m673 1h15m-347 1h15m-113 1h15m238 0h15m-1027 1h15m922 0h15m-227 2h15m-48 1h15m144 0h15m-397 1h15m539 0h15m9 1h15m-789 8h15m153 1h15m493 0h15m6 1h15m-594 1h15m-238 1h15m-74 1h15m532 0h15m86 0h15m-44 1h15m3 2h15m223 2h15m-632 1h15m473 0h15m189 1h15m-1003 1h15m578 1h15m147 0h15m354 0h15m-642 1h15m762 1h15m-933 1h15m315 0h15m472 0h15m-1070 1h15m178 2h15m87 0h15m410 1h15m-298 1h15m-527 2h15m326 0h15m171 0h15m-307 1h15m-134 1h15m210 1h15m249 0h15m279 0h15m-875 1h15m115 0h15m251 0h15m241 0h15m-657 1h15m148 1h15m464 0h15m-207 2h15m212 0h15m-747 1h15m65 0h15m697 0h15m-2 0h15m-40 1h15m-138 1h15m-3 0h15m-338 1h15m-316 1h15m311 2h15m-110 1h15m-10 1h15m227 1h15m423 0h15m-947 1h15m-36 1h15m494 0h15m-463 1h15m556 0h15m-228 1h15m207 0h15m-210 1h15m232 0h15m-587 1h15m339 0h15m459 0h15m-454 1h15m104 0h15m10 0h15m85 0h15m-366 1h15m-423 1h15m631 0h15m-8 0h15m-625 2h15m82 2h15m35 0h15m180 0h15m-425 1h15m125 0h15m134 0h15m364 0h15m-651 1h15m1158 0h15m-1150 1h15m227 0h15m139 0h15m212 0h15m15 0h15m-622 1h15m564 0h15m19 0h15m-693 1h15m618 0h15m224 0h15m-906 1h15m46 0h15m116 0h15m92 0h15m80 1h15m-18 1h15m1 0h15m405 0h15m-999 1h15m787 0h15m-128 1h15m153 0h15m148 0h15m57 0h15m-904 1h15m152 0h15m246 0h15m259 0h15m-472 1h15m343 0h15m9 0h15m-730 2h15m101 0h15m-5 0h15m1 0h15m193 0h15m215 0h15m37 0h15m165 0h15m15 0h15m-458 1h15m140 0h15m59 0h15m-382 1h15m62 0h15m349 0h15m72 0h15m33 0h15m-699 1h15m155 0h15m316 0h15m264 0h15m-930 1h15m311 0h15m436 0h15m-230 1h15m196 0h15m-409 1h15m347 0h15m-461 1h15m305 0h15m-606 1h15m311 0h15m88 0h15m77 0h15m70 0h15m256 0h15m-847 1h15m181 0h15m121 0h15m82 0h15m-97 1h15m227 0h15m106 0h15m-726 1h15m543 0h15m13 0h15m219 0h15m-874 1h15m259 0h15m371 0h15m122 0h15m3 0h15m-840 1h15m11 0h15m414 0h15m326 0h15m-855 1h15m9 0h15m40 0h15m-2 0h15m448 0h15m62 0h15m113 0h15m-138 1h15m214 0h15m42 0h15m-445 1h15m22 0h15m72 0h15m164 0h15m58 0h15m-857 1h15m-8 0h15m89 0h15m309 0h15m-6 0h15m375 0h15m72 0h15m-888 1h15m130 0h15m99 0h15m380 0h15m138 0h15m-694 1h15m-120 1h15m25 0h15m222 0h15m430 0h15m-448 1h15m310 0h15m-196 1h15m36 0h15m-522 1h15m72 0h15m219 0h15m191 0h15m-633 1h15m35 0h15m28 0h15m432 0h15m133 1h15m-14 0h15m28 0h15m37 0h15m112 0h15m55 0h15m-897 1h15m3 0h15m16 0h15m-9 0h15m441 0h15m42 0h15m-597 1h15m4 0h15m235 0h15m410 0h15m109 0h15m-863 1h15m391 0h15m105 0h15m148 0h15m-584 1h15m262 0h15m135 0h15m110 0h15m18 0h15m-698 1h15m59 0h15m-5 0h15m179 0h15m285 0h15m286 0h15m7 0h15m-961 1h15m3 0h15m7 0h15m40 0h15m486 0h15m155 0h15m-374 1h15m158 0h15m48 0h15m105 0h15m0 0h15m121 0h15m-821 1h15m61 0h15m569 0h15m217 0h15m-940 1h15m425 0h15m158 0h15m65 0h15m-789 1h15m61 0h15m429 0h15m155 0h15m106 0h15m-762 1h15m159 0h15m365 0h15m83 0h15m178 0h15m5 0h15m-951 1h15m127 0h15m463 0h15m114 0h15m36 0h15m-786 1h15m62 0h15m18 0h15m50 0h15m332 0h15m-463 1h15m64 0h15m29 0h15m80 0h15m391 0h15m-674 1h15m159 0h15m396 0h15m60 0h15m202 0h15m4 0h15m-1008 1h15m383 0h15m320 0h15m-665 1h15m-8 0h15m88 0h15m696 0h15m-853 1h15m62 0h15m132 0h15m169 0h15m-402 1h15m46 0h15m310 0h15m8 0h15m232 0h15m-680 1h15m57 0h15m15 0h15m2 0h15m216 0h15m371 0h15m-766 1h15m71 0h15m581 0h15m93 0h15m-832 1h15m-10 0h15m612 0h15m26 0h15m207 0h15m-887 1h15m488 0h15m214 0h15m19 0h15m-612 1h15m-14 0h15m309 0h15m84 0h15m43 0h15m21 0h15m115 0h15m-652 1h15m68 0h15m108 0h15m161 0h15m68 0h15m89 0h15m160 0h15m-1018 1h15m80 0h15m83 0h15m221 0h15m18 0h15m81 0h15m72 0h15m31 1h15m15 0h15m31 0h15m217 0h15m-884 1h15m559 0h15m120 0h15m-880 1h15m26 0h15m73 0h15m32 0h15m474 0h15m-551 1h15m245 0h15m83 0h15m64 0h15m55 0h15m3 0h15m193 0h15m20 0h15m175 0h15m-968 1h15m-2 0h15m-7 0h15m-5 0h15m12 0h15m57 0h15m167 0h15m193 0h15m143 0h15m-748 1h15m97 0h15m398 0h15m51 0h15m165 0h15m4 0h15m86 0h15m164 0h15m-419 1h15m-4 0h15m40 0h15m97 0h15m-9 0h15m-779 1h15m-9 0h15m97 0h15m118 0h15m14 0h15m23 0h15m190 0h15m106 0h15m58 0h15m26 0h15m-14 0h15m-747 1h15m172 0h15m58 0h15m29 0h15m119 0h15m24 0h15m33 0h15m-13 0h15m2 0h15m118 0h15m15 0h15m-3 0h15m99 0h15m-826 1h15m21 0h15m505 0h15m153 0h15m41 0h15m-923 1h15m21 0h15m-8 0h15m-6 0h15m106 0h15m-12 0h15m203 0h15m253 0h15m113 0h15m-884 1h15m63 0h15m38 0h15m35 0h15m7 0h15m272 0h15m244 0h15m32 0h15m106 0h15m-788 1h15m15 0h15m205 0h15m107 0h15m131 0h15m47 0h15m-12 0h15m23 0h15m-701 1h15m74 0h15m-11 0h15m17 0h15m205 0h15m333 0h15m-3 0h15m59 0h15m-5 0h15m40 0h15m28 0h15m-14 0h15m28 0h15m-880 1h15m56 0h15m225 0h15m46 0h15m224 0h15m-5 0h15m14 0h15m157 0h15m29 0h15m-985 1h15m56 0h15m19 0h15m43 0h15m34 0h15m211 0h15m72 0h15m162 0h15m226 0h15m-932 1h15m44 0h15m-9 0h15m-6 0h15m105 0h15m270 0h15m241 0h15m-702 1h15m-12 0h15m3 0h15m47 0h15m13 0h15m181 0h15m12 0h15m319 0h15m38 0h15m-784 1h15m35 0h15m1 0h15m-3 0h15m100 0h15m238 0h15m26 0h15m356 0h15m-12 0h15m-834 1h15m-12 0h15m-9 0h15m63 0h15m164 0h15m4 0h15m59 0h15m93 0h15m44 0h15m107 0h15m-571 1h15m-11 0h15m-6 0h15m2 0h15m26 0h15m102 0h15m262 0h15m99 0h15m106 0h15m-787 1h15m22 0h15m-5 0h15m209 0h15m60 0h15m267 0h15m9 0h15m-668 1h15m55 0h15m148 0h15m-1 0h15m223 0h15m6 0h15m94 0h15m218 0h15m-810 1h15m39 0h15m117 0h15m-286 1h15m79 0h15m-15 0h15m8 0h15m297 0h15m267 0h15m14 0h15m-15 0h15m1 0h15m-6 0h15m3 0h15m-824 1h15m-6 0h15m8 0h15m29 0h15m-12 0h15m107 0h15m37 0h15m141 0h15m163 0h15m124 0h15m98 0h15m-798 1h15m40 0h15m-2 0h15m30 0h15m154 0h15m-4 0h15m79 0h15m138 0h15m18 0h15m130 0h15m23 0h15m-763 1h15m12 0h15m29 0h15m14 0h15m10 0h15m40 0h15m175 0h15m105 0h15m58 0h15m22 0h15m15 0h15m0 0h15m84 0h15m-1 0h15m-690 1h15m100 0h15m135 0h15m39 0h15m21 0h15m206 0h15m-334 1h15m4 0h15m-6 0h15m171 0h15m58 0h15m34 0h15m19 0h15m-795 1h15m-14 0h15m10 0h15m20 0h15m-5 0h15m30 0h15m65 0h15m79 0h15m69 0h15m1 0h15m218 0h15m93 0h15m23 0h15m75 0h15m74 0h15m-941 1h15m-14 0h15m29 0h15m8 0h15m32 0h15m236 0h15m200 0h15m102 0h15m80 0h15m93 0h15m-962 1h15m114 0h15m-7 0h15m-5 0h15m-6 0h15m114 0h15m28 0h15m341 0h15m14 0h15m115 0h15m-912 1h15m122 0h15m2 0h15m-10 0h15m8 0h15m20 0h15m163 0h15m112 0h15m-12 0h15m131 0h15m123 0h15m-768 1h15m12 0h15m10 0h15m105 0h15m16 0h15m7 0h15m150 0h15m117 0h15m47 0h15m23 0h15m117 0h15m28 0h15m-752 1h15m-10 0h15m22 0h15m-14 0h15m140 0h15m6 0h15m142 0h15m2 0h15m-13 0h15m-1 0h15m30 0h15m103 0h15m-420 1h15m0 0h15m64 0h15m89 0h15m20 0h15m36 0h15m165 0h15m151 0h15m-842 1h15m-10 0h15m134 0h15m73 0h15m394 0h15m13 0h15m-757 1h15m40 0h15m-6 0h15m52 0h15m-14 0h15m7 0h15m7 0h15m97 0h15m181 0h15m73 0h15m36 0h15m38 0h15m15 0h15m-15 0h15m84 0h15m-4 0h15m-15 0h15m-765 1h15m192 0h15m44 0h15m-11 0h15m339 0h15m79 0h15m8 0h15m-11 0h15m42 0h15m21 0h15m33 0h15m-4 0h15m-966 1h15m86 0h15m-12 0h15m24 0h15m0 0h15m-14 0h15m-11 0h15m-14 0h15m-9 0h15m222 0h15m29 0h15m188 0h15m66 0h15m10 0h15m-12 0h15m33 0h15m5 0h15m0 0h15m-745 1h15m69 0h15m11 0h15m188 0h15m42 0h15m272 0h15m-731 1h15m11 0h15m9 0h15m3 0h15m2 0h15m3 0h15m30 0h15m-10 0h15m-7 0h15m240 0h15m54 0h15m72 0h15m-6 0h15m43 0h15m63 0h15m31 0h15m134 0h15m-971 1h15m-12 0h15m65 0h15m48 0h15m346 0h15m314 0h15m27 0h15m-844 1h15m46 0h15m-3 0h15m-4 0h15m-15 0h15m12 0h15m17 0h15m63 0h15m-12 0h15m97 0h15m337 0h15m157 0h15m-858 1h15m-15 0h15m4 0h15m-11 0h15m-13 0h15m22 0h15m349 0h15m24 0h15m11 0h15m230 0h15m-2 0h15m-720 1h15m-12 0h15m-3 0h15m41 0h15m-13 0h15m-15 0h15m-1 0h15m-14 0h15m7 0h15m196 0h15m119 0h15m127 0h15m-723 1h15m38 0h15m43 0h15m18 0h15m19 0h15m-4 0h15m16 0h15m93 0h15m3 0h15m60 0h15m119 0h15m116 0h15m22 0h15m19 0h15m-721 1h15m84 0h15m-7 0h15m324 0h15m-472 1h15m27 0h15m22 0h15m52 0h15m6 0h15m-4 0h15m-10 0h15m336 0h15m-554 1h15m28 0h15m105 0h15m17 0h15m46 0h15m166 0h15m226 0h15m23 0h15m53 0h15m-749 1h15m-12 0h15m-2 0h15m-12 0h15m27 0h15m8 0h15m314 0h15m20 0h15m96 0h15m45 0h15m49 0h15m-768 1h15m73 0h15m-6 0h15m0 0h15m46 0h15m29 0h15m457 0h15m75 0h15m11 0h15m-785 1h15m-12 0h15m-1 0h15m-9 0h15m31 0h15m12 0h15m13 0h15m24 0h15m24 0h15m11 0h15m315 0h15m16 0h15m5 0h15m193 0h15m-6 0h15m51 0h15m-977 1h15m35 0h15m8 0h15m9 0h15m5 0h15m38 0h15m5 0h15m-12 0h15m-5 0h15m209 0h15m31 0h15m54 0h15m80 0h15m231 0h15m42 0h15m-894 1h15m35 0h15m1 0h15m18 0h15m40 0h15m-2 0h15m4 0h15m261 0h15m68 0h15m70 0h15m77 0h15m-622 1h15m18 0h15m26 0h15m198 0h15m42 0h15m193 0h15m-10 0h15m146 0h15m130 0h15m-976 1h15m-5 0h15m56 0h15m16 0h15m15 0h15m109 0h15m10 0h15m138 0h15m161 0h15m96 0h15m89 0h15m43 0h15m-872 1h15m3 0h15m-8 0h15m4 0h15m-2 0h15m83 0h15m106 0h15m166 0h15m38 0h15m2 0h15m5 0h15m2 0h15m111 0h15m57 0h15m12 0h15m-887 1h15m-4 0h15m19 0h15m1 0h15m-5 0h15m1 0h15m4 0h15m10 0h15m32 0h15m90 0h15m94 0h15m-12 0h15m100 0h15m59 0h15m114 0h15m47 0h15m79 0h15m4 0h15m6 0h15m66 0h15m-1078 1h15m90 0h15m44 0h15m13 0h15m-4 0h15m-12 0h15m10 0h15m82 0h15m237 0h15m2 0h15m111 0h15m71 0h15m88 0h15m-893 1h15m20 0h15m55 0h15m-7 0h15m19 0h15m-10 0h15m17 0h15m-6 0h15m-5 0h15m-10 0h15m0 0h15m47 0h15m66 0h15m93 0h15m261 0h15m97 0h15m-847 1h15m69 0h15m-5 0h15m4 0h15m45 0h15m128 0h15m163 0h15m68 0h15m6 0h15m19 0h15m-2 0h15m41 0h15m95 0h15m77 0h15m-814 1h15m19 0h15m19 0h15m7 0h15m53 0h15m16 0h15m64 0h15m54 0h15m13 0h15m141 0h15m68 0h15m-8 0h15m25 0h15m55 0h15m45 0h15m-889 1h15m-9 0h15m51 0h15m12 0h15m7 0h15m-5 0h15m-8 0h15m21 0h15m-7 0h15m-3 0h15m-10 0h15m226 0h15m88 0h15m217 0h15m-1 0h15m-8 0h15m-767 1h15m-9 0h15m91 0h15m-12 0h15m209 0h15m20 0h15m-454 1h15m4 0h15m-10 0h15m15 0h15m37 0h15m-11 0h15m5 0h15m2 0h15m3 0h15m31 0h15m29 0h15m1 0h15m121 0h15m66 0h15m187 0h15m62 0h15m-746 1h15m14 0h15m54 0h15m-8 0h15m20 0h15m37 0h15m207 0h15m204 0h15m70 0h15m3 0h15m-749 1h15m39 0h15m89 0h15m16 0h15m-8 0h15m351 0h15m37 0h15m191 0h15m-13 0h15m-902 1h15m46 0h15m-8 0h15m81 0h15m120 0h15m99 0h15m71 0h15m209 0h15m-677 1h15m21 0h15m35 0h15m37 0h15m4 0h15m208 0h15m395 0h15m174 0h15m-1014 1h15m16 0h15m97 0h15m90 0h15m184 0h15m51 0h15m93 0h15m286 0h15m14 0h15m28 0h15m-971 1h15m46 0h15m19 0h15m64 0h15m289 0h15m236 0h15m-13 0h15m111 0h15m113 0h15m-987 1h15m-8 0h15m31 0h15m14 0h15m-9 0h15m1 0h15m6 0h15m-8 0h15m10 0h15m354 0h15m91 0h15m-657 1h15m2 0h15m26 0h15m-14 0h15m-9 0h15m4 0h15m105 0h15m-10 0h15m14 0h15m88 0h15m14 0h15m-3 0h15m16 0h15m95 0h15m117 0h15m-9 0h15m72 0h15m-3 0h15m22 0h15m-8 0h15m102 0h15m300 0h15m-1302 1h15m15 0h15m-15 0h15m16 0h15m6 0h15m-8 0h15m3 0h15m-10 0h15m10 0h15m23 0h15m43 0h15m40 0h15m110 0h15m70 0h15m89 0h15m26 0h15m69 0h15m11 0h15m2 0h15m-10 0h15m-13 0h15m9 0h15m-15 0h15m-11 0h15m-777 1h15m60 0h15m25 0h15m3 0h15m18 0h15m2 0h15m2 0h15m229 0h15m235 0h15m216 0h15m-964 1h15m62 0h15m-4 0h15m59 0h15m-13 0h15m169 0h15m27 0h15m535 0h15m-894 1h15m-5 0h15m-10 0h15m-11 0h15m-9 0h15m-11 0h15m39 0h15m-12 0h15m12 0h15m242 0h15m3 0h15m54 0h15m-492 1h15m10 0h15m-13 0h15m-4 0h15m-7 0h15m-4 0h15m42 0h15m-6 0h15m-10 0h15m141 0h15m152 0h15m88 0h15m17 0h15m-13 0h15m10 0h15m185 0h15m-815 1h15m-1 0h15m23 0h15m24 0h15m10 0h15m6 0h15m-12 0h15m93 0h15m17 0h15m48 0h15m0 0h15m51 0h15m200 0h15m102 0h15m15 0h15m-898 1h15m48 0h15m0 0h15m-11 0h15m31 0h15m-11 0h15m-3 0h15m4 0h15m21 0h15m196 0h15m-9 0h15m7 0h15m-3 0h15m263 0h15m-14 0h15m18 0h15m28 0h15m11 0h15m149 0h15m-985 1h15m80 0h15m103 0h15m-8 0h15m149 0h15m84 0h15m84 0h15m147 0h15m11 0h15m11 0h15m-1 0h15m-4 0h15m85 0h15m-975 1h15m50 0h15m93 0h15m58 0h15m199 0h15m325 0h15m57 0h15m-11 0h15m39 0h15m-872 1h15m34 0h15m0 0h15m-4 0h15m13 0h15m-5 0h15m-12 0h15m21 0h15m136 0h15m28 0h15m8 0h15m39 0h15m44 0h15m-9 0h15m41 0h15m82 0h15m4 0h15m200 0h15m94 0h15m234 0h15m-1336 1h15m32 0h15m7 0h15m-6 0h15m42 0h15m23 0h15m8 0h15m-2 0h15m-14 0h15m6 0h15m-7 0h15m9 0h15m14 0h15m101 0h15m304 0h15m108 0h15m73 0h15m-822 1h15m-11 0h15m-3 0h15m60 0h15m-5 0h15m28 0h15m206 0h15m6 0h15m205 0h15m-14 0h15m-12 0h15m102 0h15m-758 1h15m-2 0h15m-7 0h15m281 0h15m-10 0h15m3 0h15m105 0h15m19 0h15m-12 0h15m3 0h15m134 0h15m-4 0h15m-728 1h15m55 0h15m7 0h15m-4 0h15m34 0h15m-11 0h15m102 0h15m34 0h15m191 0h15m64 0h15m208 0h15m20 0h15m28 0h15m-903 1h15m27 0h15m15 0h15m12 0h15m-12 0h15m39 0h15m118 0h15m178 0h15m228 0h15m26 0h15m172 0h15m-1000 1h15m20 0h15m-2 0h15m22 0h15m2 0h15m46 0h15m-2 0h15m198 0h15m119 0h15m23 0h15m48 0h15m83 0h15m76 0h15m-804 1h15m-13 0h15m19 0h15m6 0h15m20 0h15m-10 0h15m-12 0h15m2 0h15m9 0h15m-3 0h15m-8 0h15m125 0h15m119 0h15m63 0h15m23 0h15m-3 0h15m67 0h15m-2 0h15m42 0h15m-11 0h15m71 0h15m147 0h15m-931 1h15m-6 0h15m32 0h15m-3 0h15m34 0h15m39 0h15m454 0h15m1 0h15m117 0h15m50 0h15m-884 1h15m27 0h15m-4 0h15m-1 0h15m-10 0h15m3 0h15m-3 0h15m-10 0h15m-2 0h15m20 0h15m9 0h15m102 0h15m36 0h15m253 0h15m-10 0h15m9 0h15m0 0h15m6 0h15m64 0h15m140 0h15m-982 1h15m14 0h15m3 0h15m30 0h15m-7 0h15m-1 0h15m0 0h15m-1 0h15m-13 0h15m-6 0h15m105 0h15m13 0h15m176 0h15m170 0h15m-10 0h15m90 0h15m-803 1h15m46 0h15m-12 0h15m32 0h15m-10 0h15m63 0h15m-6 0h15m8 0h15m90 0h15m5 0h15m15 0h15m74 0h15m15 0h15m245 0h15m96 0h15m34 0h15m-914 1h15m-7 0h15m-9 0h15m10 0h15m5 0h15m59 0h15m-8 0h15m121 0h15m335 0h15m1 0h15m5 0h15m-8 0h15m-679 1h15m25 0h15m21 0h15m12 0h15m-13 0h15m-15 0h15m-9 0h15m5 0h15m36 0h15m74 0h15m-2 0h15m37 0h15m19 0h15m57 0h15m36 0h15m174 0h15m126 0h15m98 0h15m-1038 1h15m26 0h15m25 0h15m26 0h15m-3 0h15m-10 0h15m-4 0h15m-13 0h15m-13 0h15m2 0h15m0 0h15m31 0h15m-10 0h15m53 0h15m338 0h15m241 0h15m88 0h15m4 0h15m-953 1h15m36 0h15m-5 0h15m13 0h15m-8 0h15m-12 0h15m-11 0h15m34 0h15m174 0h15m34 0h15m338 0h15m-5 0h15m-765 1h15m3 0h15m-12 0h15m20 0h15m-13 0h15m37 0h15m2 0h15m-10 0h15m-9 0h15m55 0h15m124 0h15m218 0h15m13 0h15m79 0h15m-6 0h15m-3 0h15m-1 0h15m60 0h15m-867 1h15m69 0h15m5 0h15m99 0h15m-12 0h15m-7 0h15m6 0h15m-11 0h15m20 0h15m98 0h15m32 0h15m126 0h15m44 0h15m70 0h15m108 0h15m-931 1h15m-13 0h15m121 0h15m44 0h15m35 0h15m54 0h15m7 0h15m46 0h15m273 0h15m237 0h15m-9 0h15m-1 0h15m52 0h15m-963 1h15m-9 0h15m2 0h15m-8 0h15m-13 0h15m16 0h15m39 0h15m21 0h15m442 0h15m112 0h15m-13 0h15m546 0h15m-1348 1h15m32 0h15m5 0h15m-13 0h15m35 0h15m-15 0h15m-8 0h15m-13 0h15m7 0h15m-2 0h15m17 0h15m41 0h15m93 0h15m-11 0h15m21 0h15m23 0h15m163 0h15m71 0h15m-722 1h15m101 0h15m1 0h15m23 0h15m-13 0h15m-3 0h15m50 0h15m31 0h15m163 0h15m-12 0h15m37 0h15m3 0h15m52 0h15m9 0h15m122 0h15m19 0h15m63 0h15m7 0h15m193 0h15m-1104 1h15m36 0h15m-8 0h15m13 0h15m7 0h15m0 0h15m4 0h15m-7 0h15m-4 0h15m99 0h15m24 0h15m1 0h15m132 0h15m54 0h15m111 0h15m-740 1h15m88 0h15m26 0h15m-15 0h15m43 0h15m-7 0h15m27 0h15m182 0h15m248 0h15m206 0h15m-894 1h15m77 0h15m-9 0h15m-8 0h15m-1 0h15m12 0h15m10 0h15m34 0h15m155 0h15m302 0h15m50 0h15m54 0h15m-824 1h15m37 0h15m20 0h15m-4 0h15m-15 0h15m12 0h15m-15 0h15m-5 0h15m-9 0h15m255 0h15m20 0h15m-15 0h15m30 0h15m21 0h15m-15 0h15m31 0h15m80 0h15m13 0h15m92 0h15m88 0h15m-976 1h15m61 0h15m3 0h15m126 0h15m146 0h15m84 0h15m146 0h15m37 0h15m12 0h15m15 0h15m-5 0h15m93 0h15m-927 1h15m79 0h15m7 0h15m18 0h15m42 0h15m11 0h15m7 0h15m145 0h15m31 0h15m-9 0h15m280 0h15m-1 0h15m38 0h15m-796 1h15m107 0h15m-13 0h15m-14 0h15m4 0h15m36 0h15m4 0h15m186 0h15m252 0h15m1 0h15m51 0h15m-771 1h15m-12 0h15m-6 0h15m48 0h15m35 0h15m39 0h15m-3 0h15m-14 0h15m-9 0h15m49 0h15m31 0h15m27 0h15m59 0h15m1 0h15m125 0h15m-13 0h15m92 0h15m172 0h15m35 0h15m-921 1h15m26 0h15m21 0h15m-6 0h15m7 0h15m-12 0h15m-10 0h15m-3 0h15m-5 0h15m22 0h15m-2 0h15m2 0h15m167 0h15m23 0h15m20 0h15m46 0h15m12 0h15m125 0h15m49 0h15m9 0h15m-849 1h15m48 0h15m6 0h15m-2 0h15m-13 0h15m24 0h15m1 0h15m8 0h15m-8 0h15m-9 0h15m6 0h15m-12 0h15m210 0h15m42 0h15m346 0h15m28 0h15m-842 1h15m28 0h15m37 0h15m-10 0h15m8 0h15m12 0h15m46 0h15m12 0h15m32 0h15m34 0h15m-10 0h15m36 0h15m9 0h15m52 0h15m10 0h15m77 0h15m17 0h15m179 0h15m-915 1h15m21 0h15m48 0h15m-10 0h15m-1 0h15m11 0h15m-5 0h15m-12 0h15m-11 0h15m11 0h15m26 0h15m19 0h15m13 0h15m136 0h15m230 0h15m100 0h15m36 0h15m-6 0h15m-876 1h15m79 0h15m-10 0h15m-5 0h15m295 0h15m9 0h15m275 0h15m13 0h15m-10 0h15m255 0h15m-998 1h15m4 0h15m28 0h15m36 0h15m-13 0h15m30 0h15m24 0h15m103 0h15m-302 1h15m-1 0h15m41 0h15m-11 0h15m6 0h15m-13 0h15m8 0h15m-13 0h15m176 0h15m129 0h15m77 0h15m34 0h15m-719 1h15m17 0h15m35 0h15m13 0h15m-15 0h15m-4 0h15m-10 0h15m28 0h15m23 0h15m53 0h15m-14 0h15m-4 0h15m6 0h15m17 0h15m50 0h15m261 0h15m-7 0h15m52 0h15m-682 1h15m-14 0h15m-5 0h15m4 0h15m35 0h15m4 0h15m-14 0h15m11 0h15m-8 0h15m-1 0h15m11 0h15m-15 0h15m-1 0h15m51 0h15m244 0h15m-561 1h15m43 0h15m-6 0h15m-11 0h15m-7 0h15m15 0h15m-8 0h15m8 0h15m10 0h15m-9 0h15m11 0h15m12 0h15m2 0h15m2 0h15m-9 0h15m64 0h15m343 0h15m-6 0h15m19 0h15m42 0h15m26 0h15m94 0h15m-3 0h15m-1044 1h15m77 0h15m-3 0h15m10 0h15m-12 0h15m-4 0h15m-14 0h15m153 0h15m3 0h15m278 0h15m-500 1h15m20 0h15m2 0h15m-5 0h15m5 0h15m19 0h15m-12 0h15m9 0h15m212 0h15m51 0h15m-3 0h15m128 0h15m120 0h15m-768 1h15m1 0h15m3 0h15m7 0h15m33 0h15m260 0h15m67 0h15m108 0h15m15 0h15m83 0h15m71 0h15m173 0h15m-1028 1h15m30 0h15m6 0h15m3 0h15m53 0h15m-9 0h15m-11 0h15m15 0h15m33 0h15m64 0h15m9 0h15m36 0h15m57 0h15m22 0h15m22 0h15m41 0h15m183 0h15m68 0h15m-853 1h15m3 0h15m-9 0h15m-6 0h15m-11 0h15m-10 0h15m-6 0h15m-3 0h15m-4 0h15m17 0h15m29 0h15m109 0h15m-13 0h15m69 0h15m29 0h15m3 0h15m54 0h15m283 0h15m-879 1h15m34 0h15m13 0h15m-10 0h15m1 0h15m3 0h15m21 0h15m-11 0h15m-15 0h15m8 0h15m27 0h15m139 0h15m97 0h15m13 0h15m246 0h15m-746 1h15m45 0h15m-10 0h15m-9 0h15m22 0h15m16 0h15m7 0h15m27 0h15m20 0h15m261 0h15m4 0h15m78 0h15m167 0h15m14 0h15m-839 1h15m-14 0h15m-7 0h15m28 0h15m9 0h15m-10 0h15m22 0h15m-6 0h15m-5 0h15m-10 0h15m257 0h15m291 0h15m108 0h15m-867 1h15m20 0h15m36 0h15m-11 0h15m-2 0h15m20 0h15m35 0h15m256 0h15m153 0h15m97 0h15m72 0h15m4 0h15m31 0h15m-824 1h15m24 0h15m66 0h15m0 0h15m143 0h15m28 0h15m-7 0h15m15 0h15m-10 0h15m-3 0h15m167 0h15m58 0h15m-15 0h15m18 0h15m-790 1h15m-10 0h15m-13 0h15m17 0h15m-7 0h15m60 0h15m13 0h15m-6 0h15m47 0h15m131 0h15m47 0h15m31 0h15m98 0h15m154 0h15m30 0h15m23 0h15m68 0h15m-982 1h15m79 0h15m17 0h15m-1 0h15m-12 0h15m15 0h15m44 0h15m126 0h15m96 0h15m84 0h15m55 0h15m-10 0h15m112 0h15m39 0h15m64 0h15m57 0h15m400 0h15m-1418 1h15m74 0h15m27 0h15m-9 0h15m77 0h15m300 0h15m7 0h15m72 0h15m9 0h15m92 0h15m147 0h15m-949 1h15m-3 0h15m13 0h15m-8 0h15m90 0h15m-11 0h15m17 0h15m80 0h15m441 0h15m86 0h15m-887 1h15m10 0h15m40 0h15m14 0h15m2 0h15m-6 0h15m5 0h15m-4 0h15m-9 0h15m-6 0h15m37 0h15m276 0h15m-7 0h15m179 0h15m71 0h15m39 0h15m68 0h15m-976 1h15m66 0h15m12 0h15m27 0h15m-12 0h15m8 0h15m-2 0h15m-13 0h15m18 0h15m9 0h15m156 0h15m47 0h15m12 0h15m-15 0h15m14 0h15m144 0h15m95 0h15m-9 0h15m109 0h15m22 0h15m-889 1h15m27 0h15m-1 0h15m11 0h15m27 0h15m-13 0h15m25 0h15m7 0h15m236 0h15m3 0h15m217 0h15m38 0h15m46 0h15m-867 1h15m-6 0h15m39 0h15m3 0h15m6 0h15m-13 0h15m-3 0h15m-10 0h15m2 0h15m50 0h15m123 0h15m70 0h15m35 0h15m70 0h15m-4 0h15m-9 0h15m2 0h15m86 0h15m43 0h15m94 0h15m-891 1h15m-7 0h15m16 0h15m48 0h15m5 0h15m-12 0h15m-11 0h15m151 0h15m-14 0h15m161 0h15m6 0h15m66 0h15m58 0h15m-6 0h15m25 0h15m7 0h15m126 0h15m80 0h15m-907 1h15m5 0h15m5 0h15m15 0h15m22 0h15m18 0h15m-11 0h15m0 0h15m249 0h15m170 0h15m6 0h15m75 0h15m-772 1h15m5 0h15m28 0h15m10 0h15m-2 0h15m-12 0h15m4 0h15m-10 0h15m-8 0h15m65 0h15m18 0h15m591 0h15m97 0h15m-942 1h15m-3 0h15m-1 0h15m10 0h15m74 0h15m203 0h15m-12 0h15m-15 0h15m23 0h15m271 0h15m-1 0h15m5 0h15m38 0h15m5 0h15m48 0h15m-906 1h15m-1 0h15m-4 0h15m18 0h15m19 0h15m-12 0h15m-7 0h15m6 0h15m2 0h15m-8 0h15m9 0h15m110 0h15m4 0h15m85 0h15m118 0h15m204 0h15m-757 1h15m9 0h15m-6 0h15m-4 0h15m7 0h15m-5 0h15m-5 0h15m-5 0h15m-2 0h15m-11 0h15m33 0h15m22 0h15m30 0h15m-4 0h15m34 0h15m-13 0h15m-9 0h15m11 0h15m177 0h15m-13 0h15m33 0h15m49 0h15m90 0h15m21 0h15m-862 1h15m50 0h15m-6 0h15m22 0h15m-14 0h15m-8 0h15m-1 0h15m42 0h15m545 0h15m2 0h15m-4 0h15m-819 1h15m106 0h15m44 0h15m34 0h15m-8 0h15m3 0h15m151 0h15m102 0h15m-3 0h15m7 0h15m109 0h15m163 0h15m-874 1h15m19 0h15m58 0h15m-4 0h15m23 0h15m27 0h15m-13 0h15m-8 0h15m0 0h15m-6 0h15m279 0h15m25 0h15m21 0h15m-9 0h15m92 0h15m70 0h15m76 0h15m-790 1h15m-5 0h15m-12 0h15m21 0h15m2 0h15m-10 0h15m-11 0h15m5 0h15m-12 0h15m-15 0h15m2 0h15m201 0h15m43 0h15m15 0h15m165 0h15m58 0h15m15 0h15m11 0h15m-4 0h15m-5 0h15m-785 1h15m15 0h15m15 0h15m50 0h15m-14 0h15m97 0h15m146 0h15m40 0h15m-13 0h15m259 0h15m0 0h15m123 0h15m-909 1h15m5 0h15m1 0h15m0 0h15m25 0h15m-11 0h15m-3 0h15m-5 0h15m-2 0h15m131 0h15m15 0h15m93 0h15m218 0h15m36 0h15m-801 1h15m40 0h15m9 0h15m15 0h15m38 0h15m30 0h15m-8 0h15m-6 0h15m-7 0h15m-11 0h15m3 0h15m14 0h15m629 0h15m-936 1h15m68 0h15m-3 0h15m14 0h15m-13 0h15m9 0h15m-10 0h15m42 0h15m37 0h15m440 0h15m145 0h15m-893 1h15m10 0h15m36 0h15m7 0h15m-2 0h15m-4 0h15m-1 0h15m13 0h15m22 0h15m78 0h15m-11 0h15m244 0h15m64 0h15m229 0h15m-768 1h15m30 0h15m32 0h15m97 0h15m3 0h15m14 0h15m162 0h15m148 0h15m298 0h15m-967 1h15m-1 0h15m-11 0h15m-13 0h15m18 0h15m-10 0h15m247 0h15m169 0h15m294 0h15m45 0h15m0 0h15m-955 1h15m41 0h15m-7 0h15m40 0h15m40 0h15m40 0h15m42 0h15m279 0h15m195 0h15m-725 1h15m18 0h15m6 0h15m47 0h15m-6 0h15m83 0h15m32 0h15m-9 0h15m178 0h15m277 0h15m63 0h15m101 0h15m-1014 1h15m87 0h15m-3 0h15m21 0h15m88 0h15m-6 0h15m100 0h15m56 0h15m-1 0h15m232 0h15m-1 0h15m38 0h15m110 0h15m-918 1h15m20 0h15m25 0h15m-4 0h15m-10 0h15m-13 0h15m36 0h15m-13 0h15m68 0h15m149 0h15m105 0h15m22 0h15m62 0h15m134 0h15m-778 1h15m122 0h15m136 0h15m144 0h15m54 0h15m24 0h15m22 0h15m-2 0h15m280 0h15m-806 1h15m50 0h15m0 0h15m94 0h15m231 0h15m46 0h15m70 0h15m1 0h15m2 0h15m33 0h15m-763 1h15m53 0h15m23 0h15m40 0h15m0 0h15m319 0h15m231 0h15m157 0h15m-941 1h15m0 0h15m22 0h15m-9 0h15m40 0h15m92 0h15m-12 0h15m273 0h15m141 0h15m32 0h15m18 0h15m-830 1h15m24 0h15m62 0h15m-1 0h15m-6 0h15m38 0h15m119 0h15m382 0h15m148 0h15m-891 1h15m1 0h15m6 0h15m0 0h15m36 0h15m-9 0h15m-4 0h15m14 0h15m24 0h15m-13 0h15m-13 0h15m13 0h15m121 0h15m91 0h15m157 0h15m5 0h15m-2 0h15m48 0h15m82 0h15m-851 1h15m40 0h15m-2 0h15m25 0h15m16 0h15m5 0h15m113 0h15m21 0h15m56 0h15m7 0h15m41 0h15m-8 0h15m53 0h15m279 0h15m0 0h15m87 0h15m-922 1h15m11 0h15m33 0h15m-14 0h15m3 0h15m-6 0h15m1 0h15m2 0h15m570 0h15m140 0h15m-926 1h15m45 0h15m16 0h15m-14 0h15m99 0h15m201 0h15m36 0h15m184 0h15m129 0h15m-774 1h15m44 0h15m-11 0h15m-10 0h15m-6 0h15m77 0h15m67 0h15m17 0h15m-13 0h15m5 0h15m74 0h15m151 0h15m58 0h15m-7 0h15m-10 0h15m70 0h15m-795 1h15m97 0h15m311 0h15m144 0h15m62 0h15m121 0h15m-849 1h15m59 0h15m6 0h15m20 0h15m7 0h15m4 0h15m103 0h15m0 0h15m133 0h15m-448 1h15m10 0h15m0 0h15m8 0h15m-12 0h15m-2 0h15m8 0h15m-10 0h15m9 0h15m-5 0h15m-5 0h15m-5 0h15m37 0h15m13 0h15m33 0h15m172 0h15m210 0h15m110 0h15m-842 1h15m43 0h15m-5 0h15m-13 0h15m23 0h15m1 0h15m-15 0h15m15 0h15m210 0h15m475 0h15m-907 1h15m20 0h15m-11 0h15m22 0h15m65 0h15m-2 0h15m130 0h15m84 0h15m70 0h15m323 0h15m21 0h15m69 0h15m-1020 1h15m124 0h15m-9 0h15m-13 0h15m83 0h15m24 0h15m181 0h15m272 0h15m144 0h15m-849 1h15m-6 0h15m46 0h15m11 0h15m-14 0h15m-14 0h15m-10 0h15m32 0h15m218 0h15m44 0h15m50 0h15m359 0h15m-891 1h15m12 0h15m-15 0h15m19 0h15m-8 0h15m13 0h15m236 0h15m55 0h15m13 0h15m219 0h15m-754 1h15m55 0h15m52 0h15m99 0h15m6 0h15m26 0h15m66 0h15m111 0h15m-527 1h15m-2 0h15m71 0h15m4 0h15m-5 0h15m-4 0h15m31 0h15m22 0h15m5 0h15m282 0h15m118 0h15m84 0h15m188 0h15m21 0h15m-1019 1h15m28 0h15m47 0h15m-12 0h15m12 0h15m-8 0h15m45 0h15m1 0h15m148 0h15m301 0h15m-614 1h15m377 0h15m-436 1h15m-11 0h15m0 0h15m-13 0h15m32 0h15m-6 0h15m325 0h15m18 0h15m-13 0h15m144 0h15m65 0h15m-737 1h15m7 0h15m-7 0h15m-13 0h15m2 0h15m-3 0h15m80 0h15m8 0h15m196 0h15m62 0h15m-446 1h15m14 0h15m-4 0h15m-11 0h15m213 0h15m155 0h15m-3 0h15m-10 0h15m-511 1h15m110 0h15m185 0h15m-2 0h15m-8 0h15m107 0h15m313 0h15m-846 1h15m55 0h15m27 0h15m-7 0h15m49 0h15m86 0h15m61 0h15m145 0h15m-372 1h15m74 0h15m45 0h15m53 0h15m84 0h15m99 0h15m77 0h15m125 0h15m-793 1h15m31 0h15m-4 0h15m19 0h15m-15 0h15m325 0h15m45 0h15m-582 1h15m133 0h15m30 0h15m71 0h15m303 0h15m235 0h15m6 0h15m3 0h15m-771 1h15m-11 0h15m4 0h15m5 0h15m54 0h15m18 0h15m17 0h15m391 0h15m-590 1h15m-12 0h15m450 0h15m164 0h15m-791 1h15m18 0h15m30 0h15m-11 0h15m15 0h15m0 0h15m12 0h15m-14 0h15m-6 0h15m10 0h15m-2 0h15m20 0h15m4 0h15m135 0h15m48 0h15m42 0h15m145 0h15m-691 1h15m101 0h15m85 0h15m12 0h15m84 0h15m275 0h15m17 0h15m68 0h15m177 0h15m-856 1h15m0 0h15m74 0h15m242 0h15m83 0h15m24 0h15m260 0h15m41 0h15m-887 1h15m32 0h15m42 0h15m24 0h15m30 0h15m253 0h15m49 0h15m56 0h15m201 0h15m3 0h15m-769 1h15m20 0h15m-5 0h15m-10 0h15m-14 0h15m293 0h15m312 0h15m158 0h15m-968 1h15m30 0h15m-11 0h15m-7 0h15m9 0h15m15 0h15m-7 0h15m233 0h15m517 0h15m-882 1h15m147 0h15m207 0h15m363 0h15m-744 1h15m-8 0h15m14 0h15m-3 0h15m81 0h15m112 0h15m167 0h15m-588 1h15m103 0h15m7 0h15m261 0h15m103 0h15m66 0h15m-540 1h15m6 0h15m-6 0h15m37 0h15m167 0h15m115 0h15m328 0h15m3 0h15m-912 1h15m55 0h15m14 0h15m8 0h15m-3 0h15m56 0h15m55 0h15m118 0h15m2 0h15m281 0h15m42 0h15m113 0h15m216 0h15m-963 1h15m324 0h15m296 0h15m-694 1h15m168 0h15m377 0h15m-614 1h15m50 0h15m0 0h15m-6 0h15m468 0h15m37 0h15m49 0h15m107 0h15m-938 1h15m60 0h15m72 0h15m20 0h15m286 0h15m122 0h15m3 0h15m196 0h15m-752 1h15m32 0h15m18 0h15m4 0h15m64 0h15m257 0h15m179 0h15m39 0h15m-836 1h15m81 0h15m3 0h15m-1 0h15m6 0h15m-11 0h15m15 0h15m-9 0h15m3 0h15m-1 0h15m-14 0h15m-8 0h15m1 0h15m244 0h15m327 0h15m-676 1h15m44 0h15m11 0h15m68 0h15m69 0h15m-12 0h15m25 0h15m33 0h15m-448 1h15m12 0h15m22 0h15m40 0h15m271 0h15m-482 1h15m74 0h15m-14 0h15m85 0h15m-6 0h15m-10 0h15m-13 0h15m2 0h15m342 0h15m31 0h15m133 0h15m-819 1h15m71 0h15m50 0h15m382 0h15m82 0h15m254 0h15m-687 1h15m-11 0h15m88 0h15m64 0h15m169 0h15m76 0h15m-632 1h15m1 0h15m5 0h15m-1 0h15m59 0h15m38 0h15m118 0h15m-3 0h15m36 0h15m251 0h15m97 0h15m-721 1h15m-11 0h15m17 0h15m-13 0h15m25 0h15m-14 1h15m327 0h15m115 0h15m-502 1h15m104 0h15m367 0h15m-598 1h15m43 0h15m202 0h15m265 0h15m189 0h15m-780 1h15m28 0h15m38 0h15m429 0h15m294 0h15m-860 1h15m102 0h15m80 0h15m41 0h15m519 0h15m-781 1h15m-5 0h15m43 0h15m54 0h15m39 0h15m329 0h15m-586 1h15m-13 0h15m14 0h15m94 0h15m-10 0h15m194 0h15m149 0h15m123 0h15m-545 1h15m494 0h15m10 0h15m44 0h15m-14 0h15m98 0h15m-755 1h15m298 0h15m-419 1h15m-5 0h15m30 0h15m612 0h15m-688 1h15m32 0h15m481 0h15m86 0h15m106 0h15m-764 1h15m-12 0h15m-14 0h15m153 0h15m-2 0h15m327 0h15m101 0h15m93 0h15m81 0h15m27 0h15m-960 1h15m44 0h15m-8 0h15m-37 1h15m75 0h15m129 0h15m228 0h15m180 0h15m-647 1h15m441 0h15m-467 1h15m10 0h15m66 0h15m668 0h15m-868 1h15m180 0h15m66 0h15m194 0h15m-522 1h15m24 0h15m71 0h15m173 0h15m125 0h15m389 0h15m-818 1h15m130 0h15m-1 0h15m96 0h15m-328 1h15m-8 0h15m130 0h15m174 0h15m88 0h15m221 0h15m-687 1h15m89 0h15m112 0h15m413 0h15m6 0h15m368 0h15m-360 1h15m-621 1h15m8 0h15m-9 0h15m148 0h15m271 0h15m-132 2h15m-403 1h15m17 0h15m288 0h15m50 0h15m-609 1h15m-13 0h15m221 0h15m-8 0h15m53 0h15m232 0h15m-439 1h15m-1 0h15m251 0h15m-266 1h15m177 0h15m4 0h15m28 0h15m23 0h15m377 0h15m87 0h15m-677 1h15m533 0h15m-699 1h15m11 0h15m391 0h15m-520 1h15m234 0h15m434 0h15m-4 0h15m-669 1h15m29 0h15m76 0h15m1 0h15m492 0h15m-661 1h15m40 0h15m35 0h15m-5 0h15m351 0h15m-613 1h15m147 0h15m225 0h15m326 0h15m-639 1h15m116 0h15m37 0h15m330 0h15m-491 1h15m204 0h15m76 0h15m-344 1h15m66 0h15m4 0h15m-10 0h15m187 0h15m17 0h15m137 0h15m-492 1h15m196 0h15m-178 1h15m531 0h15m-496 1h15m151 0h15m186 0h15m215 1h15m-6 0h15m-855 1h15m26 1h15m101 0h15m-13 0h15m253 0h15m-171 1h15m560 0h15m-735 1h15m0 0h15m142 0h15m197 0h15m342 0h15m32 0h15m-847 1h15m279 0h15m74 1h15m347 0h15m62 0h15m-855 1h15m20 0h15m49 0h15m-235 1h15m95 0h15m40 0h15m41 0h15m-23 1h15m595 0h15m-439 1h15m-270 1h15m153 0h15m506 0h15m-606 2h15m-52 2h15m-37 1h15m767 0h15m-465 1h15m-330 1h15m-11 0h15m282 0h15m-72 1h15m-11 0h15m301 0h15m88 0h15m-888 2h15m234 0h15m46 1h15m540 1h15m-89 1h15m-555 1h15m-118 1h15m125 0h15m115 0h15m-202 2h15m768 2h15m-436 1h15m-306 1h15m75 0h15m-308 1h15m680 0h15m-642 1h15m63 1h15m64 0h15m-289 1h15m70 0h15m-12 0h15m301 0h15m-283 1h15m697 0h15m-577 1h15m-117 2h15m-149 3h15m119 0h15m805 3h15m-818 1h15m206 0h15m113 1h15m315 0h15m-428 1h15m-382 2h15m100 1h15m198 1h15m49 1h15m-157 1h15m-237 1h15m319 0h15m-315 1h15m405 0h15m-490 1h15m-109 3h15m113 0h15m426 7h15m-525 3h15m419 7h15m251 5h15m-338 2h15"/><path id="L40" transform="scale(0.1)" d="M1246 121h15m-97 37h15m-109 19h15m151 22h15m19 11h15m-178 28h15m-47 8h15m-9 12h15m-56 7h15m160 29h15m15 7h15m-151 1h15m79 6h15m-79 13h15m112 1h15m-144 3h15m-112 2h15m101 0h15m38 1h15m20 0h15m-106 2h15m12 2h15m-98 1h15m76 0h15m-271 6h15m254 1h15m-36 4h15m-54 5h15m-117 9h15m218 4h15m-192 1h15m79 1h15m0 4h15m-104 2h15m22 0h15m-423 3h15m413 0h15m-144 2h15m238 0h15m-210 1h15m-2 0h15m161 2h15m-82 1h15m-67 1h15m60 1h15m-96 3h15m9 0h15m-41 2h15m-52 2h15m-6 2h15m108 0h15m-76 2h15m-181 1h15m126 0h15m-181 3h15m126 1h15m13 0h15m45 0h15m52 2h15m-968 3h15m849 0h15m64 1h15m-53 1h15m-65 1h15m-61 1h15m-9 0h15m-22 1h15m43 0h15m-12 0h15m7 1h15m47 3h15m-164 2h15m3 0h15m54 0h15m-203 2h15m187 0h15m-60 4h15m-20 1h15m-82 1h15m52 1h15m-976 1h15m53 0h15m913 0h15m10 0h15m26 0h15m-207 1h15m27 0h15m40 0h15m-49 3h15m-98 1h15m5 0h15m-865 1h15m272 0h15m-157 1h15m67 0h15m631 0h15m-106 2h15m92 0h15m-63 3h15m87 3h15m200 0h15m-1071 1h15m817 0h15m-35 1h15m-662 1h15m335 0h15m165 0h15m113 0h15m-81 4h15m-144 1h15m83 0h15m41 0h15m-78 1h15m-60 2h15m24 0h15m33 0h15m154 0h15m-63 1h15m-228 1h15m91 0h15m-19 1h15m-10 0h15m23 0h15m-7 1h15m44 0h15m-183 2h15m116 0h15m-127 1h15m20 0h15m21 1h15m10 0h15m-56 2h15m37 2h15m-1 0h15m-68 2h15m14 0h15m-80 1h15m-7 0h15m-6 0h15m-139 2h15m27 0h15m142 2h15m-508 1h15m370 0h15m50 0h15m36 0h15m-115 2h15m-33 1h15m-1 0h15m-11 0h15m-61 1h15m95 0h15m-4 0h15m-180 1h15m46 0h15m16 1h15m103 0h15m-123 1h15m-773 1h15m360 0h15m-400 1h15m593 0h15m172 0h15m47 0h15m-163 1h15m-41 1h15m32 0h15m39 0h15m43 0h15m57 0h15m-188 2h15m-95 1h15m127 0h15m-636 1h15m621 0h15m27 1h15m-878 1h15m662 0h15m57 0h15m-18 1h15m-67 2h15m92 0h15m5 0h15m19 0h15m14 0h15m-587 1h15m50 0h15m319 0h15m186 0h15m-158 1h15m22 1h15m-36 2h15m-12 0h15m69 1h15m44 0h15m-1058 1h15m785 0h15m-663 1h15m811 0h15m0 0h15m-10 0h15m-37 1h15m-859 1h15m649 0h15m16 0h15m-621 1h15m511 0h15m124 0h15m18 0h15m4 0h15m16 0h15m48 0h15m-897 1h15m827 0h15m-165 1h15m14 0h15m97 0h15m-796 1h15m560 0h15m98 0h15m20 0h15m-96 1h15m60 0h15m38 0h15m-835 1h15m605 0h15m209 0h15m-323 1h15m251 0h15m-847 3h15m760 0h15m-10 0h15m-13 0h15m8 0h15m-715 1h15m639 0h15m33 0h15m-66 1h15m22 0h15m-31 1h15m-7 0h15m-6 0h15m35 0h15m-1 0h15m-58 1h15m-10 0h15m23 0h15m46 0h15m-94 1h15m-515 1h15m392 0h15m7 0h15m27 0h15m5 0h15m-793 1h15m705 0h15m-175 1h15m185 0h15m14 0h15m-587 1h15m507 0h15m-23 1h15m-7 0h15m51 0h15m-981 1h15m99 0h15m6 0h15m797 0h15m-501 1h15m612 0h15m-608 2h15m446 1h15m-100 1h15m119 0h15m-710 1h15m399 0h15m129 0h15m70 0h15m37 1h15m-775 2h15m461 0h15m-280 1h15m338 0h15m2 0h15m90 0h15m59 1h15m-108 1h15m7 0h15m-773 1h15m591 0h15m29 0h15m68 0h15m-147 1h15m60 0h15m142 0h15m-144 1h15m1 1h15m-938 1h15m493 0h15m261 0h15m-654 1h15m-11 0h15m33 0h15m639 0h15m107 1h15m-9 0h15m-432 1h15m257 0h15m-670 2h15m568 0h15m-5 0h15m24 0h15m-11 0h15m146 0h15m-959 1h15m243 0h15m254 0h15m390 0h15m-64 1h15m-10 0h15m-3 0h15m-38 1h15m113 0h15m71 0h15m-1099 1h15m63 0h15m27 0h15m593 0h15m159 0h15m108 0h15m-1041 1h15m120 0h15m52 0h15m663 0h15m-825 2h15m79 0h15m557 0h15m-727 1h15m755 0h15m130 0h15m-978 1h15m448 0h15m295 0h15m107 0h15m-846 1h15m303 0h15m102 0h15m202 0h15m157 0h15m103 0h15m-271 1h15m66 0h15m63 0h15m-637 1h15m633 0h15m-9 0h15m-104 1h15m31 0h15m33 1h15m31 0h15m-422 1h15m315 0h15m54 0h15m-840 1h15m120 0h15m710 0h15m-760 1h15m146 0h15m416 0h15m179 0h15m-951 1h15m507 0h15m146 0h15m170 0h15m40 0h15m-211 1h15m71 1h15m69 0h15m76 0h15m-1099 1h15m804 0h15m52 0h15m-61 1h15m72 0h15m-952 1h15m736 0h15m131 0h15m-785 1h15m312 0h15m139 0h15m257 0h15m-13 0h15m5 0h15m-176 1h15m56 0h15m100 0h15m-98 1h15m-351 1h15m377 0h15m-821 1h15m375 0h15m-488 1h15m53 0h15m358 0h15m86 0h15m207 0h15m59 0h15m17 1h15m10 0h15m-788 1h15m655 0h15m99 1h15m-720 1h15m554 0h15m67 0h15m7 0h15m-821 1h15m672 0h15m-15 0h15m44 0h15m59 0h15m-905 1h15m728 0h15m278 0h15m-154 1h15m25 0h15m10 0h15m-300 1h15m81 0h15m114 0h15m70 0h15m-1015 1h15m301 0h15m106 0h15m404 0h15m33 0h15m71 0h15m-182 1h15m104 0h15m-529 1h15m-412 1h15m210 0h15m210 0h15m-5 0h15m342 0h15m152 0h15m-902 1h15m745 0h15m24 0h15m-403 1h15m278 0h15m-879 1h15m149 0h15m458 0h15m129 0h15m102 0h15m21 0h15m-66 1h15m-2 0h15m-548 1h15m582 0h15m98 0h15m-295 1h15m8 0h15m37 0h15m76 0h15m5 0h15m-768 1h15m14 0h15m40 0h15m443 0h15m70 0h15m52 0h15m-74 1h15m49 0h15m-4 0h15m43 0h15m7 0h15m-482 1h15m344 0h15m-222 1h15m256 0h15m142 0h15m-279 1h15m104 0h15m-179 1h15m164 0h15m-437 1h15m222 0h15m4 0h15m53 0h15m1 1h15m-10 0h15m97 0h15m-157 1h15m32 0h15m1 0h15m-1 0h15m14 0h15m-813 1h15m258 0h15m-14 0h15m431 0h15m74 0h15m0 0h15m-959 2h15m137 0h15m458 0h15m179 0h15m11 0h15m1 0h15m54 0h15m-4 0h15m-493 1h15m302 0h15m31 0h15m-835 1h15m542 0h15m-91 1h15m369 0h15m-1 0h15m26 0h15m-463 1h15m53 0h15m137 0h15m107 0h15m-13 0h15m49 0h15m9 0h15m65 0h15m-1020 1h15m753 0h15m151 0h15m-1046 1h15m896 0h15m81 0h15m95 0h15m-701 1h15m433 0h15m74 0h15m-633 1h15m592 0h15m-771 1h15m86 0h15m634 0h15m20 0h15m6 0h15m-724 1h15m185 0h15m493 0h15m-144 1h15m69 0h15m-444 1h15m313 0h15m90 0h15m39 0h15m-875 1h15m324 0h15m104 0h15m332 0h15m-544 1h15m97 0h15m385 0h15m109 0h15m-1003 1h15m860 0h15m-877 1h15m143 0h15m631 0h15m83 1h15m-434 1h15m441 0h15m-986 1h15m135 0h15m83 0h15m464 0h15m123 0h15m-3 0h15m50 0h15m-135 1h15m35 0h15m19 0h15m-50 1h15m29 0h15m-9 0h15m-268 1h15m139 0h15m8 0h15m32 0h15m-9 0h15m5 0h15m117 0h15m-1079 1h15m111 0h15m743 0h15m1 0h15m-843 1h15m696 0h15m23 0h15m17 0h15m-963 2h15m252 0h15m255 0h15m-358 1h15m557 0h15m218 0h15m45 0h15m-367 1h15m162 0h15m104 0h15m72 0h15m-820 1h15m7 0h15m-11 0h15m296 0h15m28 0h15m5 0h15m190 0h15m-14 0h15m10 0h15m-130 1h15m-129 1h15m103 1h15m124 0h15m-661 1h15m44 0h15m633 0h15m-799 1h15m200 0h15m231 0h15m52 0h15m165 0h15m6 0h15m127 0h15m-998 2h15m133 0h15m291 0h15m26 0h15m258 0h15m64 0h15m35 0h15m-793 1h15m392 0h15m138 0h15m203 0h15m-8 0h15m34 0h15m145 0h15m-940 1h15m323 0h15m322 0h15m-2 0h15m-455 1h15m18 0h15m439 0h15m-750 1h15m150 0h15m173 0h15m296 0h15m-1 0h15m87 0h15m-863 1h15m375 0h15m1 0h15m367 0h15m-4 0h15m-856 1h15m-12 0h15m200 0h15m0 0h15m42 0h15m95 0h15m84 0h15m213 0h15m111 0h15m108 0h15m-724 1h15m444 0h15m259 0h15m-1074 1h15m159 0h15m256 0h15m394 0h15m-728 1h15m32 0h15m294 0h15m311 0h15m-3 0h15m107 0h15m-1078 1h15m143 0h15m349 0h15m188 0h15m116 0h15m-6 0h15m130 0h15m-678 1h15m152 0h15m400 0h15m17 0h15m18 0h15m-8 0h15m28 0h15m7 0h15m8 0h15m-924 1h15m367 1h15m199 0h15m181 0h15m89 0h15m-800 1h15m278 0h15m125 0h15m223 0h15m-2 0h15m6 0h15m-408 1h15m300 0h15m27 0h15m66 0h15m-428 1h15m368 0h15m5 0h15m-954 1h15m76 0h15m-5 0h15m418 0h15m109 0h15m205 0h15m52 0h15m13 0h15m-1006 1h15m113 0h15m747 0h15m52 0h15m-180 1h15m165 0h15m-470 1h15m271 0h15m-583 1h15m476 0h15m52 0h15m17 0h15m84 0h15m-496 1h15m25 0h15m2 0h15m54 0h15m95 0h15m239 0h15m33 0h15m-922 1h15m345 0h15m95 0h15m183 0h15m4 0h15m-4 0h15m34 0h15m111 0h15m-852 1h15m294 0h15m369 0h15m47 0h15m35 0h15m22 0h15m-714 1h15m279 0h15m75 0h15m211 0h15m39 0h15m-9 0h15m-970 1h15m393 0h15m3 0h15m144 0h15m35 0h15m56 0h15m79 0h15m124 0h15m16 0h15m-891 1h15m61 0h15m42 0h15m575 0h15m101 0h15m155 1h15m-1172 1h15m234 0h15m697 0h15m-1 0h15m179 0h15m-687 1h15m408 0h15m20 0h15m-322 1h15m43 0h15m31 0h15m143 0h15m39 0h15m-812 1h15m-1 0h15m38 0h15m103 0h15m-96 1h15m364 0h15m109 0h15m149 0h15m-14 0h15m189 0h15m-952 1h15m86 0h15m698 0h15m34 0h15m32 0h15m-561 1h15m7 0h15m517 0h15m-931 1h15m434 0h15m157 0h15m197 0h15m-36 1h15m66 0h15m-1008 1h15m116 0h15m31 0h15m160 0h15m141 0h15m205 0h15m241 0h15m-967 1h15m89 0h15m354 0h15m-8 0h15m12 0h15m429 0h15m-153 1h15m206 0h15m-525 1h15m60 0h15m191 0h15m-3 0h15m44 0h15m-891 1h15m772 0h15m125 0h15m-14 0h15m-641 1h15m109 0h15m59 0h15m-363 1h15m-226 1h15m114 0h15m342 0h15m385 0h15m36 0h15m-754 1h15m317 0h15m349 0h15m46 0h15m82 0h15m-524 1h15m106 0h15m223 0h15m-661 1h15m79 0h15m529 0h15m-389 1h15m-7 0h15m78 0h15m49 0h15m-371 1h15m-7 0h15m536 0h15m83 0h15m-809 1h15m280 0h15m452 0h15m-559 1h15m285 0h15m293 0h15m-892 1h15m220 0h15m391 0h15m69 0h15m-221 1h15m104 0h15m88 0h15m22 0h15m-366 1h15m21 0h15m144 0h15m10 0h15m60 0h15m-450 1h15m461 0h15m-11 0h15m8 0h15m49 0h15m-921 1h15m114 0h15m-3 0h15m-56 1h15m376 0h15m69 0h15m194 0h15m76 0h15m-1215 1h15m368 0h15m689 0h15m-251 1h15m147 0h15m132 0h15m-477 1h15m162 0h15m313 0h15m51 0h15m-775 1h15m115 0h15m471 0h15m-13 0h15m-628 1h15m108 0h15m186 0h15m296 0h15m129 0h15m-807 1h15m474 0h15m-692 1h15m-5 0h15m766 0h15m51 0h15m160 0h15m-985 1h15m251 0h15m-13 0h15m-295 1h15m4 0h15m29 0h15m682 0h15m29 0h15m-685 1h15m8 0h15m68 0h15m365 0h15m143 0h15m19 0h15m-858 1h15m83 0h15m-9 0h15m154 0h15m166 0h15m333 0h15m3 0h15m-738 1h15m-3 0h15m43 0h15m-4 0h15m300 0h15m-717 1h15m546 0h15m141 0h15m18 1h15m21 0h15m416 0h15m-1061 1h15m341 0h15m242 0h15m300 0h15m-945 1h15m454 0h15m102 0h15m269 0h15m20 0h15m-834 1h15m670 0h15m-4 0h15m-797 1h15m111 0h15m25 0h15m-13 0h15m60 0h15m319 0h15m185 0h15m-8 0h15m24 0h15m151 0h15m-685 1h15m579 0h15m-527 1h15m211 0h15m197 0h15m-883 1h15m151 0h15m429 0h15m259 0h15m-623 1h15m8 0h15m-5 0h15m252 0h15m375 0h15m10 0h15m-816 1h15m-13 0h15m16 0h15m277 0h15m-13 1h15m-5 0h15m319 0h15m44 0h15m-838 1h15m1 1h15m0 0h15m1 0h15m45 0h15m702 0h15m-1093 1h15m551 0h15m26 0h15m41 0h15m-10 0h15m244 0h15m235 0h15m-14 0h15m-937 1h15m4 0h15m2 0h15m716 0h15m60 0h15m7 0h15m-968 1h15m172 0h15m42 0h15m273 0h15m338 0h15m49 0h15m-763 1h15m18 0h15m-1 0h15m118 0h15m28 0h15m578 0h15m-810 1h15m622 0h15m20 0h15m21 0h15m-768 1h15m-4 0h15m132 0h15m10 0h15m-4 1h15m375 0h15m-733 1h15m240 0h15m2 0h15m123 0h15m24 0h15m498 0h15m-986 1h15m-10 0h15m259 0h15m220 0h15m76 0h15m-596 1h15m21 0h15m157 0h15m170 0h15m-5 0h15m382 0h15m-646 1h15m51 0h15m197 0h15m117 0h15m-10 0h15m268 0h15m-339 1h15m259 0h15m-762 1h15m726 0h15m-6 0h15m133 0h15m-838 1h15m69 0h15m44 0h15m-2 0h15m79 0h15m489 0h15m-3 0h15m-12 0h15m-997 1h15m-6 0h15m-3 0h15m243 0h15m236 0h15m50 0h15m8 0h15m28 0h15m59 0h15m-708 1h15m173 0h15m314 0h15m-10 0h15m230 0h15m3 0h15m20 0h15m-677 1h15m-3 0h15m45 0h15m236 0h15m35 0h15m247 0h15m70 0h15m-816 1h15m12 0h15m227 0h15m184 0h15m196 0h15m21 0h15m85 0h15m-897 1h15m491 0h15m410 0h15m-140 1h15m69 0h15m-890 1h15m13 0h15m41 0h15m154 0h15m59 0h15m39 0h15m255 0h15m155 0h15m-774 1h15m153 0h15m598 0h15m46 0h15m-907 1h15m232 0h15m-11 0h15m43 0h15m61 0h15m-355 1h15m-11 0h15m47 0h15m189 0h15m3 0h15m10 0h15m60 0h15m256 0h15m-593 1h15m144 0h15m148 0h15m182 0h15m42 0h15m30 0h15m141 0h15m-788 1h15m72 0h15m38 0h15m128 0h15m42 0h15m357 0h15m10 0h15m-9 0h15m-1051 1h15m56 0h15m6 0h15m45 0h15m70 0h15m447 0h15m-664 1h15m573 0h15m-521 1h15m152 0h15m62 0h15m130 0h15m54 0h15m47 0h15m-12 0h15m312 0h15m54 0h15m-917 1h15m213 0h15m241 0h15m18 0h15m5 0h15m-651 1h15m320 0h15m559 0h15m-379 1h15m16 0h15m331 0h15m-14 0h15m-902 1h15m38 0h15m328 0h15m388 0h15m15 0h15m-831 1h15m65 0h15m503 0h15m18 0h15m156 0h15m40 0h15m3 0h15m-859 1h15m243 0h15m178 0h15m428 0h15m2 0h15m-945 1h15m310 0h15m148 0h15m-7 0h15m-160 1h15m118 1h15m10 0h15m-617 1h15m310 0h15m127 0h15m33 0h15m-3 0h15m117 0h15m-597 1h15m44 0h15m346 0h15m17 0h15m90 0h15m13 0h15m285 0h15m-1025 1h15m426 0h15m154 0h15m-546 1h15m136 0h15m5 0h15m170 0h15m113 0h15m-222 1h15m111 0h15m67 0h15m396 0h15m-354 1h15m83 0h15m272 0h15m-9 0h15m-865 1h15m327 0h15m9 0h15m62 0h15m392 0h15m-636 1h15m114 0h15m35 0h15m118 1h15m264 0h15m-802 1h15m237 0h15m9 0h15m411 0h15m-803 1h15m-10 0h15m277 0h15m75 0h15m18 0h15m51 0h15m-299 1h15m195 0h15m94 0h15m154 0h15m116 0h15m18 0h15m-893 1h15m78 0h15m115 0h15m85 0h15m198 0h15m41 0h15m112 0h15m266 0h15m-452 1h15m11 0h15m-447 1h15m11 0h15m239 0h15m119 0h15m6 0h15m-583 1h15m99 0h15m107 0h15m188 0h15m428 0h15m-9 0h15m-724 1h15m234 0h15m157 0h15m247 0h15m-835 1h15m37 0h15m212 0h15m133 0h15m8 0h15m450 0h15m-905 1h15m17 0h15m236 0h15m15 0h15m10 0h15m-342 1h15m859 1h15m-895 1h15m12 0h15m92 0h15m247 0h15m400 0h15m77 0h15m52 0h15m-774 1h15m294 0h15m-568 1h15m460 0h15m73 0h15m157 0h15m4 0h15m-566 1h15m44 0h15m175 0h15m-14 0h15m3 0h15m237 0h15m60 0h15m-935 1h15m627 0h15m365 0h15m-674 1h15m203 0h15m6 0h15m31 0h15m372 0h15m-912 1h15m69 0h15m169 0h15m-316 1h15m92 0h15m19 0h15m187 0h15m59 0h15m246 0h15m266 0h15m-753 1h15m116 0h15m5 0h15m95 0h15m-12 0h15m41 0h15m30 0h15m219 0h15m-828 1h15m201 0h15m224 0h15m-2 0h15m-6 0h15m97 0h15m358 0h15m-728 1h15m233 0h15m-587 1h15m170 0h15m19 0h15m221 0h15m480 0h15m-794 1h15m628 0h15m42 0h15m54 0h15m-313 1h15m280 0h15m-577 1h15m120 0h15m322 0h15m-572 1h15m90 0h15m24 0h15m442 0h15m-441 1h15m86 0h15m365 0h15m-1027 1h15m298 0h15m690 0h15m-821 1h15m258 0h15m112 0h15m111 0h15m-103 1h15m73 0h15m57 0h15m-650 1h15m222 0h15m87 0h15m389 0h15m-862 1h15m146 0h15m263 0h15m633 0h15m-1093 1h15m339 0h15m299 0h15m-751 1h15m270 0h15m107 0h15m197 0h15m55 0h15m79 0h15m-10 0h15m-554 1h15m76 0h15m281 0h15m448 1h15m-937 1h15m317 0h15m305 0h15m-724 1h15m4 1h15m24 0h15m403 0h15m19 0h15m290 0h15m-777 1h15m104 0h15m-252 1h15m402 0h15m139 0h15m59 0h15m221 0h15m-14 0h15m103 0h15m-877 1h15m327 0h15m164 0h15m-120 1h15m301 0h15m173 0h15m-687 1h15m30 0h15m451 0h15m-858 1h15m441 0h15m81 0h15m50 0h15m-400 1h15m140 0h15m-339 1h15m708 0h15m125 0h15m-587 1h15m100 0h15m79 0h15m-478 1h15m-3 0h15m240 0h15m225 0h15m181 0h15m62 0h15m-929 1h15m102 0h15m50 0h15m277 0h15m31 0h15m212 0h15m169 0h15m-1023 1h15m313 0h15m-164 1h15m29 0h15m-74 1h15m31 0h15m60 0h15m6 0h15m123 0h15m76 0h15m-232 1h15m573 0h15m-288 1h15m-439 1h15m307 0h15m148 0h15m-655 1h15m98 0h15m32 0h15m171 0h15m40 0h15m-329 1h15m111 0h15m258 0h15m487 0h15m-946 1h15m128 0h15m188 0h15m63 0h15m106 0h15m-171 1h15m451 0h15m47 0h15m-689 1h15m32 0h15m-284 1h15m160 0h15m289 0h15m-542 1h15m324 0h15m-7 1h15m251 0h15m314 0h15m-717 1h15m136 0h15m81 0h15m59 0h15m-72 1h15m-361 1h15m239 0h15m-322 1h15m138 0h15m370 0h15m-527 1h15m440 0h15m280 0h15m-761 1h15m135 0h15m45 0h15m-8 0h15m160 0h15m214 0h15m-523 1h15m101 0h15m436 0h15m31 0h15m-688 1h15m84 0h15m327 0h15m42 0h15m152 0h15m21 0h15m-907 1h15m230 0h15m95 0h15m63 0h15m32 0h15m21 0h15m8 0h15m-521 1h15m194 0h15m315 0h15m-432 1h15m41 0h15m75 0h15m165 0h15m76 0h15m1 2h15m153 0h15m-229 1h15m-483 1h15m28 0h15m246 0h15m2 0h15m36 0h15m26 0h15m86 0h15m448 0h15m-1098 1h15m221 0h15m551 0h15m-679 1h15m73 0h15m81 0h15m11 0h15m77 0h15m-371 1h15m326 0h15m203 0h15m-14 0h15m89 0h15m-782 1h15m191 0h15m-147 1h15m461 0h15m157 0h15m-200 1h15m-399 1h15m-6 0h15m211 0h15m32 0h15m94 0h15m39 0h15m-1 0h15m-438 1h15m-3 0h15m-137 1h15m348 0h15m28 0h15m26 0h15m-367 1h15m-13 0h15m148 0h15m39 0h15m62 0h15m6 0h15m36 0h15m15 0h15m393 0h15m-595 1h15m19 0h15m194 0h15m-730 1h15m169 0h15m147 0h15m-13 0h15m10 0h15m9 0h15m721 0h15m-155 1h15m-811 1h15m188 0h15m104 0h15m-65 1h15m-7 0h15m-5 0h15m127 0h15m-4 0h15m67 0h15m-427 1h15m-14 0h15m124 0h15m13 0h15m348 0h15m-765 1h15m143 0h15m345 0h15m-452 1h15m29 0h15m296 0h15m71 0h15m9 0h15m12 0h15m18 0h15m-573 1h15m552 0h15m176 0h15m-243 1h15m293 0h15m101 0h15m-963 1h15m22 0h15m10 0h15m77 0h15m69 0h15m-14 0h15m33 0h15m88 0h15m62 0h15m-343 1h15m74 0h15m92 0h15m42 0h15m-11 0h15m5 0h15m327 0h15m-435 1h15m83 0h15m-429 1h15m129 0h15m-12 0h15m-115 1h15m96 0h15m41 0h15m249 0h15m49 0h15m-475 1h15m235 0h15m-8 0h15m190 0h15m275 0h15m-666 1h15m463 0h15m-448 1h15m-282 1h15m211 0h15m54 0h15m189 0h15m-382 1h15m69 0h15m-9 0h15m14 0h15m-66 1h15m128 0h15m92 0h15m62 0h15m268 0h15m-771 1h15m22 0h15m44 0h15m203 0h15m-3 0h15m-330 1h15m53 0h15m279 0h15m-48 1h15m55 0h15m-4 0h15m93 0h15m-437 1h15m153 0h15m87 0h15m529 0h15m-1006 1h15m202 0h15m430 0h15m-431 1h15m473 0h15m206 1h15m-1040 1h15m245 0h15m260 0h15m-470 1h15m333 0h15m-19 1h15m56 0h15m-397 1h15m300 0h15m216 0h15m-533 1h15m260 0h15m38 0h15m46 0h15m-476 1h15m131 1h15m-69 1h15m205 0h15m9 1h15m80 0h15m101 0h15m-316 1h15m-229 1h15m-11 0h15m-5 0h15m-12 0h15m146 0h15m1 0h15m81 0h15m191 0h15m-556 1h15m-9 0h15m-12 0h15m621 0h15m-315 1h15m395 1h15m-394 1h15m24 0h15m34 0h15m103 0h15m-202 1h15m228 0h15m-195 1h15m-228 1h15m280 0h15m-507 1h15m21 0h15m136 0h15m215 0h15m94 0h15m-540 1h15m163 0h15m176 1h15m-85 1h15m-360 1h15m72 0h15m-9 0h15m189 0h15m25 0h15m67 0h15m110 0h15m14 0h15m-557 1h15m221 0h15m92 0h15m-387 1h15m67 0h15m195 1h15m60 0h15m-286 1h15m94 1h15m34 0h15m184 0h15m-540 1h15m393 0h15m27 0h15m-1 0h15m210 0h15m514 0h15m-764 1h15m-454 1h15m275 0h15m88 0h15m578 0h15m-931 1h15m82 0h15m38 0h15m102 0h15m343 0h15m118 0h15m-627 1h15m-33 1h15m38 0h15m90 0h15m51 0h15m14 0h15m80 0h15m242 0h15m-705 1h15m402 0h15m167 0h15m-685 1h15m-9 0h15m48 0h15m476 0h15m-522 1h15m6 0h15m39 0h15m66 1h15m130 0h15m-179 1h15m76 0h15m69 0h15m33 0h15m-83 1h15m91 0h15m619 0h15m-1157 1h15m174 0h15m40 0h15m25 0h15m95 0h15m208 1h15m36 0h15m-695 1h15m140 0h15m4 0h15m127 0h15m96 0h15m75 0h15m-337 1h15m163 0h15m-308 1h15m328 0h15m-407 1h15m-25 1h15m93 1h15m451 0h15m213 0h15m-475 1h15m42 0h15m220 0h15m-575 1h15m342 0h15m-488 1h15m343 0h15m245 0h15m-408 1h15m135 0h15m290 0h15m11 0h15m534 0h15m-818 1h15m-396 1h15m42 0h15m-7 1h15m207 0h15m367 0h15m-609 1h15m22 0h15m28 0h15m309 0h15m66 0h15m-577 1h15m114 0h15m310 0h15m160 0h15m181 0h15m-627 1h15m41 0h15m204 0h15m-341 1h15m45 1h15m117 0h15m57 0h15m697 0h15m-1164 1h15m154 0h15m197 0h15m-312 1h15m466 1h15m121 0h15m-380 1h15m108 0h15m3 0h15m15 0h15m-527 1h15m577 0h15m-483 1h15m362 0h15m-445 1h15m480 0h15m115 0h15m-505 1h15m48 0h15m223 0h15m-410 1h15m12 0h15m-8 0h15m-5 0h15m137 0h15m34 0h15m50 0h15m83 0h15m-481 1h15m227 0h15m176 0h15m-319 1h15m118 0h15m89 0h15m-3 0h15m414 0h15m-962 1h15m157 0h15m5 0h15m-9 0h15m10 0h15m51 0h15m27 0h15m136 0h15m18 0h15m55 0h15m199 0h15m37 0h15m-555 1h15m267 0h15m8 0h15m0 0h15m-139 1h15m307 0h15m-669 1h15m190 1h15m-14 0h15m129 0h15m-342 1h15m395 0h15m168 0h15m-654 1h15m40 0h15m1 0h15m57 0h15m884 0h15m-1106 1h15m64 0h15m77 0h15m76 0h15m145 0h15m-332 1h15m42 0h15m36 0h15m42 1h15m-12 0h15m-354 1h15m358 0h15m674 0h15m-1046 1h15m44 0h15m162 0h15m-188 1h15m45 0h15m47 0h15m68 0h15m320 0h15m515 0h15m-717 1h15m89 0h15m194 0h15m-227 1h15m237 0h15m-543 1h15m8 0h15m46 0h15m76 0h15m-332 1h15m84 0h15m33 0h15m174 0h15m267 0h15m260 0h15m-846 1h15m109 0h15m68 0h15m26 0h15m159 0h15m148 1h15m-650 1h15m94 0h15m131 0h15m-10 0h15m358 0h15m-944 1h15m122 0h15m22 0h15m144 0h15m5 0h15m214 0h15m-182 1h15m47 0h15m125 0h15m70 0h15m-479 1h15m308 1h15m-250 1h15m27 0h15m-2 0h15m159 0h15m152 0h15m-162 1h15m-314 1h15m102 0h15m18 0h15m0 0h15m31 0h15m49 0h15m-331 1h15m80 0h15m-88 1h15m278 0h15m187 0h15m-518 1h15m44 0h15m42 0h15m289 0h15m-428 1h15m299 0h15m-260 1h15m290 0h15m-3 0h15m37 0h15m-482 1h15m-3 0h15m13 0h15m185 0h15m23 0h15m-9 0h15m41 0h15m-218 1h15m176 0h15m-473 1h15m174 0h15m-6 0h15m200 0h15m25 0h15m-230 1h15m286 0h15m-557 1h15m119 0h15m69 0h15m183 0h15m14 0h15m-147 1h15m72 0h15m-361 1h15m49 0h15m170 0h15m39 0h15m140 0h15m-287 1h15m61 0h15m335 0h15m-415 1h15m-2 0h15m157 0h15m21 0h15m18 0h15m-528 1h15m120 0h15m79 0h15m68 0h15m103 0h15m-238 1h15m278 0h15m-304 1h15m110 0h15m60 0h15m-285 1h15m6 0h15m16 0h15m193 0h15m-240 1h15m66 0h15m92 0h15m-415 1h15m138 0h15m47 0h15m126 0h15m127 0h15m-299 1h15m104 0h15m77 0h15m0 0h15m-12 0h15m8 0h15m127 0h15m338 0h15m-623 1h15m150 0h15m-338 1h15m176 0h15m0 0h15m-2 0h15m-13 0h15m-295 1h15m-12 0h15m36 0h15m-9 0h15m125 0h15m-10 0h15m-6 0h15m70 0h15m91 0h15m-12 0h15m11 0h15m-428 1h15m165 0h15m30 0h15m-128 1h15m105 0h15m-308 1h15m165 0h15m176 0h15m75 0h15m-426 1h15m160 0h15m111 0h15m-263 1h15m101 0h15m8 0h15m100 0h15m165 0h15m-10 0h15m-409 1h15m299 0h15m32 0h15m-465 1h15m-90 1h15m171 0h15m50 0h15m77 0h15m24 0h15m-257 1h15m27 1h15m322 0h15m-447 1h15m5 0h15m7 0h15m205 0h15m-283 1h15m-1 0h15m124 0h15m203 0h15m16 0h15m620 0h15m-1174 1h15m252 0h15m96 0h15m-394 1h15m-5 0h15m183 0h15m32 0h15m255 0h15m-349 1h15m-92 1h15m57 1h15m120 0h15m-8 0h15m-3 0h15m-8 0h15m-307 1h15m335 0h15m73 0h15m42 0h15m-460 1h15m-172 1h15m120 0h15m79 0h15m6 0h15m285 0h15m-342 1h15m70 0h15m-46 1h15m218 0h15m51 0h15m126 0h15m-548 1h15m128 0h15m134 0h15m-366 1h15m88 0h15m11 0h15m11 0h15m2 0h15m-6 0h15m357 1h15m-529 1h15m63 0h15m19 0h15m239 0h15m172 0h15m31 0h15m-267 1h15m-515 1h15m152 0h15m5 0h15m67 0h15m126 0h15m32 0h15m-322 1h15m52 0h15m-15 0h15m47 0h15m29 0h15m77 0h15m379 0h15m-636 1h15m39 0h15m-5 0h15m245 0h15m75 0h15m-447 1h15m9 0h15m-5 0h15m150 0h15m152 0h15m-50 1h15m-380 1h15m182 0h15m48 0h15m8 0h15m83 0h15m-264 1h15m44 0h15m50 0h15m64 0h15m-284 1h15m459 0h15m-402 1h15m-73 1h15m1 0h15m-117 1h15m57 0h15m205 0h15m-278 1h15m56 0h15m96 0h15m95 0h15m-320 1h15m7 0h15m75 0h15m6 0h15m-3 0h15m112 0h15m-15 0h15m-262 1h15m3 1h15m-8 0h15m213 0h15m110 0h15m138 0h15m6 1h15m-561 1h15m34 0h15m365 0h15m-422 1h15m144 0h15m-69 1h15m746 0h15m-981 1h15m57 0h15m3 0h15m-10 0h15m38 0h15m-10 0h15m39 0h15m62 0h15m279 0h15m-538 1h15m122 0h15m28 0h15m200 0h15m-452 1h15m64 0h15m-5 0h15m-14 0h15m44 0h15m8 0h15m375 0h15m-708 1h15m175 0h15m13 0h15m20 0h15m66 0h15m81 0h15m-361 1h15m-10 0h15m2 0h15m101 0h15m-1 0h15m-12 0h15m47 0h15m156 0h15m-316 1h15m124 0h15m-12 0h15m33 0h15m3 0h15m129 0h15m-341 1h15m46 0h15m-87 1h15m38 0h15m38 0h15m46 0h15m14 0h15m-5 0h15m-6 0h15m-256 1h15m86 0h15m6 0h15m-2 0h15m33 0h15m22 0h15m34 0h15m-237 1h15m12 0h15m238 0h15m11 0h15m-388 1h15m25 0h15m91 0h15m-180 1h15m23 0h15m26 0h15m82 0h15m17 0h15m35 0h15m174 0h15m-496 1h15m131 0h15m205 0h15m-337 1h15m13 0h15m11 0h15m142 0h15m50 0h15m178 0h15m-1 0h15m-441 1h15m-3 0h15m5 0h15m31 0h15m823 0h15m-1074 2h15m100 0h15m38 0h15m33 0h15m227 0h15m-388 1h15m134 0h15m19 0h15m-97 1h15m70 0h15m207 0h15m-330 1h15m105 0h15m29 0h15m45 0h15m-260 1h15m5 0h15m21 0h15m243 0h15m125 0h15m-510 1h15m58 0h15m118 0h15m-14 0h15m-138 1h15m51 0h15m141 0h15m149 0h15m-551 1h15m117 0h15m0 0h15m-8 0h15m-6 0h15m42 0h15m9 0h15m127 0h15m97 0h15m-445 1h15m72 0h15m46 0h15m6 0h15m25 0h15m216 0h15m220 0h15m106 0h15m-676 1h15m1056 0h15m-1169 1h15m2 0h15m0 0h15m30 0h15m57 0h15m-314 1h15m51 0h15m136 0h15m-2 0h15m-140 1h15m68 0h15m199 0h15m3 0h15m463 0h15m-788 1h15m39 0h15m4 0h15m62 0h15m24 0h15m139 0h15m-369 1h15m148 0h15m86 0h15m-250 1h15m10 0h15m66 0h15m59 0h15m61 0h15m-11 0h15m104 0h15m-436 1h15m48 0h15m186 0h15m21 0h15m13 0h15m21 0h15m-187 1h15m-1 0h15m43 0h15m-224 1h15m120 0h15m-253 1h15m19 0h15m3 0h15m337 0h15m-488 1h15m202 0h15m79 0h15m78 0h15m150 0h15m24 0h15m-550 1h15m119 0h15m95 0h15m65 0h15m-312 1h15m68 0h15m8 0h15m3 0h15m289 0h15m-391 1h15m20 0h15m19 0h15m-11 0h15m31 0h15m-215 1h15m10 0h15m6 0h15m25 0h15m5 0h15m194 0h15m45 0h15m-2 0h15m-312 1h15m6 0h15m102 0h15m112 0h15m-247 1h15m68 0h15m60 0h15m28 0h15m43 0h15m-335 1h15m25 0h15m306 0h15m-322 1h15m517 0h15m-626 1h15m179 0h15m56 0h15m360 0h15m-623 1h15m44 0h15m-132 1h15m481 0h15m-554 1h15m51 0h15m71 0h15m265 0h15m91 0h15m-677 1h15m208 0h15m109 0h15m-12 0h15m46 0h15m32 1h15m-289 1h15m104 0h15m189 0h15m90 0h15m-386 1h15m240 0h15m75 0h15m-320 1h15m101 0h15m-9 0h15m30 0h15m-291 1h15m62 0h15m-9 0h15m59 0h15m9 0h15m-153 1h15m4 0h15m20 0h15m183 0h15m-241 1h15m133 0h15m58 0h15m109 0h15m-502 1h15m86 0h15m8 0h15m28 0h15m-1 0h15m80 0h15m-163 1h15m26 0h15m197 1h15m69 0h15m31 0h15m-355 1h15m88 0h15m66 0h15m-309 1h15m44 0h15m46 0h15m29 0h15m181 0h15m91 0h15m277 0h15m-737 1h15m74 0h15m-8 0h15m-14 0h15m-5 0h15m-12 0h15m125 0h15m-258 1h15m54 0h15m129 0h15m-184 1h15m120 0h15m223 0h15m-419 1h15m-6 0h15m-91 1h15m-11 0h15m14 0h15m23 0h15m88 0h15m98 0h15m491 0h15m-742 1h15m145 0h15m90 0h15m57 0h15m-335 1h15m-13 0h15m11 0h15m25 0h15m-8 0h15m-115 1h15m112 0h15m43 0h15m51 0h15m216 0h15m7 0h15m-457 1h15m34 0h15m24 0h15m218 0h15m-319 1h15m-14 0h15m19 0h15m-11 0h15m-220 1h15m49 0h15m45 0h15m32 0h15m-11 0h15m-8 0h15m-151 1h15m33 0h15m-11 0h15m-8 0h15m43 0h15m-4 0h15m12 0h15m274 0h15m-443 1h15m48 0h15m181 0h15m24 0h15m162 0h15m-619 1h15m29 0h15m128 0h15m-3 0h15m14 0h15m-9 0h15m-94 1h15m5 0h15m159 0h15m37 0h15m-310 1h15m68 0h15m229 0h15m-268 1h15m-93 1h15m39 0h15m-12 0h15m5 0h15m22 0h15m57 0h15m208 0h15m-371 1h15m145 0h15m45 0h15m280 0h15m-588 1h15m113 0h15m88 0h15m3 0h15m-254 1h15m99 0h15m159 0h15m73 0h15m-384 1h15m22 0h15m369 0h15m-439 1h15m9 0h15m93 0h15m-14 0h15m-145 1h15m23 0h15m22 0h15m-10 0h15m-12 0h15m96 0h15m237 0h15m-375 1h15m72 0h15m273 0h15m24 0h15m-530 1h15m43 0h15m68 0h15m16 0h15m23 0h15m60 0h15m-14 0h15m-291 1h15m75 0h15m24 0h15m121 0h15m82 0h15m57 0h15m-515 1h15m99 0h15m36 0h15m9 0h15m6 0h15m-10 0h15m17 0h15m162 0h15m-9 0h15m-404 1h15m71 0h15m24 0h15m173 0h15m-231 1h15m40 0h15m19 0h15m541 0h15m-692 1h15m101 0h15m-11 0h15m-3 0h15m264 0h15m-539 1h15m75 0h15m62 0h15m-79 1h15m20 0h15m119 0h15m75 0h15m-328 1h15m76 0h15m23 0h15m-14 0h15m-6 0h15m9 0h15m51 0h15m59 0h15m50 0h15m135 0h15m-569 1h15m118 0h15m9 0h15m-2 0h15m217 0h15m-375 1h15m-13 0h15m-5 0h15m36 0h15m-3 0h15m35 0h15m27 0h15m45 0h15m-102 1h15m-9 0h15m-9 0h15m301 0h15m-511 1h15m200 0h15m24 0h15m50 0h15m5 0h15m44 0h15m-11 0h15m-358 1h15m24 0h15m-8 0h15m38 0h15m77 0h15m86 0h15m123 0h15m34 0h15m398 0h15m-963 1h15m104 0h15m44 0h15m-66 1h15m-10 0h15m5 0h15m11 0h15m-254 1h15m51 0h15m179 0h15m76 0h15m-14 0h15m459 0h15m-789 1h15m87 0h15m2 0h15m58 0h15m-1 0h15m25 0h15m34 0h15m606 0h15m-772 1h15m13 0h15m15 0h15m40 0h15m-236 1h15m173 0h15m159 0h15m318 0h15m-563 1h15m51 0h15m-197 1h15m26 0h15m53 0h15m366 0h15m-544 1h15m39 0h15m-2 0h15m114 0h15m-1 0h15m5 0h15m-385 1h15m69 0h15m49 0h15m130 0h15m133 0h15m40 0h15m605 0h15m-1004 1h15m72 0h15m40 1h15m-15 0h15m-14 0h15m45 0h15m284 0h15m-7 0h15m-458 2h15m37 0h15m34 0h15m320 0h15m-385 1h15m-7 0h15m49 0h15m1 0h15m-6 0h15m235 0h15m-457 1h15m5 0h15m3 0h15m33 0h15m29 0h15m76 0h15m79 0h15m-372 1h15m30 0h15m47 0h15m61 0h15m33 0h15m120 0h15m16 0h15m-255 1h15m163 0h15m80 0h15m297 0h15m-844 1h15m59 0h15m124 0h15m96 0h15m190 0h15m24 0h15m9 0h15m-537 1h15m133 0h15m-11 0h15m-9 0h15m56 0h15m-1 0h15m-314 1h15m149 0h15m32 0h15m193 0h15m65 0h15m19 0h15m-490 1h15m89 0h15m3 0h15m7 0h15m69 0h15m22 0h15m52 1h15m206 0h15m-441 1h15m53 0h15m1 0h15m3 0h15m-5 0h15m226 0h15m47 0h15m-402 1h15m-45 1h15m-15 0h15m145 0h15m89 0h15m162 0h15m-485 1h15m48 0h15m-128 1h15m31 0h15m147 0h15m-248 1h15m106 0h15m4 0h15m8 0h15m-5 0h15m-10 0h15m122 0h15m16 0h15m-15 0h15m-323 1h15m7 0h15m50 0h15m101 0h15m42 0h15m-237 1h15m67 0h15m71 0h15m9 0h15m31 0h15m9 0h15m50 0h15m10 0h15m-350 1h15m75 0h15m-7 0h15m19 0h15m-294 1h15m96 0h15m90 0h15m28 0h15m13 0h15m80 0h15m-494 1h15m103 0h15m191 0h15m90 0h15m-166 1h15m10 0h15m1 0h15m-9 0h15m-14 0h15m76 0h15m17 0h15m808 0h15m-1085 1h15m41 0h15m-7 0h15m11 0h15m50 0h15m-95 1h15m197 0h15m1 0h15m18 0h15m473 0h15m-995 1h15m250 0h15m42 0h15m68 0h15m79 0h15m54 0h15m-393 1h15m102 0h15m10 0h15m-202 1h15m11 0h15m-11 0h15m190 0h15m868 0h15m-1158 1h15m191 0h15m6 0h15m59 0h15m65 0h15m42 0h15m-360 1h15m239 0h15m208 0h15m127 0h15m-676 1h15m124 0h15m7 0h15m238 0h15m-567 1h15m164 0h15m14 0h15m212 0h15m-410 1h15m64 0h15m44 0h15m128 0h15m221 0h15m-494 2h15m35 0h15m54 0h15m94 0h15m26 0h15m-14 0h15m32 0h15m668 0h15m-898 1h15m50 0h15m-14 0h15m113 0h15m2 0h15m650 0h15m-951 1h15m406 0h15m-207 1h15m59 0h15m-397 1h15m235 0h15m-185 1h15m167 0h15m120 0h15m106 0h15m-568 1h15m190 0h15m32 0h15m12 0h15m70 0h15m126 0h15m-385 1h15m107 0h15m-4 0h15m23 0h15m-289 1h15m171 0h15m33 0h15m49 0h15m-5 0h15m63 0h15m17 0h15m-410 1h15m3 0h15m44 0h15m50 0h15m-14 0h15m52 0h15m208 0h15m-422 1h15m112 0h15m29 0h15m31 0h15m29 0h15m-355 1h15m191 0h15m-87 1h15m81 0h15m139 0h15m-352 1h15m200 0h15m45 0h15m93 0h15m472 0h15m-601 1h15m8 0h15m45 0h15m-218 1h15m-13 0h15m90 0h15m-7 0h15m50 0h15m63 0h15m-344 1h15m57 0h15m61 0h15m296 0h15m-624 1h15m27 0h15m19 0h15m76 0h15m49 0h15m39 0h15m-294 1h15m31 0h15m63 0h15m69 0h15m65 0h15m-14 0h15m-9 0h15m-270 1h15m132 1h15m133 0h15m105 0h15m185 0h15m-358 1h15m60 0h15m49 0h15m-14 0h15m-391 1h15m36 0h15m316 0h15m55 0h15m-415 1h15m7 0h15m4 0h15m147 0h15m-270 1h15m87 0h15m38 0h15m44 0h15m8 0h15m8 0h15m-406 1h15m49 0h15m156 0h15m64 0h15m149 0h15m192 1h15m-595 1h15m121 0h15m23 0h15m53 0h15m62 0h15m33 0h15m-399 1h15m72 0h15m-7 0h15m-14 0h15m17 0h15m97 0h15m-10 0h15m107 0h15m17 1h15m262 0h15m-626 1h15m3 0h15m50 0h15m42 0h15m68 0h15m-295 1h15m29 0h15m93 0h15m6 0h15m135 0h15m2 0h15m0 0h15m-285 1h15m59 0h15m-9 0h15m13 0h15m207 0h15m-386 1h15m7 0h15m12 0h15m8 0h15m-9 1h15m17 0h15m31 0h15m-5 0h15m105 0h15m20 0h15m-423 1h15m135 0h15m20 0h15m21 0h15m95 0h15m94 0h15m-480 1h15m56 0h15m35 0h15m333 0h15m52 0h15m-338 1h15m-185 1h15m91 0h15m-7 0h15m219 0h15m-252 1h15m-14 0h15m150 0h15m-173 1h15m50 0h15m-124 1h15m422 0h15m-442 1h15m84 0h15m36 0h15m44 0h15m-127 1h15m65 0h15m115 0h15m42 0h15m-304 1h15m166 0h15m26 0h15m-423 1h15m76 0h15m54 0h15m86 0h15m58 0h15m265 0h15m-630 1h15m56 0h15m-12 0h15m47 0h15m37 0h15m76 0h15m85 0h15m-249 1h15m9 0h15m45 0h15m121 0h15m-425 1h15m177 0h15m36 0h15m51 0h15m284 0h15m-567 1h15m295 0h15m19 0h15m34 0h15m127 0h15m-516 1h15m107 0h15m190 0h15m193 0h15m-517 1h15m100 0h15m23 0h15m48 0h15m116 0h15m77 0h15m-458 1h15m86 0h15m62 0h15m58 0h15m13 0h15m-6 0h15m80 0h15m-479 1h15m33 0h15m26 0h15m21 0h15m61 0h15m-11 0h15m7 0h15m27 0h15m33 0h15m103 1h15m623 0h15m-919 1h15m38 0h15m-11 1h15m-169 1h15m-1 0h15m48 0h15m96 0h15m-7 0h15m-145 1h15m49 0h15m-109 1h15m42 0h15m104 0h15m-11 0h15m11 0h15m77 0h15m-264 1h15m25 0h15m62 0h15m98 0h15m94 0h15m-225 1h15m208 0h15m-601 1h15m100 0h15m46 0h15m341 0h15m-370 1h15m-7 0h15m-13 0h15m10 0h15m11 0h15m8 0h15m1018 0h15m-1161 1h15m54 0h15m8 0h15m67 0h15m6 0h15m-12 0h15m2 0h15m202 0h15m481 0h15m-964 1h15m187 0h15m115 0h15m169 0h15m-375 1h15m43 0h15m26 0h15m143 0h15m41 0h15m-439 1h15m493 0h15m-495 1h15m8 0h15m32 0h15m201 0h15m-316 1h15m329 0h15m-184 1h15m101 0h15m-199 1h15m-221 1h15m101 0h15m3 0h15m82 0h15m26 0h15m31 0h15m-92 1h15m120 0h15m-2 0h15m118 0h15m-520 1h15m-10 0h15m111 0h15m138 0h15m103 0h15m-552 1h15m274 0h15m-5 0h15m86 0h15m-208 1h15m16 0h15m125 0h15m-9 0h15m76 0h15m15 0h15m-2 0h15m96 0h15m-474 1h15m203 0h15m78 0h15m134 0h15m-460 1h15m76 0h15m18 0h15m144 0h15m191 0h15m51 0h15m232 0h15m-791 1h15m69 0h15m-235 1h15m151 0h15m61 0h15m-8 0h15m170 0h15m-389 1h15m317 0h15m261 0h15m-485 1h15m94 0h15m158 0h15m110 0h15m-568 1h15m159 0h15m13 0h15m-1 0h15m52 0h15m74 0h15m71 0h15m-288 1h15m-6 0h15m144 0h15m-346 1h15m99 0h15m56 0h15m-8 0h15m231 0h15m29 0h15m334 0h15m-809 1h15m110 0h15m93 0h15m151 0h15m-368 1h15m30 0h15m336 0h15m-353 1h15m-16 1h15m166 0h15m27 0h15m85 0h15m-7 0h15m-543 1h15m138 0h15m194 0h15m40 0h15m61 0h15m-278 1h15m-125 1h15m124 0h15m21 0h15m-6 0h15m194 0h15m38 0h15m-115 1h15m24 0h15m-462 2h15m109 0h15m35 0h15m12 0h15m72 0h15m-280 1h15m32 0h15m13 0h15m163 0h15m102 0h15m16 0h15m-362 1h15m15 0h15m12 0h15m60 0h15m-88 1h15m-15 0h15m15 0h15m29 0h15m187 0h15m-242 1h15m56 0h15m-160 1h15m30 0h15m115 0h15m179 0h15m-372 1h15m24 0h15m62 0h15m272 0h15m65 0h15m-438 1h15m4 0h15m-59 1h15m43 0h15m-2 0h15m-4 0h15m172 0h15m-423 1h15m-5 0h15m321 0h15m-288 1h15m8 0h15m64 0h15m66 0h15m113 0h15m-357 1h15m50 0h15m106 0h15m221 0h15m-459 1h15m-2 0h15m80 0h15m23 0h15m74 0h15m-323 1h15m117 0h15m305 0h15m103 0h15m-435 1h15m92 0h15m196 0h15m-417 1h15m144 0h15m47 0h15m105 0h15m-242 1h15m44 0h15m1 0h15m191 0h15m56 0h15m-435 1h15m227 0h15m-304 1h15m93 0h15m1 0h15m177 0h15m-279 1h15m11 0h15m-10 0h15m61 0h15m64 0h15m55 0h15m-79 1h15m41 0h15m16 0h15m4 0h15m-53 1h15m-15 0h15m48 0h15m-368 2h15m53 0h15m83 0h15m-149 1h15m126 0h15m153 0h15m-363 1h15m-15 0h15m1 0h15m8 0h15m249 0h15m-259 1h15m68 0h15m160 0h15m-76 1h15m176 0h15m41 0h15m-426 1h15m8 1h15m113 0h15m62 0h15m-275 1h15m23 0h15m149 0h15m-2 0h15m-234 1h15m54 0h15m65 0h15m55 0h15m-413 1h15m265 0h15m-10 0h15m6 1h15m41 0h15m-188 1h15m-2 0h15m83 0h15m70 0h15m98 0h15m-163 1h15m-154 1h15m281 0h15m-396 1h15m92 0h15m81 0h15m-289 1h15m74 0h15m184 0h15m264 0h15m37 0h15m-576 1h15m61 0h15m311 0h15m-254 1h15m526 0h15m-632 1h15m-34 1h15m15 0h15m146 0h15m-302 1h15m-14 0h15m278 0h15m255 0h15m-270 1h15m-288 1h15m143 0h15m38 0h15m-168 1h15m82 0h15m4 0h15m15 0h15m182 0h15m-467 1h15m66 0h15m111 0h15m117 0h15m22 0h15m-54 2h15m10 0h15m70 0h15m119 0h15m-488 2h15m46 0h15m35 0h15m-187 1h15m116 0h15m13 0h15m74 0h15m102 1h15m-344 1h15m74 0h15m155 0h15m-150 1h15m43 0h15m107 0h15m48 0h15m-385 1h15m166 0h15m13 0h15m11 0h15m388 0h15m-261 1h15m-103 1h15m168 0h15m-335 1h15m91 1h15m-283 1h15m83 0h15m138 0h15m-231 1h15m94 0h15m272 0h15m-437 1h15m12 2h15m85 0h15m435 0h15m-437 1h15m24 0h15m40 0h15m-295 1h15m76 0h15m712 1h15m-682 2h15m-62 1h15m228 0h15m-233 1h15m177 0h15m174 0h15m-525 2h15m-59 1h15m78 0h15m382 0h15m-352 1h15m154 0h15m155 0h15m-364 2h15m42 1h15m-249 1h15m61 0h15m259 0h15m-286 2h15m35 0h15m6 0h15m64 1h15m152 0h15m-185 2h15m7 0h15m34 2h15m-3 1h15m-155 2h15m195 0h15m-509 2h15m314 0h15m381 0h15m-546 1h15m134 0h15m-26 1h15m-147 1h15m376 1h15m-353 1h15m142 0h15m-149 1h15m-43 1h15m-5 0h15m32 0h15m-56 1h15m24 0h15m-22 4h15m244 0h15m-423 1h15m369 2h15m-143 1h15m824 1h15m-796 1h15m88 0h15m-102 1h15m-71 1h15m255 0h15m-359 1h15m207 0h15m226 0h15m-459 1h15m108 1h15m-126 1h15m50 0h15m161 1h15m-200 1h15m-150 1h15m116 0h15m-299 3h15m453 0h15m-348 1h15m10 0h15m-29 4h15m106 0h15m-6 0h15m-185 3h15m144 0h15m117 1h15m-383 1h15m-116 1h15m478 0h15m-352 2h15m106 0h15m84 1h15m-51 1h15m-75 1h15m284 0h15m-214 1h15m61 1h15m-323 1h15m45 0h15m217 0h15m-324 4h15m112 0h15m-260 1h15m280 0h15m137 1h15m-375 2h15m-3 4h15m381 4h15m-106 2h15m40 0h15m-258 3h15m50 0h15m-275 2h15m184 0h15m215 2h15m-91 1h15m925 3h15m-1092 2h15m71 0h15m90 3h15m73 2h15m-203 1h15m103 1h15m72 0h15m-2 0h15m-180 1h15m45 1h15m-82 3h15m65 0h15m73 2h15m-382 2h15m-1 1h15m148 0h15m108 0h15m-3 2h15m-406 2h15m100 0h15m-7 0h15m207 3h15m-283 1h15m-132 1h15m43 0h15m156 2h15m631 10h15m-680 5h15m89 4h15m148 1h15m522 5h15"/></defs>
<use href="#U80" x="399.4" y="285.1" fill="none" stroke="#222" stroke-width="15"/>
<use href="#U86" x="399.4" y="446.1" fill="none" stroke="#222" stroke-width="15"/>
<use href="#U40" x="399.4" y="607.5" fill="none" stroke="#222" stroke-width="15"/>
<use href="#L80" x="560.3" y="285.1" fill="none" stroke="#222" stroke-width="15"/>
<use href="#L86" x="560.3" y="446.1" fill="none" stroke="#222" stroke-width="15"/>
<use href="#L40" x="560.3" y="607.5" fill="none" stroke="#222" stroke-width="15"/>
<use href="#U80" x="72.8" y="284.3" fill="none" stroke="#222" stroke-width="15"/>
<use href="#L80" x="72.8" y="284.3" fill="none" stroke="#c9202a" stroke-width="15"/>
<use href="#U86" x="72.8" y="445.6" fill="none" stroke="#222" stroke-width="15"/>
<use href="#L86" x="72.8" y="445.6" fill="none" stroke="#c9202a" stroke-width="15"/>
<use href="#U40" x="72.6" y="607.6" fill="none" stroke="#222" stroke-width="15"/>
<use href="#L40" x="72.6" y="607.6" fill="none" stroke="#c9202a" stroke-width="15"/>
<path d="M72.8 405.9h-3.5M72.8 395.2h-1.8M72.8 388.9h-1.8M72.8 384.4h-1.8M72.8 380.9h-1.8M72.8 378.1h-1.8M72.8 375.7h-1.8M72.8 373.7h-1.8M72.8 371.8h-1.8M72.8 370.2h-3.5M72.8 359.5h-1.8M72.8 353.2h-1.8M72.8 348.7h-1.8M72.8 345.2h-1.8M72.8 342.4h-1.8M72.8 340h-1.8M72.8 338h-1.8M72.8 336.1h-1.8M72.8 334.5h-3.5M72.8 323.8h-1.8M72.8 317.5h-1.8M72.8 313h-1.8M72.8 309.5h-1.8M72.8 306.7h-1.8M72.8 304.3h-1.8M72.8 302.3h-1.8M72.8 300.4h-1.8M72.8 298.8h-3.5M72.8 288.1h-1.8M72.8 438.2h-1.8M72.8 434.2h-1.8M72.8 430.2h-1.8M72.8 418.2h-1.8M72.8 413.2h-1.8M72.8 409.2h-1.8M72.8 423.8h-3.5M106.6 440.2v3.2M117.8 440.2v1.8M124.4 440.2v1.8M129.1 440.2v1.8M132.7 440.2v1.8M135.6 440.2v1.8M138.1 440.2v1.8M140.3 440.2v1.8M142.2 440.2v1.8M143.9 440.2v3.2M155.1 440.2v1.8M161.7 440.2v1.8M166.4 440.2v1.8M170 440.2v1.8M172.9 440.2v1.8M175.4 440.2v1.8M177.6 440.2v1.8M179.5 440.2v1.8M181.2 440.2v3.2M192.4 440.2v1.8M199 440.2v1.8M203.7 440.2v1.8M207.3 440.2v1.8M210.2 440.2v1.8M212.7 440.2v1.8M214.9 440.2v1.8M216.8 440.2v1.8M218.5 440.2v3.2M75.8 440.2v1.8M79.8 440.2v1.8M83.8 440.2v1.8M93.8 440.2v1.8M97.8 440.2v1.8M101.8 440.2v1.8" stroke="#4d4d4d" stroke-width="1" fill="none"/>
<rect x="87.5" y="440.2" width="2.6" height="3" fill="#222"/>
<rect x="69.8" y="422.5" width="3" height="2.6" fill="#222"/>
<rect x="72.8" y="284.3" width="156.2" height="155.9" fill="none" stroke="#4d4d4d" stroke-width="1.3"/>
<path d="M72.8 567.7h-3.5M72.8 557h-1.8M72.8 550.7h-1.8M72.8 546.2h-1.8M72.8 542.7h-1.8M72.8 539.9h-1.8M72.8 537.5h-1.8M72.8 535.5h-1.8M72.8 533.6h-1.8M72.8 532h-3.5M72.8 521.3h-1.8M72.8 515h-1.8M72.8 510.5h-1.8M72.8 507h-1.8M72.8 504.2h-1.8M72.8 501.8h-1.8M72.8 499.8h-1.8M72.8 497.9h-1.8M72.8 496.3h-3.5M72.8 485.6h-1.8M72.8 479.3h-1.8M72.8 474.8h-1.8M72.8 471.3h-1.8M72.8 468.5h-1.8M72.8 466.1h-1.8M72.8 464.1h-1.8M72.8 462.2h-1.8M72.8 460.6h-3.5M72.8 449.9h-1.8M72.8 600h-1.8M72.8 596h-1.8M72.8 592h-1.8M72.8 580h-1.8M72.8 575h-1.8M72.8 571h-1.8M72.8 585.6h-3.5M106.6 602v3.2M117.8 602v1.8M124.4 602v1.8M129.1 602v1.8M132.7 602v1.8M135.6 602v1.8M138.1 602v1.8M140.3 602v1.8M142.2 602v1.8M143.9 602v3.2M155.1 602v1.8M161.7 602v1.8M166.4 602v1.8M170 602v1.8M172.9 602v1.8M175.4 602v1.8M177.6 602v1.8M179.5 602v1.8M181.2 602v3.2M192.4 602v1.8M199 602v1.8M203.7 602v1.8M207.3 602v1.8M210.2 602v1.8M212.7 602v1.8M214.9 602v1.8M216.8 602v1.8M218.5 602v3.2M75.8 602v1.8M79.8 602v1.8M83.8 602v1.8M93.8 602v1.8M97.8 602v1.8M101.8 602v1.8" stroke="#4d4d4d" stroke-width="1" fill="none"/>
<rect x="87.5" y="602" width="2.6" height="3" fill="#222"/>
<rect x="69.8" y="584.3" width="3" height="2.6" fill="#222"/>
<rect x="72.8" y="445.6" width="156.2" height="156.4" fill="none" stroke="#4d4d4d" stroke-width="1.3"/>
<path d="M72.6 728.5h-3.5M72.6 717.8h-1.8M72.6 711.5h-1.8M72.6 707h-1.8M72.6 703.5h-1.8M72.6 700.7h-1.8M72.6 698.3h-1.8M72.6 696.3h-1.8M72.6 694.4h-1.8M72.6 692.8h-3.5M72.6 682.1h-1.8M72.6 675.8h-1.8M72.6 671.3h-1.8M72.6 667.8h-1.8M72.6 665h-1.8M72.6 662.6h-1.8M72.6 660.6h-1.8M72.6 658.7h-1.8M72.6 657.1h-3.5M72.6 646.4h-1.8M72.6 640.1h-1.8M72.6 635.6h-1.8M72.6 632.1h-1.8M72.6 629.3h-1.8M72.6 626.9h-1.8M72.6 624.9h-1.8M72.6 623h-1.8M72.6 621.4h-3.5M72.6 610.7h-1.8M72.6 760.8h-1.8M72.6 756.8h-1.8M72.6 752.8h-1.8M72.6 740.8h-1.8M72.6 735.8h-1.8M72.6 731.8h-1.8M72.6 746.4h-3.5M106.4 762.8v3.2M117.6 762.8v1.8M124.2 762.8v1.8M128.9 762.8v1.8M132.5 762.8v1.8M135.4 762.8v1.8M137.9 762.8v1.8M140.1 762.8v1.8M142 762.8v1.8M143.7 762.8v3.2M154.9 762.8v1.8M161.5 762.8v1.8M166.2 762.8v1.8M169.8 762.8v1.8M172.7 762.8v1.8M175.2 762.8v1.8M177.4 762.8v1.8M179.3 762.8v1.8M181 762.8v3.2M192.2 762.8v1.8M198.8 762.8v1.8M203.5 762.8v1.8M207.1 762.8v1.8M210 762.8v1.8M212.5 762.8v1.8M214.7 762.8v1.8M216.6 762.8v1.8M218.3 762.8v3.2M75.6 762.8v1.8M79.6 762.8v1.8M83.6 762.8v1.8M93.6 762.8v1.8M97.6 762.8v1.8M101.6 762.8v1.8" stroke="#4d4d4d" stroke-width="1" fill="none"/>
<rect x="87.3" y="762.8" width="2.6" height="3" fill="#222"/>
<rect x="69.6" y="745.1" width="3" height="2.6" fill="#222"/>
<rect x="72.6" y="607.6" width="156.2" height="155.2" fill="none" stroke="#4d4d4d" stroke-width="1.3"/>
<path d="M399.4 406.6h-3.5M399.4 395.9h-1.8M399.4 389.6h-1.8M399.4 385.1h-1.8M399.4 381.6h-1.8M399.4 378.8h-1.8M399.4 376.4h-1.8M399.4 374.4h-1.8M399.4 372.5h-1.8M399.4 370.9h-3.5M399.4 360.2h-1.8M399.4 353.9h-1.8M399.4 349.4h-1.8M399.4 345.9h-1.8M399.4 343.1h-1.8M399.4 340.7h-1.8M399.4 338.7h-1.8M399.4 336.8h-1.8M399.4 335.2h-3.5M399.4 324.5h-1.8M399.4 318.2h-1.8M399.4 313.7h-1.8M399.4 310.2h-1.8M399.4 307.4h-1.8M399.4 305h-1.8M399.4 303h-1.8M399.4 301.1h-1.8M399.4 299.5h-3.5M399.4 288.8h-1.8M399.4 438.9h-1.8M399.4 434.9h-1.8M399.4 430.9h-1.8M399.4 418.9h-1.8M399.4 413.9h-1.8M399.4 409.9h-1.8M399.4 424.5h-3.5M433.2 440.9v3.2M444.4 440.9v1.8M451 440.9v1.8M455.7 440.9v1.8M459.3 440.9v1.8M462.2 440.9v1.8M464.7 440.9v1.8M466.9 440.9v1.8M468.8 440.9v1.8M470.5 440.9v3.2M481.7 440.9v1.8M488.3 440.9v1.8M493 440.9v1.8M496.6 440.9v1.8M499.5 440.9v1.8M502 440.9v1.8M504.2 440.9v1.8M506.1 440.9v1.8M507.8 440.9v3.2M519 440.9v1.8M525.6 440.9v1.8M530.3 440.9v1.8M533.9 440.9v1.8M536.8 440.9v1.8M539.3 440.9v1.8M541.5 440.9v1.8M543.4 440.9v1.8M545.1 440.9v3.2M402.4 440.9v1.8M406.4 440.9v1.8M410.4 440.9v1.8M420.4 440.9v1.8M424.4 440.9v1.8M428.4 440.9v1.8" stroke="#4d4d4d" stroke-width="1" fill="none"/>
<rect x="414.1" y="440.9" width="2.6" height="3" fill="#222"/>
<rect x="396.4" y="423.2" width="3" height="2.6" fill="#222"/>
<rect x="399.4" y="285.1" width="155.7" height="155.8" fill="none" stroke="#4d4d4d" stroke-width="1.3"/>
<path d="M560.3 406.6h-3.5M560.3 395.9h-1.8M560.3 389.6h-1.8M560.3 385.1h-1.8M560.3 381.6h-1.8M560.3 378.8h-1.8M560.3 376.4h-1.8M560.3 374.4h-1.8M560.3 372.5h-1.8M560.3 370.9h-3.5M560.3 360.2h-1.8M560.3 353.9h-1.8M560.3 349.4h-1.8M560.3 345.9h-1.8M560.3 343.1h-1.8M560.3 340.7h-1.8M560.3 338.7h-1.8M560.3 336.8h-1.8M560.3 335.2h-3.5M560.3 324.5h-1.8M560.3 318.2h-1.8M560.3 313.7h-1.8M560.3 310.2h-1.8M560.3 307.4h-1.8M560.3 305h-1.8M560.3 303h-1.8M560.3 301.1h-1.8M560.3 299.5h-3.5M560.3 288.8h-1.8M560.3 438.9h-1.8M560.3 434.9h-1.8M560.3 430.9h-1.8M560.3 418.9h-1.8M560.3 413.9h-1.8M560.3 409.9h-1.8M560.3 424.5h-3.5M594.1 440.9v3.2M605.3 440.9v1.8M611.9 440.9v1.8M616.6 440.9v1.8M620.2 440.9v1.8M623.1 440.9v1.8M625.6 440.9v1.8M627.8 440.9v1.8M629.7 440.9v1.8M631.4 440.9v3.2M642.6 440.9v1.8M649.2 440.9v1.8M653.9 440.9v1.8M657.5 440.9v1.8M660.4 440.9v1.8M662.9 440.9v1.8M665.1 440.9v1.8M667 440.9v1.8M668.7 440.9v3.2M679.9 440.9v1.8M686.5 440.9v1.8M691.2 440.9v1.8M694.8 440.9v1.8M697.7 440.9v1.8M700.2 440.9v1.8M702.4 440.9v1.8M704.3 440.9v1.8M706 440.9v3.2M563.3 440.9v1.8M567.3 440.9v1.8M571.3 440.9v1.8M581.3 440.9v1.8M585.3 440.9v1.8M589.3 440.9v1.8" stroke="#4d4d4d" stroke-width="1" fill="none"/>
<rect x="575" y="440.9" width="2.6" height="3" fill="#222"/>
<rect x="557.3" y="423.2" width="3" height="2.6" fill="#222"/>
<rect x="560.3" y="285.1" width="156.2" height="155.8" fill="none" stroke="#4d4d4d" stroke-width="1.3"/>
<path d="M399.4 567.7h-3.5M399.4 557h-1.8M399.4 550.7h-1.8M399.4 546.2h-1.8M399.4 542.7h-1.8M399.4 539.9h-1.8M399.4 537.5h-1.8M399.4 535.5h-1.8M399.4 533.6h-1.8M399.4 532h-3.5M399.4 521.3h-1.8M399.4 515h-1.8M399.4 510.5h-1.8M399.4 507h-1.8M399.4 504.2h-1.8M399.4 501.8h-1.8M399.4 499.8h-1.8M399.4 497.9h-1.8M399.4 496.3h-3.5M399.4 485.6h-1.8M399.4 479.3h-1.8M399.4 474.8h-1.8M399.4 471.3h-1.8M399.4 468.5h-1.8M399.4 466.1h-1.8M399.4 464.1h-1.8M399.4 462.2h-1.8M399.4 460.6h-3.5M399.4 449.9h-1.8M399.4 600h-1.8M399.4 596h-1.8M399.4 592h-1.8M399.4 580h-1.8M399.4 575h-1.8M399.4 571h-1.8M399.4 585.6h-3.5M433.2 602v3.2M444.4 602v1.8M451 602v1.8M455.7 602v1.8M459.3 602v1.8M462.2 602v1.8M464.7 602v1.8M466.9 602v1.8M468.8 602v1.8M470.5 602v3.2M481.7 602v1.8M488.3 602v1.8M493 602v1.8M496.6 602v1.8M499.5 602v1.8M502 602v1.8M504.2 602v1.8M506.1 602v1.8M507.8 602v3.2M519 602v1.8M525.6 602v1.8M530.3 602v1.8M533.9 602v1.8M536.8 602v1.8M539.3 602v1.8M541.5 602v1.8M543.4 602v1.8M545.1 602v3.2M402.4 602v1.8M406.4 602v1.8M410.4 602v1.8M420.4 602v1.8M424.4 602v1.8M428.4 602v1.8" stroke="#4d4d4d" stroke-width="1" fill="none"/>
<rect x="414.1" y="602" width="2.6" height="3" fill="#222"/>
<rect x="396.4" y="584.3" width="3" height="2.6" fill="#222"/>
<rect x="399.4" y="446.1" width="155.7" height="155.9" fill="none" stroke="#4d4d4d" stroke-width="1.3"/>
<path d="M560.3 567.7h-3.5M560.3 557h-1.8M560.3 550.7h-1.8M560.3 546.2h-1.8M560.3 542.7h-1.8M560.3 539.9h-1.8M560.3 537.5h-1.8M560.3 535.5h-1.8M560.3 533.6h-1.8M560.3 532h-3.5M560.3 521.3h-1.8M560.3 515h-1.8M560.3 510.5h-1.8M560.3 507h-1.8M560.3 504.2h-1.8M560.3 501.8h-1.8M560.3 499.8h-1.8M560.3 497.9h-1.8M560.3 496.3h-3.5M560.3 485.6h-1.8M560.3 479.3h-1.8M560.3 474.8h-1.8M560.3 471.3h-1.8M560.3 468.5h-1.8M560.3 466.1h-1.8M560.3 464.1h-1.8M560.3 462.2h-1.8M560.3 460.6h-3.5M560.3 449.9h-1.8M560.3 600h-1.8M560.3 596h-1.8M560.3 592h-1.8M560.3 580h-1.8M560.3 575h-1.8M560.3 571h-1.8M560.3 585.6h-3.5M594.1 602v3.2M605.3 602v1.8M611.9 602v1.8M616.6 602v1.8M620.2 602v1.8M623.1 602v1.8M625.6 602v1.8M627.8 602v1.8M629.7 602v1.8M631.4 602v3.2M642.6 602v1.8M649.2 602v1.8M653.9 602v1.8M657.5 602v1.8M660.4 602v1.8M662.9 602v1.8M665.1 602v1.8M667 602v1.8M668.7 602v3.2M679.9 602v1.8M686.5 602v1.8M691.2 602v1.8M694.8 602v1.8M697.7 602v1.8M700.2 602v1.8M702.4 602v1.8M704.3 602v1.8M706 602v3.2M563.3 602v1.8M567.3 602v1.8M571.3 602v1.8M581.3 602v1.8M585.3 602v1.8M589.3 602v1.8" stroke="#4d4d4d" stroke-width="1" fill="none"/>
<rect x="575" y="602" width="2.6" height="3" fill="#222"/>
<rect x="557.3" y="584.3" width="3" height="2.6" fill="#222"/>
<rect x="560.3" y="446.1" width="156.2" height="155.9" fill="none" stroke="#4d4d4d" stroke-width="1.3"/>
<path d="M399.4 728.9h-3.5M399.4 718.2h-1.8M399.4 711.9h-1.8M399.4 707.4h-1.8M399.4 703.9h-1.8M399.4 701.1h-1.8M399.4 698.7h-1.8M399.4 696.7h-1.8M399.4 694.8h-1.8M399.4 693.2h-3.5M399.4 682.5h-1.8M399.4 676.2h-1.8M399.4 671.7h-1.8M399.4 668.2h-1.8M399.4 665.4h-1.8M399.4 663h-1.8M399.4 661h-1.8M399.4 659.1h-1.8M399.4 657.5h-3.5M399.4 646.8h-1.8M399.4 640.5h-1.8M399.4 636h-1.8M399.4 632.5h-1.8M399.4 629.7h-1.8M399.4 627.3h-1.8M399.4 625.3h-1.8M399.4 623.4h-1.8M399.4 621.8h-3.5M399.4 611.1h-1.8M399.4 761.2h-1.8M399.4 757.2h-1.8M399.4 753.2h-1.8M399.4 741.2h-1.8M399.4 736.2h-1.8M399.4 732.2h-1.8M399.4 746.8h-3.5M433.2 763.2v3.2M444.4 763.2v1.8M451 763.2v1.8M455.7 763.2v1.8M459.3 763.2v1.8M462.2 763.2v1.8M464.7 763.2v1.8M466.9 763.2v1.8M468.8 763.2v1.8M470.5 763.2v3.2M481.7 763.2v1.8M488.3 763.2v1.8M493 763.2v1.8M496.6 763.2v1.8M499.5 763.2v1.8M502 763.2v1.8M504.2 763.2v1.8M506.1 763.2v1.8M507.8 763.2v3.2M519 763.2v1.8M525.6 763.2v1.8M530.3 763.2v1.8M533.9 763.2v1.8M536.8 763.2v1.8M539.3 763.2v1.8M541.5 763.2v1.8M543.4 763.2v1.8M545.1 763.2v3.2M402.4 763.2v1.8M406.4 763.2v1.8M410.4 763.2v1.8M420.4 763.2v1.8M424.4 763.2v1.8M428.4 763.2v1.8" stroke="#4d4d4d" stroke-width="1" fill="none"/>
<rect x="414.1" y="763.2" width="2.6" height="3" fill="#222"/>
<rect x="396.4" y="745.5" width="3" height="2.6" fill="#222"/>
<rect x="399.4" y="607.5" width="155.7" height="155.7" fill="none" stroke="#4d4d4d" stroke-width="1.3"/>
<path d="M560.3 728.9h-3.5M560.3 718.2h-1.8M560.3 711.9h-1.8M560.3 707.4h-1.8M560.3 703.9h-1.8M560.3 701.1h-1.8M560.3 698.7h-1.8M560.3 696.7h-1.8M560.3 694.8h-1.8M560.3 693.2h-3.5M560.3 682.5h-1.8M560.3 676.2h-1.8M560.3 671.7h-1.8M560.3 668.2h-1.8M560.3 665.4h-1.8M560.3 663h-1.8M560.3 661h-1.8M560.3 659.1h-1.8M560.3 657.5h-3.5M560.3 646.8h-1.8M560.3 640.5h-1.8M560.3 636h-1.8M560.3 632.5h-1.8M560.3 629.7h-1.8M560.3 627.3h-1.8M560.3 625.3h-1.8M560.3 623.4h-1.8M560.3 621.8h-3.5M560.3 611.1h-1.8M560.3 761.2h-1.8M560.3 757.2h-1.8M560.3 753.2h-1.8M560.3 741.2h-1.8M560.3 736.2h-1.8M560.3 732.2h-1.8M560.3 746.8h-3.5M594.1 763.2v3.2M605.3 763.2v1.8M611.9 763.2v1.8M616.6 763.2v1.8M620.2 763.2v1.8M623.1 763.2v1.8M625.6 763.2v1.8M627.8 763.2v1.8M629.7 763.2v1.8M631.4 763.2v3.2M642.6 763.2v1.8M649.2 763.2v1.8M653.9 763.2v1.8M657.5 763.2v1.8M660.4 763.2v1.8M662.9 763.2v1.8M665.1 763.2v1.8M667 763.2v1.8M668.7 763.2v3.2M679.9 763.2v1.8M686.5 763.2v1.8M691.2 763.2v1.8M694.8 763.2v1.8M697.7 763.2v1.8M700.2 763.2v1.8M702.4 763.2v1.8M704.3 763.2v1.8M706 763.2v3.2M563.3 763.2v1.8M567.3 763.2v1.8M571.3 763.2v1.8M581.3 763.2v1.8M585.3 763.2v1.8M589.3 763.2v1.8" stroke="#4d4d4d" stroke-width="1" fill="none"/>
<rect x="575" y="763.2" width="2.6" height="3" fill="#222"/>
<rect x="557.3" y="745.5" width="3" height="2.6" fill="#222"/>
<rect x="560.3" y="607.5" width="156.2" height="155.7" fill="none" stroke="#4d4d4d" stroke-width="1.3"/>
<path d="M173 304.6L220.8 304.6L220.8 368.5L197.1 368.5L173 331.8Z" fill="none" stroke="#8683cc" stroke-width="1.6"/>
<path d="M176.8 468.7L220.9 468.7L220.9 547.9L199.5 547.9L176.8 523Z" fill="none" stroke="#8683cc" stroke-width="1.6"/>
<path d="M168.5 636L220.7 636L220.7 716.6L189.8 716.6L168.5 696.4Z" fill="none" stroke="#8683cc" stroke-width="1.6"/>
<path d="M499.6 305.4L547.4 305.4L547.4 369.3L523.7 369.3L499.6 332.6Z" fill="none" stroke="#8683cc" stroke-width="1.6"/>
<path d="M660.5 305.4L708.3 305.4L708.3 369.3L684.6 369.3L660.5 332.6Z" fill="none" stroke="#8683cc" stroke-width="1.6"/>
<path d="M503.4 469.2L547.5 469.2L547.5 548.4L526.1 548.4L503.4 523.5Z" fill="none" stroke="#8683cc" stroke-width="1.6"/>
<path d="M664.3 469.2L708.4 469.2L708.4 548.4L687 548.4L664.3 523.5Z" fill="none" stroke="#8683cc" stroke-width="1.6"/>
<path d="M495.3 635.9L547.5 635.9L547.5 716.5L516.6 716.5L495.3 696.3Z" fill="none" stroke="#8683cc" stroke-width="1.6"/>
<path d="M656.2 635.9L708.4 635.9L708.4 716.5L677.5 716.5L656.2 696.3Z" fill="none" stroke="#8683cc" stroke-width="1.6"/>
<text x="78" y="299.1" font-size="14.8" fill="#c21d29" textLength="43.5" lengthAdjust="spacingAndGlyphs" font-weight="bold" stroke="#c21d29" stroke-width="0.4">24.7%</text>
<text x="78" y="313.1" font-size="14.8" fill="#141418" textLength="43.5" lengthAdjust="spacingAndGlyphs" font-weight="bold" stroke="#141418" stroke-width="0.4">8.41%</text>
<text x="80.5" y="463.8" font-size="14.8" fill="#c21d29" textLength="43.5" lengthAdjust="spacingAndGlyphs" font-weight="bold" stroke="#c21d29" stroke-width="0.4">23.3%</text>
<text x="80.5" y="477.8" font-size="14.8" fill="#141418" textLength="43.5" lengthAdjust="spacingAndGlyphs" font-weight="bold" stroke="#141418" stroke-width="0.4">7.25%</text>
<text x="80.5" y="624.3" font-size="14.8" fill="#c21d29" textLength="43.5" lengthAdjust="spacingAndGlyphs" font-weight="bold" stroke="#c21d29" stroke-width="0.4">26.8%</text>
<text x="80.5" y="638.3" font-size="14.8" fill="#141418" textLength="43.5" lengthAdjust="spacingAndGlyphs" font-weight="bold" stroke="#141418" stroke-width="0.4">6.13%</text>
<text x="234.9" y="297.4" font-size="19" fill="#141418" textLength="70" lengthAdjust="spacingAndGlyphs" font-weight="bold" stroke="#141418" stroke-width="0.4">Unstim.</text>
<text x="234.9" y="318.8" font-size="18.5" fill="#c21d29" textLength="40.3" lengthAdjust="spacingAndGlyphs" font-weight="bold" stroke="#c21d29" stroke-width="0.4">+LPS</text>
<text x="65.8" y="438.7" font-size="19" fill="#141418" textLength="47.7" lengthAdjust="spacingAndGlyphs" transform="rotate(-90 65.8 438.7)" stroke="#141418" stroke-width="0.35">CD80</text>
<line x1="59.3" y1="383" x2="59.3" y2="291" stroke="#111" stroke-width="1.3"/>
<path d="M59.3 285L55.8 292L62.8 292Z" fill="#111"/>
<text x="66" y="601.2" font-size="19" fill="#141418" textLength="46" lengthAdjust="spacingAndGlyphs" transform="rotate(-90 66 601.2)" stroke="#141418" stroke-width="0.35">CD86</text>
<line x1="59.5" y1="546" x2="59.5" y2="455" stroke="#111" stroke-width="1.3"/>
<path d="M59.5 449L56 456L63 456Z" fill="#111"/>
<text x="66" y="762.3" font-size="19" fill="#141418" textLength="46" lengthAdjust="spacingAndGlyphs" transform="rotate(-90 66 762.3)" stroke="#141418" stroke-width="0.35">CD40</text>
<line x1="59.5" y1="706.5" x2="59.5" y2="617" stroke="#111" stroke-width="1.3"/>
<path d="M59.5 611L56 618L63 618Z" fill="#111"/>
<text x="73.3" y="785.6" font-size="18.5" fill="#141418" textLength="60" lengthAdjust="spacingAndGlyphs" stroke="#141418" stroke-width="0.35">MHC-II</text>
<line x1="139" y1="779.9" x2="222.6" y2="779.9" stroke="#111" stroke-width="1.3"/>
<path d="M228.6 779.9L221.6 776.4L221.6 783.4Z" fill="#111"/>
<text x="442.2" y="280" font-size="19" fill="#141418" textLength="70.8" lengthAdjust="spacingAndGlyphs" font-weight="bold" stroke="#141418" stroke-width="0.4">Unstim.</text>
<text x="617.3" y="280.4" font-size="19" fill="#141418" textLength="41.3" lengthAdjust="spacingAndGlyphs" font-weight="bold" stroke="#141418" stroke-width="0.4">+LPS</text>
<text x="547" y="303.8" font-size="14.8" fill="#141418" text-anchor="end" textLength="44" lengthAdjust="spacingAndGlyphs" font-weight="bold" stroke="#141418" stroke-width="0.4">8.41%</text>
<text x="707.7" y="303.8" font-size="14.8" fill="#141418" text-anchor="end" textLength="44" lengthAdjust="spacingAndGlyphs" font-weight="bold" stroke="#141418" stroke-width="0.4">24.7%</text>
<text x="547.2" y="467.4" font-size="14.8" fill="#141418" text-anchor="end" textLength="44" lengthAdjust="spacingAndGlyphs" font-weight="bold" stroke="#141418" stroke-width="0.4">7.25%</text>
<text x="708.5" y="467.4" font-size="14.8" fill="#141418" text-anchor="end" textLength="44" lengthAdjust="spacingAndGlyphs" font-weight="bold" stroke="#141418" stroke-width="0.4">23.3%</text>
<text x="544.6" y="632.8" font-size="14.8" fill="#141418" text-anchor="end" textLength="44" lengthAdjust="spacingAndGlyphs" font-weight="bold" stroke="#141418" stroke-width="0.4">6.13%</text>
<text x="708.9" y="632.8" font-size="14.8" fill="#141418" text-anchor="end" textLength="44" lengthAdjust="spacingAndGlyphs" font-weight="bold" stroke="#141418" stroke-width="0.4">26.8%</text>
<text x="392.6" y="436" font-size="19" fill="#141418" textLength="46" lengthAdjust="spacingAndGlyphs" transform="rotate(-90 392.6 436)" stroke="#141418" stroke-width="0.35">CD80</text>
<line x1="386.6" y1="384" x2="386.6" y2="292" stroke="#111" stroke-width="1.3"/>
<path d="M386.6 286L383.1 293L390.1 293Z" fill="#111"/>
<text x="392.6" y="601.5" font-size="19" fill="#141418" textLength="46" lengthAdjust="spacingAndGlyphs" transform="rotate(-90 392.6 601.5)" stroke="#141418" stroke-width="0.35">CD86</text>
<line x1="386.6" y1="546" x2="386.6" y2="455.5" stroke="#111" stroke-width="1.3"/>
<path d="M386.6 449.5L383.1 456.5L390.1 456.5Z" fill="#111"/>
<text x="392.6" y="762.5" font-size="19" fill="#141418" textLength="46" lengthAdjust="spacingAndGlyphs" transform="rotate(-90 392.6 762.5)" stroke="#141418" stroke-width="0.35">CD40</text>
<line x1="386.6" y1="707" x2="386.6" y2="617" stroke="#111" stroke-width="1.3"/>
<path d="M386.6 611L383.1 618L390.1 618Z" fill="#111"/>
<text x="400" y="785.3" font-size="18.5" fill="#141418" textLength="60" lengthAdjust="spacingAndGlyphs" stroke="#141418" stroke-width="0.35">MHC-II</text>
<line x1="467.4" y1="779.5" x2="710.8" y2="779.5" stroke="#111" stroke-width="1.3"/>
<path d="M716.8 779.5L709.8 776L709.8 783Z" fill="#111"/>
</svg>
</body></html>
